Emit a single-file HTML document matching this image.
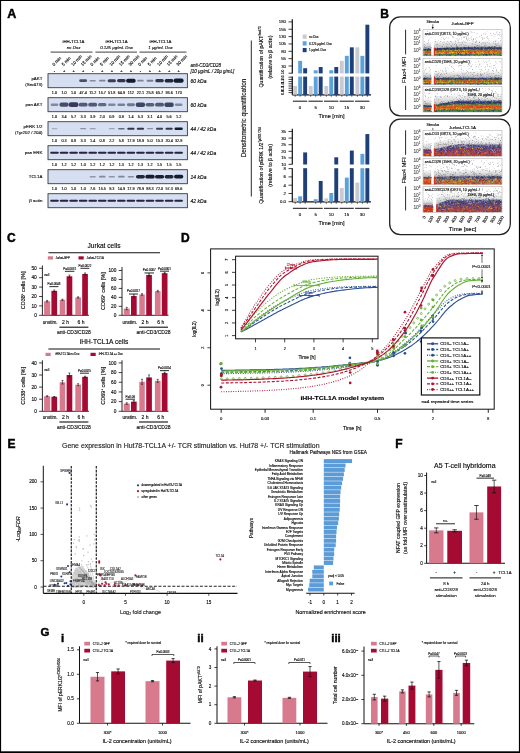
<!DOCTYPE html>
<html><head><meta charset="utf-8"><style>
html,body{margin:0;padding:0;background:#fff;}
body{width:520px;height:753px;overflow:hidden;}
svg{display:block;font-family:"Liberation Sans",sans-serif;will-change:transform;}
</style></head><body>
<svg width="520" height="753" viewBox="0 0 520 753">
<rect x="0" y="0" width="520" height="753" fill="#fff"/>
<filter id="bl" x="-20%" y="-50%" width="140%" height="200%"><feGaussianBlur stdDeviation="0.45"/></filter>
<text x="7.30" y="18.20" font-size="12.5" font-weight="bold" fill="#000" stroke="#000" stroke-width="0.45">A</text>
<text x="73.50" y="43.40" font-size="4.3" text-anchor="middle" stroke="#111" stroke-width="0.13">iHH-TCL1A</text>
<text x="73.50" y="49.20" font-size="4.3" text-anchor="middle" font-style="italic" stroke="#111" stroke-width="0.13">no Dox</text>
<line x1="50.60" y1="52.10" x2="92.50" y2="52.10" stroke="#666" stroke-width="1.2"/>
<text x="116.60" y="43.40" font-size="4.3" text-anchor="middle" stroke="#111" stroke-width="0.13">iHH-TCL1A</text>
<text x="116.60" y="49.20" font-size="4.3" text-anchor="middle" font-style="italic" stroke="#111" stroke-width="0.13">0.125 µg/mL Dox</text>
<line x1="95.40" y1="52.10" x2="136.90" y2="52.10" stroke="#666" stroke-width="1.2"/>
<text x="160.50" y="43.40" font-size="4.3" text-anchor="middle" stroke="#111" stroke-width="0.13">iHH-TCL1A</text>
<text x="160.50" y="49.20" font-size="4.3" text-anchor="middle" font-style="italic" stroke="#111" stroke-width="0.13">1 µg/mL Dox</text>
<line x1="139.50" y1="52.10" x2="186.50" y2="52.10" stroke="#666" stroke-width="1.2"/>
<text x="53.90" y="66.20" font-size="4.4" stroke="#111" stroke-width="0.13" transform="rotate(-45 53.9 66.2)">0 min</text>
<text x="54.50" y="72.00" font-size="4.0" text-anchor="middle" stroke="#111" stroke-width="0.13">-</text>
<text x="63.45" y="66.20" font-size="4.4" stroke="#111" stroke-width="0.13" transform="rotate(-45 63.449999999999996 66.2)">5 min</text>
<text x="64.05" y="72.00" font-size="4.0" text-anchor="middle" stroke="#111" stroke-width="0.13">+</text>
<text x="73.00" y="66.20" font-size="4.4" stroke="#111" stroke-width="0.13" transform="rotate(-45 73.0 66.2)">10 min</text>
<text x="73.60" y="72.00" font-size="4.0" text-anchor="middle" stroke="#111" stroke-width="0.13">+</text>
<text x="82.55" y="66.20" font-size="4.4" stroke="#111" stroke-width="0.13" transform="rotate(-45 82.55000000000001 66.2)">15 min</text>
<text x="83.15" y="72.00" font-size="4.0" text-anchor="middle" stroke="#111" stroke-width="0.13">+</text>
<text x="92.10" y="66.20" font-size="4.4" stroke="#111" stroke-width="0.13" transform="rotate(-45 92.10000000000001 66.2)">0 min</text>
<text x="92.70" y="72.00" font-size="4.0" text-anchor="middle" stroke="#111" stroke-width="0.13">-</text>
<text x="101.65" y="66.20" font-size="4.4" stroke="#111" stroke-width="0.13" transform="rotate(-45 101.65 66.2)">5 min</text>
<text x="102.25" y="72.00" font-size="4.0" text-anchor="middle" stroke="#111" stroke-width="0.13">+</text>
<text x="111.20" y="66.20" font-size="4.4" stroke="#111" stroke-width="0.13" transform="rotate(-45 111.20000000000002 66.2)">10 min</text>
<text x="111.80" y="72.00" font-size="4.0" text-anchor="middle" stroke="#111" stroke-width="0.13">+</text>
<text x="120.75" y="66.20" font-size="4.4" stroke="#111" stroke-width="0.13" transform="rotate(-45 120.75000000000001 66.2)">15 min</text>
<text x="121.35" y="72.00" font-size="4.0" text-anchor="middle" stroke="#111" stroke-width="0.13">+</text>
<text x="130.30" y="66.20" font-size="4.4" stroke="#111" stroke-width="0.13" transform="rotate(-45 130.3 66.2)">30 min</text>
<text x="130.90" y="72.00" font-size="4.0" text-anchor="middle" stroke="#111" stroke-width="0.13">+</text>
<text x="139.85" y="66.20" font-size="4.4" stroke="#111" stroke-width="0.13" transform="rotate(-45 139.85 66.2)">0 min</text>
<text x="140.45" y="72.00" font-size="4.0" text-anchor="middle" stroke="#111" stroke-width="0.13">-</text>
<text x="149.40" y="66.20" font-size="4.4" stroke="#111" stroke-width="0.13" transform="rotate(-45 149.4 66.2)">5 min</text>
<text x="150.00" y="72.00" font-size="4.0" text-anchor="middle" stroke="#111" stroke-width="0.13">+</text>
<text x="158.95" y="66.20" font-size="4.4" stroke="#111" stroke-width="0.13" transform="rotate(-45 158.95000000000002 66.2)">10 min</text>
<text x="159.55" y="72.00" font-size="4.0" text-anchor="middle" stroke="#111" stroke-width="0.13">+</text>
<text x="168.50" y="66.20" font-size="4.4" stroke="#111" stroke-width="0.13" transform="rotate(-45 168.50000000000003 66.2)">15 min</text>
<text x="169.10" y="72.00" font-size="4.0" text-anchor="middle" stroke="#111" stroke-width="0.13">+</text>
<text x="178.05" y="66.20" font-size="4.4" stroke="#111" stroke-width="0.13" transform="rotate(-45 178.05 66.2)">30 min</text>
<text x="178.65" y="72.00" font-size="4.0" text-anchor="middle" stroke="#111" stroke-width="0.13">+</text>
<text x="190.40" y="67.00" font-size="4.5" font-style="italic" stroke="#111" stroke-width="0.13">anti-CD3/CD28</text>
<text x="190.40" y="72.80" font-size="4.5" font-style="italic" stroke="#111" stroke-width="0.13">[10 µg/mL / 20µ g/mL]</text>
<rect x="48.00" y="73.70" width="139.40" height="14.00" fill="#d6def2" stroke="#3a3a3a" stroke-width="0.9"/>
<rect x="79.23" y="79.35" width="7.84" height="2.70" rx="1.35" fill="#161a2c" fill-opacity="0.72" filter="url(#bl)"/>
<rect x="89.55" y="79.88" width="6.30" height="1.65" rx="0.82" fill="#161a2c" fill-opacity="0.41" filter="url(#bl)"/>
<rect x="98.99" y="79.80" width="6.52" height="1.80" rx="0.90" fill="#161a2c" fill-opacity="0.45" filter="url(#bl)"/>
<rect x="107.66" y="79.20" width="8.28" height="3.00" rx="1.50" fill="#161a2c" fill-opacity="0.81" filter="url(#bl)"/>
<rect x="117.10" y="79.12" width="8.50" height="3.15" rx="1.57" fill="#161a2c" fill-opacity="0.85" filter="url(#bl)"/>
<rect x="126.10" y="78.75" width="9.60" height="3.90" rx="1.95" fill="#161a2c" fill-opacity="1.00" filter="url(#bl)"/>
<rect x="137.19" y="79.80" width="6.52" height="1.80" rx="0.90" fill="#161a2c" fill-opacity="0.45" filter="url(#bl)"/>
<rect x="146.63" y="79.73" width="6.74" height="1.95" rx="0.97" fill="#161a2c" fill-opacity="0.49" filter="url(#bl)"/>
<rect x="155.30" y="79.12" width="8.50" height="3.15" rx="1.57" fill="#161a2c" fill-opacity="0.85" filter="url(#bl)"/>
<rect x="164.63" y="78.98" width="8.94" height="3.45" rx="1.72" fill="#161a2c" fill-opacity="0.95" filter="url(#bl)"/>
<rect x="173.63" y="78.60" width="10.04" height="4.20" rx="2.10" fill="#161a2c" fill-opacity="1.00" filter="url(#bl)"/>
<text x="42.40" y="79.90" font-size="4.4" text-anchor="end" stroke="#111" stroke-width="0.13">pAKT</text>
<text x="42.40" y="85.60" font-size="4.4" text-anchor="end" stroke="#111" stroke-width="0.13">(Ser473)</text>
<text x="190.60" y="82.50" font-size="5.0" font-style="italic" stroke="#111" stroke-width="0.13">60 kDa</text>
<text x="54.50" y="93.90" font-size="3.8" text-anchor="middle" stroke="#111" stroke-width="0.13">1.0</text>
<text x="64.05" y="93.90" font-size="3.8" text-anchor="middle" stroke="#111" stroke-width="0.13">1.0</text>
<text x="73.60" y="93.90" font-size="3.8" text-anchor="middle" stroke="#111" stroke-width="0.13">1.0</text>
<text x="83.15" y="93.90" font-size="3.8" text-anchor="middle" stroke="#111" stroke-width="0.13">47.4</text>
<text x="92.70" y="93.90" font-size="3.8" text-anchor="middle" stroke="#111" stroke-width="0.13">11.2</text>
<text x="102.25" y="93.90" font-size="3.8" text-anchor="middle" stroke="#111" stroke-width="0.13">15.7</text>
<text x="111.80" y="93.90" font-size="3.8" text-anchor="middle" stroke="#111" stroke-width="0.13">51.8</text>
<text x="121.35" y="93.90" font-size="3.8" text-anchor="middle" stroke="#111" stroke-width="0.13">64.9</text>
<text x="130.90" y="93.90" font-size="3.8" text-anchor="middle" stroke="#111" stroke-width="0.13">112</text>
<text x="140.45" y="93.90" font-size="3.8" text-anchor="middle" stroke="#111" stroke-width="0.13">22.1</text>
<text x="150.00" y="93.90" font-size="3.8" text-anchor="middle" stroke="#111" stroke-width="0.13">25.8</text>
<text x="159.55" y="93.90" font-size="3.8" text-anchor="middle" stroke="#111" stroke-width="0.13">65.7</text>
<text x="169.10" y="93.90" font-size="3.8" text-anchor="middle" stroke="#111" stroke-width="0.13">93.6</text>
<text x="178.65" y="93.90" font-size="3.8" text-anchor="middle" stroke="#111" stroke-width="0.13">170</text>
<rect x="48.00" y="97.70" width="139.40" height="14.00" fill="#d6def2" stroke="#3a3a3a" stroke-width="0.9"/>
<rect x="50.73" y="103.51" width="7.55" height="2.38" rx="1.19" fill="#262c48" fill-opacity="0.49" filter="url(#bl)"/>
<rect x="59.40" y="102.61" width="9.30" height="4.18" rx="2.09" fill="#262c48" fill-opacity="0.82" filter="url(#bl)"/>
<rect x="68.69" y="102.34" width="9.82" height="4.72" rx="2.36" fill="#262c48" fill-opacity="0.92" filter="url(#bl)"/>
<rect x="78.68" y="102.79" width="8.95" height="3.82" rx="1.91" fill="#262c48" fill-opacity="0.75" filter="url(#bl)"/>
<rect x="88.23" y="102.79" width="8.95" height="3.82" rx="1.91" fill="#262c48" fill-opacity="0.75" filter="url(#bl)"/>
<rect x="98.04" y="103.06" width="8.43" height="3.28" rx="1.64" fill="#262c48" fill-opacity="0.66" filter="url(#bl)"/>
<rect x="108.03" y="103.51" width="7.55" height="2.38" rx="1.19" fill="#262c48" fill-opacity="0.49" filter="url(#bl)"/>
<rect x="117.49" y="103.42" width="7.72" height="2.56" rx="1.28" fill="#262c48" fill-opacity="0.53" filter="url(#bl)"/>
<rect x="126.86" y="103.24" width="8.07" height="2.92" rx="1.46" fill="#262c48" fill-opacity="0.59" filter="url(#bl)"/>
<rect x="135.71" y="102.52" width="9.47" height="4.36" rx="2.18" fill="#262c48" fill-opacity="0.85" filter="url(#bl)"/>
<rect x="145.61" y="102.88" width="8.78" height="3.64" rx="1.82" fill="#262c48" fill-opacity="0.72" filter="url(#bl)"/>
<rect x="155.08" y="102.79" width="8.95" height="3.82" rx="1.91" fill="#262c48" fill-opacity="0.75" filter="url(#bl)"/>
<rect x="164.36" y="102.52" width="9.47" height="4.36" rx="2.18" fill="#262c48" fill-opacity="0.85" filter="url(#bl)"/>
<rect x="174.88" y="103.51" width="7.55" height="2.38" rx="1.19" fill="#262c48" fill-opacity="0.49" filter="url(#bl)"/>
<text x="42.40" y="106.30" font-size="4.4" text-anchor="end" stroke="#111" stroke-width="0.13">pan AKT</text>
<text x="190.60" y="106.50" font-size="5.0" font-style="italic" stroke="#111" stroke-width="0.13">60 kDa</text>
<text x="54.50" y="117.90" font-size="3.8" text-anchor="middle" stroke="#111" stroke-width="0.13">1.0</text>
<text x="64.05" y="117.90" font-size="3.8" text-anchor="middle" stroke="#111" stroke-width="0.13">3.4</text>
<text x="73.60" y="117.90" font-size="3.8" text-anchor="middle" stroke="#111" stroke-width="0.13">5.7</text>
<text x="83.15" y="117.90" font-size="3.8" text-anchor="middle" stroke="#111" stroke-width="0.13">3.3</text>
<text x="92.70" y="117.90" font-size="3.8" text-anchor="middle" stroke="#111" stroke-width="0.13">3.9</text>
<text x="102.25" y="117.90" font-size="3.8" text-anchor="middle" stroke="#111" stroke-width="0.13">2.0</text>
<text x="111.80" y="117.90" font-size="3.8" text-anchor="middle" stroke="#111" stroke-width="0.13">0.9</text>
<text x="121.35" y="117.90" font-size="3.8" text-anchor="middle" stroke="#111" stroke-width="0.13">0.9</text>
<text x="130.90" y="117.90" font-size="3.8" text-anchor="middle" stroke="#111" stroke-width="0.13">1.4</text>
<text x="140.45" y="117.90" font-size="3.8" text-anchor="middle" stroke="#111" stroke-width="0.13">5.3</text>
<text x="150.00" y="117.90" font-size="3.8" text-anchor="middle" stroke="#111" stroke-width="0.13">3.1</text>
<text x="159.55" y="117.90" font-size="3.8" text-anchor="middle" stroke="#111" stroke-width="0.13">4.0</text>
<text x="169.10" y="117.90" font-size="3.8" text-anchor="middle" stroke="#111" stroke-width="0.13">5.6</text>
<text x="178.65" y="117.90" font-size="3.8" text-anchor="middle" stroke="#111" stroke-width="0.13">1.2</text>
<rect x="48.00" y="121.70" width="139.40" height="14.00" fill="#d6def2" stroke="#3a3a3a" stroke-width="0.9"/>
<rect x="51.65" y="128.14" width="5.71" height="1.12" rx="0.56" fill="#161a2c" fill-opacity="0.28" filter="url(#bl)"/>
<rect x="80.16" y="128.06" width="5.99" height="1.28" rx="0.64" fill="#161a2c" fill-opacity="0.38" filter="url(#bl)"/>
<rect x="89.78" y="128.10" width="5.85" height="1.20" rx="0.60" fill="#161a2c" fill-opacity="0.33" filter="url(#bl)"/>
<rect x="108.91" y="128.12" width="5.78" height="1.16" rx="0.58" fill="#161a2c" fill-opacity="0.30" filter="url(#bl)"/>
<rect x="118.08" y="127.90" width="6.55" height="1.60" rx="0.80" fill="#161a2c" fill-opacity="0.59" filter="url(#bl)"/>
<rect x="127.28" y="127.70" width="7.25" height="2.00" rx="1.00" fill="#161a2c" fill-opacity="0.85" filter="url(#bl)"/>
<rect x="136.82" y="127.70" width="7.25" height="2.00" rx="1.00" fill="#161a2c" fill-opacity="0.85" filter="url(#bl)"/>
<rect x="146.99" y="128.05" width="6.03" height="1.30" rx="0.65" fill="#161a2c" fill-opacity="0.40" filter="url(#bl)"/>
<rect x="156.01" y="127.75" width="7.08" height="1.90" rx="0.95" fill="#161a2c" fill-opacity="0.79" filter="url(#bl)"/>
<rect x="165.48" y="127.70" width="7.25" height="2.00" rx="1.00" fill="#161a2c" fill-opacity="0.85" filter="url(#bl)"/>
<rect x="174.50" y="127.40" width="8.30" height="2.60" rx="1.30" fill="#161a2c" fill-opacity="1.00" filter="url(#bl)"/>
<text x="42.40" y="127.90" font-size="4.4" text-anchor="end" stroke="#111" stroke-width="0.13">pERK 1/2</text>
<text x="42.40" y="133.60" font-size="4.4" text-anchor="end" stroke="#111" stroke-width="0.13">(Tyr202 / 204)</text>
<text x="190.60" y="130.50" font-size="5.0" font-style="italic" stroke="#111" stroke-width="0.13">44 / 42 kDa</text>
<text x="54.50" y="141.90" font-size="3.8" text-anchor="middle" stroke="#111" stroke-width="0.13">1.0</text>
<text x="64.05" y="141.90" font-size="3.8" text-anchor="middle" stroke="#111" stroke-width="0.13">0.3</text>
<text x="73.60" y="141.90" font-size="3.8" text-anchor="middle" stroke="#111" stroke-width="0.13">0.8</text>
<text x="83.15" y="141.90" font-size="3.8" text-anchor="middle" stroke="#111" stroke-width="0.13">3.3</text>
<text x="92.70" y="141.90" font-size="3.8" text-anchor="middle" stroke="#111" stroke-width="0.13">1.4</text>
<text x="102.25" y="141.90" font-size="3.8" text-anchor="middle" stroke="#111" stroke-width="0.13">0.8</text>
<text x="111.80" y="141.90" font-size="3.8" text-anchor="middle" stroke="#111" stroke-width="0.13">2.2</text>
<text x="121.35" y="141.90" font-size="3.8" text-anchor="middle" stroke="#111" stroke-width="0.13">5.8</text>
<text x="130.90" y="141.90" font-size="3.8" text-anchor="middle" stroke="#111" stroke-width="0.13">17.9</text>
<text x="140.45" y="141.90" font-size="3.8" text-anchor="middle" stroke="#111" stroke-width="0.13">18.9</text>
<text x="150.00" y="141.90" font-size="3.8" text-anchor="middle" stroke="#111" stroke-width="0.13">5.0</text>
<text x="159.55" y="141.90" font-size="3.8" text-anchor="middle" stroke="#111" stroke-width="0.13">15.3</text>
<text x="169.10" y="141.90" font-size="3.8" text-anchor="middle" stroke="#111" stroke-width="0.13">20.4</text>
<text x="178.65" y="141.90" font-size="3.8" text-anchor="middle" stroke="#111" stroke-width="0.13">32.9</text>
<rect x="48.00" y="145.70" width="139.40" height="14.00" fill="#d6def2" stroke="#3a3a3a" stroke-width="0.9"/>
<rect x="50.20" y="151.65" width="8.60" height="2.10" rx="1.05" fill="#14172a" fill-opacity="0.92" filter="url(#bl)"/>
<rect x="59.75" y="151.65" width="8.60" height="2.10" rx="1.05" fill="#14172a" fill-opacity="0.92" filter="url(#bl)"/>
<rect x="69.30" y="151.65" width="8.60" height="2.10" rx="1.05" fill="#14172a" fill-opacity="0.92" filter="url(#bl)"/>
<rect x="78.85" y="151.65" width="8.60" height="2.10" rx="1.05" fill="#14172a" fill-opacity="0.92" filter="url(#bl)"/>
<rect x="88.40" y="151.65" width="8.60" height="2.10" rx="1.05" fill="#14172a" fill-opacity="0.92" filter="url(#bl)"/>
<rect x="97.95" y="151.65" width="8.60" height="2.10" rx="1.05" fill="#14172a" fill-opacity="0.92" filter="url(#bl)"/>
<rect x="107.50" y="151.65" width="8.60" height="2.10" rx="1.05" fill="#14172a" fill-opacity="0.92" filter="url(#bl)"/>
<rect x="117.05" y="151.65" width="8.60" height="2.10" rx="1.05" fill="#14172a" fill-opacity="0.92" filter="url(#bl)"/>
<rect x="126.60" y="151.65" width="8.60" height="2.10" rx="1.05" fill="#14172a" fill-opacity="0.92" filter="url(#bl)"/>
<rect x="136.15" y="151.65" width="8.60" height="2.10" rx="1.05" fill="#14172a" fill-opacity="0.92" filter="url(#bl)"/>
<rect x="145.70" y="151.65" width="8.60" height="2.10" rx="1.05" fill="#14172a" fill-opacity="0.92" filter="url(#bl)"/>
<rect x="155.25" y="151.65" width="8.60" height="2.10" rx="1.05" fill="#14172a" fill-opacity="0.92" filter="url(#bl)"/>
<rect x="164.80" y="151.65" width="8.60" height="2.10" rx="1.05" fill="#14172a" fill-opacity="0.92" filter="url(#bl)"/>
<rect x="174.35" y="151.65" width="8.60" height="2.10" rx="1.05" fill="#14172a" fill-opacity="0.92" filter="url(#bl)"/>
<text x="42.40" y="154.30" font-size="4.4" text-anchor="end" stroke="#111" stroke-width="0.13">pan ERK</text>
<text x="190.60" y="154.50" font-size="5.0" font-style="italic" stroke="#111" stroke-width="0.13">44 / 42 kDa</text>
<text x="54.50" y="165.90" font-size="3.8" text-anchor="middle" stroke="#111" stroke-width="0.13">1.0</text>
<text x="64.05" y="165.90" font-size="3.8" text-anchor="middle" stroke="#111" stroke-width="0.13">1.2</text>
<text x="73.60" y="165.90" font-size="3.8" text-anchor="middle" stroke="#111" stroke-width="0.13">1.2</text>
<text x="83.15" y="165.90" font-size="3.8" text-anchor="middle" stroke="#111" stroke-width="0.13">1.0</text>
<text x="92.70" y="165.90" font-size="3.8" text-anchor="middle" stroke="#111" stroke-width="0.13">1.2</text>
<text x="102.25" y="165.90" font-size="3.8" text-anchor="middle" stroke="#111" stroke-width="0.13">1.2</text>
<text x="111.80" y="165.90" font-size="3.8" text-anchor="middle" stroke="#111" stroke-width="0.13">1.2</text>
<text x="121.35" y="165.90" font-size="3.8" text-anchor="middle" stroke="#111" stroke-width="0.13">1.3</text>
<text x="130.90" y="165.90" font-size="3.8" text-anchor="middle" stroke="#111" stroke-width="0.13">1.2</text>
<text x="140.45" y="165.90" font-size="3.8" text-anchor="middle" stroke="#111" stroke-width="0.13">1.3</text>
<text x="150.00" y="165.90" font-size="3.8" text-anchor="middle" stroke="#111" stroke-width="0.13">1.2</text>
<text x="159.55" y="165.90" font-size="3.8" text-anchor="middle" stroke="#111" stroke-width="0.13">1.5</text>
<text x="169.10" y="165.90" font-size="3.8" text-anchor="middle" stroke="#111" stroke-width="0.13">1.5</text>
<text x="178.65" y="165.90" font-size="3.8" text-anchor="middle" stroke="#111" stroke-width="0.13">1.5</text>
<rect x="48.00" y="169.70" width="139.40" height="14.00" fill="#d6def2" stroke="#3a3a3a" stroke-width="0.9"/>
<rect x="89.66" y="175.95" width="6.08" height="1.50" rx="0.75" fill="#161a2c" fill-opacity="0.36" filter="url(#bl)"/>
<rect x="99.03" y="175.83" width="6.43" height="1.74" rx="0.87" fill="#161a2c" fill-opacity="0.43" filter="url(#bl)"/>
<rect x="108.72" y="175.92" width="6.17" height="1.56" rx="0.78" fill="#161a2c" fill-opacity="0.38" filter="url(#bl)"/>
<rect x="118.09" y="175.80" width="6.52" height="1.80" rx="0.90" fill="#161a2c" fill-opacity="0.45" filter="url(#bl)"/>
<rect x="127.75" y="175.88" width="6.30" height="1.65" rx="0.82" fill="#161a2c" fill-opacity="0.41" filter="url(#bl)"/>
<rect x="135.98" y="174.97" width="8.94" height="3.45" rx="1.72" fill="#161a2c" fill-opacity="0.95" filter="url(#bl)"/>
<rect x="145.31" y="174.82" width="9.38" height="3.75" rx="1.87" fill="#161a2c" fill-opacity="1.00" filter="url(#bl)"/>
<rect x="154.97" y="174.90" width="9.16" height="3.60" rx="1.80" fill="#161a2c" fill-opacity="0.99" filter="url(#bl)"/>
<rect x="164.63" y="174.97" width="8.94" height="3.45" rx="1.72" fill="#161a2c" fill-opacity="0.95" filter="url(#bl)"/>
<rect x="174.03" y="174.87" width="9.25" height="3.66" rx="1.83" fill="#161a2c" fill-opacity="1.00" filter="url(#bl)"/>
<text x="42.40" y="178.30" font-size="4.4" text-anchor="end" stroke="#111" stroke-width="0.13">TCL1A</text>
<text x="190.60" y="178.50" font-size="5.0" font-style="italic" stroke="#111" stroke-width="0.13">14 kDa</text>
<text x="54.50" y="189.90" font-size="3.8" text-anchor="middle" stroke="#111" stroke-width="0.13">1.0</text>
<text x="64.05" y="189.90" font-size="3.8" text-anchor="middle" stroke="#111" stroke-width="0.13">1.0</text>
<text x="73.60" y="189.90" font-size="3.8" text-anchor="middle" stroke="#111" stroke-width="0.13">1.0</text>
<text x="83.15" y="189.90" font-size="3.8" text-anchor="middle" stroke="#111" stroke-width="0.13">1.0</text>
<text x="92.70" y="189.90" font-size="3.8" text-anchor="middle" stroke="#111" stroke-width="0.13">7.6</text>
<text x="102.25" y="189.90" font-size="3.8" text-anchor="middle" stroke="#111" stroke-width="0.13">15.5</text>
<text x="111.80" y="189.90" font-size="3.8" text-anchor="middle" stroke="#111" stroke-width="0.13">9.3</text>
<text x="121.35" y="189.90" font-size="3.8" text-anchor="middle" stroke="#111" stroke-width="0.13">14.9</text>
<text x="130.90" y="189.90" font-size="3.8" text-anchor="middle" stroke="#111" stroke-width="0.13">17.9</text>
<text x="140.45" y="189.90" font-size="3.8" text-anchor="middle" stroke="#111" stroke-width="0.13">78.9</text>
<text x="150.00" y="189.90" font-size="3.8" text-anchor="middle" stroke="#111" stroke-width="0.13">88.3</text>
<text x="159.55" y="189.90" font-size="3.8" text-anchor="middle" stroke="#111" stroke-width="0.13">72.0</text>
<text x="169.10" y="189.90" font-size="3.8" text-anchor="middle" stroke="#111" stroke-width="0.13">57.3</text>
<text x="178.65" y="189.90" font-size="3.8" text-anchor="middle" stroke="#111" stroke-width="0.13">69.6</text>
<rect x="48.00" y="193.70" width="139.40" height="14.00" fill="#d6def2" stroke="#3a3a3a" stroke-width="0.9"/>
<rect x="50.20" y="199.65" width="8.60" height="2.10" rx="1.05" fill="#14172a" fill-opacity="0.92" filter="url(#bl)"/>
<rect x="59.75" y="199.65" width="8.60" height="2.10" rx="1.05" fill="#14172a" fill-opacity="0.92" filter="url(#bl)"/>
<rect x="69.30" y="199.65" width="8.60" height="2.10" rx="1.05" fill="#14172a" fill-opacity="0.92" filter="url(#bl)"/>
<rect x="78.85" y="199.65" width="8.60" height="2.10" rx="1.05" fill="#14172a" fill-opacity="0.92" filter="url(#bl)"/>
<rect x="88.40" y="199.65" width="8.60" height="2.10" rx="1.05" fill="#14172a" fill-opacity="0.92" filter="url(#bl)"/>
<rect x="97.95" y="199.65" width="8.60" height="2.10" rx="1.05" fill="#14172a" fill-opacity="0.92" filter="url(#bl)"/>
<rect x="107.50" y="199.65" width="8.60" height="2.10" rx="1.05" fill="#14172a" fill-opacity="0.92" filter="url(#bl)"/>
<rect x="117.05" y="199.65" width="8.60" height="2.10" rx="1.05" fill="#14172a" fill-opacity="0.92" filter="url(#bl)"/>
<rect x="126.60" y="199.65" width="8.60" height="2.10" rx="1.05" fill="#14172a" fill-opacity="0.92" filter="url(#bl)"/>
<rect x="136.15" y="199.65" width="8.60" height="2.10" rx="1.05" fill="#14172a" fill-opacity="0.92" filter="url(#bl)"/>
<rect x="145.70" y="199.65" width="8.60" height="2.10" rx="1.05" fill="#14172a" fill-opacity="0.92" filter="url(#bl)"/>
<rect x="155.25" y="199.65" width="8.60" height="2.10" rx="1.05" fill="#14172a" fill-opacity="0.92" filter="url(#bl)"/>
<rect x="164.80" y="199.65" width="8.60" height="2.10" rx="1.05" fill="#14172a" fill-opacity="0.92" filter="url(#bl)"/>
<rect x="174.35" y="199.65" width="8.60" height="2.10" rx="1.05" fill="#14172a" fill-opacity="0.92" filter="url(#bl)"/>
<text x="42.40" y="202.30" font-size="4.4" text-anchor="end" stroke="#111" stroke-width="0.13">β actin</text>
<text x="190.60" y="202.50" font-size="5.0" font-style="italic" stroke="#111" stroke-width="0.13">42 kDa</text>
<line x1="251.30" y1="40.50" x2="251.30" y2="196.50" stroke="#111" stroke-width="0.9"/>
<text x="246.00" y="118.00" font-size="6.4" text-anchor="middle" stroke="#111" stroke-width="0.13" transform="rotate(-90 246.0 118.0)">Densitometric quantification</text>
<text x="284.20" y="92.40" font-size="3.4" text-anchor="middle" stroke="#111" stroke-width="0.13" transform="rotate(-90 284.2 92.4)">0.0</text>
<text x="284.20" y="88.60" font-size="3.4" text-anchor="middle" stroke="#111" stroke-width="0.13" transform="rotate(-90 284.2 88.6)">0.5</text>
<text x="284.20" y="84.80" font-size="3.4" text-anchor="middle" stroke="#111" stroke-width="0.13" transform="rotate(-90 284.2 84.8)">1.0</text>
<text x="284.20" y="81.00" font-size="3.4" text-anchor="middle" stroke="#111" stroke-width="0.13" transform="rotate(-90 284.2 81.0)">1.5</text>
<text x="284.20" y="77.80" font-size="3.4" text-anchor="middle" stroke="#111" stroke-width="0.13" transform="rotate(-90 284.2 77.8)">2.0</text>
<text x="284.20" y="72.00" font-size="3.4" text-anchor="middle" stroke="#111" stroke-width="0.13" transform="rotate(-90 284.2 72.0)">5.0</text>
<line x1="292.30" y1="19.20" x2="292.30" y2="73.40" stroke="#111" stroke-width="1.2"/>
<line x1="292.30" y1="76.60" x2="292.30" y2="94.80" stroke="#111" stroke-width="1.2"/>
<line x1="292.30" y1="94.80" x2="371.00" y2="94.80" stroke="#111" stroke-width="1.2"/>
<line x1="288.50" y1="21.90" x2="292.30" y2="21.90" stroke="#111" stroke-width="0.8"/>
<text x="286.00" y="23.40" font-size="4.3" text-anchor="end" stroke="#111" stroke-width="0.13">180</text>
<line x1="288.50" y1="29.25" x2="292.30" y2="29.25" stroke="#111" stroke-width="0.8"/>
<text x="286.00" y="30.75" font-size="4.3" text-anchor="end" stroke="#111" stroke-width="0.13">155</text>
<line x1="288.50" y1="36.60" x2="292.30" y2="36.60" stroke="#111" stroke-width="0.8"/>
<text x="286.00" y="38.10" font-size="4.3" text-anchor="end" stroke="#111" stroke-width="0.13">130</text>
<line x1="288.50" y1="43.95" x2="292.30" y2="43.95" stroke="#111" stroke-width="0.8"/>
<text x="286.00" y="45.45" font-size="4.3" text-anchor="end" stroke="#111" stroke-width="0.13">105</text>
<line x1="288.50" y1="51.30" x2="292.30" y2="51.30" stroke="#111" stroke-width="0.8"/>
<text x="286.00" y="52.80" font-size="4.3" text-anchor="end" stroke="#111" stroke-width="0.13">80</text>
<line x1="288.50" y1="58.65" x2="292.30" y2="58.65" stroke="#111" stroke-width="0.8"/>
<text x="286.00" y="60.15" font-size="4.3" text-anchor="end" stroke="#111" stroke-width="0.13">55</text>
<line x1="288.50" y1="66.00" x2="292.30" y2="66.00" stroke="#111" stroke-width="0.8"/>
<text x="286.00" y="67.50" font-size="4.3" text-anchor="end" stroke="#111" stroke-width="0.13">30</text>
<line x1="288.50" y1="73.20" x2="292.30" y2="73.20" stroke="#111" stroke-width="0.8"/>
<text x="286.00" y="74.70" font-size="4.3" text-anchor="end" stroke="#111" stroke-width="0.13"></text>
<line x1="288.50" y1="77.20" x2="292.30" y2="77.20" stroke="#111" stroke-width="0.8"/>
<text x="286.00" y="78.70" font-size="4.3" text-anchor="end" stroke="#111" stroke-width="0.13"></text>
<line x1="288.50" y1="79.40" x2="292.30" y2="79.40" stroke="#111" stroke-width="0.8"/>
<text x="286.00" y="80.90" font-size="4.3" text-anchor="end" stroke="#111" stroke-width="0.13"></text>
<line x1="288.50" y1="81.60" x2="292.30" y2="81.60" stroke="#111" stroke-width="0.8"/>
<text x="286.00" y="83.10" font-size="4.3" text-anchor="end" stroke="#111" stroke-width="0.13"></text>
<line x1="288.50" y1="83.80" x2="292.30" y2="83.80" stroke="#111" stroke-width="0.8"/>
<text x="286.00" y="85.30" font-size="4.3" text-anchor="end" stroke="#111" stroke-width="0.13"></text>
<line x1="288.50" y1="86.00" x2="292.30" y2="86.00" stroke="#111" stroke-width="0.8"/>
<text x="286.00" y="87.50" font-size="4.3" text-anchor="end" stroke="#111" stroke-width="0.13"></text>
<line x1="288.50" y1="88.20" x2="292.30" y2="88.20" stroke="#111" stroke-width="0.8"/>
<text x="286.00" y="89.70" font-size="4.3" text-anchor="end" stroke="#111" stroke-width="0.13"></text>
<line x1="288.50" y1="90.40" x2="292.30" y2="90.40" stroke="#111" stroke-width="0.8"/>
<text x="286.00" y="91.90" font-size="4.3" text-anchor="end" stroke="#111" stroke-width="0.13"></text>
<line x1="288.50" y1="92.60" x2="292.30" y2="92.60" stroke="#111" stroke-width="0.8"/>
<text x="286.00" y="94.10" font-size="4.3" text-anchor="end" stroke="#111" stroke-width="0.13"></text>
<rect x="293.20" y="86.00" width="3.90" height="8.80" fill="#c9c9cf"/>
<line x1="295.15" y1="94.80" x2="295.15" y2="96.80" stroke="#111" stroke-width="0.6"/>
<rect x="298.20" y="76.60" width="3.90" height="18.20" fill="#5aa2dc"/>
<rect x="298.20" y="60.85" width="3.90" height="12.55" fill="#5aa2dc"/>
<line x1="300.15" y1="94.80" x2="300.15" y2="96.80" stroke="#111" stroke-width="0.6"/>
<rect x="303.20" y="76.60" width="3.90" height="18.20" fill="#1f3f78"/>
<rect x="303.20" y="68.20" width="3.90" height="5.20" fill="#1f3f78"/>
<line x1="305.15" y1="94.80" x2="305.15" y2="96.80" stroke="#111" stroke-width="0.6"/>
<rect x="308.75" y="86.00" width="3.90" height="8.80" fill="#c9c9cf"/>
<line x1="310.70" y1="94.80" x2="310.70" y2="96.80" stroke="#111" stroke-width="0.6"/>
<rect x="313.75" y="76.60" width="3.90" height="18.20" fill="#5aa2dc"/>
<rect x="313.75" y="70.26" width="3.90" height="3.14" fill="#5aa2dc"/>
<line x1="315.70" y1="94.80" x2="315.70" y2="96.80" stroke="#111" stroke-width="0.6"/>
<rect x="318.75" y="76.60" width="3.90" height="18.20" fill="#1f3f78"/>
<rect x="318.75" y="67.03" width="3.90" height="6.37" fill="#1f3f78"/>
<line x1="320.70" y1="94.80" x2="320.70" y2="96.80" stroke="#111" stroke-width="0.6"/>
<rect x="324.30" y="86.00" width="3.90" height="8.80" fill="#c9c9cf"/>
<line x1="326.25" y1="94.80" x2="326.25" y2="96.80" stroke="#111" stroke-width="0.6"/>
<rect x="329.30" y="76.60" width="3.90" height="18.20" fill="#5aa2dc"/>
<rect x="329.30" y="70.26" width="3.90" height="3.14" fill="#5aa2dc"/>
<line x1="331.25" y1="94.80" x2="331.25" y2="96.80" stroke="#111" stroke-width="0.6"/>
<rect x="334.30" y="76.60" width="3.90" height="18.20" fill="#1f3f78"/>
<rect x="334.30" y="67.03" width="3.90" height="6.37" fill="#1f3f78"/>
<line x1="336.25" y1="94.80" x2="336.25" y2="96.80" stroke="#111" stroke-width="0.6"/>
<rect x="339.85" y="76.60" width="3.90" height="18.20" fill="#c9c9cf"/>
<rect x="339.85" y="60.85" width="3.90" height="12.55" fill="#c9c9cf"/>
<line x1="341.80" y1="94.80" x2="341.80" y2="96.80" stroke="#111" stroke-width="0.6"/>
<rect x="344.85" y="76.60" width="3.90" height="18.20" fill="#5aa2dc"/>
<rect x="344.85" y="55.85" width="3.90" height="17.55" fill="#5aa2dc"/>
<line x1="346.80" y1="94.80" x2="346.80" y2="96.80" stroke="#111" stroke-width="0.6"/>
<rect x="349.85" y="76.60" width="3.90" height="18.20" fill="#1f3f78"/>
<rect x="349.85" y="47.33" width="3.90" height="26.07" fill="#1f3f78"/>
<line x1="351.80" y1="94.80" x2="351.80" y2="96.80" stroke="#111" stroke-width="0.6"/>
<rect x="355.40" y="76.60" width="3.90" height="18.20" fill="#c9c9cf"/>
<rect x="355.40" y="47.33" width="3.90" height="26.07" fill="#c9c9cf"/>
<line x1="357.35" y1="94.80" x2="357.35" y2="96.80" stroke="#111" stroke-width="0.6"/>
<rect x="360.40" y="76.60" width="3.90" height="18.20" fill="#5aa2dc"/>
<rect x="360.40" y="55.85" width="3.90" height="17.55" fill="#5aa2dc"/>
<line x1="362.35" y1="94.80" x2="362.35" y2="96.80" stroke="#111" stroke-width="0.6"/>
<rect x="365.40" y="76.60" width="3.90" height="18.20" fill="#1f3f78"/>
<rect x="365.40" y="24.69" width="3.90" height="48.71" fill="#1f3f78"/>
<line x1="367.35" y1="94.80" x2="367.35" y2="96.80" stroke="#111" stroke-width="0.6"/>
<line x1="292.90" y1="101.20" x2="307.20" y2="101.20" stroke="#111" stroke-width="1.0"/>
<text x="300.10" y="108.60" font-size="4.4" text-anchor="middle" stroke="#111" stroke-width="0.13">0</text>
<line x1="308.45" y1="101.20" x2="322.75" y2="101.20" stroke="#111" stroke-width="1.0"/>
<text x="315.65" y="108.60" font-size="4.4" text-anchor="middle" stroke="#111" stroke-width="0.13">5</text>
<line x1="324.00" y1="101.20" x2="338.30" y2="101.20" stroke="#111" stroke-width="1.0"/>
<text x="331.20" y="108.60" font-size="4.4" text-anchor="middle" stroke="#111" stroke-width="0.13">10</text>
<line x1="339.55" y1="101.20" x2="353.85" y2="101.20" stroke="#111" stroke-width="1.0"/>
<text x="346.75" y="108.60" font-size="4.4" text-anchor="middle" stroke="#111" stroke-width="0.13">15</text>
<line x1="355.10" y1="101.20" x2="369.40" y2="101.20" stroke="#111" stroke-width="1.0"/>
<text x="362.30" y="108.60" font-size="4.4" text-anchor="middle" stroke="#111" stroke-width="0.13">30</text>
<text x="331.50" y="117.60" font-size="5.6" text-anchor="middle" stroke="#111" stroke-width="0.13">Time [min]</text>
<text x="263.30" y="57.00" font-size="5.2" text-anchor="middle" stroke="#111" stroke-width="0.13" transform="rotate(-90 263.3 57.0)">Quantification of pAKT<tspan font-size="2.8" dy="-2.3">Ser473</tspan></text>
<text x="271.80" y="57.00" font-size="5.2" text-anchor="middle" stroke="#111" stroke-width="0.13" transform="rotate(-90 271.8 57.0)">(relative to β actin)</text>
<rect x="302.70" y="34.60" width="3.90" height="4.20" fill="#c9c9cf"/>
<text x="309.00" y="37.80" font-size="3.0" stroke="#111" stroke-width="0.13">no Dox</text>
<rect x="302.70" y="41.30" width="3.90" height="4.20" fill="#5aa2dc"/>
<text x="309.00" y="44.50" font-size="3.0" stroke="#111" stroke-width="0.13">0.125 µg/mL Dox</text>
<rect x="302.70" y="48.00" width="3.90" height="4.20" fill="#1f3f78"/>
<text x="309.00" y="51.20" font-size="3.0" stroke="#111" stroke-width="0.13">1 µg/mL Dox</text>
<line x1="292.30" y1="128.70" x2="292.30" y2="164.50" stroke="#111" stroke-width="1.2"/>
<line x1="292.30" y1="168.20" x2="292.30" y2="201.90" stroke="#111" stroke-width="1.2"/>
<line x1="292.30" y1="201.90" x2="371.00" y2="201.90" stroke="#111" stroke-width="1.2"/>
<line x1="288.50" y1="131.50" x2="292.30" y2="131.50" stroke="#111" stroke-width="0.8"/>
<text x="286.00" y="133.00" font-size="4.3" text-anchor="end" stroke="#111" stroke-width="0.13">35</text>
<line x1="288.50" y1="138.10" x2="292.30" y2="138.10" stroke="#111" stroke-width="0.8"/>
<text x="286.00" y="139.60" font-size="4.3" text-anchor="end" stroke="#111" stroke-width="0.13">30</text>
<line x1="288.50" y1="144.70" x2="292.30" y2="144.70" stroke="#111" stroke-width="0.8"/>
<text x="286.00" y="146.20" font-size="4.3" text-anchor="end" stroke="#111" stroke-width="0.13">25</text>
<line x1="288.50" y1="151.30" x2="292.30" y2="151.30" stroke="#111" stroke-width="0.8"/>
<text x="286.00" y="152.80" font-size="4.3" text-anchor="end" stroke="#111" stroke-width="0.13">20</text>
<line x1="288.50" y1="157.90" x2="292.30" y2="157.90" stroke="#111" stroke-width="0.8"/>
<text x="286.00" y="159.40" font-size="4.3" text-anchor="end" stroke="#111" stroke-width="0.13">15</text>
<line x1="288.50" y1="164.30" x2="292.30" y2="164.30" stroke="#111" stroke-width="0.8"/>
<text x="286.00" y="165.80" font-size="4.3" text-anchor="end" stroke="#111" stroke-width="0.13">10</text>
<line x1="288.50" y1="168.60" x2="292.30" y2="168.60" stroke="#111" stroke-width="0.8"/>
<text x="286.00" y="170.10" font-size="4.3" text-anchor="end" stroke="#111" stroke-width="0.13">8</text>
<line x1="288.50" y1="176.90" x2="292.30" y2="176.90" stroke="#111" stroke-width="0.8"/>
<text x="286.00" y="178.40" font-size="4.3" text-anchor="end" stroke="#111" stroke-width="0.13">6</text>
<line x1="288.50" y1="185.20" x2="292.30" y2="185.20" stroke="#111" stroke-width="0.8"/>
<text x="286.00" y="186.70" font-size="4.3" text-anchor="end" stroke="#111" stroke-width="0.13">4</text>
<line x1="288.50" y1="193.50" x2="292.30" y2="193.50" stroke="#111" stroke-width="0.8"/>
<text x="286.00" y="195.00" font-size="4.3" text-anchor="end" stroke="#111" stroke-width="0.13">2</text>
<line x1="288.50" y1="201.70" x2="292.30" y2="201.70" stroke="#111" stroke-width="0.8"/>
<text x="286.00" y="203.20" font-size="4.3" text-anchor="end" stroke="#111" stroke-width="0.13">0.0</text>
<rect x="293.20" y="197.96" width="3.90" height="3.94" fill="#c9c9cf"/>
<line x1="295.15" y1="201.90" x2="295.15" y2="203.90" stroke="#111" stroke-width="0.6"/>
<rect x="298.20" y="196.30" width="3.90" height="5.60" fill="#5aa2dc"/>
<line x1="300.15" y1="201.90" x2="300.15" y2="203.90" stroke="#111" stroke-width="0.6"/>
<rect x="303.20" y="168.20" width="3.90" height="33.70" fill="#1f3f78"/>
<rect x="303.20" y="152.42" width="3.90" height="12.08" fill="#1f3f78"/>
<line x1="305.15" y1="201.90" x2="305.15" y2="203.90" stroke="#111" stroke-width="0.6"/>
<rect x="313.75" y="199.21" width="3.90" height="2.69" fill="#5aa2dc"/>
<line x1="315.70" y1="201.90" x2="315.70" y2="203.90" stroke="#111" stroke-width="0.6"/>
<rect x="318.75" y="180.95" width="3.90" height="20.95" fill="#1f3f78"/>
<line x1="320.70" y1="201.90" x2="320.70" y2="203.90" stroke="#111" stroke-width="0.6"/>
<rect x="324.30" y="198.38" width="3.90" height="3.52" fill="#c9c9cf"/>
<line x1="326.25" y1="201.90" x2="326.25" y2="203.90" stroke="#111" stroke-width="0.6"/>
<rect x="329.30" y="192.98" width="3.90" height="8.92" fill="#5aa2dc"/>
<line x1="331.25" y1="201.90" x2="331.25" y2="203.90" stroke="#111" stroke-width="0.6"/>
<rect x="334.30" y="168.20" width="3.90" height="33.70" fill="#1f3f78"/>
<rect x="334.30" y="157.30" width="3.90" height="7.20" fill="#1f3f78"/>
<line x1="336.25" y1="201.90" x2="336.25" y2="203.90" stroke="#111" stroke-width="0.6"/>
<rect x="339.85" y="188.00" width="3.90" height="13.90" fill="#c9c9cf"/>
<line x1="341.80" y1="201.90" x2="341.80" y2="203.90" stroke="#111" stroke-width="0.6"/>
<rect x="344.85" y="177.63" width="3.90" height="24.27" fill="#5aa2dc"/>
<line x1="346.80" y1="201.90" x2="346.80" y2="203.90" stroke="#111" stroke-width="0.6"/>
<rect x="349.85" y="168.20" width="3.90" height="33.70" fill="#1f3f78"/>
<rect x="349.85" y="150.57" width="3.90" height="13.93" fill="#1f3f78"/>
<line x1="351.80" y1="201.90" x2="351.80" y2="203.90" stroke="#111" stroke-width="0.6"/>
<rect x="355.40" y="182.61" width="3.90" height="19.29" fill="#c9c9cf"/>
<line x1="357.35" y1="201.90" x2="357.35" y2="203.90" stroke="#111" stroke-width="0.6"/>
<rect x="360.40" y="168.20" width="3.90" height="33.70" fill="#5aa2dc"/>
<rect x="360.40" y="153.87" width="3.90" height="10.63" fill="#5aa2dc"/>
<line x1="362.35" y1="201.90" x2="362.35" y2="203.90" stroke="#111" stroke-width="0.6"/>
<rect x="365.40" y="168.20" width="3.90" height="33.70" fill="#1f3f78"/>
<rect x="365.40" y="134.07" width="3.90" height="30.43" fill="#1f3f78"/>
<line x1="367.35" y1="201.90" x2="367.35" y2="203.90" stroke="#111" stroke-width="0.6"/>
<line x1="292.90" y1="208.30" x2="307.20" y2="208.30" stroke="#111" stroke-width="1.0"/>
<text x="300.10" y="215.70" font-size="4.4" text-anchor="middle" stroke="#111" stroke-width="0.13">0</text>
<line x1="308.45" y1="208.30" x2="322.75" y2="208.30" stroke="#111" stroke-width="1.0"/>
<text x="315.65" y="215.70" font-size="4.4" text-anchor="middle" stroke="#111" stroke-width="0.13">5</text>
<line x1="324.00" y1="208.30" x2="338.30" y2="208.30" stroke="#111" stroke-width="1.0"/>
<text x="331.20" y="215.70" font-size="4.4" text-anchor="middle" stroke="#111" stroke-width="0.13">10</text>
<line x1="339.55" y1="208.30" x2="353.85" y2="208.30" stroke="#111" stroke-width="1.0"/>
<text x="346.75" y="215.70" font-size="4.4" text-anchor="middle" stroke="#111" stroke-width="0.13">15</text>
<line x1="355.10" y1="208.30" x2="369.40" y2="208.30" stroke="#111" stroke-width="1.0"/>
<text x="362.30" y="215.70" font-size="4.4" text-anchor="middle" stroke="#111" stroke-width="0.13">30</text>
<text x="331.50" y="224.70" font-size="5.6" text-anchor="middle" stroke="#111" stroke-width="0.13">Time [min]</text>
<text x="263.30" y="165.30" font-size="5.2" text-anchor="middle" stroke="#111" stroke-width="0.13" transform="rotate(-90 263.3 165.3)">Quantification of pERK 1/2<tspan font-size="2.8" dy="-2.3">Tyr202 / 204</tspan></text>
<text x="271.80" y="165.30" font-size="5.2" text-anchor="middle" stroke="#111" stroke-width="0.13" transform="rotate(-90 271.8 165.3)">(relative to β actin)</text>
<text x="380.30" y="17.80" font-size="12.0" font-weight="bold" fill="#000" stroke="#000" stroke-width="0.45">B</text>
<rect x="389.7" y="16.90" width="120.6" height="98.95" rx="10.5" ry="10.5" fill="#fff" stroke="#222" stroke-width="1.3"/>
<text x="432.80" y="22.80" font-size="3.3" text-anchor="middle" stroke="#111" stroke-width="0.13">Stimulus</text>
<text x="462.50" y="25.20" font-size="4.4" text-anchor="middle" stroke="#111" stroke-width="0.13">Jurkat-GFP</text>
<line x1="432.80" y1="24.30" x2="432.80" y2="27.80" stroke="#111" stroke-width="0.6"/>
<path d="M431.7 27.00 L432.8 29.20 L433.9 27.00Z" fill="#111"/>
<text x="406.40" y="69.85" font-size="5.8" text-anchor="middle" stroke="#111" stroke-width="0.13" transform="rotate(-90 406.4 69.85)">Fluo4 MFI</text>
<line x1="405.60" y1="29.70" x2="405.60" y2="54.35" stroke="#111" stroke-width="0.9"/>
<line x1="405.60" y1="85.85" x2="405.60" y2="110.00" stroke="#111" stroke-width="0.9"/>
<rect x="423.00" y="29.70" width="79.00" height="26.10" fill="#fff" stroke="#b0b0b0" stroke-width="0.6"/>
<linearGradient id="h101" x1="0" y1="0" x2="0" y2="1"><stop offset="0" stop-color="#888" stop-opacity="0"/><stop offset="1" stop-color="#666" stop-opacity="0.45"/></linearGradient>
<polygon points="433.9,41.2 435.6,41.2 437.3,41.1 439.0,41.0 440.7,41.0 442.4,40.9 444.1,40.8 445.8,40.8 447.5,40.7 449.2,40.6 450.8,40.6 452.5,40.5 454.2,40.4 455.9,40.4 457.6,40.3 459.3,40.2 461.0,40.2 462.7,40.1 464.4,40.0 466.1,40.0 467.8,39.9 469.5,39.8 471.2,39.8 472.9,39.8 474.6,39.8 476.3,39.8 478.0,39.8 479.7,39.8 481.4,39.8 483.1,39.8 484.8,39.8 486.4,39.8 488.1,39.8 489.8,39.8 491.5,39.8 493.2,39.8 494.9,39.8 496.6,39.8 498.3,39.8 500.0,39.8 501.7,39.8 501.7,46.8 500.0,46.8 498.3,46.8 496.6,46.8 494.9,46.8 493.2,46.8 491.5,46.8 489.8,46.8 488.1,46.8 486.4,46.8 484.8,46.8 483.1,46.8 481.4,46.8 479.7,46.8 478.0,46.8 476.3,46.8 474.6,46.8 472.9,46.8 471.2,46.8 469.5,46.8 467.8,46.9 466.1,47.0 464.4,47.0 462.7,47.1 461.0,47.2 459.3,47.2 457.6,47.3 455.9,47.4 454.2,47.4 452.5,47.5 450.8,47.6 449.2,47.6 447.5,47.7 445.8,47.8 444.1,47.8 442.4,47.9 440.7,48.0 439.0,48.0 437.3,48.1 435.6,48.2 433.9,48.2" fill="url(#h101)"/>
<rect x="423.3" y="41.3" width="7.9" height="7.0" fill="url(#h101)"/>
<path d="M476.7 46.8h0.5v0.5h-0.5zM497.1 34.8h0.5v0.5h-0.5zM499.4 32.2h0.5v0.5h-0.5zM477.1 44.9h0.5v0.5h-0.5zM428.7 47.9h0.5v0.5h-0.5zM434.8 48.0h0.5v0.5h-0.5zM439.3 32.1h0.5v0.5h-0.5zM481.1 43.8h0.5v0.5h-0.5zM444.4 39.4h0.5v0.5h-0.5zM497.8 43.1h0.5v0.5h-0.5zM485.6 45.0h0.5v0.5h-0.5zM494.1 46.6h0.5v0.5h-0.5zM482.2 39.2h0.5v0.5h-0.5zM445.9 43.1h0.5v0.5h-0.5zM471.5 31.8h0.5v0.5h-0.5zM474.9 44.6h0.5v0.5h-0.5zM461.5 44.7h0.5v0.5h-0.5zM427.1 43.5h0.5v0.5h-0.5zM482.9 33.8h0.5v0.5h-0.5zM452.7 36.1h0.5v0.5h-0.5zM466.5 38.5h0.5v0.5h-0.5zM479.0 46.8h0.5v0.5h-0.5zM484.4 46.3h0.5v0.5h-0.5zM447.6 44.5h0.5v0.5h-0.5zM456.2 44.3h0.5v0.5h-0.5zM477.6 44.9h0.5v0.5h-0.5zM449.0 47.6h0.5v0.5h-0.5zM482.7 37.3h0.5v0.5h-0.5zM499.3 34.8h0.5v0.5h-0.5zM424.9 47.5h0.5v0.5h-0.5zM454.5 44.0h0.5v0.5h-0.5zM466.1 37.6h0.5v0.5h-0.5zM481.3 35.4h0.5v0.5h-0.5zM450.7 41.5h0.5v0.5h-0.5zM475.0 38.7h0.5v0.5h-0.5zM471.2 36.7h0.5v0.5h-0.5zM449.5 43.8h0.5v0.5h-0.5zM462.0 42.2h0.5v0.5h-0.5zM429.3 48.3h0.5v0.5h-0.5zM472.9 40.7h0.5v0.5h-0.5zM457.5 46.1h0.5v0.5h-0.5zM456.6 38.5h0.5v0.5h-0.5zM443.1 38.1h0.5v0.5h-0.5zM495.5 44.0h0.5v0.5h-0.5zM479.2 41.7h0.5v0.5h-0.5zM455.4 43.5h0.5v0.5h-0.5zM463.1 36.7h0.5v0.5h-0.5zM495.0 41.3h0.5v0.5h-0.5zM479.2 42.4h0.5v0.5h-0.5zM495.6 46.6h0.5v0.5h-0.5zM448.8 47.0h0.5v0.5h-0.5zM434.9 41.3h0.5v0.5h-0.5zM456.1 46.5h0.5v0.5h-0.5zM472.5 43.7h0.5v0.5h-0.5zM451.0 45.4h0.5v0.5h-0.5zM457.1 39.7h0.5v0.5h-0.5zM494.8 34.0h0.5v0.5h-0.5zM480.5 46.8h0.5v0.5h-0.5zM487.3 37.8h0.5v0.5h-0.5zM441.2 32.0h0.5v0.5h-0.5zM437.5 47.1h0.5v0.5h-0.5zM484.9 42.8h0.5v0.5h-0.5zM445.9 45.7h0.5v0.5h-0.5z" fill="#222"/>
<path d="M499.1 46.7h0.5v0.5h-0.5zM437.6 48.0h0.5v0.5h-0.5zM493.2 41.7h0.5v0.5h-0.5zM486.5 37.0h0.5v0.5h-0.5zM476.9 33.5h0.5v0.5h-0.5zM442.5 46.6h0.5v0.5h-0.5zM442.1 46.7h0.5v0.5h-0.5zM463.4 40.8h0.5v0.5h-0.5zM431.0 47.4h0.5v0.5h-0.5zM484.4 38.3h0.5v0.5h-0.5zM458.4 47.3h0.5v0.5h-0.5zM493.4 43.4h0.5v0.5h-0.5zM482.5 37.9h0.5v0.5h-0.5zM458.8 45.8h0.5v0.5h-0.5zM427.9 48.3h0.5v0.5h-0.5zM444.5 32.2h0.5v0.5h-0.5zM472.2 40.7h0.5v0.5h-0.5zM451.9 43.8h0.5v0.5h-0.5zM486.9 36.0h0.5v0.5h-0.5zM482.8 42.0h0.5v0.5h-0.5zM424.5 47.2h0.5v0.5h-0.5zM464.7 41.7h0.5v0.5h-0.5zM438.5 48.0h0.5v0.5h-0.5zM487.8 46.6h0.5v0.5h-0.5zM461.0 32.1h0.5v0.5h-0.5zM426.4 47.1h0.5v0.5h-0.5zM499.4 46.4h0.5v0.5h-0.5zM464.6 36.3h0.5v0.5h-0.5zM491.7 46.8h0.5v0.5h-0.5zM471.3 39.4h0.5v0.5h-0.5zM436.9 44.0h0.5v0.5h-0.5zM440.9 37.3h0.5v0.5h-0.5zM489.1 46.2h0.5v0.5h-0.5zM475.8 42.6h0.5v0.5h-0.5zM452.4 36.4h0.5v0.5h-0.5zM456.1 47.0h0.5v0.5h-0.5zM449.6 31.8h0.5v0.5h-0.5zM488.4 38.7h0.5v0.5h-0.5zM492.2 46.1h0.5v0.5h-0.5zM461.1 38.7h0.5v0.5h-0.5zM435.1 41.0h0.5v0.5h-0.5zM466.3 39.0h0.5v0.5h-0.5zM458.6 33.0h0.5v0.5h-0.5zM479.1 46.5h0.5v0.5h-0.5zM427.2 47.5h0.5v0.5h-0.5zM484.0 45.1h0.5v0.5h-0.5zM466.1 36.5h0.5v0.5h-0.5zM451.1 46.5h0.5v0.5h-0.5zM495.9 32.8h0.5v0.5h-0.5zM443.0 33.6h0.5v0.5h-0.5zM459.4 38.7h0.5v0.5h-0.5zM437.6 43.9h0.5v0.5h-0.5zM495.9 44.2h0.5v0.5h-0.5zM472.8 39.4h0.5v0.5h-0.5zM467.6 39.6h0.5v0.5h-0.5zM494.4 46.0h0.5v0.5h-0.5zM481.3 46.0h0.5v0.5h-0.5zM429.2 46.1h0.5v0.5h-0.5zM488.7 43.2h0.5v0.5h-0.5zM472.0 46.8h0.5v0.5h-0.5zM500.9 46.3h0.5v0.5h-0.5zM469.8 38.3h0.5v0.5h-0.5zM462.5 43.5h0.5v0.5h-0.5zM474.7 46.4h0.5v0.5h-0.5zM451.6 42.0h0.5v0.5h-0.5zM473.9 32.0h0.5v0.5h-0.5z" fill="#555"/>
<path d="M440.2 47.2h0.5v0.5h-0.5zM461.3 37.4h0.5v0.5h-0.5zM452.0 43.9h0.5v0.5h-0.5zM439.7 44.9h0.5v0.5h-0.5zM476.4 39.9h0.5v0.5h-0.5zM430.9 37.5h0.5v0.5h-0.5zM455.0 31.5h0.5v0.5h-0.5zM462.3 34.9h0.5v0.5h-0.5zM498.0 34.6h0.5v0.5h-0.5zM438.5 40.3h0.5v0.5h-0.5zM430.6 33.3h0.5v0.5h-0.5zM499.8 34.1h0.5v0.5h-0.5zM459.2 42.0h0.5v0.5h-0.5zM466.5 42.4h0.5v0.5h-0.5zM424.9 48.0h0.5v0.5h-0.5zM458.3 40.2h0.5v0.5h-0.5zM466.0 45.4h0.5v0.5h-0.5zM442.6 42.3h0.5v0.5h-0.5zM474.5 44.6h0.5v0.5h-0.5zM457.7 33.5h0.5v0.5h-0.5zM449.1 47.6h0.5v0.5h-0.5zM489.8 44.5h0.5v0.5h-0.5zM428.3 40.5h0.5v0.5h-0.5zM464.7 42.0h0.5v0.5h-0.5zM460.9 47.1h0.5v0.5h-0.5zM486.2 46.7h0.5v0.5h-0.5zM437.4 48.1h0.5v0.5h-0.5zM442.6 35.5h0.5v0.5h-0.5zM434.9 33.6h0.5v0.5h-0.5zM448.3 42.3h0.5v0.5h-0.5zM428.2 39.7h0.5v0.5h-0.5zM484.9 42.0h0.5v0.5h-0.5zM461.2 46.8h0.5v0.5h-0.5zM485.1 43.4h0.5v0.5h-0.5zM475.6 41.3h0.5v0.5h-0.5zM457.3 47.3h0.5v0.5h-0.5zM447.4 46.5h0.5v0.5h-0.5zM428.9 48.1h0.5v0.5h-0.5zM429.4 47.9h0.5v0.5h-0.5zM496.9 31.3h0.5v0.5h-0.5zM483.2 45.9h0.5v0.5h-0.5zM484.8 33.9h0.5v0.5h-0.5zM470.6 32.8h0.5v0.5h-0.5zM446.0 36.9h0.5v0.5h-0.5zM455.7 46.7h0.5v0.5h-0.5zM461.9 31.2h0.5v0.5h-0.5zM425.0 36.3h0.5v0.5h-0.5zM428.7 48.1h0.5v0.5h-0.5zM501.2 44.8h0.5v0.5h-0.5zM425.5 45.1h0.5v0.5h-0.5zM468.6 38.8h0.5v0.5h-0.5zM443.3 35.7h0.5v0.5h-0.5zM463.4 44.6h0.5v0.5h-0.5zM472.6 32.2h0.5v0.5h-0.5zM500.4 35.9h0.5v0.5h-0.5zM472.6 43.2h0.5v0.5h-0.5zM488.7 40.3h0.5v0.5h-0.5zM449.6 32.5h0.5v0.5h-0.5zM463.6 37.0h0.5v0.5h-0.5zM496.7 32.4h0.5v0.5h-0.5zM430.9 47.8h0.5v0.5h-0.5zM495.3 46.3h0.5v0.5h-0.5z" fill="#888"/>
<path d="M442.1 37.5h0.5v0.5h-0.5zM454.2 45.1h0.5v0.5h-0.5zM429.5 38.8h0.5v0.5h-0.5zM487.2 31.6h0.5v0.5h-0.5zM480.9 34.4h0.5v0.5h-0.5zM476.3 34.3h0.5v0.5h-0.5zM480.7 45.9h0.5v0.5h-0.5zM495.2 46.7h0.5v0.5h-0.5zM434.9 39.5h0.5v0.5h-0.5zM493.8 41.6h0.5v0.5h-0.5zM470.4 31.4h0.5v0.5h-0.5zM446.6 46.8h0.5v0.5h-0.5zM477.7 45.9h0.5v0.5h-0.5zM455.2 41.6h0.5v0.5h-0.5zM464.4 47.0h0.5v0.5h-0.5zM452.2 37.3h0.5v0.5h-0.5zM494.8 46.3h0.5v0.5h-0.5zM476.7 45.5h0.5v0.5h-0.5zM434.2 47.8h0.5v0.5h-0.5zM482.0 43.1h0.5v0.5h-0.5zM483.4 38.2h0.5v0.5h-0.5zM463.2 32.5h0.5v0.5h-0.5zM434.4 47.8h0.5v0.5h-0.5zM500.9 35.2h0.5v0.5h-0.5zM450.8 34.7h0.5v0.5h-0.5zM498.0 42.6h0.5v0.5h-0.5zM439.8 47.8h0.5v0.5h-0.5zM493.6 36.7h0.5v0.5h-0.5zM471.6 42.9h0.5v0.5h-0.5zM425.7 47.7h0.5v0.5h-0.5zM467.8 38.1h0.5v0.5h-0.5zM454.7 34.4h0.5v0.5h-0.5zM479.2 45.0h0.5v0.5h-0.5zM445.4 38.5h0.5v0.5h-0.5zM455.0 40.1h0.5v0.5h-0.5zM483.0 42.7h0.5v0.5h-0.5zM437.4 41.9h0.5v0.5h-0.5zM467.7 46.4h0.5v0.5h-0.5zM485.9 46.8h0.5v0.5h-0.5zM484.7 32.0h0.5v0.5h-0.5zM428.8 44.2h0.5v0.5h-0.5zM442.5 31.7h0.5v0.5h-0.5zM466.0 38.2h0.5v0.5h-0.5zM489.2 42.2h0.5v0.5h-0.5zM480.5 46.0h0.5v0.5h-0.5zM458.7 39.2h0.5v0.5h-0.5zM491.8 45.8h0.5v0.5h-0.5zM468.0 37.4h0.5v0.5h-0.5zM461.1 44.4h0.5v0.5h-0.5zM494.7 36.3h0.5v0.5h-0.5zM500.2 46.2h0.5v0.5h-0.5zM440.6 39.2h0.5v0.5h-0.5zM464.8 42.0h0.5v0.5h-0.5zM458.6 36.1h0.5v0.5h-0.5zM481.3 37.5h0.5v0.5h-0.5zM479.0 45.0h0.5v0.5h-0.5zM463.4 46.5h0.5v0.5h-0.5z" fill="#aaa"/>
<path d="M468.7 46.3h0.5v0.5h-0.5zM495.4 43.4h0.5v0.5h-0.5zM436.0 44.8h0.5v0.5h-0.5zM440.0 40.9h0.5v0.5h-0.5zM424.0 44.6h0.5v0.5h-0.5zM478.3 46.8h0.5v0.5h-0.5zM491.0 46.3h0.5v0.5h-0.5zM428.6 42.6h0.5v0.5h-0.5zM476.1 41.0h0.5v0.5h-0.5zM452.7 47.4h0.5v0.5h-0.5zM459.8 44.3h0.5v0.5h-0.5zM424.4 41.4h0.5v0.5h-0.5zM473.2 38.1h0.5v0.5h-0.5zM483.7 43.4h0.5v0.5h-0.5zM495.7 39.9h0.5v0.5h-0.5zM426.3 35.4h0.5v0.5h-0.5zM473.2 39.3h0.5v0.5h-0.5zM424.0 46.1h0.5v0.5h-0.5zM474.2 46.3h0.5v0.5h-0.5zM493.2 33.0h0.5v0.5h-0.5zM492.0 46.6h0.5v0.5h-0.5zM496.2 45.1h0.5v0.5h-0.5zM458.4 42.0h0.5v0.5h-0.5zM469.6 40.0h0.5v0.5h-0.5zM446.6 46.9h0.5v0.5h-0.5zM482.7 46.7h0.5v0.5h-0.5zM490.9 35.5h0.5v0.5h-0.5zM443.0 44.6h0.5v0.5h-0.5zM453.5 31.2h0.5v0.5h-0.5zM439.1 35.3h0.5v0.5h-0.5zM485.8 44.7h0.5v0.5h-0.5zM463.7 45.8h0.5v0.5h-0.5zM478.8 44.8h0.5v0.5h-0.5zM464.6 45.7h0.5v0.5h-0.5zM461.5 47.0h0.5v0.5h-0.5zM485.1 33.8h0.5v0.5h-0.5zM430.2 47.6h0.5v0.5h-0.5zM456.4 45.0h0.5v0.5h-0.5zM476.1 45.8h0.5v0.5h-0.5zM427.8 33.9h0.5v0.5h-0.5zM490.4 33.1h0.5v0.5h-0.5zM428.8 35.2h0.5v0.5h-0.5zM493.1 46.5h0.5v0.5h-0.5zM479.4 36.5h0.5v0.5h-0.5zM460.8 42.2h0.5v0.5h-0.5zM448.3 47.5h0.5v0.5h-0.5zM464.4 37.4h0.5v0.5h-0.5zM475.2 42.3h0.5v0.5h-0.5zM476.7 37.3h0.5v0.5h-0.5zM497.9 45.6h0.5v0.5h-0.5zM500.1 40.4h0.5v0.5h-0.5zM496.9 44.7h0.5v0.5h-0.5zM447.4 41.5h0.5v0.5h-0.5zM467.0 40.2h0.5v0.5h-0.5zM499.6 45.3h0.5v0.5h-0.5zM428.3 45.9h0.5v0.5h-0.5zM487.5 42.6h0.5v0.5h-0.5zM456.4 45.2h0.5v0.5h-0.5zM461.2 31.3h0.5v0.5h-0.5zM465.5 45.5h0.5v0.5h-0.5zM455.4 41.3h0.5v0.5h-0.5zM448.3 37.7h0.5v0.5h-0.5zM450.4 41.1h0.5v0.5h-0.5zM443.8 41.8h0.5v0.5h-0.5zM425.6 47.4h0.5v0.5h-0.5zM427.2 31.3h0.5v0.5h-0.5zM498.3 38.0h0.5v0.5h-0.5zM453.6 36.9h0.5v0.5h-0.5zM450.7 46.6h0.5v0.5h-0.5zM482.1 46.6h0.5v0.5h-0.5z" fill="#2a3a8a"/>
<linearGradient id="fg101" x1="0" y1="0" x2="0" y2="1"><stop offset="0" stop-color="#7a8098"/><stop offset="0.18" stop-color="#2e3670"/><stop offset="0.34" stop-color="#3a7050"/><stop offset="0.48" stop-color="#d0702a"/><stop offset="0.62" stop-color="#d8401e"/><stop offset="0.76" stop-color="#d89028"/><stop offset="0.9" stop-color="#4a8040"/><stop offset="1" stop-color="#2c4a80"/></linearGradient>
<polygon points="433.9,48.2 435.6,48.2 437.3,48.1 439.0,48.0 440.7,48.0 442.4,47.9 444.1,47.8 445.8,47.8 447.5,47.7 449.2,47.6 450.8,47.6 452.5,47.5 454.2,47.4 455.9,47.4 457.6,47.3 459.3,47.2 461.0,47.2 462.7,47.1 464.4,47.0 466.1,47.0 467.8,46.9 469.5,46.8 471.2,46.8 472.9,46.8 474.6,46.8 476.3,46.8 478.0,46.8 479.7,46.8 481.4,46.8 483.1,46.8 484.8,46.8 486.4,46.8 488.1,46.8 489.8,46.8 491.5,46.8 493.2,46.8 494.9,46.8 496.6,46.8 498.3,46.8 500.0,46.8 501.7,46.8 501.7,55.5 433.9,55.5" fill="url(#fg101)"/>
<rect x="423.3" y="48.3" width="7.9" height="7.2" fill="url(#fg101)"/>
<path d="M483.9 53.1h0.85v0.85h-0.85zM442.6 53.6h0.85v0.85h-0.85zM475.8 53.1h0.85v0.85h-0.85zM450.6 53.0h0.85v0.85h-0.85zM446.4 50.4h0.85v0.85h-0.85zM491.2 48.0h0.85v0.85h-0.85zM442.8 53.7h0.85v0.85h-0.85zM497.2 53.6h0.85v0.85h-0.85zM481.6 53.7h0.85v0.85h-0.85zM461.9 48.4h0.85v0.85h-0.85zM461.7 49.7h0.85v0.85h-0.85zM466.5 55.0h0.85v0.85h-0.85zM455.7 54.9h0.85v0.85h-0.85zM454.4 50.4h0.85v0.85h-0.85zM449.2 49.1h0.85v0.85h-0.85zM485.3 54.8h0.85v0.85h-0.85zM460.0 53.1h0.85v0.85h-0.85zM449.2 53.0h0.85v0.85h-0.85zM436.9 54.9h0.85v0.85h-0.85zM486.8 54.2h0.85v0.85h-0.85zM494.4 48.7h0.85v0.85h-0.85zM455.2 53.4h0.85v0.85h-0.85zM447.7 53.9h0.85v0.85h-0.85zM497.5 54.1h0.85v0.85h-0.85zM477.2 50.2h0.85v0.85h-0.85zM466.4 53.0h0.85v0.85h-0.85zM500.9 54.8h0.85v0.85h-0.85zM443.0 49.0h0.85v0.85h-0.85zM458.2 53.3h0.85v0.85h-0.85zM471.9 49.1h0.85v0.85h-0.85zM480.5 54.1h0.85v0.85h-0.85zM474.6 48.9h0.85v0.85h-0.85zM442.1 54.9h0.85v0.85h-0.85zM427.6 49.5h0.85v0.85h-0.85zM472.1 50.1h0.85v0.85h-0.85zM485.4 53.4h0.85v0.85h-0.85zM457.6 53.4h0.85v0.85h-0.85zM500.6 52.8h0.85v0.85h-0.85zM454.4 53.0h0.85v0.85h-0.85zM442.4 53.9h0.85v0.85h-0.85zM498.2 52.6h0.85v0.85h-0.85zM465.9 48.6h0.85v0.85h-0.85zM499.2 53.5h0.85v0.85h-0.85zM425.8 50.8h0.85v0.85h-0.85zM448.9 54.1h0.85v0.85h-0.85zM428.8 50.9h0.85v0.85h-0.85zM443.5 50.6h0.85v0.85h-0.85zM442.4 54.5h0.85v0.85h-0.85zM488.1 52.9h0.85v0.85h-0.85zM473.8 54.1h0.85v0.85h-0.85zM448.2 54.6h0.85v0.85h-0.85zM452.6 50.4h0.85v0.85h-0.85zM461.3 49.6h0.85v0.85h-0.85zM425.0 50.4h0.85v0.85h-0.85zM425.1 53.2h0.85v0.85h-0.85zM453.5 49.8h0.85v0.85h-0.85zM437.1 54.3h0.85v0.85h-0.85zM425.9 50.4h0.85v0.85h-0.85zM481.1 52.6h0.85v0.85h-0.85zM487.6 49.3h0.85v0.85h-0.85zM454.6 49.5h0.85v0.85h-0.85zM456.9 50.0h0.85v0.85h-0.85zM478.1 54.7h0.85v0.85h-0.85zM478.7 53.7h0.85v0.85h-0.85zM471.1 52.6h0.85v0.85h-0.85zM438.5 54.7h0.85v0.85h-0.85zM489.0 52.7h0.85v0.85h-0.85zM448.6 48.6h0.85v0.85h-0.85zM442.7 53.1h0.85v0.85h-0.85zM429.0 50.6h0.85v0.85h-0.85zM459.1 49.5h0.85v0.85h-0.85zM466.8 48.1h0.85v0.85h-0.85zM468.7 53.2h0.85v0.85h-0.85zM469.0 53.1h0.85v0.85h-0.85zM486.0 54.1h0.85v0.85h-0.85zM426.9 50.0h0.85v0.85h-0.85zM455.2 54.6h0.85v0.85h-0.85zM437.4 49.7h0.85v0.85h-0.85zM495.7 53.3h0.85v0.85h-0.85zM473.4 49.7h0.85v0.85h-0.85zM426.1 49.8h0.85v0.85h-0.85zM445.4 52.9h0.85v0.85h-0.85zM457.4 53.0h0.85v0.85h-0.85zM486.0 53.0h0.85v0.85h-0.85zM493.1 49.9h0.85v0.85h-0.85zM471.5 49.9h0.85v0.85h-0.85zM477.0 54.2h0.85v0.85h-0.85zM450.0 48.9h0.85v0.85h-0.85zM468.7 53.5h0.85v0.85h-0.85zM437.9 49.6h0.85v0.85h-0.85zM495.2 50.1h0.85v0.85h-0.85zM446.3 54.6h0.85v0.85h-0.85zM424.1 54.4h0.85v0.85h-0.85zM480.1 53.1h0.85v0.85h-0.85zM483.3 54.5h0.85v0.85h-0.85zM483.0 48.3h0.85v0.85h-0.85zM445.7 53.2h0.85v0.85h-0.85zM455.8 49.7h0.85v0.85h-0.85zM451.2 53.6h0.85v0.85h-0.85zM470.9 53.8h0.85v0.85h-0.85zM488.7 47.9h0.85v0.85h-0.85zM476.8 48.9h0.85v0.85h-0.85zM427.4 50.5h0.85v0.85h-0.85zM457.0 54.0h0.85v0.85h-0.85zM470.7 54.0h0.85v0.85h-0.85zM478.2 54.3h0.85v0.85h-0.85zM483.5 48.0h0.85v0.85h-0.85zM474.9 48.0h0.85v0.85h-0.85zM442.9 50.0h0.85v0.85h-0.85zM447.6 54.2h0.85v0.85h-0.85zM459.7 49.9h0.85v0.85h-0.85zM467.8 49.6h0.85v0.85h-0.85zM453.4 54.5h0.85v0.85h-0.85zM473.2 48.1h0.85v0.85h-0.85zM458.8 48.6h0.85v0.85h-0.85zM425.8 50.0h0.85v0.85h-0.85zM465.4 53.2h0.85v0.85h-0.85zM439.6 54.9h0.85v0.85h-0.85zM496.7 49.3h0.85v0.85h-0.85zM442.7 53.6h0.85v0.85h-0.85zM459.1 54.2h0.85v0.85h-0.85zM447.6 50.2h0.85v0.85h-0.85zM439.7 50.5h0.85v0.85h-0.85zM448.5 53.6h0.85v0.85h-0.85zM452.8 53.2h0.85v0.85h-0.85zM456.8 53.5h0.85v0.85h-0.85zM496.0 49.4h0.85v0.85h-0.85zM494.3 49.4h0.85v0.85h-0.85zM492.5 52.9h0.85v0.85h-0.85zM455.9 54.7h0.85v0.85h-0.85zM469.1 53.0h0.85v0.85h-0.85zM440.4 54.6h0.85v0.85h-0.85zM458.3 49.6h0.85v0.85h-0.85zM490.1 48.7h0.85v0.85h-0.85zM424.7 54.3h0.85v0.85h-0.85zM500.3 48.7h0.85v0.85h-0.85zM494.8 48.3h0.85v0.85h-0.85zM461.0 54.0h0.85v0.85h-0.85zM484.9 49.3h0.85v0.85h-0.85zM475.3 54.5h0.85v0.85h-0.85zM479.0 53.3h0.85v0.85h-0.85zM460.3 53.8h0.85v0.85h-0.85zM495.7 47.9h0.85v0.85h-0.85zM476.7 54.8h0.85v0.85h-0.85zM480.5 52.8h0.85v0.85h-0.85zM481.6 53.4h0.85v0.85h-0.85zM491.0 47.9h0.85v0.85h-0.85zM454.5 53.8h0.85v0.85h-0.85zM439.2 53.7h0.85v0.85h-0.85zM498.4 49.3h0.85v0.85h-0.85zM499.6 53.5h0.85v0.85h-0.85zM460.2 53.1h0.85v0.85h-0.85zM429.9 54.8h0.85v0.85h-0.85zM490.5 48.9h0.85v0.85h-0.85zM426.8 53.5h0.85v0.85h-0.85zM430.1 49.9h0.85v0.85h-0.85zM449.6 50.4h0.85v0.85h-0.85z" fill="#3a8a48"/>
<path d="M454.8 54.9h0.85v0.85h-0.85zM498.8 54.3h0.85v0.85h-0.85zM500.2 55.0h0.85v0.85h-0.85zM465.3 53.2h0.85v0.85h-0.85zM448.8 48.5h0.85v0.85h-0.85zM456.4 48.6h0.85v0.85h-0.85zM497.0 54.4h0.85v0.85h-0.85zM435.5 49.9h0.85v0.85h-0.85zM439.2 54.3h0.85v0.85h-0.85zM449.3 54.1h0.85v0.85h-0.85zM499.0 48.2h0.85v0.85h-0.85zM440.4 49.1h0.85v0.85h-0.85zM457.3 54.4h0.85v0.85h-0.85zM499.3 48.9h0.85v0.85h-0.85zM482.9 54.2h0.85v0.85h-0.85zM452.2 47.6h0.85v0.85h-0.85zM491.0 54.0h0.85v0.85h-0.85zM494.5 46.6h0.85v0.85h-0.85zM453.6 48.2h0.85v0.85h-0.85zM426.1 53.9h0.85v0.85h-0.85zM466.9 47.1h0.85v0.85h-0.85zM460.3 49.2h0.85v0.85h-0.85zM445.7 49.0h0.85v0.85h-0.85zM446.4 54.8h0.85v0.85h-0.85zM464.0 54.3h0.85v0.85h-0.85zM460.3 54.1h0.85v0.85h-0.85zM471.5 48.1h0.85v0.85h-0.85zM465.7 47.3h0.85v0.85h-0.85zM438.8 48.7h0.85v0.85h-0.85zM468.0 54.2h0.85v0.85h-0.85zM478.6 48.2h0.85v0.85h-0.85zM441.7 49.2h0.85v0.85h-0.85zM460.3 48.4h0.85v0.85h-0.85zM437.5 49.0h0.85v0.85h-0.85zM493.0 53.3h0.85v0.85h-0.85zM453.5 47.4h0.85v0.85h-0.85zM483.0 54.6h0.85v0.85h-0.85zM461.8 54.5h0.85v0.85h-0.85zM426.7 48.7h0.85v0.85h-0.85zM476.4 48.9h0.85v0.85h-0.85zM445.0 49.2h0.85v0.85h-0.85zM456.7 48.7h0.85v0.85h-0.85zM499.5 52.8h0.85v0.85h-0.85zM453.8 52.9h0.85v0.85h-0.85zM489.2 46.8h0.85v0.85h-0.85zM490.7 47.6h0.85v0.85h-0.85zM437.1 49.4h0.85v0.85h-0.85zM437.0 49.7h0.85v0.85h-0.85zM441.6 48.5h0.85v0.85h-0.85zM439.9 47.9h0.85v0.85h-0.85zM465.6 47.7h0.85v0.85h-0.85zM479.0 54.6h0.85v0.85h-0.85zM450.4 54.6h0.85v0.85h-0.85zM477.6 49.0h0.85v0.85h-0.85zM425.4 53.9h0.85v0.85h-0.85zM450.2 48.8h0.85v0.85h-0.85zM444.3 48.8h0.85v0.85h-0.85zM500.4 47.2h0.85v0.85h-0.85zM485.8 54.6h0.85v0.85h-0.85zM453.3 49.4h0.85v0.85h-0.85zM442.2 54.4h0.85v0.85h-0.85zM500.4 48.5h0.85v0.85h-0.85zM489.6 54.3h0.85v0.85h-0.85zM488.9 54.4h0.85v0.85h-0.85zM463.6 47.5h0.85v0.85h-0.85zM460.2 47.5h0.85v0.85h-0.85zM446.1 47.7h0.85v0.85h-0.85zM476.5 48.6h0.85v0.85h-0.85zM460.2 54.7h0.85v0.85h-0.85zM462.1 54.7h0.85v0.85h-0.85zM468.7 47.3h0.85v0.85h-0.85zM486.4 54.8h0.85v0.85h-0.85zM469.0 55.0h0.85v0.85h-0.85zM471.3 47.1h0.85v0.85h-0.85zM491.1 53.8h0.85v0.85h-0.85zM435.9 48.8h0.85v0.85h-0.85zM465.1 54.3h0.85v0.85h-0.85zM489.5 53.6h0.85v0.85h-0.85zM480.3 47.5h0.85v0.85h-0.85zM457.9 53.7h0.85v0.85h-0.85zM466.3 53.8h0.85v0.85h-0.85zM441.8 49.4h0.85v0.85h-0.85zM463.6 54.9h0.85v0.85h-0.85zM458.0 54.2h0.85v0.85h-0.85zM465.5 54.7h0.85v0.85h-0.85zM473.2 54.3h0.85v0.85h-0.85zM474.9 48.3h0.85v0.85h-0.85zM470.0 53.5h0.85v0.85h-0.85zM428.7 50.1h0.85v0.85h-0.85zM498.8 47.1h0.85v0.85h-0.85zM439.5 54.2h0.85v0.85h-0.85zM496.7 47.6h0.85v0.85h-0.85zM441.3 53.6h0.85v0.85h-0.85zM445.1 48.9h0.85v0.85h-0.85zM437.8 49.3h0.85v0.85h-0.85zM475.4 52.7h0.85v0.85h-0.85zM485.3 53.9h0.85v0.85h-0.85zM476.7 47.9h0.85v0.85h-0.85zM446.5 49.1h0.85v0.85h-0.85zM472.5 48.1h0.85v0.85h-0.85zM449.7 54.8h0.85v0.85h-0.85zM441.7 48.7h0.85v0.85h-0.85zM458.2 52.9h0.85v0.85h-0.85zM439.3 48.7h0.85v0.85h-0.85zM446.1 53.4h0.85v0.85h-0.85zM461.4 48.4h0.85v0.85h-0.85zM496.1 47.9h0.85v0.85h-0.85zM453.9 48.5h0.85v0.85h-0.85zM460.9 54.7h0.85v0.85h-0.85zM454.9 53.5h0.85v0.85h-0.85zM480.8 48.8h0.85v0.85h-0.85zM440.7 49.8h0.85v0.85h-0.85zM477.8 47.2h0.85v0.85h-0.85zM448.8 54.5h0.85v0.85h-0.85zM480.4 47.8h0.85v0.85h-0.85zM466.3 48.4h0.85v0.85h-0.85zM494.0 54.1h0.85v0.85h-0.85zM476.7 54.0h0.85v0.85h-0.85zM468.3 54.3h0.85v0.85h-0.85zM447.6 48.9h0.85v0.85h-0.85zM481.1 48.1h0.85v0.85h-0.85zM499.0 54.3h0.85v0.85h-0.85zM484.4 53.8h0.85v0.85h-0.85zM466.9 47.6h0.85v0.85h-0.85zM445.0 49.6h0.85v0.85h-0.85zM479.6 54.5h0.85v0.85h-0.85zM486.8 54.6h0.85v0.85h-0.85zM481.2 48.6h0.85v0.85h-0.85zM473.0 54.2h0.85v0.85h-0.85zM497.3 53.1h0.85v0.85h-0.85z" fill="#2c3478"/>
<path d="M458.5 51.0h0.85v0.85h-0.85zM490.3 51.4h0.85v0.85h-0.85zM424.8 52.9h0.85v0.85h-0.85zM423.6 51.7h0.85v0.85h-0.85zM450.5 52.2h0.85v0.85h-0.85zM474.8 50.1h0.85v0.85h-0.85zM442.5 51.2h0.85v0.85h-0.85zM445.0 50.6h0.85v0.85h-0.85zM458.2 51.0h0.85v0.85h-0.85zM481.9 50.8h0.85v0.85h-0.85zM442.4 52.3h0.85v0.85h-0.85zM483.0 51.9h0.85v0.85h-0.85zM495.2 52.1h0.85v0.85h-0.85zM496.3 49.4h0.85v0.85h-0.85zM499.4 51.4h0.85v0.85h-0.85zM496.9 52.4h0.85v0.85h-0.85zM497.9 50.2h0.85v0.85h-0.85zM477.7 51.7h0.85v0.85h-0.85zM426.8 51.2h0.85v0.85h-0.85zM459.9 52.3h0.85v0.85h-0.85zM453.1 52.5h0.85v0.85h-0.85zM473.3 51.6h0.85v0.85h-0.85zM429.2 50.6h0.85v0.85h-0.85zM486.6 51.4h0.85v0.85h-0.85zM476.9 50.0h0.85v0.85h-0.85zM476.7 52.2h0.85v0.85h-0.85zM497.6 52.5h0.85v0.85h-0.85zM493.4 51.8h0.85v0.85h-0.85zM455.7 52.0h0.85v0.85h-0.85zM443.9 51.7h0.85v0.85h-0.85zM450.0 52.1h0.85v0.85h-0.85zM434.5 52.0h0.85v0.85h-0.85zM435.5 52.5h0.85v0.85h-0.85zM435.4 51.0h0.85v0.85h-0.85zM425.0 51.7h0.85v0.85h-0.85zM496.4 50.9h0.85v0.85h-0.85zM489.2 51.4h0.85v0.85h-0.85zM461.4 51.7h0.85v0.85h-0.85zM456.7 50.0h0.85v0.85h-0.85zM455.6 50.1h0.85v0.85h-0.85zM486.7 52.5h0.85v0.85h-0.85zM451.0 50.2h0.85v0.85h-0.85zM492.6 51.9h0.85v0.85h-0.85zM477.2 49.4h0.85v0.85h-0.85zM425.7 50.3h0.85v0.85h-0.85zM495.4 49.1h0.85v0.85h-0.85zM457.4 52.4h0.85v0.85h-0.85zM476.0 52.4h0.85v0.85h-0.85zM437.6 51.7h0.85v0.85h-0.85zM491.1 51.1h0.85v0.85h-0.85zM494.0 52.1h0.85v0.85h-0.85zM452.8 51.3h0.85v0.85h-0.85zM467.4 49.7h0.85v0.85h-0.85zM462.3 50.4h0.85v0.85h-0.85zM468.7 50.0h0.85v0.85h-0.85zM470.4 49.7h0.85v0.85h-0.85zM466.5 49.3h0.85v0.85h-0.85zM437.4 50.0h0.85v0.85h-0.85zM423.6 51.6h0.85v0.85h-0.85zM491.3 49.7h0.85v0.85h-0.85zM450.1 51.9h0.85v0.85h-0.85zM489.4 52.2h0.85v0.85h-0.85zM479.5 51.7h0.85v0.85h-0.85zM443.7 50.8h0.85v0.85h-0.85zM489.4 50.9h0.85v0.85h-0.85zM455.8 52.7h0.85v0.85h-0.85zM453.9 50.5h0.85v0.85h-0.85zM490.5 49.5h0.85v0.85h-0.85zM441.7 49.9h0.85v0.85h-0.85zM454.2 52.6h0.85v0.85h-0.85zM450.3 52.5h0.85v0.85h-0.85zM494.6 50.2h0.85v0.85h-0.85zM495.2 49.3h0.85v0.85h-0.85zM442.7 51.5h0.85v0.85h-0.85zM463.0 50.1h0.85v0.85h-0.85zM477.2 52.4h0.85v0.85h-0.85zM498.6 52.4h0.85v0.85h-0.85zM479.5 50.7h0.85v0.85h-0.85zM437.9 50.7h0.85v0.85h-0.85zM467.4 49.9h0.85v0.85h-0.85zM475.6 49.7h0.85v0.85h-0.85zM450.5 51.6h0.85v0.85h-0.85zM455.1 49.5h0.85v0.85h-0.85zM441.2 52.7h0.85v0.85h-0.85zM472.4 50.0h0.85v0.85h-0.85zM441.2 52.1h0.85v0.85h-0.85zM429.5 50.2h0.85v0.85h-0.85zM479.4 50.0h0.85v0.85h-0.85zM463.1 50.9h0.85v0.85h-0.85zM449.0 52.1h0.85v0.85h-0.85zM424.1 51.1h0.85v0.85h-0.85zM435.5 51.8h0.85v0.85h-0.85zM496.7 50.6h0.85v0.85h-0.85zM469.3 49.1h0.85v0.85h-0.85zM480.5 52.6h0.85v0.85h-0.85zM450.9 50.9h0.85v0.85h-0.85z" fill="#e07a22"/>
<path d="M477.1 50.7h0.85v0.85h-0.85zM463.0 51.1h0.85v0.85h-0.85zM438.3 51.1h0.85v0.85h-0.85zM493.8 50.3h0.85v0.85h-0.85zM456.9 52.3h0.85v0.85h-0.85zM483.9 51.0h0.85v0.85h-0.85zM427.3 51.9h0.85v0.85h-0.85zM496.3 50.8h0.85v0.85h-0.85zM496.3 51.1h0.85v0.85h-0.85zM477.5 50.8h0.85v0.85h-0.85zM492.1 50.5h0.85v0.85h-0.85zM470.4 52.3h0.85v0.85h-0.85zM426.2 51.6h0.85v0.85h-0.85zM488.1 52.1h0.85v0.85h-0.85zM455.7 51.4h0.85v0.85h-0.85zM450.6 52.0h0.85v0.85h-0.85zM476.3 50.3h0.85v0.85h-0.85zM468.8 50.7h0.85v0.85h-0.85zM480.5 50.5h0.85v0.85h-0.85zM454.0 52.3h0.85v0.85h-0.85zM457.9 51.1h0.85v0.85h-0.85zM457.5 51.7h0.85v0.85h-0.85zM497.5 52.2h0.85v0.85h-0.85zM474.9 50.9h0.85v0.85h-0.85zM458.6 52.3h0.85v0.85h-0.85zM493.8 50.3h0.85v0.85h-0.85zM443.6 51.0h0.85v0.85h-0.85zM488.9 50.8h0.85v0.85h-0.85zM424.2 51.6h0.85v0.85h-0.85zM425.7 52.8h0.85v0.85h-0.85zM464.8 52.2h0.85v0.85h-0.85zM480.3 50.7h0.85v0.85h-0.85zM474.2 51.8h0.85v0.85h-0.85zM430.1 52.7h0.85v0.85h-0.85zM426.6 51.1h0.85v0.85h-0.85zM443.0 50.8h0.85v0.85h-0.85zM438.7 52.5h0.85v0.85h-0.85zM461.7 51.3h0.85v0.85h-0.85zM474.6 50.6h0.85v0.85h-0.85zM485.9 50.6h0.85v0.85h-0.85zM460.7 51.1h0.85v0.85h-0.85zM461.7 50.8h0.85v0.85h-0.85zM447.6 51.4h0.85v0.85h-0.85zM486.3 50.9h0.85v0.85h-0.85zM425.0 51.6h0.85v0.85h-0.85zM458.0 50.7h0.85v0.85h-0.85zM437.2 51.8h0.85v0.85h-0.85zM483.1 51.9h0.85v0.85h-0.85zM484.8 50.3h0.85v0.85h-0.85zM496.1 51.1h0.85v0.85h-0.85zM469.8 51.2h0.85v0.85h-0.85zM459.2 52.0h0.85v0.85h-0.85zM494.2 50.8h0.85v0.85h-0.85zM448.2 51.4h0.85v0.85h-0.85zM488.8 51.0h0.85v0.85h-0.85zM454.6 51.2h0.85v0.85h-0.85zM426.7 51.5h0.85v0.85h-0.85zM480.1 51.3h0.85v0.85h-0.85zM477.3 52.6h0.85v0.85h-0.85zM501.1 50.4h0.85v0.85h-0.85zM441.5 51.5h0.85v0.85h-0.85z" fill="#d8301e"/>
<path d="M475.3 47.4h0.85v0.85h-0.85zM449.4 47.8h0.85v0.85h-0.85zM479.6 47.3h0.85v0.85h-0.85zM459.5 47.4h0.85v0.85h-0.85zM441.4 48.3h0.85v0.85h-0.85zM475.9 46.8h0.85v0.85h-0.85zM471.4 46.6h0.85v0.85h-0.85zM462.0 47.6h0.85v0.85h-0.85zM484.3 47.2h0.85v0.85h-0.85zM477.4 46.9h0.85v0.85h-0.85zM474.9 47.4h0.85v0.85h-0.85zM441.7 48.5h0.85v0.85h-0.85zM466.8 46.8h0.85v0.85h-0.85zM436.1 48.3h0.85v0.85h-0.85zM485.4 47.1h0.85v0.85h-0.85zM492.7 47.3h0.85v0.85h-0.85zM455.2 47.9h0.85v0.85h-0.85zM434.4 48.9h0.85v0.85h-0.85zM481.2 46.8h0.85v0.85h-0.85zM445.1 47.9h0.85v0.85h-0.85zM462.4 47.2h0.85v0.85h-0.85zM479.8 47.4h0.85v0.85h-0.85zM473.3 47.4h0.85v0.85h-0.85zM479.3 47.6h0.85v0.85h-0.85z" fill="#8a8a9a"/>
<path d="M476.2 49.7h0.85v0.85h-0.85zM434.1 52.8h0.85v0.85h-0.85zM442.9 52.0h0.85v0.85h-0.85zM449.7 50.1h0.85v0.85h-0.85zM441.7 53.6h0.85v0.85h-0.85zM449.4 52.3h0.85v0.85h-0.85zM458.8 49.8h0.85v0.85h-0.85zM438.8 52.0h0.85v0.85h-0.85zM442.5 52.5h0.85v0.85h-0.85zM467.7 53.4h0.85v0.85h-0.85zM462.1 52.3h0.85v0.85h-0.85zM499.4 49.5h0.85v0.85h-0.85zM463.9 50.0h0.85v0.85h-0.85zM488.2 49.0h0.85v0.85h-0.85zM479.7 51.5h0.85v0.85h-0.85zM449.4 53.4h0.85v0.85h-0.85zM477.7 49.2h0.85v0.85h-0.85zM477.4 51.5h0.85v0.85h-0.85zM496.8 51.5h0.85v0.85h-0.85zM485.8 51.4h0.85v0.85h-0.85zM491.7 51.4h0.85v0.85h-0.85zM498.5 53.7h0.85v0.85h-0.85zM472.8 52.2h0.85v0.85h-0.85zM434.6 53.0h0.85v0.85h-0.85zM454.5 52.4h0.85v0.85h-0.85zM490.9 52.5h0.85v0.85h-0.85zM453.5 51.9h0.85v0.85h-0.85zM480.3 52.7h0.85v0.85h-0.85zM452.0 52.3h0.85v0.85h-0.85zM444.1 50.6h0.85v0.85h-0.85zM457.1 49.9h0.85v0.85h-0.85zM495.9 52.2h0.85v0.85h-0.85zM442.4 50.3h0.85v0.85h-0.85zM463.7 53.6h0.85v0.85h-0.85zM435.0 50.3h0.85v0.85h-0.85zM481.7 52.5h0.85v0.85h-0.85zM464.4 52.3h0.85v0.85h-0.85zM441.1 53.0h0.85v0.85h-0.85zM454.4 53.9h0.85v0.85h-0.85zM448.8 52.5h0.85v0.85h-0.85zM442.2 53.0h0.85v0.85h-0.85zM439.7 52.2h0.85v0.85h-0.85zM426.0 52.7h0.85v0.85h-0.85zM462.6 52.3h0.85v0.85h-0.85zM473.3 53.6h0.85v0.85h-0.85zM447.2 49.8h0.85v0.85h-0.85zM477.2 51.6h0.85v0.85h-0.85zM491.9 53.8h0.85v0.85h-0.85zM446.4 49.8h0.85v0.85h-0.85zM464.3 50.1h0.85v0.85h-0.85zM435.6 52.1h0.85v0.85h-0.85zM496.8 53.7h0.85v0.85h-0.85zM476.4 52.1h0.85v0.85h-0.85zM466.1 50.2h0.85v0.85h-0.85zM483.0 49.0h0.85v0.85h-0.85zM466.4 52.1h0.85v0.85h-0.85zM479.5 53.6h0.85v0.85h-0.85zM449.1 52.2h0.85v0.85h-0.85zM483.1 52.9h0.85v0.85h-0.85zM480.8 52.2h0.85v0.85h-0.85zM482.0 51.9h0.85v0.85h-0.85zM463.3 49.5h0.85v0.85h-0.85zM455.3 50.1h0.85v0.85h-0.85zM458.3 52.2h0.85v0.85h-0.85zM424.4 50.8h0.85v0.85h-0.85zM427.9 53.7h0.85v0.85h-0.85zM483.3 51.6h0.85v0.85h-0.85zM443.1 52.5h0.85v0.85h-0.85zM483.8 52.5h0.85v0.85h-0.85zM492.0 49.3h0.85v0.85h-0.85zM478.2 53.8h0.85v0.85h-0.85zM478.2 52.5h0.85v0.85h-0.85zM452.2 52.1h0.85v0.85h-0.85zM490.3 51.7h0.85v0.85h-0.85zM498.3 53.1h0.85v0.85h-0.85zM450.5 51.7h0.85v0.85h-0.85zM461.5 52.8h0.85v0.85h-0.85zM451.2 51.8h0.85v0.85h-0.85zM455.9 52.3h0.85v0.85h-0.85zM423.6 52.1h0.85v0.85h-0.85z" fill="#e0c030"/>
<path d="M488.0 48.0h0.85v0.85h-0.85zM443.9 47.8h0.85v0.85h-0.85zM475.0 48.0h0.85v0.85h-0.85zM488.5 46.8h0.85v0.85h-0.85zM460.3 48.0h0.85v0.85h-0.85zM464.8 47.9h0.85v0.85h-0.85zM488.7 47.3h0.85v0.85h-0.85zM477.0 47.2h0.85v0.85h-0.85zM437.9 48.7h0.85v0.85h-0.85zM456.4 47.6h0.85v0.85h-0.85zM468.0 46.8h0.85v0.85h-0.85zM457.0 47.2h0.85v0.85h-0.85zM435.7 48.8h0.85v0.85h-0.85zM474.4 46.7h0.85v0.85h-0.85zM494.4 48.3h0.85v0.85h-0.85zM457.0 49.0h0.85v0.85h-0.85zM450.2 48.8h0.85v0.85h-0.85zM487.3 47.0h0.85v0.85h-0.85zM484.6 46.7h0.85v0.85h-0.85zM435.0 49.6h0.85v0.85h-0.85zM453.5 48.3h0.85v0.85h-0.85zM435.2 48.7h0.85v0.85h-0.85zM437.0 49.4h0.85v0.85h-0.85zM446.7 47.8h0.85v0.85h-0.85zM485.0 46.9h0.85v0.85h-0.85zM455.7 47.6h0.85v0.85h-0.85zM456.8 48.4h0.85v0.85h-0.85zM492.2 48.5h0.85v0.85h-0.85zM447.0 47.6h0.85v0.85h-0.85zM472.7 48.9h0.85v0.85h-0.85zM463.9 47.2h0.85v0.85h-0.85zM481.0 47.1h0.85v0.85h-0.85zM445.1 47.7h0.85v0.85h-0.85zM445.7 49.5h0.85v0.85h-0.85zM460.8 47.7h0.85v0.85h-0.85zM428.1 48.3h0.85v0.85h-0.85zM473.8 46.9h0.85v0.85h-0.85zM464.0 47.2h0.85v0.85h-0.85zM468.5 48.7h0.85v0.85h-0.85zM458.5 47.7h0.85v0.85h-0.85zM478.3 48.9h0.85v0.85h-0.85zM489.4 47.6h0.85v0.85h-0.85zM457.3 48.2h0.85v0.85h-0.85zM474.9 47.1h0.85v0.85h-0.85zM429.8 49.8h0.85v0.85h-0.85zM434.1 48.4h0.85v0.85h-0.85zM441.4 47.8h0.85v0.85h-0.85zM427.1 49.9h0.85v0.85h-0.85zM445.3 48.5h0.85v0.85h-0.85zM494.1 46.7h0.85v0.85h-0.85zM491.6 46.7h0.85v0.85h-0.85zM491.1 48.8h0.85v0.85h-0.85zM424.9 50.0h0.85v0.85h-0.85zM490.9 47.0h0.85v0.85h-0.85zM437.0 48.8h0.85v0.85h-0.85zM464.9 48.4h0.85v0.85h-0.85zM500.6 48.2h0.85v0.85h-0.85z" fill="#333"/>
<path d="M454.8 54.6h0.85v0.85h-0.85zM471.1 54.5h0.85v0.85h-0.85zM467.3 54.2h0.85v0.85h-0.85zM427.6 54.5h0.85v0.85h-0.85zM439.1 54.9h0.85v0.85h-0.85zM459.3 54.2h0.85v0.85h-0.85zM474.2 54.7h0.85v0.85h-0.85zM470.4 53.8h0.85v0.85h-0.85zM426.0 54.8h0.85v0.85h-0.85zM486.6 53.9h0.85v0.85h-0.85zM474.0 54.8h0.85v0.85h-0.85zM444.3 54.4h0.85v0.85h-0.85zM430.3 54.7h0.85v0.85h-0.85zM448.0 54.7h0.85v0.85h-0.85zM440.6 54.0h0.85v0.85h-0.85zM434.8 54.2h0.85v0.85h-0.85zM498.7 53.8h0.85v0.85h-0.85zM469.0 54.2h0.85v0.85h-0.85z" fill="#3a58a8"/>
<rect x="433.90" y="47.80" width="1.10" height="7.70" fill="#d8301c"/>
<text x="424.80" y="34.50" font-size="3.6" stroke="#111" stroke-width="0.13">anti-CD3 (OKT3, 10 µg/mL)</text>
<text x="413.40" y="33.50" font-size="4.8" fill="#555" stroke="#555" stroke-width="0.13">10<tspan font-size="3.0" dy="-2.1">4</tspan></text>
<text x="413.40" y="39.70" font-size="4.8" fill="#555" stroke="#555" stroke-width="0.13">10<tspan font-size="3.0" dy="-2.1">2</tspan></text>
<text x="413.40" y="45.40" font-size="4.8" fill="#555" stroke="#555" stroke-width="0.13">10<tspan font-size="3.0" dy="-2.1">1</tspan></text>
<text x="413.40" y="52.10" font-size="4.8" fill="#555" stroke="#555" stroke-width="0.13">10<tspan font-size="3.0" dy="-2.1">0</tspan></text>
<rect x="423.00" y="58.40" width="79.00" height="26.20" fill="#fff" stroke="#b0b0b0" stroke-width="0.6"/>
<linearGradient id="h102" x1="0" y1="0" x2="0" y2="1"><stop offset="0" stop-color="#888" stop-opacity="0"/><stop offset="1" stop-color="#666" stop-opacity="0.45"/></linearGradient>
<polygon points="433.9,70.6 435.6,70.6 437.3,70.6 439.0,70.6 440.7,70.6 442.4,70.6 444.1,70.6 445.8,70.6 447.5,70.6 449.2,70.6 450.8,70.6 452.5,70.6 454.2,70.6 455.9,70.6 457.6,70.6 459.3,70.6 461.0,70.6 462.7,70.6 464.4,70.6 466.1,70.6 467.8,70.6 469.5,70.6 471.2,70.6 472.9,70.6 474.6,70.6 476.3,70.6 478.0,70.6 479.7,70.6 481.4,70.6 483.1,70.6 484.8,70.6 486.4,70.6 488.1,70.6 489.8,70.6 491.5,70.6 493.2,70.6 494.9,70.6 496.6,70.6 498.3,70.6 500.0,70.6 501.7,70.6 501.7,77.6 500.0,77.6 498.3,77.6 496.6,77.6 494.9,77.6 493.2,77.6 491.5,77.6 489.8,77.6 488.1,77.6 486.4,77.6 484.8,77.6 483.1,77.6 481.4,77.6 479.7,77.6 478.0,77.6 476.3,77.6 474.6,77.6 472.9,77.6 471.2,77.6 469.5,77.6 467.8,77.6 466.1,77.6 464.4,77.6 462.7,77.6 461.0,77.6 459.3,77.6 457.6,77.6 455.9,77.6 454.2,77.6 452.5,77.6 450.8,77.6 449.2,77.6 447.5,77.6 445.8,77.6 444.1,77.6 442.4,77.6 440.7,77.6 439.0,77.6 437.3,77.6 435.6,77.6 433.9,77.6" fill="url(#h102)"/>
<rect x="423.3" y="70.6" width="7.9" height="7.0" fill="url(#h102)"/>
<path d="M463.2 77.5h0.5v0.5h-0.5zM496.9 77.1h0.5v0.5h-0.5zM470.2 72.6h0.5v0.5h-0.5zM488.3 69.4h0.5v0.5h-0.5zM478.4 61.3h0.5v0.5h-0.5zM476.5 66.5h0.5v0.5h-0.5zM498.1 72.2h0.5v0.5h-0.5zM485.0 69.0h0.5v0.5h-0.5zM461.1 76.9h0.5v0.5h-0.5zM461.4 69.1h0.5v0.5h-0.5zM464.7 60.9h0.5v0.5h-0.5zM487.4 65.7h0.5v0.5h-0.5zM441.7 61.4h0.5v0.5h-0.5zM445.5 71.3h0.5v0.5h-0.5zM494.0 65.0h0.5v0.5h-0.5zM452.5 77.6h0.5v0.5h-0.5zM486.1 62.5h0.5v0.5h-0.5zM429.3 67.7h0.5v0.5h-0.5zM439.6 76.1h0.5v0.5h-0.5zM477.6 74.9h0.5v0.5h-0.5zM461.5 65.3h0.5v0.5h-0.5zM485.4 66.8h0.5v0.5h-0.5zM489.8 76.3h0.5v0.5h-0.5zM446.6 73.3h0.5v0.5h-0.5zM479.8 76.2h0.5v0.5h-0.5zM442.9 77.0h0.5v0.5h-0.5zM468.5 72.7h0.5v0.5h-0.5zM486.9 64.6h0.5v0.5h-0.5zM477.9 66.8h0.5v0.5h-0.5zM489.7 76.9h0.5v0.5h-0.5zM500.7 76.2h0.5v0.5h-0.5zM426.5 77.6h0.5v0.5h-0.5zM494.5 76.0h0.5v0.5h-0.5zM495.4 75.0h0.5v0.5h-0.5zM424.4 70.8h0.5v0.5h-0.5zM451.4 66.0h0.5v0.5h-0.5zM430.6 74.9h0.5v0.5h-0.5zM467.3 71.6h0.5v0.5h-0.5zM458.1 76.2h0.5v0.5h-0.5zM468.7 64.7h0.5v0.5h-0.5zM435.9 73.9h0.5v0.5h-0.5zM500.4 70.3h0.5v0.5h-0.5zM482.7 74.3h0.5v0.5h-0.5zM470.9 66.5h0.5v0.5h-0.5zM474.0 71.9h0.5v0.5h-0.5zM480.7 74.1h0.5v0.5h-0.5zM465.4 77.5h0.5v0.5h-0.5zM498.5 75.1h0.5v0.5h-0.5zM425.0 75.9h0.5v0.5h-0.5zM498.0 77.6h0.5v0.5h-0.5zM498.2 77.5h0.5v0.5h-0.5zM486.9 77.1h0.5v0.5h-0.5zM454.2 63.6h0.5v0.5h-0.5zM492.6 70.3h0.5v0.5h-0.5zM479.7 63.8h0.5v0.5h-0.5zM479.3 64.7h0.5v0.5h-0.5zM488.9 60.4h0.5v0.5h-0.5zM444.8 77.6h0.5v0.5h-0.5zM436.6 76.3h0.5v0.5h-0.5zM458.1 65.7h0.5v0.5h-0.5zM470.8 66.2h0.5v0.5h-0.5zM468.5 64.2h0.5v0.5h-0.5z" fill="#222"/>
<path d="M435.0 70.9h0.5v0.5h-0.5zM466.6 69.9h0.5v0.5h-0.5zM471.7 72.8h0.5v0.5h-0.5zM480.7 75.1h0.5v0.5h-0.5zM472.5 69.6h0.5v0.5h-0.5zM457.0 74.8h0.5v0.5h-0.5zM451.8 77.5h0.5v0.5h-0.5zM476.7 74.9h0.5v0.5h-0.5zM480.0 74.5h0.5v0.5h-0.5zM440.1 74.1h0.5v0.5h-0.5zM440.7 74.6h0.5v0.5h-0.5zM429.8 74.9h0.5v0.5h-0.5zM468.0 76.8h0.5v0.5h-0.5zM440.5 70.1h0.5v0.5h-0.5zM477.2 77.1h0.5v0.5h-0.5zM490.9 77.5h0.5v0.5h-0.5zM475.6 62.6h0.5v0.5h-0.5zM435.2 59.9h0.5v0.5h-0.5zM428.7 67.4h0.5v0.5h-0.5zM460.9 71.7h0.5v0.5h-0.5zM460.2 76.3h0.5v0.5h-0.5zM481.9 70.2h0.5v0.5h-0.5zM495.0 66.9h0.5v0.5h-0.5zM443.8 74.1h0.5v0.5h-0.5zM499.9 61.6h0.5v0.5h-0.5zM481.4 65.9h0.5v0.5h-0.5zM446.0 72.9h0.5v0.5h-0.5zM439.6 77.6h0.5v0.5h-0.5zM442.6 71.5h0.5v0.5h-0.5zM463.2 70.5h0.5v0.5h-0.5zM449.3 64.9h0.5v0.5h-0.5zM446.1 70.1h0.5v0.5h-0.5zM473.7 75.5h0.5v0.5h-0.5zM456.3 75.3h0.5v0.5h-0.5zM490.8 66.7h0.5v0.5h-0.5zM456.0 60.4h0.5v0.5h-0.5zM482.1 76.8h0.5v0.5h-0.5zM487.2 74.5h0.5v0.5h-0.5zM479.7 69.0h0.5v0.5h-0.5zM487.8 70.9h0.5v0.5h-0.5zM441.6 73.3h0.5v0.5h-0.5zM484.5 61.9h0.5v0.5h-0.5zM469.5 64.9h0.5v0.5h-0.5zM461.0 67.8h0.5v0.5h-0.5zM489.3 73.5h0.5v0.5h-0.5zM437.6 61.9h0.5v0.5h-0.5zM429.7 69.9h0.5v0.5h-0.5zM496.5 70.0h0.5v0.5h-0.5zM430.2 69.6h0.5v0.5h-0.5zM453.2 67.9h0.5v0.5h-0.5zM448.0 77.2h0.5v0.5h-0.5zM454.5 69.6h0.5v0.5h-0.5zM443.6 77.3h0.5v0.5h-0.5zM451.8 67.0h0.5v0.5h-0.5zM480.3 71.2h0.5v0.5h-0.5zM424.8 75.1h0.5v0.5h-0.5zM438.5 73.3h0.5v0.5h-0.5zM489.1 65.9h0.5v0.5h-0.5zM440.8 74.9h0.5v0.5h-0.5zM437.1 61.0h0.5v0.5h-0.5zM463.8 66.1h0.5v0.5h-0.5zM491.6 73.1h0.5v0.5h-0.5zM426.6 73.5h0.5v0.5h-0.5zM477.1 74.9h0.5v0.5h-0.5zM481.2 69.6h0.5v0.5h-0.5zM495.3 77.5h0.5v0.5h-0.5zM449.9 76.3h0.5v0.5h-0.5zM496.5 77.5h0.5v0.5h-0.5zM466.9 77.6h0.5v0.5h-0.5zM466.3 72.0h0.5v0.5h-0.5zM463.0 76.3h0.5v0.5h-0.5zM481.4 77.6h0.5v0.5h-0.5zM469.6 77.6h0.5v0.5h-0.5zM469.1 77.1h0.5v0.5h-0.5zM483.0 60.8h0.5v0.5h-0.5zM486.6 72.6h0.5v0.5h-0.5z" fill="#555"/>
<path d="M471.3 61.1h0.5v0.5h-0.5zM436.1 65.2h0.5v0.5h-0.5zM483.9 77.6h0.5v0.5h-0.5zM481.3 74.3h0.5v0.5h-0.5zM460.4 65.2h0.5v0.5h-0.5zM481.1 77.5h0.5v0.5h-0.5zM449.8 73.7h0.5v0.5h-0.5zM426.6 69.8h0.5v0.5h-0.5zM425.5 77.4h0.5v0.5h-0.5zM443.3 77.0h0.5v0.5h-0.5zM489.2 70.5h0.5v0.5h-0.5zM490.3 63.5h0.5v0.5h-0.5zM493.0 68.0h0.5v0.5h-0.5zM500.1 62.4h0.5v0.5h-0.5zM444.5 77.0h0.5v0.5h-0.5zM453.9 77.4h0.5v0.5h-0.5zM483.4 75.7h0.5v0.5h-0.5zM425.6 69.5h0.5v0.5h-0.5zM458.5 75.0h0.5v0.5h-0.5zM438.3 71.6h0.5v0.5h-0.5zM472.4 64.4h0.5v0.5h-0.5zM477.9 74.0h0.5v0.5h-0.5zM440.1 74.1h0.5v0.5h-0.5zM464.3 76.5h0.5v0.5h-0.5zM499.3 75.8h0.5v0.5h-0.5zM453.0 63.6h0.5v0.5h-0.5zM451.8 65.7h0.5v0.5h-0.5zM489.7 66.6h0.5v0.5h-0.5zM450.3 77.6h0.5v0.5h-0.5zM467.4 66.5h0.5v0.5h-0.5zM487.8 61.5h0.5v0.5h-0.5zM435.7 76.9h0.5v0.5h-0.5zM467.5 74.9h0.5v0.5h-0.5zM426.5 73.7h0.5v0.5h-0.5zM496.2 71.0h0.5v0.5h-0.5zM425.6 77.5h0.5v0.5h-0.5zM472.5 74.5h0.5v0.5h-0.5zM487.7 73.4h0.5v0.5h-0.5zM443.9 72.9h0.5v0.5h-0.5zM437.9 73.4h0.5v0.5h-0.5zM469.8 60.0h0.5v0.5h-0.5zM425.1 69.5h0.5v0.5h-0.5zM453.8 76.5h0.5v0.5h-0.5zM475.7 64.2h0.5v0.5h-0.5zM495.9 70.0h0.5v0.5h-0.5zM475.9 77.4h0.5v0.5h-0.5zM463.4 77.5h0.5v0.5h-0.5zM444.8 70.1h0.5v0.5h-0.5z" fill="#888"/>
<path d="M477.2 71.0h0.5v0.5h-0.5zM464.4 73.3h0.5v0.5h-0.5zM471.1 65.5h0.5v0.5h-0.5zM487.7 70.4h0.5v0.5h-0.5zM464.6 74.8h0.5v0.5h-0.5zM484.1 72.8h0.5v0.5h-0.5zM448.2 68.2h0.5v0.5h-0.5zM459.7 66.1h0.5v0.5h-0.5zM443.7 61.9h0.5v0.5h-0.5zM475.6 67.3h0.5v0.5h-0.5zM434.3 76.5h0.5v0.5h-0.5zM458.6 71.2h0.5v0.5h-0.5zM465.8 73.7h0.5v0.5h-0.5zM491.0 74.8h0.5v0.5h-0.5zM469.9 67.1h0.5v0.5h-0.5zM500.8 77.6h0.5v0.5h-0.5zM495.4 61.1h0.5v0.5h-0.5zM428.2 76.9h0.5v0.5h-0.5zM499.6 60.9h0.5v0.5h-0.5zM424.3 72.5h0.5v0.5h-0.5zM442.0 74.5h0.5v0.5h-0.5zM495.2 61.3h0.5v0.5h-0.5zM484.6 77.5h0.5v0.5h-0.5zM424.4 64.6h0.5v0.5h-0.5zM438.4 75.0h0.5v0.5h-0.5zM495.9 75.0h0.5v0.5h-0.5zM434.5 62.0h0.5v0.5h-0.5zM445.9 72.5h0.5v0.5h-0.5zM466.0 77.2h0.5v0.5h-0.5zM445.3 68.3h0.5v0.5h-0.5zM495.6 62.6h0.5v0.5h-0.5zM496.8 71.8h0.5v0.5h-0.5zM452.7 77.3h0.5v0.5h-0.5zM496.5 63.1h0.5v0.5h-0.5zM439.8 74.0h0.5v0.5h-0.5zM438.3 73.5h0.5v0.5h-0.5zM478.3 73.1h0.5v0.5h-0.5zM445.0 67.4h0.5v0.5h-0.5zM472.4 76.3h0.5v0.5h-0.5zM464.1 74.0h0.5v0.5h-0.5zM442.4 74.8h0.5v0.5h-0.5zM439.2 71.9h0.5v0.5h-0.5zM457.8 74.6h0.5v0.5h-0.5zM451.3 72.0h0.5v0.5h-0.5zM468.0 60.0h0.5v0.5h-0.5zM467.9 64.0h0.5v0.5h-0.5zM463.1 73.2h0.5v0.5h-0.5zM480.6 77.4h0.5v0.5h-0.5zM495.3 64.4h0.5v0.5h-0.5zM491.3 77.2h0.5v0.5h-0.5zM470.6 76.7h0.5v0.5h-0.5zM465.3 73.0h0.5v0.5h-0.5zM495.9 61.8h0.5v0.5h-0.5zM485.0 61.0h0.5v0.5h-0.5zM499.4 77.4h0.5v0.5h-0.5zM428.5 76.7h0.5v0.5h-0.5zM468.7 72.2h0.5v0.5h-0.5zM500.2 74.1h0.5v0.5h-0.5zM484.3 77.4h0.5v0.5h-0.5zM488.0 75.8h0.5v0.5h-0.5zM450.0 76.2h0.5v0.5h-0.5zM446.9 67.2h0.5v0.5h-0.5zM465.8 74.8h0.5v0.5h-0.5zM464.7 73.5h0.5v0.5h-0.5zM497.0 66.9h0.5v0.5h-0.5zM484.4 67.4h0.5v0.5h-0.5zM473.3 77.4h0.5v0.5h-0.5zM447.4 77.6h0.5v0.5h-0.5zM426.5 67.8h0.5v0.5h-0.5zM486.5 74.3h0.5v0.5h-0.5zM488.7 73.2h0.5v0.5h-0.5zM425.3 67.7h0.5v0.5h-0.5zM429.0 71.1h0.5v0.5h-0.5zM465.3 77.0h0.5v0.5h-0.5z" fill="#aaa"/>
<path d="M453.4 70.9h0.5v0.5h-0.5zM468.7 68.3h0.5v0.5h-0.5zM493.4 65.2h0.5v0.5h-0.5zM477.0 73.0h0.5v0.5h-0.5zM472.6 74.3h0.5v0.5h-0.5zM473.2 72.5h0.5v0.5h-0.5zM470.2 62.8h0.5v0.5h-0.5zM443.8 60.6h0.5v0.5h-0.5zM498.1 77.6h0.5v0.5h-0.5zM473.7 77.4h0.5v0.5h-0.5zM465.8 76.6h0.5v0.5h-0.5zM469.9 74.7h0.5v0.5h-0.5zM480.1 73.3h0.5v0.5h-0.5zM493.3 73.1h0.5v0.5h-0.5zM462.6 77.5h0.5v0.5h-0.5zM481.2 75.5h0.5v0.5h-0.5zM459.5 65.0h0.5v0.5h-0.5zM488.0 75.7h0.5v0.5h-0.5zM493.6 67.7h0.5v0.5h-0.5zM464.1 77.1h0.5v0.5h-0.5zM484.1 73.6h0.5v0.5h-0.5zM459.0 75.1h0.5v0.5h-0.5zM449.6 77.3h0.5v0.5h-0.5zM427.8 61.5h0.5v0.5h-0.5zM454.2 75.4h0.5v0.5h-0.5zM473.5 76.1h0.5v0.5h-0.5zM494.6 77.4h0.5v0.5h-0.5zM486.1 76.6h0.5v0.5h-0.5zM437.2 74.4h0.5v0.5h-0.5zM462.7 74.8h0.5v0.5h-0.5zM442.5 70.5h0.5v0.5h-0.5zM448.4 76.9h0.5v0.5h-0.5zM480.7 74.8h0.5v0.5h-0.5zM487.4 77.5h0.5v0.5h-0.5zM445.9 76.7h0.5v0.5h-0.5zM440.9 63.6h0.5v0.5h-0.5zM453.8 75.6h0.5v0.5h-0.5zM496.3 75.5h0.5v0.5h-0.5zM451.1 77.3h0.5v0.5h-0.5zM497.5 77.3h0.5v0.5h-0.5zM458.1 77.6h0.5v0.5h-0.5zM470.5 77.2h0.5v0.5h-0.5zM460.3 76.8h0.5v0.5h-0.5zM447.1 77.0h0.5v0.5h-0.5zM434.1 76.4h0.5v0.5h-0.5zM430.9 61.4h0.5v0.5h-0.5zM457.4 75.6h0.5v0.5h-0.5zM492.0 70.0h0.5v0.5h-0.5zM493.5 71.5h0.5v0.5h-0.5zM462.6 73.6h0.5v0.5h-0.5zM449.8 63.8h0.5v0.5h-0.5zM435.5 71.0h0.5v0.5h-0.5zM496.0 69.0h0.5v0.5h-0.5zM436.4 71.6h0.5v0.5h-0.5zM444.9 68.8h0.5v0.5h-0.5zM489.9 76.3h0.5v0.5h-0.5zM430.4 76.0h0.5v0.5h-0.5zM479.7 77.6h0.5v0.5h-0.5zM437.5 75.6h0.5v0.5h-0.5zM427.4 77.1h0.5v0.5h-0.5zM439.0 76.6h0.5v0.5h-0.5zM472.4 69.1h0.5v0.5h-0.5zM468.9 60.4h0.5v0.5h-0.5zM475.2 75.5h0.5v0.5h-0.5z" fill="#2a3a8a"/>
<linearGradient id="fg102" x1="0" y1="0" x2="0" y2="1"><stop offset="0" stop-color="#7a8098"/><stop offset="0.18" stop-color="#2e3670"/><stop offset="0.34" stop-color="#3a7050"/><stop offset="0.48" stop-color="#d0702a"/><stop offset="0.62" stop-color="#d8401e"/><stop offset="0.76" stop-color="#d89028"/><stop offset="0.9" stop-color="#4a8040"/><stop offset="1" stop-color="#2c4a80"/></linearGradient>
<polygon points="433.9,77.6 435.6,77.6 437.3,77.6 439.0,77.6 440.7,77.6 442.4,77.6 444.1,77.6 445.8,77.6 447.5,77.6 449.2,77.6 450.8,77.6 452.5,77.6 454.2,77.6 455.9,77.6 457.6,77.6 459.3,77.6 461.0,77.6 462.7,77.6 464.4,77.6 466.1,77.6 467.8,77.6 469.5,77.6 471.2,77.6 472.9,77.6 474.6,77.6 476.3,77.6 478.0,77.6 479.7,77.6 481.4,77.6 483.1,77.6 484.8,77.6 486.4,77.6 488.1,77.6 489.8,77.6 491.5,77.6 493.2,77.6 494.9,77.6 496.6,77.6 498.3,77.6 500.0,77.6 501.7,77.6 501.7,84.3 433.9,84.3" fill="url(#fg102)"/>
<rect x="423.3" y="77.6" width="7.9" height="6.7" fill="url(#fg102)"/>
<path d="M453.3 79.9h0.85v0.85h-0.85zM454.9 81.4h0.85v0.85h-0.85zM487.3 79.5h0.85v0.85h-0.85zM449.4 81.2h0.85v0.85h-0.85zM435.6 79.6h0.85v0.85h-0.85zM450.7 81.3h0.85v0.85h-0.85zM491.0 79.5h0.85v0.85h-0.85zM482.6 79.4h0.85v0.85h-0.85zM498.5 80.8h0.85v0.85h-0.85zM456.0 81.6h0.85v0.85h-0.85zM479.7 80.5h0.85v0.85h-0.85zM451.6 79.5h0.85v0.85h-0.85zM480.6 80.8h0.85v0.85h-0.85zM493.3 81.7h0.85v0.85h-0.85zM440.2 80.7h0.85v0.85h-0.85zM472.8 81.2h0.85v0.85h-0.85zM498.7 80.0h0.85v0.85h-0.85zM426.3 79.8h0.85v0.85h-0.85zM474.3 79.6h0.85v0.85h-0.85zM446.9 82.0h0.85v0.85h-0.85zM467.7 79.5h0.85v0.85h-0.85zM449.7 79.9h0.85v0.85h-0.85zM447.2 81.6h0.85v0.85h-0.85zM486.9 80.5h0.85v0.85h-0.85zM481.2 81.2h0.85v0.85h-0.85zM443.6 80.6h0.85v0.85h-0.85zM447.4 81.5h0.85v0.85h-0.85zM429.6 81.7h0.85v0.85h-0.85zM494.1 79.7h0.85v0.85h-0.85zM494.9 81.5h0.85v0.85h-0.85zM477.7 80.2h0.85v0.85h-0.85zM461.4 82.0h0.85v0.85h-0.85zM480.2 80.1h0.85v0.85h-0.85zM451.2 81.5h0.85v0.85h-0.85zM470.1 80.7h0.85v0.85h-0.85zM499.9 80.7h0.85v0.85h-0.85zM452.5 80.1h0.85v0.85h-0.85zM446.0 80.9h0.85v0.85h-0.85zM427.8 80.2h0.85v0.85h-0.85zM465.9 80.5h0.85v0.85h-0.85zM490.6 79.6h0.85v0.85h-0.85zM479.6 80.8h0.85v0.85h-0.85zM464.7 80.2h0.85v0.85h-0.85zM472.2 80.5h0.85v0.85h-0.85zM481.6 81.9h0.85v0.85h-0.85zM428.0 81.7h0.85v0.85h-0.85zM427.7 79.3h0.85v0.85h-0.85zM495.1 81.0h0.85v0.85h-0.85zM464.2 80.5h0.85v0.85h-0.85zM450.3 81.3h0.85v0.85h-0.85zM464.1 79.4h0.85v0.85h-0.85zM460.2 81.8h0.85v0.85h-0.85zM436.5 79.5h0.85v0.85h-0.85zM452.9 81.7h0.85v0.85h-0.85zM486.1 81.0h0.85v0.85h-0.85zM450.0 81.7h0.85v0.85h-0.85zM452.7 80.9h0.85v0.85h-0.85zM458.6 79.6h0.85v0.85h-0.85zM429.9 79.7h0.85v0.85h-0.85zM425.0 81.9h0.85v0.85h-0.85zM440.6 81.9h0.85v0.85h-0.85zM468.5 80.1h0.85v0.85h-0.85zM491.3 81.6h0.85v0.85h-0.85zM499.1 79.5h0.85v0.85h-0.85zM441.8 81.4h0.85v0.85h-0.85zM429.2 81.5h0.85v0.85h-0.85zM427.7 80.6h0.85v0.85h-0.85zM500.5 81.7h0.85v0.85h-0.85zM454.3 81.7h0.85v0.85h-0.85zM457.1 79.8h0.85v0.85h-0.85zM428.2 79.8h0.85v0.85h-0.85zM484.2 80.1h0.85v0.85h-0.85zM463.3 80.3h0.85v0.85h-0.85zM491.7 81.1h0.85v0.85h-0.85zM494.7 80.1h0.85v0.85h-0.85zM481.4 81.3h0.85v0.85h-0.85zM454.9 80.8h0.85v0.85h-0.85zM478.2 81.8h0.85v0.85h-0.85zM489.1 79.5h0.85v0.85h-0.85zM496.1 81.6h0.85v0.85h-0.85zM455.0 80.5h0.85v0.85h-0.85zM424.3 80.2h0.85v0.85h-0.85zM491.1 81.6h0.85v0.85h-0.85zM481.7 79.4h0.85v0.85h-0.85zM473.9 80.3h0.85v0.85h-0.85zM499.6 79.4h0.85v0.85h-0.85zM460.1 80.7h0.85v0.85h-0.85zM451.7 81.8h0.85v0.85h-0.85zM435.8 79.8h0.85v0.85h-0.85zM457.2 81.6h0.85v0.85h-0.85zM458.4 81.3h0.85v0.85h-0.85zM462.5 79.9h0.85v0.85h-0.85zM467.1 80.9h0.85v0.85h-0.85zM472.5 79.8h0.85v0.85h-0.85zM499.8 81.4h0.85v0.85h-0.85zM449.0 80.5h0.85v0.85h-0.85zM449.2 81.6h0.85v0.85h-0.85zM435.3 81.4h0.85v0.85h-0.85zM487.3 80.9h0.85v0.85h-0.85zM464.0 81.5h0.85v0.85h-0.85zM430.8 81.8h0.85v0.85h-0.85zM499.2 80.5h0.85v0.85h-0.85zM481.7 80.5h0.85v0.85h-0.85zM470.0 81.0h0.85v0.85h-0.85z" fill="#e07a22"/>
<path d="M426.8 83.1h0.85v0.85h-0.85zM498.8 78.1h0.85v0.85h-0.85zM451.8 83.0h0.85v0.85h-0.85zM500.9 83.2h0.85v0.85h-0.85zM430.6 77.6h0.85v0.85h-0.85zM482.2 77.6h0.85v0.85h-0.85zM475.2 78.2h0.85v0.85h-0.85zM457.4 83.0h0.85v0.85h-0.85zM449.9 79.2h0.85v0.85h-0.85zM500.3 79.1h0.85v0.85h-0.85zM467.1 78.5h0.85v0.85h-0.85zM499.1 78.5h0.85v0.85h-0.85zM434.2 77.9h0.85v0.85h-0.85zM480.7 79.1h0.85v0.85h-0.85zM467.8 78.8h0.85v0.85h-0.85zM462.3 78.3h0.85v0.85h-0.85zM471.6 83.7h0.85v0.85h-0.85zM462.7 83.3h0.85v0.85h-0.85zM477.1 83.6h0.85v0.85h-0.85zM480.9 78.6h0.85v0.85h-0.85zM466.4 78.9h0.85v0.85h-0.85zM454.6 77.9h0.85v0.85h-0.85zM450.6 78.1h0.85v0.85h-0.85zM498.6 78.4h0.85v0.85h-0.85zM443.2 83.5h0.85v0.85h-0.85zM464.2 82.5h0.85v0.85h-0.85zM473.6 83.2h0.85v0.85h-0.85zM430.3 78.9h0.85v0.85h-0.85zM475.9 78.2h0.85v0.85h-0.85zM494.1 77.9h0.85v0.85h-0.85zM493.3 78.0h0.85v0.85h-0.85zM458.6 77.6h0.85v0.85h-0.85zM426.8 78.6h0.85v0.85h-0.85zM491.5 77.7h0.85v0.85h-0.85zM470.3 83.0h0.85v0.85h-0.85zM495.3 77.5h0.85v0.85h-0.85zM451.0 78.9h0.85v0.85h-0.85zM469.6 77.9h0.85v0.85h-0.85zM449.0 82.8h0.85v0.85h-0.85zM498.6 82.3h0.85v0.85h-0.85zM495.0 77.5h0.85v0.85h-0.85zM458.7 77.8h0.85v0.85h-0.85zM435.3 83.7h0.85v0.85h-0.85zM445.8 78.3h0.85v0.85h-0.85zM482.9 78.1h0.85v0.85h-0.85zM482.0 82.5h0.85v0.85h-0.85zM465.5 78.7h0.85v0.85h-0.85zM455.3 82.1h0.85v0.85h-0.85zM498.4 77.7h0.85v0.85h-0.85zM495.0 83.1h0.85v0.85h-0.85zM438.4 79.0h0.85v0.85h-0.85zM448.6 78.2h0.85v0.85h-0.85zM467.3 79.2h0.85v0.85h-0.85zM479.6 79.2h0.85v0.85h-0.85zM477.9 83.7h0.85v0.85h-0.85zM481.5 83.0h0.85v0.85h-0.85zM466.2 79.0h0.85v0.85h-0.85zM486.3 83.8h0.85v0.85h-0.85zM470.0 78.2h0.85v0.85h-0.85zM491.8 78.7h0.85v0.85h-0.85zM440.1 78.0h0.85v0.85h-0.85zM426.5 82.9h0.85v0.85h-0.85zM468.3 77.5h0.85v0.85h-0.85zM423.9 77.5h0.85v0.85h-0.85zM438.8 83.4h0.85v0.85h-0.85zM479.2 82.7h0.85v0.85h-0.85zM495.4 79.0h0.85v0.85h-0.85zM489.7 78.6h0.85v0.85h-0.85zM499.7 79.1h0.85v0.85h-0.85zM424.4 83.3h0.85v0.85h-0.85zM461.2 78.5h0.85v0.85h-0.85zM496.6 79.1h0.85v0.85h-0.85zM480.6 83.3h0.85v0.85h-0.85zM490.4 78.1h0.85v0.85h-0.85zM483.5 83.6h0.85v0.85h-0.85zM476.7 78.4h0.85v0.85h-0.85zM469.2 82.3h0.85v0.85h-0.85zM448.6 79.2h0.85v0.85h-0.85zM445.1 77.6h0.85v0.85h-0.85zM429.0 83.5h0.85v0.85h-0.85zM498.0 77.5h0.85v0.85h-0.85zM499.6 78.0h0.85v0.85h-0.85zM427.7 78.5h0.85v0.85h-0.85zM462.6 78.6h0.85v0.85h-0.85zM451.1 78.8h0.85v0.85h-0.85zM451.2 78.4h0.85v0.85h-0.85zM423.4 78.8h0.85v0.85h-0.85zM449.9 83.0h0.85v0.85h-0.85zM480.3 79.0h0.85v0.85h-0.85zM437.5 77.4h0.85v0.85h-0.85zM434.2 78.7h0.85v0.85h-0.85zM490.6 83.3h0.85v0.85h-0.85zM477.3 83.8h0.85v0.85h-0.85zM453.3 78.2h0.85v0.85h-0.85zM458.2 83.0h0.85v0.85h-0.85zM446.5 78.6h0.85v0.85h-0.85zM478.7 82.8h0.85v0.85h-0.85zM497.5 82.9h0.85v0.85h-0.85zM475.1 79.1h0.85v0.85h-0.85zM451.8 82.3h0.85v0.85h-0.85zM494.4 82.6h0.85v0.85h-0.85zM475.1 83.4h0.85v0.85h-0.85zM474.6 82.2h0.85v0.85h-0.85zM485.3 83.1h0.85v0.85h-0.85zM494.5 77.6h0.85v0.85h-0.85zM452.9 78.6h0.85v0.85h-0.85zM488.5 82.4h0.85v0.85h-0.85zM498.7 78.5h0.85v0.85h-0.85zM450.2 78.3h0.85v0.85h-0.85zM495.0 79.0h0.85v0.85h-0.85zM499.5 79.1h0.85v0.85h-0.85zM467.3 83.2h0.85v0.85h-0.85zM465.4 78.7h0.85v0.85h-0.85zM479.1 78.6h0.85v0.85h-0.85zM464.4 82.0h0.85v0.85h-0.85zM493.6 78.5h0.85v0.85h-0.85zM466.8 79.0h0.85v0.85h-0.85zM448.6 78.7h0.85v0.85h-0.85zM443.7 83.0h0.85v0.85h-0.85zM424.4 78.3h0.85v0.85h-0.85zM443.6 83.6h0.85v0.85h-0.85zM440.6 83.5h0.85v0.85h-0.85zM435.2 83.3h0.85v0.85h-0.85zM428.6 77.7h0.85v0.85h-0.85zM454.4 78.3h0.85v0.85h-0.85zM460.3 77.4h0.85v0.85h-0.85zM485.1 82.7h0.85v0.85h-0.85zM453.3 78.2h0.85v0.85h-0.85zM483.3 79.1h0.85v0.85h-0.85zM449.6 82.1h0.85v0.85h-0.85zM485.3 78.8h0.85v0.85h-0.85zM475.2 83.0h0.85v0.85h-0.85zM455.2 82.0h0.85v0.85h-0.85zM426.5 83.6h0.85v0.85h-0.85zM462.5 78.8h0.85v0.85h-0.85zM435.0 79.1h0.85v0.85h-0.85zM438.0 83.2h0.85v0.85h-0.85zM498.0 79.1h0.85v0.85h-0.85zM470.7 78.6h0.85v0.85h-0.85zM482.3 78.7h0.85v0.85h-0.85zM484.2 83.1h0.85v0.85h-0.85zM466.2 78.6h0.85v0.85h-0.85zM472.9 79.0h0.85v0.85h-0.85zM466.0 78.8h0.85v0.85h-0.85zM461.1 79.1h0.85v0.85h-0.85z" fill="#2c3478"/>
<path d="M425.6 78.2h0.85v0.85h-0.85zM456.3 78.3h0.85v0.85h-0.85zM491.5 77.6h0.85v0.85h-0.85zM444.1 78.7h0.85v0.85h-0.85zM500.6 78.6h0.85v0.85h-0.85zM478.9 77.8h0.85v0.85h-0.85zM449.6 77.5h0.85v0.85h-0.85zM496.0 77.9h0.85v0.85h-0.85zM477.4 78.3h0.85v0.85h-0.85zM463.1 77.5h0.85v0.85h-0.85zM424.9 78.1h0.85v0.85h-0.85zM469.6 78.4h0.85v0.85h-0.85zM453.8 78.1h0.85v0.85h-0.85zM427.1 77.5h0.85v0.85h-0.85zM500.6 77.7h0.85v0.85h-0.85zM462.3 78.8h0.85v0.85h-0.85zM489.8 77.9h0.85v0.85h-0.85zM454.6 77.9h0.85v0.85h-0.85zM423.7 78.1h0.85v0.85h-0.85zM445.9 78.2h0.85v0.85h-0.85zM437.5 78.4h0.85v0.85h-0.85zM455.0 78.9h0.85v0.85h-0.85zM423.6 78.0h0.85v0.85h-0.85zM501.1 78.5h0.85v0.85h-0.85zM459.3 77.8h0.85v0.85h-0.85zM442.9 77.6h0.85v0.85h-0.85zM436.8 79.2h0.85v0.85h-0.85zM492.8 78.4h0.85v0.85h-0.85zM494.4 78.1h0.85v0.85h-0.85zM448.1 77.7h0.85v0.85h-0.85zM491.1 79.2h0.85v0.85h-0.85zM436.4 78.9h0.85v0.85h-0.85zM425.4 78.5h0.85v0.85h-0.85zM487.1 78.1h0.85v0.85h-0.85zM497.6 78.3h0.85v0.85h-0.85zM423.9 77.7h0.85v0.85h-0.85zM452.7 77.6h0.85v0.85h-0.85zM473.9 77.9h0.85v0.85h-0.85zM471.6 77.6h0.85v0.85h-0.85zM447.3 78.2h0.85v0.85h-0.85zM477.6 79.2h0.85v0.85h-0.85zM447.9 77.7h0.85v0.85h-0.85zM487.6 78.0h0.85v0.85h-0.85zM443.9 78.0h0.85v0.85h-0.85zM442.7 77.6h0.85v0.85h-0.85zM428.5 78.0h0.85v0.85h-0.85zM487.8 77.9h0.85v0.85h-0.85zM437.6 78.9h0.85v0.85h-0.85z" fill="#333"/>
<path d="M442.7 83.2h0.85v0.85h-0.85zM485.3 79.7h0.85v0.85h-0.85zM490.3 78.7h0.85v0.85h-0.85zM493.2 82.0h0.85v0.85h-0.85zM469.7 78.6h0.85v0.85h-0.85zM465.3 78.9h0.85v0.85h-0.85zM461.5 79.9h0.85v0.85h-0.85zM471.2 79.3h0.85v0.85h-0.85zM425.8 79.4h0.85v0.85h-0.85zM472.9 78.9h0.85v0.85h-0.85zM435.2 79.2h0.85v0.85h-0.85zM434.6 79.7h0.85v0.85h-0.85zM498.9 79.4h0.85v0.85h-0.85zM498.8 82.8h0.85v0.85h-0.85zM495.8 83.1h0.85v0.85h-0.85zM483.8 79.3h0.85v0.85h-0.85zM480.0 82.6h0.85v0.85h-0.85zM457.2 83.7h0.85v0.85h-0.85zM466.3 78.7h0.85v0.85h-0.85zM424.7 82.4h0.85v0.85h-0.85zM454.1 78.3h0.85v0.85h-0.85zM480.6 79.0h0.85v0.85h-0.85zM460.9 78.7h0.85v0.85h-0.85zM437.6 83.6h0.85v0.85h-0.85zM450.4 82.1h0.85v0.85h-0.85zM481.8 82.1h0.85v0.85h-0.85zM458.1 82.8h0.85v0.85h-0.85zM426.7 78.8h0.85v0.85h-0.85zM470.1 78.9h0.85v0.85h-0.85zM425.1 83.5h0.85v0.85h-0.85zM498.2 79.8h0.85v0.85h-0.85zM480.9 82.3h0.85v0.85h-0.85zM425.0 83.1h0.85v0.85h-0.85zM481.0 82.3h0.85v0.85h-0.85zM492.9 82.1h0.85v0.85h-0.85zM434.9 78.9h0.85v0.85h-0.85zM440.4 79.2h0.85v0.85h-0.85zM497.3 83.2h0.85v0.85h-0.85zM489.6 79.3h0.85v0.85h-0.85zM460.2 82.6h0.85v0.85h-0.85zM475.6 82.6h0.85v0.85h-0.85zM492.7 82.3h0.85v0.85h-0.85zM489.0 78.3h0.85v0.85h-0.85zM442.6 83.3h0.85v0.85h-0.85zM451.7 82.9h0.85v0.85h-0.85zM435.3 83.4h0.85v0.85h-0.85zM474.9 83.1h0.85v0.85h-0.85zM462.2 82.9h0.85v0.85h-0.85zM481.3 79.2h0.85v0.85h-0.85zM491.6 82.8h0.85v0.85h-0.85zM451.5 83.6h0.85v0.85h-0.85zM470.0 80.0h0.85v0.85h-0.85zM451.6 82.4h0.85v0.85h-0.85zM486.0 79.7h0.85v0.85h-0.85zM457.9 83.2h0.85v0.85h-0.85zM471.2 82.2h0.85v0.85h-0.85zM450.8 78.4h0.85v0.85h-0.85zM470.3 83.5h0.85v0.85h-0.85zM464.6 80.1h0.85v0.85h-0.85zM453.2 83.0h0.85v0.85h-0.85zM456.1 79.3h0.85v0.85h-0.85zM435.7 82.3h0.85v0.85h-0.85zM474.8 78.9h0.85v0.85h-0.85zM500.6 82.3h0.85v0.85h-0.85zM465.7 78.4h0.85v0.85h-0.85zM459.5 82.7h0.85v0.85h-0.85zM456.8 79.8h0.85v0.85h-0.85zM445.8 79.8h0.85v0.85h-0.85zM494.6 82.0h0.85v0.85h-0.85zM499.1 82.7h0.85v0.85h-0.85zM454.5 82.6h0.85v0.85h-0.85zM444.3 78.4h0.85v0.85h-0.85zM484.6 83.6h0.85v0.85h-0.85zM479.3 79.1h0.85v0.85h-0.85zM468.6 78.4h0.85v0.85h-0.85zM440.6 82.0h0.85v0.85h-0.85zM440.9 82.7h0.85v0.85h-0.85zM469.8 83.7h0.85v0.85h-0.85zM473.1 82.6h0.85v0.85h-0.85zM485.8 80.0h0.85v0.85h-0.85zM447.8 80.1h0.85v0.85h-0.85zM500.3 82.1h0.85v0.85h-0.85zM451.9 82.1h0.85v0.85h-0.85zM483.1 82.2h0.85v0.85h-0.85zM461.4 82.0h0.85v0.85h-0.85zM460.1 83.7h0.85v0.85h-0.85zM453.3 82.9h0.85v0.85h-0.85zM485.9 82.3h0.85v0.85h-0.85zM492.0 78.5h0.85v0.85h-0.85zM485.8 82.0h0.85v0.85h-0.85zM486.5 80.0h0.85v0.85h-0.85zM461.1 82.0h0.85v0.85h-0.85zM475.6 78.8h0.85v0.85h-0.85zM473.4 79.7h0.85v0.85h-0.85zM436.1 78.3h0.85v0.85h-0.85zM501.0 82.9h0.85v0.85h-0.85zM457.7 79.7h0.85v0.85h-0.85zM467.9 78.9h0.85v0.85h-0.85zM430.3 78.8h0.85v0.85h-0.85zM470.0 79.3h0.85v0.85h-0.85zM476.1 79.3h0.85v0.85h-0.85zM427.2 79.6h0.85v0.85h-0.85zM450.4 79.7h0.85v0.85h-0.85zM424.4 80.0h0.85v0.85h-0.85zM498.4 78.5h0.85v0.85h-0.85zM483.4 79.9h0.85v0.85h-0.85zM477.1 82.9h0.85v0.85h-0.85zM439.3 78.4h0.85v0.85h-0.85zM459.2 82.5h0.85v0.85h-0.85zM446.7 82.2h0.85v0.85h-0.85zM490.0 82.0h0.85v0.85h-0.85zM485.5 82.2h0.85v0.85h-0.85zM449.0 79.1h0.85v0.85h-0.85zM451.4 82.6h0.85v0.85h-0.85zM463.4 79.5h0.85v0.85h-0.85zM458.6 82.0h0.85v0.85h-0.85zM446.5 83.3h0.85v0.85h-0.85zM483.6 82.0h0.85v0.85h-0.85zM476.8 82.1h0.85v0.85h-0.85zM440.1 80.0h0.85v0.85h-0.85zM465.4 82.9h0.85v0.85h-0.85zM461.8 79.7h0.85v0.85h-0.85zM470.4 78.7h0.85v0.85h-0.85zM436.2 82.1h0.85v0.85h-0.85zM464.4 79.6h0.85v0.85h-0.85zM493.0 79.3h0.85v0.85h-0.85zM445.7 80.1h0.85v0.85h-0.85zM493.6 78.3h0.85v0.85h-0.85zM470.3 83.8h0.85v0.85h-0.85zM451.6 78.4h0.85v0.85h-0.85zM455.4 79.7h0.85v0.85h-0.85zM486.7 83.6h0.85v0.85h-0.85zM489.3 82.4h0.85v0.85h-0.85zM484.4 82.0h0.85v0.85h-0.85zM493.7 83.3h0.85v0.85h-0.85zM492.8 79.4h0.85v0.85h-0.85zM459.3 83.7h0.85v0.85h-0.85zM456.2 78.9h0.85v0.85h-0.85zM469.3 78.5h0.85v0.85h-0.85zM445.7 79.8h0.85v0.85h-0.85zM469.2 82.8h0.85v0.85h-0.85zM488.6 83.7h0.85v0.85h-0.85zM441.5 82.2h0.85v0.85h-0.85zM456.3 82.1h0.85v0.85h-0.85zM480.2 79.5h0.85v0.85h-0.85zM444.3 82.7h0.85v0.85h-0.85zM476.0 80.0h0.85v0.85h-0.85zM490.2 82.9h0.85v0.85h-0.85zM449.9 82.3h0.85v0.85h-0.85zM484.0 82.0h0.85v0.85h-0.85zM496.7 80.0h0.85v0.85h-0.85z" fill="#3a8a48"/>
<path d="M441.9 81.8h0.85v0.85h-0.85zM490.9 80.0h0.85v0.85h-0.85zM500.7 79.3h0.85v0.85h-0.85zM486.0 82.7h0.85v0.85h-0.85zM469.1 82.9h0.85v0.85h-0.85zM453.4 81.9h0.85v0.85h-0.85zM441.6 82.1h0.85v0.85h-0.85zM449.6 80.0h0.85v0.85h-0.85zM490.3 82.5h0.85v0.85h-0.85zM425.6 79.6h0.85v0.85h-0.85zM429.7 79.6h0.85v0.85h-0.85zM449.8 81.6h0.85v0.85h-0.85zM483.9 82.4h0.85v0.85h-0.85zM495.9 81.7h0.85v0.85h-0.85zM492.3 82.0h0.85v0.85h-0.85zM439.4 81.5h0.85v0.85h-0.85zM443.7 81.9h0.85v0.85h-0.85zM468.9 79.9h0.85v0.85h-0.85zM470.7 81.8h0.85v0.85h-0.85zM459.2 81.8h0.85v0.85h-0.85zM466.8 81.4h0.85v0.85h-0.85zM496.9 81.8h0.85v0.85h-0.85zM443.1 79.9h0.85v0.85h-0.85zM454.4 81.9h0.85v0.85h-0.85zM447.6 81.4h0.85v0.85h-0.85zM423.5 82.6h0.85v0.85h-0.85zM437.2 81.3h0.85v0.85h-0.85zM464.5 82.7h0.85v0.85h-0.85zM447.8 82.1h0.85v0.85h-0.85zM439.9 79.3h0.85v0.85h-0.85zM466.9 82.1h0.85v0.85h-0.85zM488.1 81.9h0.85v0.85h-0.85zM435.9 80.0h0.85v0.85h-0.85zM452.5 79.6h0.85v0.85h-0.85zM455.9 81.7h0.85v0.85h-0.85zM448.6 81.4h0.85v0.85h-0.85zM424.2 81.8h0.85v0.85h-0.85zM457.2 81.7h0.85v0.85h-0.85zM485.4 81.9h0.85v0.85h-0.85zM427.2 81.8h0.85v0.85h-0.85zM461.6 81.7h0.85v0.85h-0.85zM479.1 82.7h0.85v0.85h-0.85zM465.3 81.8h0.85v0.85h-0.85zM474.4 81.7h0.85v0.85h-0.85zM477.2 79.8h0.85v0.85h-0.85zM496.9 82.7h0.85v0.85h-0.85zM488.0 79.8h0.85v0.85h-0.85zM462.1 81.5h0.85v0.85h-0.85zM441.2 82.1h0.85v0.85h-0.85zM442.2 81.7h0.85v0.85h-0.85zM429.2 81.2h0.85v0.85h-0.85zM439.6 81.2h0.85v0.85h-0.85zM469.0 81.5h0.85v0.85h-0.85zM441.6 81.3h0.85v0.85h-0.85zM436.8 81.9h0.85v0.85h-0.85zM448.9 81.3h0.85v0.85h-0.85zM480.8 81.9h0.85v0.85h-0.85zM440.3 80.0h0.85v0.85h-0.85zM479.4 81.1h0.85v0.85h-0.85zM487.9 82.8h0.85v0.85h-0.85zM493.9 81.2h0.85v0.85h-0.85zM465.4 82.2h0.85v0.85h-0.85zM429.6 80.0h0.85v0.85h-0.85zM499.3 81.5h0.85v0.85h-0.85zM468.9 79.3h0.85v0.85h-0.85zM481.7 79.3h0.85v0.85h-0.85zM462.2 82.6h0.85v0.85h-0.85zM435.6 81.3h0.85v0.85h-0.85zM426.4 82.1h0.85v0.85h-0.85zM484.2 81.6h0.85v0.85h-0.85zM476.1 81.3h0.85v0.85h-0.85zM492.5 82.6h0.85v0.85h-0.85z" fill="#e0c030"/>
<path d="M462.6 80.2h0.85v0.85h-0.85zM473.6 80.5h0.85v0.85h-0.85zM494.5 80.6h0.85v0.85h-0.85zM477.4 80.6h0.85v0.85h-0.85zM424.1 80.8h0.85v0.85h-0.85zM464.6 81.6h0.85v0.85h-0.85zM489.0 80.2h0.85v0.85h-0.85zM478.9 81.2h0.85v0.85h-0.85zM434.9 80.5h0.85v0.85h-0.85zM474.5 80.9h0.85v0.85h-0.85zM489.7 81.2h0.85v0.85h-0.85zM478.4 80.2h0.85v0.85h-0.85zM462.6 81.0h0.85v0.85h-0.85zM499.6 81.0h0.85v0.85h-0.85zM457.6 81.3h0.85v0.85h-0.85zM451.6 80.7h0.85v0.85h-0.85zM468.5 81.7h0.85v0.85h-0.85zM444.8 80.9h0.85v0.85h-0.85zM426.9 81.9h0.85v0.85h-0.85zM425.1 81.8h0.85v0.85h-0.85zM445.1 80.5h0.85v0.85h-0.85zM443.0 81.0h0.85v0.85h-0.85zM461.0 81.0h0.85v0.85h-0.85zM469.2 80.8h0.85v0.85h-0.85zM447.5 81.6h0.85v0.85h-0.85zM428.8 81.0h0.85v0.85h-0.85zM436.2 80.6h0.85v0.85h-0.85zM491.7 80.8h0.85v0.85h-0.85zM474.2 80.2h0.85v0.85h-0.85zM455.0 81.9h0.85v0.85h-0.85zM477.1 80.4h0.85v0.85h-0.85zM436.6 81.0h0.85v0.85h-0.85zM470.8 80.7h0.85v0.85h-0.85zM470.3 81.0h0.85v0.85h-0.85zM495.1 80.4h0.85v0.85h-0.85zM438.5 81.0h0.85v0.85h-0.85zM456.7 81.0h0.85v0.85h-0.85zM443.1 81.4h0.85v0.85h-0.85zM450.6 81.5h0.85v0.85h-0.85zM472.8 80.4h0.85v0.85h-0.85zM485.8 80.4h0.85v0.85h-0.85zM428.9 81.8h0.85v0.85h-0.85zM477.0 80.8h0.85v0.85h-0.85zM494.1 80.7h0.85v0.85h-0.85zM485.4 81.2h0.85v0.85h-0.85zM451.0 80.7h0.85v0.85h-0.85zM466.6 80.6h0.85v0.85h-0.85zM467.6 80.4h0.85v0.85h-0.85zM443.4 80.2h0.85v0.85h-0.85zM465.3 80.3h0.85v0.85h-0.85zM469.4 80.8h0.85v0.85h-0.85zM455.0 80.3h0.85v0.85h-0.85zM427.8 80.6h0.85v0.85h-0.85zM466.1 81.8h0.85v0.85h-0.85zM501.1 80.2h0.85v0.85h-0.85zM441.6 80.3h0.85v0.85h-0.85zM465.4 81.9h0.85v0.85h-0.85zM482.6 81.0h0.85v0.85h-0.85zM427.3 80.5h0.85v0.85h-0.85zM457.3 80.8h0.85v0.85h-0.85zM489.2 80.3h0.85v0.85h-0.85zM446.1 80.6h0.85v0.85h-0.85zM454.6 81.6h0.85v0.85h-0.85zM479.6 81.4h0.85v0.85h-0.85zM480.5 80.6h0.85v0.85h-0.85zM478.5 80.9h0.85v0.85h-0.85zM459.9 80.5h0.85v0.85h-0.85zM487.8 80.7h0.85v0.85h-0.85zM463.9 80.7h0.85v0.85h-0.85zM438.3 80.8h0.85v0.85h-0.85zM479.6 80.9h0.85v0.85h-0.85zM469.2 81.0h0.85v0.85h-0.85zM430.5 80.4h0.85v0.85h-0.85zM464.3 80.8h0.85v0.85h-0.85zM494.7 80.6h0.85v0.85h-0.85z" fill="#d8301e"/>
<path d="M437.4 83.7h0.85v0.85h-0.85zM478.8 83.7h0.85v0.85h-0.85zM444.9 83.6h0.85v0.85h-0.85zM499.6 83.7h0.85v0.85h-0.85zM467.9 83.2h0.85v0.85h-0.85zM443.2 83.7h0.85v0.85h-0.85zM465.7 83.0h0.85v0.85h-0.85zM425.7 83.1h0.85v0.85h-0.85zM490.8 83.4h0.85v0.85h-0.85zM469.4 83.2h0.85v0.85h-0.85zM450.4 83.3h0.85v0.85h-0.85zM466.6 83.2h0.85v0.85h-0.85zM440.7 83.7h0.85v0.85h-0.85zM469.2 83.4h0.85v0.85h-0.85zM500.5 83.6h0.85v0.85h-0.85zM490.9 83.2h0.85v0.85h-0.85zM450.6 83.6h0.85v0.85h-0.85z" fill="#3a58a8"/>
<path d="M487.5 78.0h0.85v0.85h-0.85zM479.1 77.6h0.85v0.85h-0.85zM478.8 77.7h0.85v0.85h-0.85zM462.1 78.1h0.85v0.85h-0.85zM493.4 78.1h0.85v0.85h-0.85zM428.2 78.2h0.85v0.85h-0.85zM427.2 77.8h0.85v0.85h-0.85zM487.0 78.2h0.85v0.85h-0.85zM491.7 78.3h0.85v0.85h-0.85zM446.5 77.5h0.85v0.85h-0.85zM449.6 78.0h0.85v0.85h-0.85zM476.5 78.3h0.85v0.85h-0.85zM453.3 78.0h0.85v0.85h-0.85zM429.4 78.0h0.85v0.85h-0.85zM463.6 77.5h0.85v0.85h-0.85zM499.5 77.8h0.85v0.85h-0.85z" fill="#8a8a9a"/>
<rect x="433.90" y="76.60" width="1.10" height="7.70" fill="#d8301c"/>
<text x="424.80" y="63.20" font-size="3.6" stroke="#111" stroke-width="0.13">anti-CD28 (15E8, 20 µg/mL)</text>
<text x="413.40" y="62.20" font-size="4.8" fill="#555" stroke="#555" stroke-width="0.13">10<tspan font-size="3.0" dy="-2.1">4</tspan></text>
<text x="413.40" y="68.40" font-size="4.8" fill="#555" stroke="#555" stroke-width="0.13">10<tspan font-size="3.0" dy="-2.1">2</tspan></text>
<text x="413.40" y="74.10" font-size="4.8" fill="#555" stroke="#555" stroke-width="0.13">10<tspan font-size="3.0" dy="-2.1">1</tspan></text>
<text x="413.40" y="80.80" font-size="4.8" fill="#555" stroke="#555" stroke-width="0.13">10<tspan font-size="3.0" dy="-2.1">0</tspan></text>
<rect x="423.00" y="86.30" width="79.00" height="25.70" fill="#fff" stroke="#b0b0b0" stroke-width="0.6"/>
<linearGradient id="h103" x1="0" y1="0" x2="0" y2="1"><stop offset="0" stop-color="#888" stop-opacity="0"/><stop offset="1" stop-color="#666" stop-opacity="0.45"/></linearGradient>
<polygon points="433.9,97.8 435.6,97.5 437.3,97.2 439.0,96.9 440.7,96.6 442.4,96.3 444.1,96.0 445.8,95.7 447.5,95.4 449.2,95.1 450.8,94.8 452.5,94.5 454.2,94.2 455.9,94.0 457.6,93.7 459.3,93.5 461.0,93.5 462.7,93.5 464.4,93.5 466.1,93.5 467.8,93.5 469.5,93.5 471.2,93.5 472.9,93.5 474.6,93.5 476.3,93.5 478.0,93.5 479.7,93.5 481.4,93.5 483.1,93.5 484.8,93.5 486.4,93.5 488.1,93.5 489.8,93.5 491.5,93.5 493.2,93.5 494.9,93.5 496.6,93.5 498.3,93.5 500.0,93.5 501.7,93.5 501.7,100.5 500.0,100.5 498.3,100.5 496.6,100.5 494.9,100.5 493.2,100.5 491.5,100.5 489.8,100.5 488.1,100.5 486.4,100.5 484.8,100.5 483.1,100.5 481.4,100.5 479.7,100.5 478.0,100.5 476.3,100.5 474.6,100.5 472.9,100.5 471.2,100.5 469.5,100.5 467.8,100.5 466.1,100.5 464.4,100.5 462.7,100.5 461.0,100.5 459.3,100.5 457.6,100.7 455.9,101.0 454.2,101.2 452.5,101.5 450.8,101.8 449.2,102.1 447.5,102.4 445.8,102.7 444.1,103.0 442.4,103.3 440.7,103.6 439.0,103.9 437.3,104.2 435.6,104.5 433.9,104.8" fill="url(#h103)"/>
<rect x="423.3" y="98.0" width="7.9" height="7.0" fill="url(#h103)"/>
<path d="M477.1 89.9h0.5v0.5h-0.5zM491.4 100.3h0.5v0.5h-0.5zM468.9 88.5h0.5v0.5h-0.5zM438.5 99.5h0.5v0.5h-0.5zM495.0 100.4h0.5v0.5h-0.5zM447.3 95.9h0.5v0.5h-0.5zM500.3 96.5h0.5v0.5h-0.5zM487.2 98.0h0.5v0.5h-0.5zM430.1 97.3h0.5v0.5h-0.5zM450.4 100.4h0.5v0.5h-0.5zM424.2 100.9h0.5v0.5h-0.5zM459.4 94.7h0.5v0.5h-0.5zM484.3 96.7h0.5v0.5h-0.5zM464.7 91.1h0.5v0.5h-0.5zM477.4 99.7h0.5v0.5h-0.5zM449.1 101.9h0.5v0.5h-0.5zM478.0 95.3h0.5v0.5h-0.5zM474.7 100.5h0.5v0.5h-0.5zM478.8 99.8h0.5v0.5h-0.5zM439.0 102.9h0.5v0.5h-0.5zM460.1 100.3h0.5v0.5h-0.5zM474.3 96.4h0.5v0.5h-0.5zM444.9 94.9h0.5v0.5h-0.5zM446.9 95.5h0.5v0.5h-0.5zM498.5 94.4h0.5v0.5h-0.5zM441.7 91.0h0.5v0.5h-0.5zM491.9 91.7h0.5v0.5h-0.5zM463.1 92.9h0.5v0.5h-0.5zM456.4 100.7h0.5v0.5h-0.5zM448.1 100.9h0.5v0.5h-0.5zM464.0 96.7h0.5v0.5h-0.5zM447.0 89.3h0.5v0.5h-0.5zM435.8 96.2h0.5v0.5h-0.5zM434.8 91.6h0.5v0.5h-0.5zM484.5 100.1h0.5v0.5h-0.5zM484.1 94.3h0.5v0.5h-0.5zM430.7 103.7h0.5v0.5h-0.5zM485.3 94.5h0.5v0.5h-0.5zM487.1 94.7h0.5v0.5h-0.5zM478.7 90.7h0.5v0.5h-0.5zM425.6 96.7h0.5v0.5h-0.5zM485.0 97.6h0.5v0.5h-0.5zM429.9 105.0h0.5v0.5h-0.5zM500.0 100.4h0.5v0.5h-0.5zM429.7 90.7h0.5v0.5h-0.5zM499.9 100.1h0.5v0.5h-0.5zM456.4 97.6h0.5v0.5h-0.5zM495.0 91.4h0.5v0.5h-0.5zM494.6 97.4h0.5v0.5h-0.5zM424.8 95.3h0.5v0.5h-0.5zM485.2 100.2h0.5v0.5h-0.5zM451.6 91.8h0.5v0.5h-0.5zM478.9 100.5h0.5v0.5h-0.5zM425.5 101.5h0.5v0.5h-0.5zM497.5 95.7h0.5v0.5h-0.5zM475.6 100.4h0.5v0.5h-0.5zM467.8 94.2h0.5v0.5h-0.5zM469.2 96.7h0.5v0.5h-0.5zM448.3 101.9h0.5v0.5h-0.5zM471.0 90.8h0.5v0.5h-0.5zM474.3 98.7h0.5v0.5h-0.5zM468.8 100.2h0.5v0.5h-0.5zM491.6 92.1h0.5v0.5h-0.5zM468.9 97.1h0.5v0.5h-0.5zM434.7 104.5h0.5v0.5h-0.5zM473.2 97.1h0.5v0.5h-0.5z" fill="#222"/>
<path d="M499.7 97.9h0.5v0.5h-0.5zM441.0 103.3h0.5v0.5h-0.5zM442.1 102.5h0.5v0.5h-0.5zM471.3 100.3h0.5v0.5h-0.5zM459.9 96.1h0.5v0.5h-0.5zM461.3 100.3h0.5v0.5h-0.5zM487.8 89.6h0.5v0.5h-0.5zM478.1 97.4h0.5v0.5h-0.5zM488.7 87.9h0.5v0.5h-0.5zM444.5 96.2h0.5v0.5h-0.5zM459.0 98.4h0.5v0.5h-0.5zM440.1 102.3h0.5v0.5h-0.5zM457.4 99.2h0.5v0.5h-0.5zM470.4 99.6h0.5v0.5h-0.5zM468.0 99.2h0.5v0.5h-0.5zM458.7 95.1h0.5v0.5h-0.5zM489.9 99.3h0.5v0.5h-0.5zM462.6 100.1h0.5v0.5h-0.5zM481.8 98.4h0.5v0.5h-0.5zM491.1 90.0h0.5v0.5h-0.5zM478.0 98.5h0.5v0.5h-0.5zM489.5 89.3h0.5v0.5h-0.5zM498.4 96.0h0.5v0.5h-0.5zM428.9 92.9h0.5v0.5h-0.5zM497.2 93.9h0.5v0.5h-0.5zM451.6 101.6h0.5v0.5h-0.5zM462.1 95.4h0.5v0.5h-0.5zM426.0 88.3h0.5v0.5h-0.5zM436.9 93.6h0.5v0.5h-0.5zM440.5 96.9h0.5v0.5h-0.5zM426.9 104.7h0.5v0.5h-0.5zM467.6 97.9h0.5v0.5h-0.5zM458.3 100.5h0.5v0.5h-0.5zM460.3 99.4h0.5v0.5h-0.5zM426.8 103.2h0.5v0.5h-0.5zM425.2 96.3h0.5v0.5h-0.5zM471.6 94.8h0.5v0.5h-0.5zM428.0 105.0h0.5v0.5h-0.5zM444.8 90.4h0.5v0.5h-0.5zM435.1 96.5h0.5v0.5h-0.5zM435.5 96.5h0.5v0.5h-0.5zM445.3 102.7h0.5v0.5h-0.5zM467.7 96.4h0.5v0.5h-0.5zM483.2 94.8h0.5v0.5h-0.5zM485.5 99.3h0.5v0.5h-0.5zM428.2 97.4h0.5v0.5h-0.5zM453.4 99.5h0.5v0.5h-0.5zM482.2 99.9h0.5v0.5h-0.5z" fill="#555"/>
<path d="M474.4 97.8h0.5v0.5h-0.5zM460.4 99.7h0.5v0.5h-0.5zM437.2 94.2h0.5v0.5h-0.5zM434.8 104.6h0.5v0.5h-0.5zM495.0 100.1h0.5v0.5h-0.5zM487.7 92.9h0.5v0.5h-0.5zM481.9 92.3h0.5v0.5h-0.5zM496.9 100.4h0.5v0.5h-0.5zM454.6 94.4h0.5v0.5h-0.5zM457.7 99.3h0.5v0.5h-0.5zM454.6 101.0h0.5v0.5h-0.5zM435.7 95.5h0.5v0.5h-0.5zM455.6 88.4h0.5v0.5h-0.5zM496.5 98.2h0.5v0.5h-0.5zM451.6 101.7h0.5v0.5h-0.5zM486.6 92.3h0.5v0.5h-0.5zM494.8 92.8h0.5v0.5h-0.5zM458.2 92.6h0.5v0.5h-0.5zM427.2 104.7h0.5v0.5h-0.5zM465.2 98.5h0.5v0.5h-0.5zM469.6 92.7h0.5v0.5h-0.5zM459.1 100.5h0.5v0.5h-0.5zM477.3 90.0h0.5v0.5h-0.5zM428.6 98.8h0.5v0.5h-0.5zM436.0 97.7h0.5v0.5h-0.5zM486.9 95.5h0.5v0.5h-0.5zM472.9 100.2h0.5v0.5h-0.5zM439.8 88.9h0.5v0.5h-0.5zM465.8 92.0h0.5v0.5h-0.5zM498.4 99.3h0.5v0.5h-0.5zM485.9 98.4h0.5v0.5h-0.5zM427.6 98.5h0.5v0.5h-0.5zM498.8 100.3h0.5v0.5h-0.5zM447.3 96.1h0.5v0.5h-0.5zM471.7 99.9h0.5v0.5h-0.5zM487.8 99.7h0.5v0.5h-0.5zM447.4 96.4h0.5v0.5h-0.5zM470.7 92.5h0.5v0.5h-0.5zM443.8 103.0h0.5v0.5h-0.5zM445.6 102.5h0.5v0.5h-0.5zM478.2 91.0h0.5v0.5h-0.5zM454.0 100.8h0.5v0.5h-0.5zM474.9 95.8h0.5v0.5h-0.5zM451.3 100.5h0.5v0.5h-0.5zM494.6 99.9h0.5v0.5h-0.5zM474.9 93.1h0.5v0.5h-0.5zM479.4 99.7h0.5v0.5h-0.5zM457.6 93.9h0.5v0.5h-0.5zM434.3 99.1h0.5v0.5h-0.5zM496.6 97.8h0.5v0.5h-0.5zM476.4 100.5h0.5v0.5h-0.5zM481.2 99.3h0.5v0.5h-0.5zM434.8 103.8h0.5v0.5h-0.5zM436.6 103.8h0.5v0.5h-0.5zM437.2 96.7h0.5v0.5h-0.5zM454.5 93.3h0.5v0.5h-0.5zM484.7 99.6h0.5v0.5h-0.5zM467.4 99.6h0.5v0.5h-0.5zM469.7 95.1h0.5v0.5h-0.5zM428.1 103.3h0.5v0.5h-0.5zM495.6 92.9h0.5v0.5h-0.5zM479.5 98.9h0.5v0.5h-0.5zM469.1 94.3h0.5v0.5h-0.5z" fill="#888"/>
<path d="M470.7 99.4h0.5v0.5h-0.5zM490.5 96.2h0.5v0.5h-0.5zM461.0 100.2h0.5v0.5h-0.5zM463.4 89.8h0.5v0.5h-0.5zM460.6 95.6h0.5v0.5h-0.5zM430.9 101.4h0.5v0.5h-0.5zM473.2 94.9h0.5v0.5h-0.5zM489.2 95.6h0.5v0.5h-0.5zM472.3 100.2h0.5v0.5h-0.5zM426.1 93.8h0.5v0.5h-0.5zM449.0 93.1h0.5v0.5h-0.5zM434.5 101.1h0.5v0.5h-0.5zM484.0 99.4h0.5v0.5h-0.5zM445.6 89.8h0.5v0.5h-0.5zM442.2 102.0h0.5v0.5h-0.5zM474.0 99.2h0.5v0.5h-0.5zM475.0 97.0h0.5v0.5h-0.5zM472.2 95.7h0.5v0.5h-0.5zM437.4 88.2h0.5v0.5h-0.5zM424.4 104.0h0.5v0.5h-0.5zM490.1 100.5h0.5v0.5h-0.5zM472.6 98.4h0.5v0.5h-0.5zM452.2 97.0h0.5v0.5h-0.5zM496.9 100.2h0.5v0.5h-0.5zM459.6 89.4h0.5v0.5h-0.5zM491.2 92.9h0.5v0.5h-0.5zM476.5 88.9h0.5v0.5h-0.5zM435.9 98.7h0.5v0.5h-0.5zM487.4 95.6h0.5v0.5h-0.5zM463.3 99.7h0.5v0.5h-0.5zM490.0 98.9h0.5v0.5h-0.5zM459.6 99.7h0.5v0.5h-0.5zM480.9 98.3h0.5v0.5h-0.5zM489.4 95.3h0.5v0.5h-0.5zM492.7 91.1h0.5v0.5h-0.5zM485.6 90.4h0.5v0.5h-0.5zM451.7 96.2h0.5v0.5h-0.5zM468.8 96.9h0.5v0.5h-0.5zM463.6 90.4h0.5v0.5h-0.5zM475.3 95.3h0.5v0.5h-0.5zM476.9 97.1h0.5v0.5h-0.5zM463.8 99.5h0.5v0.5h-0.5zM485.1 88.3h0.5v0.5h-0.5zM447.4 100.0h0.5v0.5h-0.5zM452.7 100.5h0.5v0.5h-0.5zM463.6 99.1h0.5v0.5h-0.5zM465.6 96.6h0.5v0.5h-0.5zM445.2 97.5h0.5v0.5h-0.5zM451.6 101.6h0.5v0.5h-0.5zM450.0 88.5h0.5v0.5h-0.5zM466.9 96.4h0.5v0.5h-0.5zM489.2 100.5h0.5v0.5h-0.5zM473.9 100.0h0.5v0.5h-0.5zM486.6 93.0h0.5v0.5h-0.5zM492.4 96.8h0.5v0.5h-0.5zM459.0 100.4h0.5v0.5h-0.5zM454.3 97.9h0.5v0.5h-0.5zM452.8 90.0h0.5v0.5h-0.5zM496.5 88.8h0.5v0.5h-0.5zM472.9 98.5h0.5v0.5h-0.5zM495.8 100.5h0.5v0.5h-0.5zM465.6 97.3h0.5v0.5h-0.5zM429.8 93.2h0.5v0.5h-0.5zM473.0 100.2h0.5v0.5h-0.5zM482.2 96.2h0.5v0.5h-0.5zM434.8 91.5h0.5v0.5h-0.5zM497.0 97.9h0.5v0.5h-0.5zM461.5 99.2h0.5v0.5h-0.5zM474.3 97.3h0.5v0.5h-0.5zM480.4 95.4h0.5v0.5h-0.5zM486.0 96.0h0.5v0.5h-0.5zM493.3 88.1h0.5v0.5h-0.5zM452.1 99.9h0.5v0.5h-0.5zM474.8 90.0h0.5v0.5h-0.5z" fill="#aaa"/>
<path d="M441.1 96.7h0.5v0.5h-0.5zM442.9 101.1h0.5v0.5h-0.5zM440.5 96.0h0.5v0.5h-0.5zM494.0 93.2h0.5v0.5h-0.5zM492.5 90.3h0.5v0.5h-0.5zM478.6 99.4h0.5v0.5h-0.5zM473.8 90.8h0.5v0.5h-0.5zM441.3 101.1h0.5v0.5h-0.5zM460.6 99.1h0.5v0.5h-0.5zM476.8 91.3h0.5v0.5h-0.5zM464.7 96.0h0.5v0.5h-0.5zM470.0 89.8h0.5v0.5h-0.5zM448.3 101.3h0.5v0.5h-0.5zM493.1 94.6h0.5v0.5h-0.5zM474.9 93.2h0.5v0.5h-0.5zM488.1 100.2h0.5v0.5h-0.5zM443.8 103.0h0.5v0.5h-0.5zM485.3 93.2h0.5v0.5h-0.5zM475.4 95.1h0.5v0.5h-0.5zM475.8 87.9h0.5v0.5h-0.5zM464.1 89.0h0.5v0.5h-0.5zM479.2 99.5h0.5v0.5h-0.5zM451.0 94.5h0.5v0.5h-0.5zM452.2 101.6h0.5v0.5h-0.5zM482.5 87.9h0.5v0.5h-0.5zM478.5 98.2h0.5v0.5h-0.5zM430.5 88.2h0.5v0.5h-0.5zM462.3 100.5h0.5v0.5h-0.5zM425.1 103.1h0.5v0.5h-0.5zM479.0 100.1h0.5v0.5h-0.5zM475.6 99.2h0.5v0.5h-0.5zM449.4 96.8h0.5v0.5h-0.5zM473.2 92.8h0.5v0.5h-0.5zM428.4 105.0h0.5v0.5h-0.5zM496.3 92.8h0.5v0.5h-0.5zM458.5 100.2h0.5v0.5h-0.5zM482.9 99.8h0.5v0.5h-0.5zM466.2 100.2h0.5v0.5h-0.5zM498.5 100.4h0.5v0.5h-0.5zM489.7 95.1h0.5v0.5h-0.5zM436.0 104.4h0.5v0.5h-0.5zM490.6 95.5h0.5v0.5h-0.5zM467.8 93.8h0.5v0.5h-0.5zM428.2 105.0h0.5v0.5h-0.5zM426.3 103.9h0.5v0.5h-0.5zM438.7 95.9h0.5v0.5h-0.5zM424.4 92.8h0.5v0.5h-0.5zM475.0 94.4h0.5v0.5h-0.5zM434.8 102.4h0.5v0.5h-0.5zM472.8 100.3h0.5v0.5h-0.5zM428.7 93.8h0.5v0.5h-0.5zM466.7 92.6h0.5v0.5h-0.5zM442.3 102.8h0.5v0.5h-0.5zM500.8 100.3h0.5v0.5h-0.5zM500.8 94.2h0.5v0.5h-0.5zM483.6 91.7h0.5v0.5h-0.5zM461.1 91.5h0.5v0.5h-0.5zM474.2 94.9h0.5v0.5h-0.5zM463.3 98.9h0.5v0.5h-0.5zM445.3 90.0h0.5v0.5h-0.5zM476.6 99.1h0.5v0.5h-0.5zM491.0 95.3h0.5v0.5h-0.5zM473.4 96.7h0.5v0.5h-0.5zM467.5 99.4h0.5v0.5h-0.5zM465.7 100.0h0.5v0.5h-0.5zM425.8 103.5h0.5v0.5h-0.5zM461.8 97.0h0.5v0.5h-0.5z" fill="#2a3a8a"/>
<linearGradient id="fg103" x1="0" y1="0" x2="0" y2="1"><stop offset="0" stop-color="#7a8098"/><stop offset="0.18" stop-color="#2e3670"/><stop offset="0.34" stop-color="#3a7050"/><stop offset="0.48" stop-color="#d0702a"/><stop offset="0.62" stop-color="#d8401e"/><stop offset="0.76" stop-color="#d89028"/><stop offset="0.9" stop-color="#4a8040"/><stop offset="1" stop-color="#2c4a80"/></linearGradient>
<polygon points="433.9,104.8 435.6,104.5 437.3,104.2 439.0,103.9 440.7,103.6 442.4,103.3 444.1,103.0 445.8,102.7 447.5,102.4 449.2,102.1 450.8,101.8 452.5,101.5 454.2,101.2 455.9,101.0 457.6,100.7 459.3,100.5 461.0,100.5 462.7,100.5 464.4,100.5 466.1,100.5 467.8,100.5 469.5,100.5 471.2,100.5 472.9,100.5 474.6,100.5 476.3,100.5 478.0,100.5 479.7,100.5 481.4,100.5 483.1,100.5 484.8,100.5 486.4,100.5 488.1,100.5 489.8,100.5 491.5,100.5 493.2,100.5 494.9,100.5 496.6,100.5 498.3,100.5 500.0,100.5 501.7,100.5 501.7,111.7 433.9,111.7" fill="url(#fg103)"/>
<rect x="423.3" y="105.0" width="7.9" height="6.7" fill="url(#fg103)"/>
<path d="M450.4 108.9h0.85v0.85h-0.85zM459.6 104.2h0.85v0.85h-0.85zM444.6 109.9h0.85v0.85h-0.85zM446.1 109.4h0.85v0.85h-0.85zM445.0 103.9h0.85v0.85h-0.85zM472.8 108.2h0.85v0.85h-0.85zM468.9 102.7h0.85v0.85h-0.85zM474.4 102.6h0.85v0.85h-0.85zM488.7 110.9h0.85v0.85h-0.85zM428.0 105.9h0.85v0.85h-0.85zM485.4 108.8h0.85v0.85h-0.85zM462.9 102.2h0.85v0.85h-0.85zM450.4 108.7h0.85v0.85h-0.85zM452.2 103.8h0.85v0.85h-0.85zM453.9 105.4h0.85v0.85h-0.85zM476.8 103.1h0.85v0.85h-0.85zM498.9 108.2h0.85v0.85h-0.85zM460.3 109.0h0.85v0.85h-0.85zM488.4 103.1h0.85v0.85h-0.85zM465.4 111.1h0.85v0.85h-0.85zM424.9 109.8h0.85v0.85h-0.85zM474.3 108.6h0.85v0.85h-0.85zM491.2 102.2h0.85v0.85h-0.85zM486.3 102.7h0.85v0.85h-0.85zM495.0 110.1h0.85v0.85h-0.85zM456.4 109.0h0.85v0.85h-0.85zM438.5 109.9h0.85v0.85h-0.85zM451.5 109.8h0.85v0.85h-0.85zM468.4 108.6h0.85v0.85h-0.85zM486.3 109.5h0.85v0.85h-0.85zM486.5 110.0h0.85v0.85h-0.85zM485.3 109.0h0.85v0.85h-0.85zM500.0 104.7h0.85v0.85h-0.85zM497.8 108.5h0.85v0.85h-0.85zM445.4 104.8h0.85v0.85h-0.85zM497.1 108.5h0.85v0.85h-0.85zM500.5 110.6h0.85v0.85h-0.85zM424.1 110.1h0.85v0.85h-0.85zM489.6 110.8h0.85v0.85h-0.85zM425.9 110.2h0.85v0.85h-0.85zM487.7 109.8h0.85v0.85h-0.85zM467.4 109.5h0.85v0.85h-0.85zM457.6 108.4h0.85v0.85h-0.85zM456.0 110.3h0.85v0.85h-0.85zM490.3 109.6h0.85v0.85h-0.85zM465.8 108.9h0.85v0.85h-0.85zM491.7 108.8h0.85v0.85h-0.85zM434.4 109.8h0.85v0.85h-0.85zM479.0 104.2h0.85v0.85h-0.85zM464.2 110.3h0.85v0.85h-0.85zM487.3 110.2h0.85v0.85h-0.85zM454.8 108.6h0.85v0.85h-0.85zM479.1 109.6h0.85v0.85h-0.85zM482.2 109.7h0.85v0.85h-0.85zM498.2 108.7h0.85v0.85h-0.85zM469.4 110.2h0.85v0.85h-0.85zM479.5 108.1h0.85v0.85h-0.85zM443.9 105.9h0.85v0.85h-0.85zM426.8 107.0h0.85v0.85h-0.85zM447.6 105.6h0.85v0.85h-0.85zM452.0 105.1h0.85v0.85h-0.85zM481.0 109.5h0.85v0.85h-0.85zM439.2 105.6h0.85v0.85h-0.85zM465.0 109.6h0.85v0.85h-0.85zM498.0 110.1h0.85v0.85h-0.85zM423.6 109.8h0.85v0.85h-0.85zM450.0 109.2h0.85v0.85h-0.85zM446.9 104.7h0.85v0.85h-0.85zM429.4 109.9h0.85v0.85h-0.85zM444.8 108.8h0.85v0.85h-0.85zM427.9 110.1h0.85v0.85h-0.85zM478.3 110.6h0.85v0.85h-0.85zM449.7 105.0h0.85v0.85h-0.85zM461.8 110.3h0.85v0.85h-0.85zM474.4 102.8h0.85v0.85h-0.85zM462.0 104.5h0.85v0.85h-0.85zM469.1 109.0h0.85v0.85h-0.85zM494.1 109.6h0.85v0.85h-0.85zM488.1 109.6h0.85v0.85h-0.85zM423.5 109.8h0.85v0.85h-0.85zM428.2 110.0h0.85v0.85h-0.85zM434.2 105.5h0.85v0.85h-0.85zM440.3 110.1h0.85v0.85h-0.85zM466.1 108.1h0.85v0.85h-0.85zM467.2 102.0h0.85v0.85h-0.85zM500.2 104.2h0.85v0.85h-0.85zM445.7 110.6h0.85v0.85h-0.85zM475.5 104.9h0.85v0.85h-0.85zM475.6 109.8h0.85v0.85h-0.85zM500.1 104.8h0.85v0.85h-0.85zM455.9 109.1h0.85v0.85h-0.85zM436.4 107.2h0.85v0.85h-0.85zM493.1 109.4h0.85v0.85h-0.85zM458.2 108.5h0.85v0.85h-0.85zM473.5 102.4h0.85v0.85h-0.85zM454.6 109.1h0.85v0.85h-0.85zM425.2 106.2h0.85v0.85h-0.85zM462.6 111.1h0.85v0.85h-0.85zM427.0 106.8h0.85v0.85h-0.85zM461.5 104.8h0.85v0.85h-0.85zM476.0 110.1h0.85v0.85h-0.85zM449.1 104.8h0.85v0.85h-0.85zM487.0 111.2h0.85v0.85h-0.85zM492.6 102.3h0.85v0.85h-0.85zM450.1 104.4h0.85v0.85h-0.85zM494.9 102.9h0.85v0.85h-0.85zM440.3 109.2h0.85v0.85h-0.85zM430.1 107.4h0.85v0.85h-0.85zM444.2 104.0h0.85v0.85h-0.85zM480.5 104.5h0.85v0.85h-0.85zM449.9 110.2h0.85v0.85h-0.85zM475.6 102.4h0.85v0.85h-0.85zM493.7 109.1h0.85v0.85h-0.85zM446.6 109.9h0.85v0.85h-0.85zM498.0 109.4h0.85v0.85h-0.85zM492.4 109.9h0.85v0.85h-0.85zM446.2 108.7h0.85v0.85h-0.85zM494.3 108.6h0.85v0.85h-0.85zM486.4 109.0h0.85v0.85h-0.85zM487.0 108.3h0.85v0.85h-0.85zM466.4 104.9h0.85v0.85h-0.85zM492.2 102.1h0.85v0.85h-0.85zM441.1 109.2h0.85v0.85h-0.85zM448.3 108.9h0.85v0.85h-0.85zM483.5 102.1h0.85v0.85h-0.85zM495.6 103.9h0.85v0.85h-0.85zM477.5 103.6h0.85v0.85h-0.85zM500.4 104.6h0.85v0.85h-0.85zM447.0 109.1h0.85v0.85h-0.85zM474.8 109.6h0.85v0.85h-0.85zM485.2 110.3h0.85v0.85h-0.85zM450.3 110.2h0.85v0.85h-0.85zM438.3 106.2h0.85v0.85h-0.85zM466.0 111.1h0.85v0.85h-0.85zM472.8 109.4h0.85v0.85h-0.85zM498.4 111.1h0.85v0.85h-0.85zM446.7 110.1h0.85v0.85h-0.85zM472.8 108.4h0.85v0.85h-0.85zM485.9 110.9h0.85v0.85h-0.85zM496.7 103.1h0.85v0.85h-0.85zM448.3 109.2h0.85v0.85h-0.85zM437.0 110.6h0.85v0.85h-0.85zM449.0 109.6h0.85v0.85h-0.85zM500.1 110.6h0.85v0.85h-0.85zM469.0 104.9h0.85v0.85h-0.85zM468.0 109.9h0.85v0.85h-0.85zM456.0 108.9h0.85v0.85h-0.85zM442.3 109.1h0.85v0.85h-0.85zM492.9 102.0h0.85v0.85h-0.85zM444.5 108.8h0.85v0.85h-0.85zM472.9 103.6h0.85v0.85h-0.85zM446.7 109.2h0.85v0.85h-0.85zM498.1 103.1h0.85v0.85h-0.85zM450.3 105.4h0.85v0.85h-0.85zM435.4 107.2h0.85v0.85h-0.85zM453.1 103.8h0.85v0.85h-0.85zM471.3 109.7h0.85v0.85h-0.85zM477.8 103.5h0.85v0.85h-0.85z" fill="#3a8a48"/>
<path d="M461.6 108.2h0.85v0.85h-0.85zM435.0 109.6h0.85v0.85h-0.85zM446.4 108.5h0.85v0.85h-0.85zM494.9 107.9h0.85v0.85h-0.85zM456.3 108.1h0.85v0.85h-0.85zM471.5 108.4h0.85v0.85h-0.85zM426.8 109.2h0.85v0.85h-0.85zM430.2 109.4h0.85v0.85h-0.85zM499.0 104.5h0.85v0.85h-0.85zM436.0 106.8h0.85v0.85h-0.85zM442.0 109.8h0.85v0.85h-0.85zM487.8 107.1h0.85v0.85h-0.85zM484.0 104.7h0.85v0.85h-0.85zM423.7 106.7h0.85v0.85h-0.85zM428.4 109.6h0.85v0.85h-0.85zM441.9 108.3h0.85v0.85h-0.85zM453.0 105.4h0.85v0.85h-0.85zM439.1 109.0h0.85v0.85h-0.85zM459.8 107.5h0.85v0.85h-0.85zM487.0 108.1h0.85v0.85h-0.85zM486.3 108.3h0.85v0.85h-0.85zM479.7 108.1h0.85v0.85h-0.85zM484.6 107.6h0.85v0.85h-0.85zM429.9 107.1h0.85v0.85h-0.85zM491.5 107.6h0.85v0.85h-0.85zM425.7 109.0h0.85v0.85h-0.85zM474.5 106.7h0.85v0.85h-0.85zM430.4 109.9h0.85v0.85h-0.85zM447.5 106.0h0.85v0.85h-0.85zM460.6 106.7h0.85v0.85h-0.85zM496.8 103.7h0.85v0.85h-0.85zM436.0 106.6h0.85v0.85h-0.85zM499.4 107.4h0.85v0.85h-0.85zM456.0 108.2h0.85v0.85h-0.85zM440.1 108.8h0.85v0.85h-0.85zM456.9 107.6h0.85v0.85h-0.85zM449.9 104.8h0.85v0.85h-0.85zM442.0 106.4h0.85v0.85h-0.85zM447.7 105.4h0.85v0.85h-0.85zM473.0 106.7h0.85v0.85h-0.85zM480.9 104.4h0.85v0.85h-0.85zM428.5 109.0h0.85v0.85h-0.85zM490.5 108.5h0.85v0.85h-0.85zM446.1 109.3h0.85v0.85h-0.85zM456.6 106.7h0.85v0.85h-0.85zM446.0 108.1h0.85v0.85h-0.85zM486.0 106.7h0.85v0.85h-0.85zM453.1 104.5h0.85v0.85h-0.85zM475.5 107.2h0.85v0.85h-0.85zM456.9 109.0h0.85v0.85h-0.85zM429.8 108.8h0.85v0.85h-0.85zM481.5 108.9h0.85v0.85h-0.85zM443.9 108.1h0.85v0.85h-0.85zM458.3 107.8h0.85v0.85h-0.85zM460.3 103.5h0.85v0.85h-0.85zM444.5 106.2h0.85v0.85h-0.85zM461.2 109.0h0.85v0.85h-0.85zM456.2 107.5h0.85v0.85h-0.85zM496.3 107.2h0.85v0.85h-0.85zM466.5 103.9h0.85v0.85h-0.85zM456.2 107.3h0.85v0.85h-0.85zM463.0 109.1h0.85v0.85h-0.85zM483.3 107.4h0.85v0.85h-0.85zM489.3 104.0h0.85v0.85h-0.85zM426.0 109.4h0.85v0.85h-0.85zM479.3 104.2h0.85v0.85h-0.85zM470.9 108.1h0.85v0.85h-0.85zM493.4 103.7h0.85v0.85h-0.85zM465.1 103.4h0.85v0.85h-0.85zM423.5 109.6h0.85v0.85h-0.85zM439.3 108.7h0.85v0.85h-0.85z" fill="#e0c030"/>
<path d="M467.3 105.6h0.85v0.85h-0.85zM465.4 105.7h0.85v0.85h-0.85zM466.3 105.2h0.85v0.85h-0.85zM429.3 109.4h0.85v0.85h-0.85zM465.7 104.0h0.85v0.85h-0.85zM456.4 107.7h0.85v0.85h-0.85zM469.1 105.8h0.85v0.85h-0.85zM466.3 104.4h0.85v0.85h-0.85zM452.5 106.7h0.85v0.85h-0.85zM485.5 103.4h0.85v0.85h-0.85zM440.7 105.6h0.85v0.85h-0.85zM479.1 105.6h0.85v0.85h-0.85zM429.5 107.0h0.85v0.85h-0.85zM478.0 104.6h0.85v0.85h-0.85zM466.4 107.8h0.85v0.85h-0.85zM476.4 107.5h0.85v0.85h-0.85zM440.1 108.2h0.85v0.85h-0.85zM437.6 106.1h0.85v0.85h-0.85zM437.6 106.9h0.85v0.85h-0.85zM468.9 104.0h0.85v0.85h-0.85zM459.2 107.0h0.85v0.85h-0.85zM498.6 107.4h0.85v0.85h-0.85zM462.9 105.6h0.85v0.85h-0.85zM495.2 107.8h0.85v0.85h-0.85zM491.5 103.5h0.85v0.85h-0.85zM461.2 105.0h0.85v0.85h-0.85zM451.5 106.8h0.85v0.85h-0.85zM439.3 106.9h0.85v0.85h-0.85zM499.6 105.3h0.85v0.85h-0.85zM480.2 105.6h0.85v0.85h-0.85zM465.4 106.8h0.85v0.85h-0.85zM475.4 107.6h0.85v0.85h-0.85zM487.2 105.5h0.85v0.85h-0.85zM498.1 107.7h0.85v0.85h-0.85zM492.2 105.6h0.85v0.85h-0.85zM429.6 107.6h0.85v0.85h-0.85zM440.9 106.9h0.85v0.85h-0.85zM425.6 108.8h0.85v0.85h-0.85zM426.6 106.9h0.85v0.85h-0.85zM450.9 108.1h0.85v0.85h-0.85zM465.0 107.4h0.85v0.85h-0.85zM430.8 107.0h0.85v0.85h-0.85zM449.9 105.9h0.85v0.85h-0.85zM434.2 107.8h0.85v0.85h-0.85zM441.9 107.2h0.85v0.85h-0.85zM485.2 105.0h0.85v0.85h-0.85zM493.2 106.3h0.85v0.85h-0.85zM437.0 107.5h0.85v0.85h-0.85zM488.2 106.2h0.85v0.85h-0.85zM462.9 105.7h0.85v0.85h-0.85zM469.9 104.2h0.85v0.85h-0.85zM496.6 104.2h0.85v0.85h-0.85zM457.7 105.2h0.85v0.85h-0.85zM449.8 106.4h0.85v0.85h-0.85zM456.3 104.1h0.85v0.85h-0.85zM457.0 104.6h0.85v0.85h-0.85zM453.5 106.9h0.85v0.85h-0.85zM490.8 105.7h0.85v0.85h-0.85zM494.8 104.6h0.85v0.85h-0.85zM429.4 109.3h0.85v0.85h-0.85zM448.7 106.7h0.85v0.85h-0.85zM474.4 106.4h0.85v0.85h-0.85zM454.0 104.7h0.85v0.85h-0.85zM439.1 106.8h0.85v0.85h-0.85zM449.5 105.4h0.85v0.85h-0.85zM453.8 104.3h0.85v0.85h-0.85zM448.2 105.1h0.85v0.85h-0.85zM462.7 104.7h0.85v0.85h-0.85zM452.5 104.2h0.85v0.85h-0.85zM424.0 108.6h0.85v0.85h-0.85zM458.5 105.7h0.85v0.85h-0.85zM469.8 107.2h0.85v0.85h-0.85zM455.4 106.5h0.85v0.85h-0.85zM489.4 104.7h0.85v0.85h-0.85zM463.5 104.8h0.85v0.85h-0.85zM464.3 106.3h0.85v0.85h-0.85zM443.2 107.3h0.85v0.85h-0.85zM464.9 103.4h0.85v0.85h-0.85zM489.8 104.7h0.85v0.85h-0.85zM472.8 107.8h0.85v0.85h-0.85zM441.1 108.4h0.85v0.85h-0.85zM439.7 106.6h0.85v0.85h-0.85zM436.7 108.9h0.85v0.85h-0.85zM463.0 105.9h0.85v0.85h-0.85zM445.7 107.3h0.85v0.85h-0.85zM492.8 103.9h0.85v0.85h-0.85zM440.0 106.1h0.85v0.85h-0.85zM449.2 108.3h0.85v0.85h-0.85zM441.2 108.2h0.85v0.85h-0.85zM460.0 107.6h0.85v0.85h-0.85zM426.8 107.1h0.85v0.85h-0.85zM462.1 107.2h0.85v0.85h-0.85zM459.1 108.0h0.85v0.85h-0.85zM442.2 108.0h0.85v0.85h-0.85zM458.6 106.9h0.85v0.85h-0.85zM462.7 104.4h0.85v0.85h-0.85zM476.3 103.5h0.85v0.85h-0.85zM451.9 105.0h0.85v0.85h-0.85zM446.5 108.3h0.85v0.85h-0.85z" fill="#e07a22"/>
<path d="M472.9 101.6h0.85v0.85h-0.85zM442.1 103.9h0.85v0.85h-0.85zM463.0 102.2h0.85v0.85h-0.85zM480.9 101.8h0.85v0.85h-0.85zM476.3 100.9h0.85v0.85h-0.85zM423.8 105.3h0.85v0.85h-0.85zM474.0 102.7h0.85v0.85h-0.85zM495.3 103.0h0.85v0.85h-0.85zM444.5 103.8h0.85v0.85h-0.85zM424.1 105.1h0.85v0.85h-0.85zM437.0 105.6h0.85v0.85h-0.85zM494.2 102.5h0.85v0.85h-0.85zM499.7 103.4h0.85v0.85h-0.85zM473.1 100.9h0.85v0.85h-0.85zM499.6 100.6h0.85v0.85h-0.85zM441.2 104.1h0.85v0.85h-0.85zM449.0 102.5h0.85v0.85h-0.85zM471.6 101.7h0.85v0.85h-0.85zM495.3 102.2h0.85v0.85h-0.85zM456.1 101.3h0.85v0.85h-0.85zM463.1 100.7h0.85v0.85h-0.85zM455.2 101.2h0.85v0.85h-0.85zM469.5 102.3h0.85v0.85h-0.85zM497.9 101.7h0.85v0.85h-0.85zM428.4 106.0h0.85v0.85h-0.85zM468.5 103.0h0.85v0.85h-0.85zM438.2 104.8h0.85v0.85h-0.85zM469.9 100.7h0.85v0.85h-0.85zM493.0 101.7h0.85v0.85h-0.85zM470.6 100.4h0.85v0.85h-0.85zM473.5 100.8h0.85v0.85h-0.85zM481.2 100.9h0.85v0.85h-0.85zM458.9 101.2h0.85v0.85h-0.85zM445.8 104.2h0.85v0.85h-0.85zM442.9 103.1h0.85v0.85h-0.85zM446.3 103.0h0.85v0.85h-0.85zM482.5 101.2h0.85v0.85h-0.85zM473.3 102.8h0.85v0.85h-0.85zM489.8 101.7h0.85v0.85h-0.85zM441.7 103.7h0.85v0.85h-0.85zM430.8 106.1h0.85v0.85h-0.85zM448.1 102.4h0.85v0.85h-0.85zM498.6 101.5h0.85v0.85h-0.85zM485.9 102.0h0.85v0.85h-0.85zM447.1 103.5h0.85v0.85h-0.85zM450.0 103.9h0.85v0.85h-0.85zM440.8 105.1h0.85v0.85h-0.85zM442.8 104.5h0.85v0.85h-0.85zM462.8 100.7h0.85v0.85h-0.85zM487.5 101.1h0.85v0.85h-0.85z" fill="#333"/>
<path d="M449.0 111.0h0.85v0.85h-0.85zM478.0 100.4h0.85v0.85h-0.85zM474.2 101.0h0.85v0.85h-0.85zM428.8 106.1h0.85v0.85h-0.85zM462.1 109.6h0.85v0.85h-0.85zM470.2 101.8h0.85v0.85h-0.85zM438.8 109.6h0.85v0.85h-0.85zM483.8 102.1h0.85v0.85h-0.85zM474.2 101.7h0.85v0.85h-0.85zM452.1 109.8h0.85v0.85h-0.85zM443.5 110.7h0.85v0.85h-0.85zM463.4 110.9h0.85v0.85h-0.85zM467.3 102.1h0.85v0.85h-0.85zM487.9 101.9h0.85v0.85h-0.85zM478.3 110.0h0.85v0.85h-0.85zM444.6 104.9h0.85v0.85h-0.85zM488.3 101.4h0.85v0.85h-0.85zM459.2 109.9h0.85v0.85h-0.85zM492.6 111.1h0.85v0.85h-0.85zM451.7 103.4h0.85v0.85h-0.85zM467.1 102.6h0.85v0.85h-0.85zM479.9 111.1h0.85v0.85h-0.85zM428.5 110.4h0.85v0.85h-0.85zM456.7 101.4h0.85v0.85h-0.85zM449.9 109.4h0.85v0.85h-0.85zM452.2 109.6h0.85v0.85h-0.85zM498.7 110.3h0.85v0.85h-0.85zM473.1 100.5h0.85v0.85h-0.85zM487.9 101.4h0.85v0.85h-0.85zM457.2 108.6h0.85v0.85h-0.85zM483.0 101.4h0.85v0.85h-0.85zM440.0 103.5h0.85v0.85h-0.85zM460.2 102.0h0.85v0.85h-0.85zM435.9 105.1h0.85v0.85h-0.85zM498.7 110.3h0.85v0.85h-0.85zM492.3 109.9h0.85v0.85h-0.85zM442.2 103.9h0.85v0.85h-0.85zM493.4 100.3h0.85v0.85h-0.85zM484.7 101.6h0.85v0.85h-0.85zM425.4 110.2h0.85v0.85h-0.85zM472.1 102.7h0.85v0.85h-0.85zM426.6 106.1h0.85v0.85h-0.85zM473.5 103.2h0.85v0.85h-0.85zM450.4 103.0h0.85v0.85h-0.85zM477.7 110.9h0.85v0.85h-0.85zM468.1 102.2h0.85v0.85h-0.85zM461.2 102.2h0.85v0.85h-0.85zM465.3 102.7h0.85v0.85h-0.85zM449.2 103.7h0.85v0.85h-0.85zM493.4 110.2h0.85v0.85h-0.85zM486.6 102.4h0.85v0.85h-0.85zM439.6 105.5h0.85v0.85h-0.85zM435.5 110.4h0.85v0.85h-0.85zM429.3 109.7h0.85v0.85h-0.85zM460.8 101.9h0.85v0.85h-0.85zM489.4 109.2h0.85v0.85h-0.85zM441.3 110.6h0.85v0.85h-0.85zM467.7 100.8h0.85v0.85h-0.85zM435.6 109.7h0.85v0.85h-0.85zM480.3 102.3h0.85v0.85h-0.85zM424.1 105.1h0.85v0.85h-0.85zM461.8 101.4h0.85v0.85h-0.85zM428.8 109.8h0.85v0.85h-0.85zM435.3 111.2h0.85v0.85h-0.85zM446.2 103.8h0.85v0.85h-0.85zM476.0 102.1h0.85v0.85h-0.85zM485.6 102.2h0.85v0.85h-0.85zM438.6 105.8h0.85v0.85h-0.85zM498.2 100.7h0.85v0.85h-0.85zM489.7 103.2h0.85v0.85h-0.85zM495.4 100.8h0.85v0.85h-0.85zM473.3 111.1h0.85v0.85h-0.85zM500.6 108.9h0.85v0.85h-0.85zM461.4 102.4h0.85v0.85h-0.85zM490.8 101.4h0.85v0.85h-0.85zM430.8 105.8h0.85v0.85h-0.85zM498.9 100.4h0.85v0.85h-0.85zM495.4 103.4h0.85v0.85h-0.85zM461.2 103.4h0.85v0.85h-0.85zM471.4 102.8h0.85v0.85h-0.85zM492.8 110.1h0.85v0.85h-0.85zM465.7 101.4h0.85v0.85h-0.85zM472.9 101.8h0.85v0.85h-0.85zM440.6 104.2h0.85v0.85h-0.85zM430.3 109.6h0.85v0.85h-0.85zM447.2 103.0h0.85v0.85h-0.85zM487.5 101.7h0.85v0.85h-0.85zM486.7 111.2h0.85v0.85h-0.85zM470.2 101.7h0.85v0.85h-0.85zM427.0 106.0h0.85v0.85h-0.85zM462.0 110.0h0.85v0.85h-0.85zM495.4 108.8h0.85v0.85h-0.85zM443.2 108.9h0.85v0.85h-0.85zM485.5 109.1h0.85v0.85h-0.85zM438.3 105.1h0.85v0.85h-0.85zM500.5 109.1h0.85v0.85h-0.85zM458.3 100.6h0.85v0.85h-0.85zM435.9 111.2h0.85v0.85h-0.85zM493.8 100.3h0.85v0.85h-0.85zM458.6 111.2h0.85v0.85h-0.85zM424.9 105.5h0.85v0.85h-0.85zM489.2 102.8h0.85v0.85h-0.85zM479.1 102.3h0.85v0.85h-0.85zM481.0 109.2h0.85v0.85h-0.85zM453.4 102.4h0.85v0.85h-0.85zM483.3 101.9h0.85v0.85h-0.85zM480.9 103.2h0.85v0.85h-0.85zM441.0 103.8h0.85v0.85h-0.85zM428.9 110.4h0.85v0.85h-0.85zM480.2 100.8h0.85v0.85h-0.85zM458.5 111.1h0.85v0.85h-0.85zM465.5 102.0h0.85v0.85h-0.85zM448.9 103.7h0.85v0.85h-0.85zM427.4 110.1h0.85v0.85h-0.85zM452.9 109.0h0.85v0.85h-0.85zM452.2 101.7h0.85v0.85h-0.85zM488.6 103.3h0.85v0.85h-0.85zM446.5 110.5h0.85v0.85h-0.85zM444.5 105.0h0.85v0.85h-0.85zM494.2 108.4h0.85v0.85h-0.85zM478.8 102.1h0.85v0.85h-0.85zM500.8 101.8h0.85v0.85h-0.85zM493.5 103.3h0.85v0.85h-0.85zM458.0 101.2h0.85v0.85h-0.85zM477.0 102.3h0.85v0.85h-0.85zM496.3 100.9h0.85v0.85h-0.85zM427.9 105.2h0.85v0.85h-0.85zM455.5 110.0h0.85v0.85h-0.85zM491.2 100.4h0.85v0.85h-0.85zM443.9 109.2h0.85v0.85h-0.85zM457.0 109.9h0.85v0.85h-0.85zM477.5 110.4h0.85v0.85h-0.85zM468.9 103.2h0.85v0.85h-0.85zM500.5 110.9h0.85v0.85h-0.85zM489.1 111.1h0.85v0.85h-0.85zM443.9 104.4h0.85v0.85h-0.85z" fill="#2c3478"/>
<path d="M437.5 107.5h0.85v0.85h-0.85zM487.7 105.9h0.85v0.85h-0.85zM492.2 106.0h0.85v0.85h-0.85zM424.5 108.2h0.85v0.85h-0.85zM434.4 107.7h0.85v0.85h-0.85zM444.1 106.9h0.85v0.85h-0.85zM438.3 108.8h0.85v0.85h-0.85zM476.4 106.8h0.85v0.85h-0.85zM462.1 107.4h0.85v0.85h-0.85zM442.6 106.9h0.85v0.85h-0.85zM480.7 106.5h0.85v0.85h-0.85zM487.3 107.2h0.85v0.85h-0.85zM457.2 106.2h0.85v0.85h-0.85zM451.2 106.6h0.85v0.85h-0.85zM489.1 106.0h0.85v0.85h-0.85zM472.0 105.5h0.85v0.85h-0.85zM465.4 105.8h0.85v0.85h-0.85zM496.3 105.8h0.85v0.85h-0.85zM486.1 105.3h0.85v0.85h-0.85zM445.6 107.2h0.85v0.85h-0.85zM462.0 105.5h0.85v0.85h-0.85zM463.7 105.4h0.85v0.85h-0.85zM467.1 105.0h0.85v0.85h-0.85zM442.9 106.6h0.85v0.85h-0.85zM469.0 106.5h0.85v0.85h-0.85zM428.6 107.9h0.85v0.85h-0.85zM491.5 105.4h0.85v0.85h-0.85zM469.3 106.1h0.85v0.85h-0.85zM425.6 108.6h0.85v0.85h-0.85zM483.7 106.5h0.85v0.85h-0.85zM424.5 109.0h0.85v0.85h-0.85zM450.1 106.0h0.85v0.85h-0.85zM464.6 106.4h0.85v0.85h-0.85zM480.4 105.8h0.85v0.85h-0.85zM424.5 108.4h0.85v0.85h-0.85zM450.4 108.2h0.85v0.85h-0.85zM444.3 108.2h0.85v0.85h-0.85zM439.0 107.7h0.85v0.85h-0.85zM423.6 107.7h0.85v0.85h-0.85zM478.9 106.7h0.85v0.85h-0.85zM485.6 105.7h0.85v0.85h-0.85zM442.8 108.9h0.85v0.85h-0.85zM499.1 106.4h0.85v0.85h-0.85zM423.5 107.9h0.85v0.85h-0.85zM481.6 106.2h0.85v0.85h-0.85zM435.4 107.9h0.85v0.85h-0.85zM470.9 105.3h0.85v0.85h-0.85zM435.1 107.5h0.85v0.85h-0.85zM460.3 107.0h0.85v0.85h-0.85zM444.7 106.5h0.85v0.85h-0.85zM474.8 105.7h0.85v0.85h-0.85zM442.1 106.7h0.85v0.85h-0.85zM484.5 107.5h0.85v0.85h-0.85zM430.7 107.6h0.85v0.85h-0.85zM463.5 108.0h0.85v0.85h-0.85zM491.7 105.2h0.85v0.85h-0.85zM480.1 106.1h0.85v0.85h-0.85zM480.6 107.4h0.85v0.85h-0.85zM426.6 107.6h0.85v0.85h-0.85zM500.6 106.3h0.85v0.85h-0.85zM486.3 106.3h0.85v0.85h-0.85zM470.5 106.3h0.85v0.85h-0.85zM476.5 108.0h0.85v0.85h-0.85zM489.9 106.8h0.85v0.85h-0.85zM477.6 106.1h0.85v0.85h-0.85zM472.2 106.3h0.85v0.85h-0.85zM480.2 105.9h0.85v0.85h-0.85zM453.9 108.3h0.85v0.85h-0.85zM430.5 107.8h0.85v0.85h-0.85zM456.5 105.6h0.85v0.85h-0.85zM455.1 106.2h0.85v0.85h-0.85zM491.6 108.0h0.85v0.85h-0.85zM466.7 107.7h0.85v0.85h-0.85zM426.8 108.8h0.85v0.85h-0.85zM442.8 107.5h0.85v0.85h-0.85zM475.7 105.5h0.85v0.85h-0.85z" fill="#d8301e"/>
<path d="M449.3 110.2h0.85v0.85h-0.85zM461.0 110.9h0.85v0.85h-0.85zM484.8 110.6h0.85v0.85h-0.85zM442.0 110.1h0.85v0.85h-0.85zM480.4 110.8h0.85v0.85h-0.85zM463.0 110.1h0.85v0.85h-0.85zM430.8 111.1h0.85v0.85h-0.85zM461.7 111.0h0.85v0.85h-0.85zM493.4 109.7h0.85v0.85h-0.85zM498.5 110.6h0.85v0.85h-0.85zM490.9 110.0h0.85v0.85h-0.85zM492.9 111.1h0.85v0.85h-0.85zM486.0 110.0h0.85v0.85h-0.85zM464.7 110.4h0.85v0.85h-0.85z" fill="#3a58a8"/>
<path d="M492.5 100.8h0.85v0.85h-0.85zM470.7 101.9h0.85v0.85h-0.85zM453.2 102.2h0.85v0.85h-0.85zM482.4 101.0h0.85v0.85h-0.85zM462.3 100.5h0.85v0.85h-0.85zM455.6 101.8h0.85v0.85h-0.85zM451.6 102.8h0.85v0.85h-0.85zM436.7 104.3h0.85v0.85h-0.85zM426.8 105.0h0.85v0.85h-0.85zM428.7 104.8h0.85v0.85h-0.85zM479.1 101.8h0.85v0.85h-0.85zM475.9 100.5h0.85v0.85h-0.85zM442.2 103.7h0.85v0.85h-0.85zM478.6 100.6h0.85v0.85h-0.85zM495.4 100.8h0.85v0.85h-0.85zM471.0 101.3h0.85v0.85h-0.85zM450.4 103.1h0.85v0.85h-0.85zM473.7 101.2h0.85v0.85h-0.85zM449.0 102.4h0.85v0.85h-0.85zM491.9 100.9h0.85v0.85h-0.85zM473.8 100.5h0.85v0.85h-0.85zM481.5 101.3h0.85v0.85h-0.85zM434.3 104.9h0.85v0.85h-0.85zM472.0 101.2h0.85v0.85h-0.85zM499.9 100.9h0.85v0.85h-0.85zM484.8 101.7h0.85v0.85h-0.85zM449.8 101.9h0.85v0.85h-0.85zM486.3 101.4h0.85v0.85h-0.85zM495.6 101.3h0.85v0.85h-0.85z" fill="#8a8a9a"/>
<rect x="433.90" y="104.00" width="1.10" height="7.70" fill="#d8301c"/>
<text x="424.80" y="91.10" font-size="3.6" stroke="#111" stroke-width="0.13">anti-CD3/CD28 (OKT3, 10 µg/mL /</text>
<text x="467.50" y="95.50" font-size="3.6" stroke="#111" stroke-width="0.13">15E8, 20 µg/mL)</text>
<text x="413.40" y="90.10" font-size="4.8" fill="#555" stroke="#555" stroke-width="0.13">10<tspan font-size="3.0" dy="-2.1">4</tspan></text>
<text x="413.40" y="96.30" font-size="4.8" fill="#555" stroke="#555" stroke-width="0.13">10<tspan font-size="3.0" dy="-2.1">2</tspan></text>
<text x="413.40" y="102.00" font-size="4.8" fill="#555" stroke="#555" stroke-width="0.13">10<tspan font-size="3.0" dy="-2.1">1</tspan></text>
<text x="413.40" y="108.70" font-size="4.8" fill="#555" stroke="#555" stroke-width="0.13">10<tspan font-size="3.0" dy="-2.1">0</tspan></text>
<rect x="389.7" y="119.10" width="120.6" height="115.50" rx="10.5" ry="10.5" fill="#fff" stroke="#222" stroke-width="1.3"/>
<text x="432.80" y="126.40" font-size="3.3" text-anchor="middle" stroke="#111" stroke-width="0.13">Stimulus</text>
<text x="462.50" y="128.80" font-size="4.4" text-anchor="middle" stroke="#111" stroke-width="0.13">Jurkat-TCL1A</text>
<line x1="432.80" y1="127.90" x2="432.80" y2="131.40" stroke="#111" stroke-width="0.6"/>
<path d="M431.7 130.60 L432.8 132.80 L433.9 130.60Z" fill="#111"/>
<text x="406.40" y="170.35" font-size="5.8" text-anchor="middle" stroke="#111" stroke-width="0.13" transform="rotate(-90 406.4 170.35000000000002)">Fluo4 MFI</text>
<line x1="405.60" y1="130.30" x2="405.60" y2="154.85" stroke="#111" stroke-width="0.9"/>
<line x1="405.60" y1="186.35" x2="405.60" y2="210.40" stroke="#111" stroke-width="0.9"/>
<rect x="423.00" y="130.30" width="79.00" height="26.00" fill="#fff" stroke="#b0b0b0" stroke-width="0.6"/>
<linearGradient id="h104" x1="0" y1="0" x2="0" y2="1"><stop offset="0" stop-color="#888" stop-opacity="0"/><stop offset="1" stop-color="#666" stop-opacity="0.45"/></linearGradient>
<polygon points="433.9,142.5 435.6,142.1 437.3,141.7 439.0,141.3 440.7,140.9 442.4,140.5 444.1,140.1 445.8,139.7 447.5,139.3 449.2,139.0 450.8,138.6 452.5,138.2 454.2,137.8 455.9,137.4 457.6,137.3 459.3,137.3 461.0,137.3 462.7,137.3 464.4,137.3 466.1,137.3 467.8,137.3 469.5,137.3 471.2,137.3 472.9,137.3 474.6,137.3 476.3,137.3 478.0,137.3 479.7,137.3 481.4,137.3 483.1,137.3 484.8,137.3 486.4,137.3 488.1,137.3 489.8,137.3 491.5,137.3 493.2,137.3 494.9,137.3 496.6,137.3 498.3,137.3 500.0,137.3 501.7,137.3 501.7,144.3 500.0,144.3 498.3,144.3 496.6,144.3 494.9,144.3 493.2,144.3 491.5,144.3 489.8,144.3 488.1,144.3 486.4,144.3 484.8,144.3 483.1,144.3 481.4,144.3 479.7,144.3 478.0,144.3 476.3,144.3 474.6,144.3 472.9,144.3 471.2,144.3 469.5,144.3 467.8,144.3 466.1,144.3 464.4,144.3 462.7,144.3 461.0,144.3 459.3,144.3 457.6,144.3 455.9,144.4 454.2,144.8 452.5,145.2 450.8,145.6 449.2,146.0 447.5,146.3 445.8,146.7 444.1,147.1 442.4,147.5 440.7,147.9 439.0,148.3 437.3,148.7 435.6,149.1 433.9,149.5" fill="url(#h104)"/>
<rect x="423.3" y="142.5" width="7.9" height="7.0" fill="url(#h104)"/>
<path d="M426.5 149.5h0.5v0.5h-0.5zM500.6 143.8h0.5v0.5h-0.5zM437.7 143.8h0.5v0.5h-0.5zM457.9 144.3h0.5v0.5h-0.5zM438.1 145.4h0.5v0.5h-0.5zM463.9 140.9h0.5v0.5h-0.5zM468.6 144.3h0.5v0.5h-0.5zM438.5 147.5h0.5v0.5h-0.5zM485.7 143.9h0.5v0.5h-0.5zM438.8 144.4h0.5v0.5h-0.5zM491.0 143.2h0.5v0.5h-0.5zM454.3 140.8h0.5v0.5h-0.5zM450.6 134.9h0.5v0.5h-0.5zM485.6 143.1h0.5v0.5h-0.5zM461.6 142.6h0.5v0.5h-0.5zM497.7 134.8h0.5v0.5h-0.5zM487.5 144.0h0.5v0.5h-0.5zM500.5 140.6h0.5v0.5h-0.5zM463.9 132.3h0.5v0.5h-0.5zM476.8 143.0h0.5v0.5h-0.5zM474.5 136.0h0.5v0.5h-0.5zM426.3 149.5h0.5v0.5h-0.5zM468.3 136.5h0.5v0.5h-0.5zM445.0 143.2h0.5v0.5h-0.5zM451.1 144.7h0.5v0.5h-0.5zM489.5 142.6h0.5v0.5h-0.5zM485.4 138.4h0.5v0.5h-0.5zM461.9 141.2h0.5v0.5h-0.5zM481.4 135.8h0.5v0.5h-0.5zM450.4 145.4h0.5v0.5h-0.5zM478.5 142.4h0.5v0.5h-0.5zM498.1 138.1h0.5v0.5h-0.5zM445.5 146.5h0.5v0.5h-0.5zM450.3 145.3h0.5v0.5h-0.5zM489.2 133.9h0.5v0.5h-0.5zM499.9 135.3h0.5v0.5h-0.5zM428.1 143.8h0.5v0.5h-0.5zM476.4 139.3h0.5v0.5h-0.5zM471.5 143.4h0.5v0.5h-0.5zM500.0 140.4h0.5v0.5h-0.5zM492.2 139.2h0.5v0.5h-0.5zM472.0 140.4h0.5v0.5h-0.5zM444.1 144.0h0.5v0.5h-0.5zM443.3 146.6h0.5v0.5h-0.5zM441.5 137.3h0.5v0.5h-0.5zM461.0 144.3h0.5v0.5h-0.5zM494.7 136.9h0.5v0.5h-0.5zM440.0 144.0h0.5v0.5h-0.5zM438.6 143.7h0.5v0.5h-0.5zM445.1 144.3h0.5v0.5h-0.5zM482.2 137.9h0.5v0.5h-0.5zM439.7 137.2h0.5v0.5h-0.5zM478.2 137.4h0.5v0.5h-0.5zM461.2 142.7h0.5v0.5h-0.5zM462.0 143.8h0.5v0.5h-0.5zM467.3 144.3h0.5v0.5h-0.5zM440.3 140.1h0.5v0.5h-0.5zM495.4 139.4h0.5v0.5h-0.5zM490.6 139.0h0.5v0.5h-0.5zM463.6 142.9h0.5v0.5h-0.5zM469.4 142.7h0.5v0.5h-0.5zM445.9 145.8h0.5v0.5h-0.5zM499.7 142.9h0.5v0.5h-0.5zM498.8 142.1h0.5v0.5h-0.5zM469.2 137.2h0.5v0.5h-0.5z" fill="#222"/>
<path d="M498.2 134.8h0.5v0.5h-0.5zM453.9 144.8h0.5v0.5h-0.5zM486.3 144.3h0.5v0.5h-0.5zM452.2 145.2h0.5v0.5h-0.5zM460.6 144.1h0.5v0.5h-0.5zM424.3 137.8h0.5v0.5h-0.5zM489.1 144.3h0.5v0.5h-0.5zM437.3 148.6h0.5v0.5h-0.5zM485.7 144.2h0.5v0.5h-0.5zM472.2 142.4h0.5v0.5h-0.5zM462.0 142.4h0.5v0.5h-0.5zM451.2 137.2h0.5v0.5h-0.5zM435.9 143.2h0.5v0.5h-0.5zM493.1 143.7h0.5v0.5h-0.5zM486.2 142.9h0.5v0.5h-0.5zM476.2 141.6h0.5v0.5h-0.5zM442.5 144.8h0.5v0.5h-0.5zM474.7 135.7h0.5v0.5h-0.5zM430.0 149.2h0.5v0.5h-0.5zM426.6 148.1h0.5v0.5h-0.5zM440.5 142.0h0.5v0.5h-0.5zM474.2 143.1h0.5v0.5h-0.5zM448.5 145.3h0.5v0.5h-0.5zM498.6 140.0h0.5v0.5h-0.5zM437.7 144.9h0.5v0.5h-0.5zM468.4 135.3h0.5v0.5h-0.5zM474.4 140.9h0.5v0.5h-0.5zM480.0 143.1h0.5v0.5h-0.5zM496.3 137.0h0.5v0.5h-0.5zM495.3 144.3h0.5v0.5h-0.5zM466.3 142.7h0.5v0.5h-0.5zM429.3 143.9h0.5v0.5h-0.5zM450.1 142.7h0.5v0.5h-0.5zM460.5 144.2h0.5v0.5h-0.5zM444.1 132.4h0.5v0.5h-0.5zM451.2 145.4h0.5v0.5h-0.5zM423.6 149.3h0.5v0.5h-0.5zM463.1 140.9h0.5v0.5h-0.5zM469.7 140.6h0.5v0.5h-0.5zM491.9 136.5h0.5v0.5h-0.5zM460.9 140.9h0.5v0.5h-0.5zM466.9 144.3h0.5v0.5h-0.5zM448.4 144.2h0.5v0.5h-0.5zM448.4 141.5h0.5v0.5h-0.5zM458.1 142.6h0.5v0.5h-0.5zM473.9 137.5h0.5v0.5h-0.5zM428.6 134.4h0.5v0.5h-0.5zM469.6 143.3h0.5v0.5h-0.5zM455.5 137.5h0.5v0.5h-0.5zM456.1 136.0h0.5v0.5h-0.5zM447.8 141.0h0.5v0.5h-0.5zM448.3 139.0h0.5v0.5h-0.5zM448.4 142.1h0.5v0.5h-0.5zM481.4 142.8h0.5v0.5h-0.5zM424.9 147.2h0.5v0.5h-0.5zM460.9 144.1h0.5v0.5h-0.5zM455.6 136.5h0.5v0.5h-0.5zM451.3 145.4h0.5v0.5h-0.5zM440.9 147.9h0.5v0.5h-0.5zM457.7 142.3h0.5v0.5h-0.5zM430.8 143.0h0.5v0.5h-0.5z" fill="#555"/>
<path d="M434.9 149.2h0.5v0.5h-0.5zM468.7 142.4h0.5v0.5h-0.5zM497.2 143.9h0.5v0.5h-0.5zM486.8 139.6h0.5v0.5h-0.5zM444.5 135.1h0.5v0.5h-0.5zM444.8 138.3h0.5v0.5h-0.5zM480.6 144.0h0.5v0.5h-0.5zM479.2 144.3h0.5v0.5h-0.5zM428.9 135.3h0.5v0.5h-0.5zM436.9 134.1h0.5v0.5h-0.5zM499.0 134.0h0.5v0.5h-0.5zM466.6 143.8h0.5v0.5h-0.5zM469.1 136.9h0.5v0.5h-0.5zM451.5 145.4h0.5v0.5h-0.5zM435.3 149.2h0.5v0.5h-0.5zM462.2 138.0h0.5v0.5h-0.5zM449.6 143.2h0.5v0.5h-0.5zM426.6 149.4h0.5v0.5h-0.5zM434.2 138.8h0.5v0.5h-0.5zM483.6 136.8h0.5v0.5h-0.5zM489.3 144.3h0.5v0.5h-0.5zM481.2 142.5h0.5v0.5h-0.5zM467.5 142.8h0.5v0.5h-0.5zM491.4 139.1h0.5v0.5h-0.5zM468.9 133.8h0.5v0.5h-0.5zM468.0 138.3h0.5v0.5h-0.5zM460.8 135.5h0.5v0.5h-0.5zM466.0 138.9h0.5v0.5h-0.5zM446.3 143.9h0.5v0.5h-0.5zM494.6 142.9h0.5v0.5h-0.5zM453.1 139.3h0.5v0.5h-0.5zM460.7 140.7h0.5v0.5h-0.5zM434.3 149.3h0.5v0.5h-0.5zM489.0 144.2h0.5v0.5h-0.5zM489.4 140.5h0.5v0.5h-0.5zM428.6 149.5h0.5v0.5h-0.5zM468.5 141.0h0.5v0.5h-0.5zM438.6 136.4h0.5v0.5h-0.5zM430.8 145.1h0.5v0.5h-0.5zM467.8 140.4h0.5v0.5h-0.5zM468.6 136.6h0.5v0.5h-0.5zM447.1 143.5h0.5v0.5h-0.5zM495.7 141.7h0.5v0.5h-0.5zM447.7 144.5h0.5v0.5h-0.5zM428.3 146.4h0.5v0.5h-0.5zM492.9 139.9h0.5v0.5h-0.5zM497.6 142.5h0.5v0.5h-0.5zM426.4 144.0h0.5v0.5h-0.5zM490.9 143.7h0.5v0.5h-0.5zM459.5 144.3h0.5v0.5h-0.5zM488.2 142.8h0.5v0.5h-0.5zM471.5 135.0h0.5v0.5h-0.5zM445.9 137.2h0.5v0.5h-0.5zM488.2 139.8h0.5v0.5h-0.5zM427.2 148.5h0.5v0.5h-0.5zM435.4 148.2h0.5v0.5h-0.5zM446.0 137.2h0.5v0.5h-0.5zM442.5 133.0h0.5v0.5h-0.5zM428.4 139.5h0.5v0.5h-0.5zM441.7 147.2h0.5v0.5h-0.5zM481.7 143.9h0.5v0.5h-0.5zM476.1 141.0h0.5v0.5h-0.5zM451.4 140.2h0.5v0.5h-0.5zM441.4 134.5h0.5v0.5h-0.5zM478.5 139.9h0.5v0.5h-0.5z" fill="#888"/>
<path d="M487.9 143.5h0.5v0.5h-0.5zM460.2 140.4h0.5v0.5h-0.5zM489.1 138.3h0.5v0.5h-0.5zM439.0 144.5h0.5v0.5h-0.5zM463.1 133.9h0.5v0.5h-0.5zM477.6 144.0h0.5v0.5h-0.5zM476.0 144.3h0.5v0.5h-0.5zM495.7 141.5h0.5v0.5h-0.5zM486.5 136.6h0.5v0.5h-0.5zM449.2 139.1h0.5v0.5h-0.5zM480.2 142.1h0.5v0.5h-0.5zM476.3 144.2h0.5v0.5h-0.5zM466.5 132.5h0.5v0.5h-0.5zM430.1 146.4h0.5v0.5h-0.5zM467.6 143.3h0.5v0.5h-0.5zM470.7 142.4h0.5v0.5h-0.5zM461.3 133.3h0.5v0.5h-0.5zM497.8 132.7h0.5v0.5h-0.5zM487.1 137.4h0.5v0.5h-0.5zM486.1 143.9h0.5v0.5h-0.5zM451.3 143.8h0.5v0.5h-0.5zM439.3 140.7h0.5v0.5h-0.5zM455.1 140.7h0.5v0.5h-0.5zM471.3 139.7h0.5v0.5h-0.5zM486.9 136.9h0.5v0.5h-0.5zM477.9 137.6h0.5v0.5h-0.5zM461.5 140.8h0.5v0.5h-0.5zM484.9 142.0h0.5v0.5h-0.5zM437.8 148.6h0.5v0.5h-0.5zM489.2 141.1h0.5v0.5h-0.5zM443.2 132.7h0.5v0.5h-0.5zM483.0 144.3h0.5v0.5h-0.5zM434.5 132.9h0.5v0.5h-0.5zM482.9 142.2h0.5v0.5h-0.5zM460.0 137.5h0.5v0.5h-0.5zM446.6 134.5h0.5v0.5h-0.5zM471.2 143.5h0.5v0.5h-0.5zM471.8 136.8h0.5v0.5h-0.5zM498.5 137.0h0.5v0.5h-0.5zM437.0 139.9h0.5v0.5h-0.5zM436.7 148.8h0.5v0.5h-0.5zM439.0 140.7h0.5v0.5h-0.5zM469.1 143.7h0.5v0.5h-0.5zM454.2 132.1h0.5v0.5h-0.5zM496.4 133.1h0.5v0.5h-0.5zM477.8 141.8h0.5v0.5h-0.5zM426.4 141.8h0.5v0.5h-0.5zM426.1 145.0h0.5v0.5h-0.5zM466.3 141.7h0.5v0.5h-0.5zM448.7 143.0h0.5v0.5h-0.5zM466.2 139.9h0.5v0.5h-0.5zM483.5 140.0h0.5v0.5h-0.5zM457.5 138.7h0.5v0.5h-0.5z" fill="#aaa"/>
<path d="M455.4 141.7h0.5v0.5h-0.5zM442.5 133.0h0.5v0.5h-0.5zM450.1 145.7h0.5v0.5h-0.5zM426.7 141.6h0.5v0.5h-0.5zM501.0 143.9h0.5v0.5h-0.5zM434.8 148.9h0.5v0.5h-0.5zM472.6 140.6h0.5v0.5h-0.5zM501.3 142.4h0.5v0.5h-0.5zM490.0 135.1h0.5v0.5h-0.5zM495.6 139.6h0.5v0.5h-0.5zM457.9 144.2h0.5v0.5h-0.5zM459.2 144.3h0.5v0.5h-0.5zM449.5 145.0h0.5v0.5h-0.5zM460.2 134.6h0.5v0.5h-0.5zM475.7 132.7h0.5v0.5h-0.5zM474.9 142.1h0.5v0.5h-0.5zM487.9 137.4h0.5v0.5h-0.5zM434.9 149.0h0.5v0.5h-0.5zM473.2 136.9h0.5v0.5h-0.5zM454.5 138.9h0.5v0.5h-0.5zM449.2 145.0h0.5v0.5h-0.5zM500.9 137.9h0.5v0.5h-0.5zM430.5 146.7h0.5v0.5h-0.5zM472.0 144.2h0.5v0.5h-0.5zM427.0 148.9h0.5v0.5h-0.5zM426.7 134.9h0.5v0.5h-0.5zM443.1 143.3h0.5v0.5h-0.5zM468.4 143.7h0.5v0.5h-0.5zM475.3 135.9h0.5v0.5h-0.5zM451.5 140.9h0.5v0.5h-0.5zM464.9 132.3h0.5v0.5h-0.5zM443.5 144.1h0.5v0.5h-0.5zM469.4 141.3h0.5v0.5h-0.5zM454.5 144.4h0.5v0.5h-0.5zM435.0 137.8h0.5v0.5h-0.5zM500.5 134.1h0.5v0.5h-0.5zM473.2 136.3h0.5v0.5h-0.5zM475.1 138.3h0.5v0.5h-0.5zM439.4 138.2h0.5v0.5h-0.5zM485.9 144.2h0.5v0.5h-0.5zM469.4 143.4h0.5v0.5h-0.5zM449.6 133.6h0.5v0.5h-0.5zM494.3 136.9h0.5v0.5h-0.5zM493.6 144.0h0.5v0.5h-0.5zM423.5 146.1h0.5v0.5h-0.5zM458.2 141.3h0.5v0.5h-0.5zM464.5 142.6h0.5v0.5h-0.5zM482.4 143.6h0.5v0.5h-0.5zM486.0 139.1h0.5v0.5h-0.5zM446.0 144.1h0.5v0.5h-0.5zM478.6 143.4h0.5v0.5h-0.5zM474.0 144.2h0.5v0.5h-0.5zM489.0 142.9h0.5v0.5h-0.5zM482.4 138.9h0.5v0.5h-0.5zM465.5 138.5h0.5v0.5h-0.5zM466.8 144.3h0.5v0.5h-0.5zM486.0 144.3h0.5v0.5h-0.5zM501.2 137.0h0.5v0.5h-0.5zM480.9 141.5h0.5v0.5h-0.5zM446.2 134.9h0.5v0.5h-0.5zM440.8 144.6h0.5v0.5h-0.5zM452.5 143.3h0.5v0.5h-0.5zM446.0 132.2h0.5v0.5h-0.5zM430.9 145.2h0.5v0.5h-0.5zM466.7 144.1h0.5v0.5h-0.5zM499.8 142.4h0.5v0.5h-0.5zM499.2 143.5h0.5v0.5h-0.5zM445.5 132.2h0.5v0.5h-0.5zM487.8 136.2h0.5v0.5h-0.5zM497.2 135.8h0.5v0.5h-0.5zM452.0 143.0h0.5v0.5h-0.5z" fill="#2a3a8a"/>
<linearGradient id="fg104" x1="0" y1="0" x2="0" y2="1"><stop offset="0" stop-color="#8a88a0"/><stop offset="0.2" stop-color="#5e4a80"/><stop offset="0.5" stop-color="#7a4a70"/><stop offset="0.8" stop-color="#a04858"/><stop offset="1" stop-color="#b04038"/></linearGradient>
<polygon points="433.9,149.5 435.6,149.1 437.3,148.7 439.0,148.3 440.7,147.9 442.4,147.5 444.1,147.1 445.8,146.7 447.5,146.3 449.2,146.0 450.8,145.6 452.5,145.2 454.2,144.8 455.9,144.4 457.6,144.3 459.3,144.3 461.0,144.3 462.7,144.3 464.4,144.3 466.1,144.3 467.8,144.3 469.5,144.3 471.2,144.3 472.9,144.3 474.6,144.3 476.3,144.3 478.0,144.3 479.7,144.3 481.4,144.3 483.1,144.3 484.8,144.3 486.4,144.3 488.1,144.3 489.8,144.3 491.5,144.3 493.2,144.3 494.9,144.3 496.6,144.3 498.3,144.3 500.0,144.3 501.7,144.3 501.7,156.0 433.9,156.0" fill="url(#fg104)"/>
<linearGradient id="fp104" x1="0" y1="0" x2="0" y2="1"><stop offset="0" stop-color="#6a5078"/><stop offset="0.3" stop-color="#b8402e"/><stop offset="0.7" stop-color="#d0341e"/><stop offset="1" stop-color="#c8301e"/></linearGradient>
<rect x="423.3" y="149.5" width="7.9" height="6.5" fill="url(#fp104)"/>
<path d="M441.4 151.1h0.85v0.85h-0.85zM444.2 149.2h0.85v0.85h-0.85zM481.3 152.4h0.85v0.85h-0.85zM467.6 150.4h0.85v0.85h-0.85zM435.0 152.6h0.85v0.85h-0.85zM427.4 154.5h0.85v0.85h-0.85zM460.3 148.1h0.85v0.85h-0.85zM472.1 148.1h0.85v0.85h-0.85zM456.1 151.3h0.85v0.85h-0.85zM501.0 148.6h0.85v0.85h-0.85zM445.5 151.5h0.85v0.85h-0.85zM479.9 148.2h0.85v0.85h-0.85zM434.8 151.3h0.85v0.85h-0.85zM464.6 151.4h0.85v0.85h-0.85zM426.2 154.4h0.85v0.85h-0.85zM467.7 152.6h0.85v0.85h-0.85zM426.5 154.6h0.85v0.85h-0.85zM463.4 149.8h0.85v0.85h-0.85zM434.6 152.5h0.85v0.85h-0.85zM437.3 153.4h0.85v0.85h-0.85zM425.9 154.0h0.85v0.85h-0.85zM448.8 150.4h0.85v0.85h-0.85zM428.1 154.0h0.85v0.85h-0.85zM493.4 151.6h0.85v0.85h-0.85zM462.5 152.4h0.85v0.85h-0.85zM499.6 149.5h0.85v0.85h-0.85zM501.0 148.9h0.85v0.85h-0.85zM479.9 149.1h0.85v0.85h-0.85zM480.3 150.6h0.85v0.85h-0.85zM484.8 152.4h0.85v0.85h-0.85zM470.2 149.6h0.85v0.85h-0.85zM459.4 147.5h0.85v0.85h-0.85zM457.4 151.1h0.85v0.85h-0.85zM496.6 148.6h0.85v0.85h-0.85zM424.6 155.2h0.85v0.85h-0.85zM430.6 154.7h0.85v0.85h-0.85zM468.6 150.9h0.85v0.85h-0.85zM473.3 149.3h0.85v0.85h-0.85zM427.5 154.0h0.85v0.85h-0.85zM463.8 150.5h0.85v0.85h-0.85zM475.2 147.0h0.85v0.85h-0.85zM491.3 149.0h0.85v0.85h-0.85z" fill="#e0c030"/>
<path d="M469.9 152.7h0.85v0.85h-0.85zM471.3 154.3h0.85v0.85h-0.85zM443.6 154.7h0.85v0.85h-0.85zM429.2 154.3h0.85v0.85h-0.85zM452.2 153.3h0.85v0.85h-0.85zM434.4 154.9h0.85v0.85h-0.85zM428.3 152.0h0.85v0.85h-0.85zM473.6 154.1h0.85v0.85h-0.85zM472.6 148.9h0.85v0.85h-0.85zM459.1 154.5h0.85v0.85h-0.85zM424.6 151.0h0.85v0.85h-0.85zM497.4 152.2h0.85v0.85h-0.85zM423.6 151.5h0.85v0.85h-0.85zM471.5 155.0h0.85v0.85h-0.85zM430.3 152.5h0.85v0.85h-0.85zM448.1 150.3h0.85v0.85h-0.85zM454.6 150.0h0.85v0.85h-0.85zM424.5 154.4h0.85v0.85h-0.85zM477.5 154.4h0.85v0.85h-0.85zM447.8 150.4h0.85v0.85h-0.85zM424.1 151.1h0.85v0.85h-0.85zM459.7 155.5h0.85v0.85h-0.85zM498.4 147.4h0.85v0.85h-0.85zM473.8 153.8h0.85v0.85h-0.85zM463.1 150.1h0.85v0.85h-0.85zM452.0 153.8h0.85v0.85h-0.85zM441.5 151.8h0.85v0.85h-0.85zM461.7 154.6h0.85v0.85h-0.85zM492.9 148.0h0.85v0.85h-0.85zM430.2 154.4h0.85v0.85h-0.85zM440.7 150.7h0.85v0.85h-0.85zM488.4 153.0h0.85v0.85h-0.85zM460.3 149.8h0.85v0.85h-0.85zM481.5 152.1h0.85v0.85h-0.85zM485.4 147.7h0.85v0.85h-0.85zM482.4 152.1h0.85v0.85h-0.85zM448.1 153.8h0.85v0.85h-0.85zM487.3 155.5h0.85v0.85h-0.85zM498.4 154.7h0.85v0.85h-0.85zM453.0 152.0h0.85v0.85h-0.85zM457.4 153.2h0.85v0.85h-0.85zM474.8 154.0h0.85v0.85h-0.85zM469.1 153.7h0.85v0.85h-0.85zM488.0 151.1h0.85v0.85h-0.85zM483.7 152.4h0.85v0.85h-0.85zM475.7 151.7h0.85v0.85h-0.85zM499.8 153.7h0.85v0.85h-0.85zM498.4 149.6h0.85v0.85h-0.85zM489.6 152.7h0.85v0.85h-0.85zM487.5 153.2h0.85v0.85h-0.85zM487.8 155.4h0.85v0.85h-0.85zM492.2 155.0h0.85v0.85h-0.85zM444.1 155.2h0.85v0.85h-0.85zM486.5 152.5h0.85v0.85h-0.85zM476.9 153.6h0.85v0.85h-0.85zM425.8 151.1h0.85v0.85h-0.85zM442.0 153.7h0.85v0.85h-0.85zM430.0 154.6h0.85v0.85h-0.85zM424.0 151.5h0.85v0.85h-0.85zM460.7 155.1h0.85v0.85h-0.85zM440.6 153.2h0.85v0.85h-0.85zM424.7 150.8h0.85v0.85h-0.85zM424.1 155.2h0.85v0.85h-0.85zM444.9 154.8h0.85v0.85h-0.85zM460.0 155.3h0.85v0.85h-0.85zM459.2 154.6h0.85v0.85h-0.85zM483.9 154.4h0.85v0.85h-0.85zM447.1 152.8h0.85v0.85h-0.85zM486.1 151.5h0.85v0.85h-0.85zM429.2 152.5h0.85v0.85h-0.85zM440.5 152.5h0.85v0.85h-0.85zM469.6 148.2h0.85v0.85h-0.85zM424.8 154.5h0.85v0.85h-0.85zM481.4 147.5h0.85v0.85h-0.85zM430.4 154.9h0.85v0.85h-0.85zM465.1 154.2h0.85v0.85h-0.85zM435.2 154.5h0.85v0.85h-0.85zM500.3 153.9h0.85v0.85h-0.85zM480.2 154.5h0.85v0.85h-0.85zM483.3 150.9h0.85v0.85h-0.85zM457.1 153.1h0.85v0.85h-0.85zM457.8 154.1h0.85v0.85h-0.85zM423.9 155.1h0.85v0.85h-0.85zM455.1 151.1h0.85v0.85h-0.85zM469.9 153.2h0.85v0.85h-0.85zM488.5 155.0h0.85v0.85h-0.85zM446.6 155.0h0.85v0.85h-0.85zM459.1 153.5h0.85v0.85h-0.85zM424.4 151.8h0.85v0.85h-0.85zM447.1 152.9h0.85v0.85h-0.85zM462.2 147.8h0.85v0.85h-0.85zM472.1 150.1h0.85v0.85h-0.85zM430.2 151.0h0.85v0.85h-0.85zM463.8 154.5h0.85v0.85h-0.85zM448.4 149.1h0.85v0.85h-0.85zM479.0 153.3h0.85v0.85h-0.85zM454.9 150.9h0.85v0.85h-0.85zM440.8 152.6h0.85v0.85h-0.85zM437.6 152.4h0.85v0.85h-0.85zM478.0 151.6h0.85v0.85h-0.85zM499.5 151.4h0.85v0.85h-0.85zM425.2 153.4h0.85v0.85h-0.85zM474.6 154.5h0.85v0.85h-0.85zM458.4 153.1h0.85v0.85h-0.85zM427.6 152.9h0.85v0.85h-0.85zM492.7 153.8h0.85v0.85h-0.85zM426.1 154.5h0.85v0.85h-0.85zM430.1 153.6h0.85v0.85h-0.85zM475.1 148.2h0.85v0.85h-0.85zM428.1 153.3h0.85v0.85h-0.85zM430.1 151.1h0.85v0.85h-0.85zM456.0 154.5h0.85v0.85h-0.85zM493.6 148.5h0.85v0.85h-0.85zM444.2 154.6h0.85v0.85h-0.85zM485.7 154.7h0.85v0.85h-0.85zM465.0 153.1h0.85v0.85h-0.85zM496.5 151.8h0.85v0.85h-0.85zM430.4 155.4h0.85v0.85h-0.85zM479.5 152.2h0.85v0.85h-0.85zM444.1 154.1h0.85v0.85h-0.85zM480.8 154.3h0.85v0.85h-0.85zM448.0 155.3h0.85v0.85h-0.85zM469.5 148.8h0.85v0.85h-0.85zM473.8 151.7h0.85v0.85h-0.85zM495.2 153.0h0.85v0.85h-0.85zM462.6 149.6h0.85v0.85h-0.85zM427.2 155.1h0.85v0.85h-0.85zM452.6 151.1h0.85v0.85h-0.85zM479.8 148.8h0.85v0.85h-0.85zM479.6 154.2h0.85v0.85h-0.85zM426.4 151.3h0.85v0.85h-0.85zM485.7 153.7h0.85v0.85h-0.85zM441.9 149.8h0.85v0.85h-0.85zM424.7 151.0h0.85v0.85h-0.85zM426.2 153.1h0.85v0.85h-0.85zM434.4 153.3h0.85v0.85h-0.85zM423.8 154.2h0.85v0.85h-0.85zM424.9 155.4h0.85v0.85h-0.85zM437.3 154.1h0.85v0.85h-0.85zM494.2 155.4h0.85v0.85h-0.85zM491.1 151.6h0.85v0.85h-0.85zM454.4 155.4h0.85v0.85h-0.85zM453.3 148.4h0.85v0.85h-0.85zM473.8 155.3h0.85v0.85h-0.85zM496.3 149.1h0.85v0.85h-0.85zM490.1 150.8h0.85v0.85h-0.85zM428.9 155.0h0.85v0.85h-0.85zM490.0 151.3h0.85v0.85h-0.85zM454.9 154.3h0.85v0.85h-0.85zM425.2 151.6h0.85v0.85h-0.85zM460.3 147.2h0.85v0.85h-0.85zM451.4 150.6h0.85v0.85h-0.85zM430.4 155.0h0.85v0.85h-0.85zM494.7 149.1h0.85v0.85h-0.85zM491.9 154.7h0.85v0.85h-0.85zM430.8 151.3h0.85v0.85h-0.85zM428.3 153.1h0.85v0.85h-0.85zM440.4 154.2h0.85v0.85h-0.85zM501.0 148.0h0.85v0.85h-0.85zM487.3 149.7h0.85v0.85h-0.85zM477.4 153.3h0.85v0.85h-0.85zM448.5 151.9h0.85v0.85h-0.85zM478.6 150.1h0.85v0.85h-0.85z" fill="#d8301e"/>
<path d="M483.3 144.5h0.85v0.85h-0.85zM453.8 144.8h0.85v0.85h-0.85zM486.7 145.4h0.85v0.85h-0.85zM472.2 145.3h0.85v0.85h-0.85zM474.0 146.6h0.85v0.85h-0.85zM452.0 145.9h0.85v0.85h-0.85zM444.4 147.7h0.85v0.85h-0.85zM443.1 147.9h0.85v0.85h-0.85zM487.2 151.2h0.85v0.85h-0.85zM442.0 149.6h0.85v0.85h-0.85zM499.5 149.6h0.85v0.85h-0.85zM488.8 145.2h0.85v0.85h-0.85zM438.7 149.2h0.85v0.85h-0.85zM494.2 149.5h0.85v0.85h-0.85zM491.1 144.4h0.85v0.85h-0.85zM464.9 146.5h0.85v0.85h-0.85zM462.9 144.8h0.85v0.85h-0.85zM465.3 144.4h0.85v0.85h-0.85zM500.4 145.7h0.85v0.85h-0.85zM451.9 146.2h0.85v0.85h-0.85zM444.9 146.8h0.85v0.85h-0.85zM478.2 152.1h0.85v0.85h-0.85zM464.3 147.8h0.85v0.85h-0.85zM455.2 146.8h0.85v0.85h-0.85zM494.8 151.6h0.85v0.85h-0.85zM459.3 145.8h0.85v0.85h-0.85zM478.4 147.1h0.85v0.85h-0.85zM463.9 145.0h0.85v0.85h-0.85zM497.5 150.0h0.85v0.85h-0.85zM436.7 149.8h0.85v0.85h-0.85zM493.4 144.2h0.85v0.85h-0.85zM449.9 147.4h0.85v0.85h-0.85zM466.3 146.6h0.85v0.85h-0.85zM496.1 145.9h0.85v0.85h-0.85zM443.9 152.6h0.85v0.85h-0.85zM464.3 144.8h0.85v0.85h-0.85zM492.1 150.1h0.85v0.85h-0.85zM466.8 146.9h0.85v0.85h-0.85zM482.3 148.0h0.85v0.85h-0.85zM480.9 147.3h0.85v0.85h-0.85zM465.9 146.9h0.85v0.85h-0.85zM470.3 145.6h0.85v0.85h-0.85zM458.6 149.1h0.85v0.85h-0.85zM475.7 146.6h0.85v0.85h-0.85zM486.4 152.5h0.85v0.85h-0.85zM454.6 144.6h0.85v0.85h-0.85zM451.1 147.6h0.85v0.85h-0.85zM493.6 150.8h0.85v0.85h-0.85zM483.9 146.8h0.85v0.85h-0.85zM461.5 145.5h0.85v0.85h-0.85zM451.5 146.0h0.85v0.85h-0.85zM460.3 146.5h0.85v0.85h-0.85zM478.2 152.1h0.85v0.85h-0.85zM487.5 144.3h0.85v0.85h-0.85zM469.9 149.0h0.85v0.85h-0.85zM444.6 149.8h0.85v0.85h-0.85zM463.7 144.9h0.85v0.85h-0.85zM480.2 146.1h0.85v0.85h-0.85zM435.6 151.6h0.85v0.85h-0.85zM475.6 148.7h0.85v0.85h-0.85zM461.4 146.2h0.85v0.85h-0.85zM494.9 146.1h0.85v0.85h-0.85zM452.2 151.3h0.85v0.85h-0.85zM474.7 148.6h0.85v0.85h-0.85zM488.3 145.8h0.85v0.85h-0.85zM466.5 146.0h0.85v0.85h-0.85zM445.4 151.3h0.85v0.85h-0.85z" fill="#b8b8c8"/>
<path d="M457.2 154.1h0.85v0.85h-0.85zM436.5 154.6h0.85v0.85h-0.85zM442.4 151.3h0.85v0.85h-0.85zM452.2 151.5h0.85v0.85h-0.85zM466.1 151.8h0.85v0.85h-0.85zM445.4 151.9h0.85v0.85h-0.85zM462.8 151.6h0.85v0.85h-0.85zM468.9 153.6h0.85v0.85h-0.85zM443.0 154.5h0.85v0.85h-0.85zM486.4 148.7h0.85v0.85h-0.85zM449.0 148.6h0.85v0.85h-0.85zM481.3 154.0h0.85v0.85h-0.85zM479.0 155.0h0.85v0.85h-0.85zM464.5 154.1h0.85v0.85h-0.85zM428.7 151.2h0.85v0.85h-0.85zM445.4 155.2h0.85v0.85h-0.85zM491.2 152.1h0.85v0.85h-0.85zM445.2 151.2h0.85v0.85h-0.85zM468.2 154.7h0.85v0.85h-0.85zM470.8 154.9h0.85v0.85h-0.85zM466.0 149.8h0.85v0.85h-0.85zM499.3 150.6h0.85v0.85h-0.85zM448.4 154.6h0.85v0.85h-0.85zM500.8 147.4h0.85v0.85h-0.85zM475.0 154.8h0.85v0.85h-0.85zM436.5 152.6h0.85v0.85h-0.85zM442.3 154.2h0.85v0.85h-0.85zM490.3 149.2h0.85v0.85h-0.85zM479.4 155.2h0.85v0.85h-0.85zM427.6 151.5h0.85v0.85h-0.85zM426.0 150.9h0.85v0.85h-0.85zM496.7 154.2h0.85v0.85h-0.85zM456.6 150.5h0.85v0.85h-0.85zM451.4 155.4h0.85v0.85h-0.85zM478.3 147.7h0.85v0.85h-0.85zM498.6 153.0h0.85v0.85h-0.85zM450.7 152.9h0.85v0.85h-0.85zM469.1 153.7h0.85v0.85h-0.85zM469.0 147.3h0.85v0.85h-0.85zM443.5 149.4h0.85v0.85h-0.85zM463.4 153.7h0.85v0.85h-0.85zM456.9 152.3h0.85v0.85h-0.85zM481.1 152.5h0.85v0.85h-0.85zM483.8 153.1h0.85v0.85h-0.85zM455.1 152.0h0.85v0.85h-0.85zM490.7 151.8h0.85v0.85h-0.85zM465.4 153.6h0.85v0.85h-0.85zM464.1 154.7h0.85v0.85h-0.85zM475.6 147.4h0.85v0.85h-0.85zM438.4 154.0h0.85v0.85h-0.85zM438.1 154.2h0.85v0.85h-0.85zM454.7 153.1h0.85v0.85h-0.85zM458.1 153.8h0.85v0.85h-0.85zM452.4 152.4h0.85v0.85h-0.85zM434.7 154.6h0.85v0.85h-0.85zM445.6 151.4h0.85v0.85h-0.85zM478.1 148.7h0.85v0.85h-0.85zM493.1 151.9h0.85v0.85h-0.85zM476.9 153.5h0.85v0.85h-0.85zM490.3 152.4h0.85v0.85h-0.85zM441.9 153.9h0.85v0.85h-0.85zM434.9 153.8h0.85v0.85h-0.85zM498.1 154.9h0.85v0.85h-0.85zM430.7 152.3h0.85v0.85h-0.85zM476.7 154.7h0.85v0.85h-0.85zM474.4 151.0h0.85v0.85h-0.85zM455.9 150.4h0.85v0.85h-0.85zM495.2 153.9h0.85v0.85h-0.85zM423.6 152.8h0.85v0.85h-0.85zM468.3 148.2h0.85v0.85h-0.85zM464.6 150.3h0.85v0.85h-0.85zM479.0 150.1h0.85v0.85h-0.85z" fill="#e07a22"/>
<path d="M471.1 149.2h0.85v0.85h-0.85zM485.6 147.9h0.85v0.85h-0.85zM460.3 152.9h0.85v0.85h-0.85zM467.8 148.5h0.85v0.85h-0.85zM478.1 145.5h0.85v0.85h-0.85zM474.8 145.1h0.85v0.85h-0.85zM475.3 151.2h0.85v0.85h-0.85zM441.5 154.9h0.85v0.85h-0.85zM428.6 150.2h0.85v0.85h-0.85zM474.8 153.8h0.85v0.85h-0.85zM460.8 144.2h0.85v0.85h-0.85zM474.1 146.6h0.85v0.85h-0.85zM449.4 145.9h0.85v0.85h-0.85zM440.9 153.1h0.85v0.85h-0.85zM437.4 151.3h0.85v0.85h-0.85zM461.1 152.0h0.85v0.85h-0.85zM470.8 144.8h0.85v0.85h-0.85zM478.7 152.6h0.85v0.85h-0.85zM480.6 146.4h0.85v0.85h-0.85zM425.5 150.3h0.85v0.85h-0.85zM428.5 149.9h0.85v0.85h-0.85zM492.2 148.1h0.85v0.85h-0.85zM487.2 145.9h0.85v0.85h-0.85zM466.0 151.7h0.85v0.85h-0.85zM473.3 149.5h0.85v0.85h-0.85zM435.1 152.6h0.85v0.85h-0.85zM476.1 152.0h0.85v0.85h-0.85zM500.7 148.9h0.85v0.85h-0.85zM437.9 155.1h0.85v0.85h-0.85zM492.9 148.1h0.85v0.85h-0.85zM492.8 147.9h0.85v0.85h-0.85zM443.9 148.4h0.85v0.85h-0.85zM499.0 152.5h0.85v0.85h-0.85zM443.6 148.4h0.85v0.85h-0.85zM483.0 148.9h0.85v0.85h-0.85zM426.1 150.7h0.85v0.85h-0.85zM475.8 145.9h0.85v0.85h-0.85zM426.5 150.5h0.85v0.85h-0.85zM478.5 146.2h0.85v0.85h-0.85zM485.1 146.8h0.85v0.85h-0.85zM483.7 148.0h0.85v0.85h-0.85zM472.7 144.6h0.85v0.85h-0.85zM461.5 152.9h0.85v0.85h-0.85zM494.1 151.0h0.85v0.85h-0.85zM443.4 150.7h0.85v0.85h-0.85zM443.5 150.1h0.85v0.85h-0.85zM426.2 150.4h0.85v0.85h-0.85zM445.5 152.4h0.85v0.85h-0.85zM478.3 149.3h0.85v0.85h-0.85zM450.8 148.6h0.85v0.85h-0.85zM442.0 149.5h0.85v0.85h-0.85zM441.8 150.9h0.85v0.85h-0.85zM477.1 148.1h0.85v0.85h-0.85zM475.2 147.6h0.85v0.85h-0.85zM425.9 150.3h0.85v0.85h-0.85zM439.4 155.4h0.85v0.85h-0.85zM491.7 155.0h0.85v0.85h-0.85zM452.1 147.8h0.85v0.85h-0.85zM469.4 148.8h0.85v0.85h-0.85zM479.9 146.2h0.85v0.85h-0.85zM483.1 146.8h0.85v0.85h-0.85zM499.2 144.2h0.85v0.85h-0.85zM446.8 150.3h0.85v0.85h-0.85zM448.3 149.3h0.85v0.85h-0.85zM496.3 148.8h0.85v0.85h-0.85zM484.3 146.6h0.85v0.85h-0.85zM479.3 148.7h0.85v0.85h-0.85zM441.5 149.5h0.85v0.85h-0.85zM449.7 148.1h0.85v0.85h-0.85zM445.3 154.6h0.85v0.85h-0.85zM474.3 148.5h0.85v0.85h-0.85zM465.3 150.2h0.85v0.85h-0.85zM474.8 149.9h0.85v0.85h-0.85zM458.1 149.7h0.85v0.85h-0.85zM486.4 154.0h0.85v0.85h-0.85zM480.0 150.2h0.85v0.85h-0.85zM466.0 145.1h0.85v0.85h-0.85zM453.0 152.3h0.85v0.85h-0.85zM470.6 149.1h0.85v0.85h-0.85zM467.9 145.1h0.85v0.85h-0.85zM435.6 153.8h0.85v0.85h-0.85zM435.2 155.1h0.85v0.85h-0.85zM483.3 148.8h0.85v0.85h-0.85zM487.5 151.0h0.85v0.85h-0.85zM497.9 145.9h0.85v0.85h-0.85zM439.9 150.1h0.85v0.85h-0.85zM489.9 150.2h0.85v0.85h-0.85zM434.0 150.0h0.85v0.85h-0.85zM489.0 151.8h0.85v0.85h-0.85zM435.4 150.8h0.85v0.85h-0.85zM492.2 144.6h0.85v0.85h-0.85zM428.3 149.3h0.85v0.85h-0.85zM489.3 145.8h0.85v0.85h-0.85zM443.3 152.9h0.85v0.85h-0.85zM480.2 146.4h0.85v0.85h-0.85zM480.8 152.0h0.85v0.85h-0.85zM478.7 148.8h0.85v0.85h-0.85zM490.1 144.8h0.85v0.85h-0.85zM457.8 152.6h0.85v0.85h-0.85zM490.7 153.8h0.85v0.85h-0.85zM469.5 150.4h0.85v0.85h-0.85zM481.3 149.8h0.85v0.85h-0.85zM449.2 150.0h0.85v0.85h-0.85zM459.0 149.6h0.85v0.85h-0.85zM468.4 151.0h0.85v0.85h-0.85zM435.3 149.0h0.85v0.85h-0.85zM450.0 150.5h0.85v0.85h-0.85zM451.4 147.4h0.85v0.85h-0.85zM447.3 151.5h0.85v0.85h-0.85zM449.6 150.2h0.85v0.85h-0.85zM435.3 153.0h0.85v0.85h-0.85zM443.8 152.2h0.85v0.85h-0.85zM479.7 152.3h0.85v0.85h-0.85zM444.5 154.7h0.85v0.85h-0.85zM463.4 153.4h0.85v0.85h-0.85zM426.2 150.7h0.85v0.85h-0.85zM479.7 153.2h0.85v0.85h-0.85zM429.5 149.9h0.85v0.85h-0.85zM452.9 147.8h0.85v0.85h-0.85zM425.9 150.4h0.85v0.85h-0.85zM489.3 151.8h0.85v0.85h-0.85zM484.4 150.8h0.85v0.85h-0.85zM440.9 152.0h0.85v0.85h-0.85zM470.0 150.7h0.85v0.85h-0.85zM471.4 153.1h0.85v0.85h-0.85zM462.9 144.1h0.85v0.85h-0.85zM499.8 147.5h0.85v0.85h-0.85z" fill="#2c3478"/>
<path d="M426.5 150.8h0.85v0.85h-0.85zM455.8 147.2h0.85v0.85h-0.85zM485.0 148.4h0.85v0.85h-0.85zM441.6 154.1h0.85v0.85h-0.85zM424.3 151.2h0.85v0.85h-0.85zM430.3 149.9h0.85v0.85h-0.85zM484.1 149.2h0.85v0.85h-0.85zM468.7 147.9h0.85v0.85h-0.85zM427.3 151.5h0.85v0.85h-0.85zM430.0 150.5h0.85v0.85h-0.85zM452.0 151.9h0.85v0.85h-0.85zM437.3 153.7h0.85v0.85h-0.85zM458.5 148.6h0.85v0.85h-0.85zM427.9 149.5h0.85v0.85h-0.85zM423.9 149.3h0.85v0.85h-0.85zM451.0 148.6h0.85v0.85h-0.85zM475.8 149.7h0.85v0.85h-0.85zM430.7 152.3h0.85v0.85h-0.85zM428.2 152.3h0.85v0.85h-0.85zM465.1 147.6h0.85v0.85h-0.85zM446.0 153.7h0.85v0.85h-0.85zM437.5 152.8h0.85v0.85h-0.85zM426.7 152.3h0.85v0.85h-0.85zM426.1 152.1h0.85v0.85h-0.85zM474.9 148.9h0.85v0.85h-0.85zM491.6 152.7h0.85v0.85h-0.85zM461.1 154.2h0.85v0.85h-0.85zM427.5 150.3h0.85v0.85h-0.85zM491.3 150.8h0.85v0.85h-0.85zM425.1 150.2h0.85v0.85h-0.85zM491.6 152.1h0.85v0.85h-0.85zM493.0 149.1h0.85v0.85h-0.85zM425.9 150.4h0.85v0.85h-0.85zM438.9 150.2h0.85v0.85h-0.85zM455.9 147.3h0.85v0.85h-0.85zM428.1 150.1h0.85v0.85h-0.85zM468.6 149.5h0.85v0.85h-0.85zM463.0 149.9h0.85v0.85h-0.85zM423.7 149.4h0.85v0.85h-0.85zM452.5 151.0h0.85v0.85h-0.85zM437.4 150.6h0.85v0.85h-0.85zM492.5 147.2h0.85v0.85h-0.85zM427.4 152.2h0.85v0.85h-0.85zM434.6 155.4h0.85v0.85h-0.85zM498.5 151.3h0.85v0.85h-0.85zM444.0 150.2h0.85v0.85h-0.85zM449.7 151.1h0.85v0.85h-0.85zM447.5 150.3h0.85v0.85h-0.85zM499.2 149.6h0.85v0.85h-0.85zM464.8 152.5h0.85v0.85h-0.85zM475.9 152.8h0.85v0.85h-0.85zM496.3 152.6h0.85v0.85h-0.85zM489.3 153.1h0.85v0.85h-0.85zM424.2 152.1h0.85v0.85h-0.85zM438.9 150.8h0.85v0.85h-0.85zM453.5 148.7h0.85v0.85h-0.85zM441.5 153.6h0.85v0.85h-0.85zM484.8 148.5h0.85v0.85h-0.85zM458.8 150.9h0.85v0.85h-0.85zM457.6 148.8h0.85v0.85h-0.85zM498.0 150.6h0.85v0.85h-0.85zM439.8 151.9h0.85v0.85h-0.85zM447.8 154.6h0.85v0.85h-0.85zM480.2 149.5h0.85v0.85h-0.85zM461.4 151.6h0.85v0.85h-0.85zM451.9 154.9h0.85v0.85h-0.85zM435.3 151.0h0.85v0.85h-0.85zM464.1 151.5h0.85v0.85h-0.85zM466.5 147.8h0.85v0.85h-0.85zM424.9 149.6h0.85v0.85h-0.85zM453.2 149.8h0.85v0.85h-0.85zM465.8 153.8h0.85v0.85h-0.85zM489.2 148.4h0.85v0.85h-0.85zM461.4 152.5h0.85v0.85h-0.85zM495.9 151.1h0.85v0.85h-0.85zM452.8 151.0h0.85v0.85h-0.85zM429.8 150.5h0.85v0.85h-0.85zM457.3 151.4h0.85v0.85h-0.85zM500.1 151.2h0.85v0.85h-0.85zM486.3 149.2h0.85v0.85h-0.85zM425.3 150.8h0.85v0.85h-0.85zM470.7 150.1h0.85v0.85h-0.85z" fill="#6a3478"/>
<path d="M461.2 145.0h0.85v0.85h-0.85zM472.5 146.9h0.85v0.85h-0.85zM480.0 145.6h0.85v0.85h-0.85zM456.9 146.5h0.85v0.85h-0.85zM446.2 148.7h0.85v0.85h-0.85zM496.2 145.0h0.85v0.85h-0.85zM453.9 146.4h0.85v0.85h-0.85zM471.8 146.3h0.85v0.85h-0.85zM497.3 145.4h0.85v0.85h-0.85zM491.7 146.3h0.85v0.85h-0.85zM466.3 145.3h0.85v0.85h-0.85zM451.3 146.6h0.85v0.85h-0.85zM438.3 148.3h0.85v0.85h-0.85zM479.2 144.3h0.85v0.85h-0.85zM463.7 145.4h0.85v0.85h-0.85zM454.9 145.5h0.85v0.85h-0.85zM495.6 146.1h0.85v0.85h-0.85zM442.4 147.3h0.85v0.85h-0.85zM479.3 144.4h0.85v0.85h-0.85zM436.8 150.4h0.85v0.85h-0.85zM491.1 146.4h0.85v0.85h-0.85zM462.1 144.9h0.85v0.85h-0.85zM458.3 146.5h0.85v0.85h-0.85zM446.1 146.9h0.85v0.85h-0.85zM444.9 147.0h0.85v0.85h-0.85zM445.6 148.0h0.85v0.85h-0.85zM483.9 146.9h0.85v0.85h-0.85zM500.5 144.7h0.85v0.85h-0.85zM461.0 145.0h0.85v0.85h-0.85zM481.8 145.4h0.85v0.85h-0.85zM495.7 146.8h0.85v0.85h-0.85zM454.5 145.9h0.85v0.85h-0.85z" fill="#8a8a9a"/>
<path d="M493.0 146.8h0.85v0.85h-0.85zM494.6 146.6h0.85v0.85h-0.85zM498.7 146.5h0.85v0.85h-0.85zM436.3 148.8h0.85v0.85h-0.85zM470.5 145.4h0.85v0.85h-0.85zM447.1 148.3h0.85v0.85h-0.85zM461.3 146.7h0.85v0.85h-0.85zM440.9 147.7h0.85v0.85h-0.85zM441.0 149.6h0.85v0.85h-0.85zM481.4 145.3h0.85v0.85h-0.85zM455.3 145.3h0.85v0.85h-0.85zM496.7 146.7h0.85v0.85h-0.85zM494.3 145.3h0.85v0.85h-0.85zM463.5 146.9h0.85v0.85h-0.85zM499.0 146.2h0.85v0.85h-0.85zM462.8 146.9h0.85v0.85h-0.85zM458.4 144.2h0.85v0.85h-0.85zM498.4 145.0h0.85v0.85h-0.85zM440.7 148.5h0.85v0.85h-0.85zM446.9 147.8h0.85v0.85h-0.85zM472.9 145.8h0.85v0.85h-0.85zM442.0 149.3h0.85v0.85h-0.85zM437.5 148.7h0.85v0.85h-0.85zM470.1 145.2h0.85v0.85h-0.85zM450.4 146.2h0.85v0.85h-0.85zM461.0 146.8h0.85v0.85h-0.85zM467.8 144.4h0.85v0.85h-0.85zM473.5 145.4h0.85v0.85h-0.85z" fill="#333"/>
<rect x="433.90" y="148.30" width="1.10" height="7.70" fill="#d8301c"/>
<text x="424.80" y="135.10" font-size="3.6" stroke="#111" stroke-width="0.13">anti-CD3 (OKT3, 10 µg/mL)</text>
<text x="413.40" y="134.10" font-size="4.8" fill="#555" stroke="#555" stroke-width="0.13">10<tspan font-size="3.0" dy="-2.1">4</tspan></text>
<text x="413.40" y="140.30" font-size="4.8" fill="#555" stroke="#555" stroke-width="0.13">10<tspan font-size="3.0" dy="-2.1">2</tspan></text>
<text x="413.40" y="146.00" font-size="4.8" fill="#555" stroke="#555" stroke-width="0.13">10<tspan font-size="3.0" dy="-2.1">1</tspan></text>
<text x="413.40" y="152.70" font-size="4.8" fill="#555" stroke="#555" stroke-width="0.13">10<tspan font-size="3.0" dy="-2.1">0</tspan></text>
<rect x="423.00" y="158.60" width="79.00" height="26.00" fill="#fff" stroke="#b0b0b0" stroke-width="0.6"/>
<linearGradient id="h105" x1="0" y1="0" x2="0" y2="1"><stop offset="0" stop-color="#888" stop-opacity="0"/><stop offset="1" stop-color="#666" stop-opacity="0.45"/></linearGradient>
<polygon points="433.9,169.8 435.6,169.7 437.3,169.7 439.0,169.6 440.7,169.6 442.4,169.5 444.1,169.4 445.8,169.4 447.5,169.3 449.2,169.3 450.8,169.2 452.5,169.2 454.2,169.1 455.9,169.0 457.6,169.0 459.3,168.9 461.0,168.9 462.7,168.8 464.4,168.8 466.1,168.8 467.8,168.8 469.5,168.8 471.2,168.8 472.9,168.8 474.6,168.8 476.3,168.8 478.0,168.8 479.7,168.8 481.4,168.8 483.1,168.8 484.8,168.8 486.4,168.8 488.1,168.8 489.8,168.8 491.5,168.8 493.2,168.8 494.9,168.8 496.6,168.8 498.3,168.8 500.0,168.8 501.7,168.8 501.7,175.8 500.0,175.8 498.3,175.8 496.6,175.8 494.9,175.8 493.2,175.8 491.5,175.8 489.8,175.8 488.1,175.8 486.4,175.8 484.8,175.8 483.1,175.8 481.4,175.8 479.7,175.8 478.0,175.8 476.3,175.8 474.6,175.8 472.9,175.8 471.2,175.8 469.5,175.8 467.8,175.8 466.1,175.8 464.4,175.8 462.7,175.8 461.0,175.9 459.3,175.9 457.6,176.0 455.9,176.0 454.2,176.1 452.5,176.2 450.8,176.2 449.2,176.3 447.5,176.3 445.8,176.4 444.1,176.4 442.4,176.5 440.7,176.6 439.0,176.6 437.3,176.7 435.6,176.7 433.9,176.8" fill="url(#h105)"/>
<rect x="423.3" y="169.8" width="7.9" height="7.0" fill="url(#h105)"/>
<path d="M491.8 173.9h0.5v0.5h-0.5zM436.4 163.6h0.5v0.5h-0.5zM501.2 169.7h0.5v0.5h-0.5zM498.8 170.5h0.5v0.5h-0.5zM474.6 175.7h0.5v0.5h-0.5zM455.7 175.9h0.5v0.5h-0.5zM457.5 169.8h0.5v0.5h-0.5zM465.1 172.3h0.5v0.5h-0.5zM482.7 170.6h0.5v0.5h-0.5zM473.6 174.0h0.5v0.5h-0.5zM441.6 175.4h0.5v0.5h-0.5zM494.8 175.8h0.5v0.5h-0.5zM467.3 173.9h0.5v0.5h-0.5zM438.0 175.6h0.5v0.5h-0.5zM476.6 167.6h0.5v0.5h-0.5zM463.1 166.1h0.5v0.5h-0.5zM465.7 170.7h0.5v0.5h-0.5zM464.3 163.9h0.5v0.5h-0.5zM488.6 175.8h0.5v0.5h-0.5zM482.9 163.8h0.5v0.5h-0.5zM464.0 173.3h0.5v0.5h-0.5zM494.1 175.8h0.5v0.5h-0.5zM487.8 173.8h0.5v0.5h-0.5zM450.2 173.7h0.5v0.5h-0.5zM486.7 168.1h0.5v0.5h-0.5zM452.4 163.8h0.5v0.5h-0.5zM429.8 170.5h0.5v0.5h-0.5zM472.4 163.0h0.5v0.5h-0.5zM483.9 162.4h0.5v0.5h-0.5zM489.4 171.4h0.5v0.5h-0.5zM481.4 160.8h0.5v0.5h-0.5zM442.0 171.2h0.5v0.5h-0.5zM484.3 175.6h0.5v0.5h-0.5zM479.3 173.4h0.5v0.5h-0.5zM438.5 176.6h0.5v0.5h-0.5zM466.0 165.8h0.5v0.5h-0.5zM438.2 172.4h0.5v0.5h-0.5zM452.5 175.5h0.5v0.5h-0.5zM496.3 175.5h0.5v0.5h-0.5zM446.1 166.7h0.5v0.5h-0.5zM428.0 176.1h0.5v0.5h-0.5zM449.6 167.8h0.5v0.5h-0.5zM483.5 175.3h0.5v0.5h-0.5zM465.8 172.0h0.5v0.5h-0.5zM463.1 173.3h0.5v0.5h-0.5zM444.2 170.6h0.5v0.5h-0.5zM490.8 172.8h0.5v0.5h-0.5zM439.3 161.5h0.5v0.5h-0.5zM480.4 167.6h0.5v0.5h-0.5zM472.9 173.4h0.5v0.5h-0.5zM442.1 169.9h0.5v0.5h-0.5zM481.2 174.6h0.5v0.5h-0.5zM496.1 170.7h0.5v0.5h-0.5zM447.1 170.9h0.5v0.5h-0.5zM472.9 170.7h0.5v0.5h-0.5zM490.0 163.8h0.5v0.5h-0.5zM471.9 164.2h0.5v0.5h-0.5zM479.9 175.5h0.5v0.5h-0.5zM439.0 175.4h0.5v0.5h-0.5zM455.1 173.6h0.5v0.5h-0.5zM440.8 168.6h0.5v0.5h-0.5zM489.0 164.3h0.5v0.5h-0.5zM444.0 173.9h0.5v0.5h-0.5zM479.6 167.2h0.5v0.5h-0.5zM485.0 166.2h0.5v0.5h-0.5zM464.7 165.1h0.5v0.5h-0.5zM472.2 171.5h0.5v0.5h-0.5z" fill="#222"/>
<path d="M474.8 173.9h0.5v0.5h-0.5zM462.1 163.9h0.5v0.5h-0.5zM451.4 167.7h0.5v0.5h-0.5zM458.6 170.5h0.5v0.5h-0.5zM495.0 172.0h0.5v0.5h-0.5zM442.6 176.5h0.5v0.5h-0.5zM470.2 161.2h0.5v0.5h-0.5zM486.4 175.7h0.5v0.5h-0.5zM458.1 169.2h0.5v0.5h-0.5zM460.5 175.9h0.5v0.5h-0.5zM447.0 173.1h0.5v0.5h-0.5zM467.3 175.7h0.5v0.5h-0.5zM438.2 171.7h0.5v0.5h-0.5zM467.3 166.6h0.5v0.5h-0.5zM437.1 161.6h0.5v0.5h-0.5zM458.9 172.8h0.5v0.5h-0.5zM489.0 170.1h0.5v0.5h-0.5zM469.5 175.3h0.5v0.5h-0.5zM453.7 174.8h0.5v0.5h-0.5zM453.6 161.5h0.5v0.5h-0.5zM476.0 174.0h0.5v0.5h-0.5zM461.9 166.5h0.5v0.5h-0.5zM447.3 167.5h0.5v0.5h-0.5zM474.6 171.8h0.5v0.5h-0.5zM452.0 168.3h0.5v0.5h-0.5zM452.2 176.2h0.5v0.5h-0.5zM440.8 176.5h0.5v0.5h-0.5zM486.3 174.1h0.5v0.5h-0.5zM445.4 171.4h0.5v0.5h-0.5zM430.5 175.6h0.5v0.5h-0.5zM445.3 174.0h0.5v0.5h-0.5zM446.5 176.3h0.5v0.5h-0.5zM499.5 172.5h0.5v0.5h-0.5zM492.4 161.7h0.5v0.5h-0.5zM449.4 164.3h0.5v0.5h-0.5zM498.3 166.2h0.5v0.5h-0.5zM443.5 164.3h0.5v0.5h-0.5zM500.6 171.6h0.5v0.5h-0.5zM438.2 175.1h0.5v0.5h-0.5zM448.1 169.5h0.5v0.5h-0.5zM445.1 175.6h0.5v0.5h-0.5zM471.0 160.1h0.5v0.5h-0.5zM451.5 175.9h0.5v0.5h-0.5zM461.8 161.8h0.5v0.5h-0.5zM428.4 176.0h0.5v0.5h-0.5zM460.1 175.1h0.5v0.5h-0.5zM423.7 164.5h0.5v0.5h-0.5zM490.5 162.4h0.5v0.5h-0.5zM500.1 165.0h0.5v0.5h-0.5zM423.6 170.6h0.5v0.5h-0.5zM486.6 170.1h0.5v0.5h-0.5zM497.1 174.5h0.5v0.5h-0.5zM479.9 170.7h0.5v0.5h-0.5zM436.3 173.9h0.5v0.5h-0.5zM473.3 172.5h0.5v0.5h-0.5zM442.3 175.1h0.5v0.5h-0.5zM424.2 172.9h0.5v0.5h-0.5zM468.1 175.7h0.5v0.5h-0.5zM445.7 171.7h0.5v0.5h-0.5zM480.0 167.5h0.5v0.5h-0.5zM458.3 162.1h0.5v0.5h-0.5zM436.6 176.4h0.5v0.5h-0.5zM448.3 171.3h0.5v0.5h-0.5zM428.0 176.7h0.5v0.5h-0.5zM474.3 175.1h0.5v0.5h-0.5zM461.0 175.3h0.5v0.5h-0.5zM440.4 174.6h0.5v0.5h-0.5zM496.2 174.4h0.5v0.5h-0.5zM425.0 163.8h0.5v0.5h-0.5z" fill="#555"/>
<path d="M449.5 175.8h0.5v0.5h-0.5zM478.5 175.3h0.5v0.5h-0.5zM494.9 175.7h0.5v0.5h-0.5zM460.9 166.2h0.5v0.5h-0.5zM451.2 160.8h0.5v0.5h-0.5zM474.6 169.1h0.5v0.5h-0.5zM441.8 176.3h0.5v0.5h-0.5zM439.9 170.3h0.5v0.5h-0.5zM473.9 172.7h0.5v0.5h-0.5zM481.9 168.9h0.5v0.5h-0.5zM450.6 176.2h0.5v0.5h-0.5zM443.9 175.7h0.5v0.5h-0.5zM446.4 176.4h0.5v0.5h-0.5zM453.1 163.9h0.5v0.5h-0.5zM448.0 172.7h0.5v0.5h-0.5zM436.5 173.6h0.5v0.5h-0.5zM494.2 168.4h0.5v0.5h-0.5zM478.6 165.7h0.5v0.5h-0.5zM436.4 171.9h0.5v0.5h-0.5zM440.7 176.3h0.5v0.5h-0.5zM488.7 174.9h0.5v0.5h-0.5zM489.4 173.1h0.5v0.5h-0.5zM488.1 175.6h0.5v0.5h-0.5zM436.1 161.5h0.5v0.5h-0.5zM489.5 167.7h0.5v0.5h-0.5zM478.4 170.7h0.5v0.5h-0.5zM453.9 175.5h0.5v0.5h-0.5zM487.1 170.1h0.5v0.5h-0.5zM495.3 171.2h0.5v0.5h-0.5zM501.3 164.2h0.5v0.5h-0.5zM426.3 166.9h0.5v0.5h-0.5zM446.5 170.9h0.5v0.5h-0.5zM437.3 165.9h0.5v0.5h-0.5zM499.8 172.4h0.5v0.5h-0.5zM500.1 175.8h0.5v0.5h-0.5zM493.6 170.4h0.5v0.5h-0.5zM461.7 175.6h0.5v0.5h-0.5zM477.4 170.2h0.5v0.5h-0.5zM460.5 172.1h0.5v0.5h-0.5zM429.0 176.4h0.5v0.5h-0.5zM472.4 169.5h0.5v0.5h-0.5zM453.6 174.7h0.5v0.5h-0.5zM434.6 170.9h0.5v0.5h-0.5zM474.5 174.5h0.5v0.5h-0.5zM434.4 172.1h0.5v0.5h-0.5zM459.4 171.7h0.5v0.5h-0.5zM425.6 162.0h0.5v0.5h-0.5zM494.8 175.4h0.5v0.5h-0.5zM486.8 174.5h0.5v0.5h-0.5zM435.3 171.5h0.5v0.5h-0.5zM441.4 175.5h0.5v0.5h-0.5zM500.6 175.5h0.5v0.5h-0.5zM492.7 172.5h0.5v0.5h-0.5zM492.7 162.1h0.5v0.5h-0.5zM491.2 175.6h0.5v0.5h-0.5zM434.9 175.5h0.5v0.5h-0.5zM473.9 168.3h0.5v0.5h-0.5z" fill="#888"/>
<path d="M489.4 169.9h0.5v0.5h-0.5zM499.5 160.9h0.5v0.5h-0.5zM477.9 175.6h0.5v0.5h-0.5zM491.0 174.2h0.5v0.5h-0.5zM476.6 174.3h0.5v0.5h-0.5zM466.0 161.0h0.5v0.5h-0.5zM475.9 172.2h0.5v0.5h-0.5zM455.3 172.7h0.5v0.5h-0.5zM447.0 166.5h0.5v0.5h-0.5zM429.4 173.0h0.5v0.5h-0.5zM495.9 172.2h0.5v0.5h-0.5zM495.6 174.6h0.5v0.5h-0.5zM489.5 174.8h0.5v0.5h-0.5zM501.2 174.0h0.5v0.5h-0.5zM469.2 160.2h0.5v0.5h-0.5zM488.9 161.7h0.5v0.5h-0.5zM498.0 162.4h0.5v0.5h-0.5zM492.7 166.5h0.5v0.5h-0.5zM471.5 175.0h0.5v0.5h-0.5zM440.1 166.5h0.5v0.5h-0.5zM486.1 160.3h0.5v0.5h-0.5zM445.8 172.1h0.5v0.5h-0.5zM474.9 165.2h0.5v0.5h-0.5zM439.2 165.6h0.5v0.5h-0.5zM436.1 172.4h0.5v0.5h-0.5zM435.0 168.7h0.5v0.5h-0.5zM451.5 175.9h0.5v0.5h-0.5zM455.4 168.3h0.5v0.5h-0.5zM496.9 160.3h0.5v0.5h-0.5zM446.0 166.4h0.5v0.5h-0.5zM425.4 176.7h0.5v0.5h-0.5zM448.2 171.5h0.5v0.5h-0.5zM473.2 174.1h0.5v0.5h-0.5zM426.1 171.5h0.5v0.5h-0.5zM425.1 166.9h0.5v0.5h-0.5zM466.9 175.8h0.5v0.5h-0.5zM443.1 162.2h0.5v0.5h-0.5zM484.1 169.4h0.5v0.5h-0.5zM488.6 172.1h0.5v0.5h-0.5zM452.0 176.1h0.5v0.5h-0.5zM472.3 174.2h0.5v0.5h-0.5zM443.3 173.9h0.5v0.5h-0.5zM459.6 172.6h0.5v0.5h-0.5zM455.5 175.3h0.5v0.5h-0.5zM452.9 175.9h0.5v0.5h-0.5zM430.0 172.8h0.5v0.5h-0.5zM424.4 167.4h0.5v0.5h-0.5zM451.3 171.6h0.5v0.5h-0.5zM467.0 174.4h0.5v0.5h-0.5zM462.9 175.7h0.5v0.5h-0.5zM464.4 174.2h0.5v0.5h-0.5zM450.3 176.2h0.5v0.5h-0.5zM444.7 164.2h0.5v0.5h-0.5zM444.6 170.3h0.5v0.5h-0.5zM443.8 161.8h0.5v0.5h-0.5zM475.9 166.1h0.5v0.5h-0.5zM467.2 170.5h0.5v0.5h-0.5z" fill="#aaa"/>
<path d="M497.5 174.3h0.5v0.5h-0.5zM498.2 165.3h0.5v0.5h-0.5zM497.9 163.7h0.5v0.5h-0.5zM482.7 169.6h0.5v0.5h-0.5zM463.6 170.3h0.5v0.5h-0.5zM451.3 168.2h0.5v0.5h-0.5zM466.1 175.1h0.5v0.5h-0.5zM438.0 160.3h0.5v0.5h-0.5zM445.1 176.2h0.5v0.5h-0.5zM451.7 173.9h0.5v0.5h-0.5zM497.3 163.4h0.5v0.5h-0.5zM485.5 169.9h0.5v0.5h-0.5zM476.2 166.3h0.5v0.5h-0.5zM477.8 175.6h0.5v0.5h-0.5zM463.0 174.8h0.5v0.5h-0.5zM459.6 175.8h0.5v0.5h-0.5zM437.2 169.4h0.5v0.5h-0.5zM439.7 172.9h0.5v0.5h-0.5zM477.8 167.2h0.5v0.5h-0.5zM498.5 175.0h0.5v0.5h-0.5zM479.5 175.8h0.5v0.5h-0.5zM473.7 160.6h0.5v0.5h-0.5zM479.3 173.5h0.5v0.5h-0.5zM463.6 175.1h0.5v0.5h-0.5zM438.4 170.1h0.5v0.5h-0.5zM458.9 163.8h0.5v0.5h-0.5zM499.8 175.7h0.5v0.5h-0.5zM501.3 170.7h0.5v0.5h-0.5zM465.6 169.6h0.5v0.5h-0.5zM462.0 175.8h0.5v0.5h-0.5zM495.2 171.7h0.5v0.5h-0.5zM457.8 169.0h0.5v0.5h-0.5zM465.4 175.2h0.5v0.5h-0.5zM437.1 175.9h0.5v0.5h-0.5zM443.9 161.1h0.5v0.5h-0.5zM455.3 172.0h0.5v0.5h-0.5zM493.4 164.2h0.5v0.5h-0.5zM471.0 172.6h0.5v0.5h-0.5zM438.6 173.7h0.5v0.5h-0.5zM465.9 172.4h0.5v0.5h-0.5zM470.3 171.4h0.5v0.5h-0.5zM445.9 176.4h0.5v0.5h-0.5zM426.4 164.8h0.5v0.5h-0.5zM488.2 162.9h0.5v0.5h-0.5zM443.2 167.4h0.5v0.5h-0.5zM452.2 174.4h0.5v0.5h-0.5zM453.5 172.6h0.5v0.5h-0.5zM461.7 173.5h0.5v0.5h-0.5zM454.2 165.5h0.5v0.5h-0.5zM429.6 165.2h0.5v0.5h-0.5zM500.1 175.6h0.5v0.5h-0.5zM453.3 174.1h0.5v0.5h-0.5zM456.7 160.7h0.5v0.5h-0.5zM450.0 174.7h0.5v0.5h-0.5zM479.9 166.6h0.5v0.5h-0.5zM464.3 163.9h0.5v0.5h-0.5zM456.5 165.5h0.5v0.5h-0.5zM441.2 170.0h0.5v0.5h-0.5zM447.3 168.8h0.5v0.5h-0.5zM500.7 170.9h0.5v0.5h-0.5zM497.1 166.3h0.5v0.5h-0.5zM475.7 173.4h0.5v0.5h-0.5zM473.9 173.4h0.5v0.5h-0.5zM443.1 174.3h0.5v0.5h-0.5zM430.8 166.4h0.5v0.5h-0.5zM467.7 174.5h0.5v0.5h-0.5zM454.0 164.1h0.5v0.5h-0.5zM477.2 168.1h0.5v0.5h-0.5zM480.0 173.6h0.5v0.5h-0.5zM495.3 170.5h0.5v0.5h-0.5z" fill="#2a3a8a"/>
<linearGradient id="fg105" x1="0" y1="0" x2="0" y2="1"><stop offset="0" stop-color="#8a88a0"/><stop offset="0.2" stop-color="#4e5078"/><stop offset="0.5" stop-color="#8a7a58"/><stop offset="0.8" stop-color="#b07040"/><stop offset="1" stop-color="#b84a30"/></linearGradient>
<polygon points="433.9,176.8 435.6,176.7 437.3,176.7 439.0,176.6 440.7,176.6 442.4,176.5 444.1,176.4 445.8,176.4 447.5,176.3 449.2,176.3 450.8,176.2 452.5,176.2 454.2,176.1 455.9,176.0 457.6,176.0 459.3,175.9 461.0,175.9 462.7,175.8 464.4,175.8 466.1,175.8 467.8,175.8 469.5,175.8 471.2,175.8 472.9,175.8 474.6,175.8 476.3,175.8 478.0,175.8 479.7,175.8 481.4,175.8 483.1,175.8 484.8,175.8 486.4,175.8 488.1,175.8 489.8,175.8 491.5,175.8 493.2,175.8 494.9,175.8 496.6,175.8 498.3,175.8 500.0,175.8 501.7,175.8 501.7,184.3 433.9,184.3" fill="url(#fg105)"/>
<linearGradient id="fp105" x1="0" y1="0" x2="0" y2="1"><stop offset="0" stop-color="#6a5a78"/><stop offset="0.3" stop-color="#c05a2a"/><stop offset="0.7" stop-color="#d8501e"/><stop offset="1" stop-color="#c83a1e"/></linearGradient>
<rect x="423.3" y="176.8" width="7.9" height="7.5" fill="url(#fp105)"/>
<path d="M458.6 183.4h0.85v0.85h-0.85zM495.7 177.9h0.85v0.85h-0.85zM470.8 180.0h0.85v0.85h-0.85zM438.3 181.2h0.85v0.85h-0.85zM438.6 182.3h0.85v0.85h-0.85zM460.3 181.9h0.85v0.85h-0.85zM438.6 182.5h0.85v0.85h-0.85zM485.0 180.4h0.85v0.85h-0.85zM450.9 179.2h0.85v0.85h-0.85zM449.7 180.5h0.85v0.85h-0.85zM495.4 179.1h0.85v0.85h-0.85zM495.0 180.5h0.85v0.85h-0.85zM481.6 182.3h0.85v0.85h-0.85zM448.6 182.5h0.85v0.85h-0.85zM430.7 179.0h0.85v0.85h-0.85zM443.5 181.0h0.85v0.85h-0.85zM482.2 180.9h0.85v0.85h-0.85zM458.5 180.5h0.85v0.85h-0.85zM491.8 181.8h0.85v0.85h-0.85zM466.9 178.3h0.85v0.85h-0.85zM477.4 180.5h0.85v0.85h-0.85zM474.3 180.1h0.85v0.85h-0.85zM460.2 182.6h0.85v0.85h-0.85zM470.1 178.1h0.85v0.85h-0.85zM465.9 178.1h0.85v0.85h-0.85zM492.8 182.7h0.85v0.85h-0.85zM460.3 180.9h0.85v0.85h-0.85zM492.1 178.9h0.85v0.85h-0.85zM484.8 183.6h0.85v0.85h-0.85zM487.2 183.5h0.85v0.85h-0.85zM469.1 180.4h0.85v0.85h-0.85zM466.4 181.0h0.85v0.85h-0.85zM461.8 182.4h0.85v0.85h-0.85zM471.5 180.1h0.85v0.85h-0.85zM444.6 179.3h0.85v0.85h-0.85zM478.0 180.6h0.85v0.85h-0.85zM437.7 182.5h0.85v0.85h-0.85zM479.8 181.9h0.85v0.85h-0.85zM460.4 180.5h0.85v0.85h-0.85zM467.9 178.7h0.85v0.85h-0.85zM468.8 177.8h0.85v0.85h-0.85zM442.1 181.0h0.85v0.85h-0.85zM459.6 183.7h0.85v0.85h-0.85zM430.7 179.3h0.85v0.85h-0.85zM459.9 179.7h0.85v0.85h-0.85zM489.1 181.6h0.85v0.85h-0.85zM438.3 181.4h0.85v0.85h-0.85zM441.1 181.4h0.85v0.85h-0.85zM476.8 181.4h0.85v0.85h-0.85zM480.4 182.1h0.85v0.85h-0.85zM424.5 180.2h0.85v0.85h-0.85zM436.0 180.8h0.85v0.85h-0.85zM483.8 181.7h0.85v0.85h-0.85zM444.8 179.9h0.85v0.85h-0.85zM458.5 180.3h0.85v0.85h-0.85zM488.7 180.8h0.85v0.85h-0.85zM436.7 178.5h0.85v0.85h-0.85zM469.0 180.8h0.85v0.85h-0.85zM477.7 182.4h0.85v0.85h-0.85zM439.7 182.0h0.85v0.85h-0.85zM464.9 180.3h0.85v0.85h-0.85zM462.5 182.0h0.85v0.85h-0.85zM492.9 178.7h0.85v0.85h-0.85zM428.7 180.1h0.85v0.85h-0.85zM471.5 178.8h0.85v0.85h-0.85zM482.3 181.6h0.85v0.85h-0.85zM466.9 183.6h0.85v0.85h-0.85zM454.4 182.3h0.85v0.85h-0.85zM455.2 181.7h0.85v0.85h-0.85zM482.2 178.9h0.85v0.85h-0.85zM446.7 180.8h0.85v0.85h-0.85zM428.9 178.7h0.85v0.85h-0.85zM475.5 180.4h0.85v0.85h-0.85zM430.1 178.4h0.85v0.85h-0.85zM489.5 183.4h0.85v0.85h-0.85zM456.5 178.8h0.85v0.85h-0.85zM448.0 179.7h0.85v0.85h-0.85zM439.6 182.2h0.85v0.85h-0.85zM480.7 182.0h0.85v0.85h-0.85zM454.5 179.6h0.85v0.85h-0.85zM486.9 178.0h0.85v0.85h-0.85zM493.2 180.6h0.85v0.85h-0.85zM487.9 180.4h0.85v0.85h-0.85zM458.7 178.2h0.85v0.85h-0.85zM492.5 181.8h0.85v0.85h-0.85zM444.4 182.9h0.85v0.85h-0.85zM475.5 180.2h0.85v0.85h-0.85zM481.4 182.8h0.85v0.85h-0.85zM482.9 181.8h0.85v0.85h-0.85zM488.6 183.0h0.85v0.85h-0.85zM478.0 180.9h0.85v0.85h-0.85zM484.8 183.6h0.85v0.85h-0.85zM443.3 180.3h0.85v0.85h-0.85zM460.3 182.4h0.85v0.85h-0.85zM436.9 179.4h0.85v0.85h-0.85zM494.8 178.4h0.85v0.85h-0.85zM428.9 181.1h0.85v0.85h-0.85zM437.3 179.4h0.85v0.85h-0.85zM434.2 179.7h0.85v0.85h-0.85zM476.9 181.4h0.85v0.85h-0.85zM478.0 179.1h0.85v0.85h-0.85zM500.6 180.7h0.85v0.85h-0.85zM464.4 181.1h0.85v0.85h-0.85zM469.5 182.8h0.85v0.85h-0.85zM443.1 183.1h0.85v0.85h-0.85zM480.4 182.8h0.85v0.85h-0.85zM439.1 178.6h0.85v0.85h-0.85zM499.7 183.6h0.85v0.85h-0.85zM475.9 181.0h0.85v0.85h-0.85zM482.7 181.8h0.85v0.85h-0.85zM434.9 179.4h0.85v0.85h-0.85zM439.5 182.0h0.85v0.85h-0.85zM442.7 183.1h0.85v0.85h-0.85zM460.0 180.8h0.85v0.85h-0.85zM453.3 181.2h0.85v0.85h-0.85zM490.1 181.6h0.85v0.85h-0.85zM446.4 181.0h0.85v0.85h-0.85zM437.6 182.8h0.85v0.85h-0.85zM455.9 181.3h0.85v0.85h-0.85zM453.1 182.3h0.85v0.85h-0.85zM449.8 181.6h0.85v0.85h-0.85z" fill="#e0c030"/>
<path d="M443.3 178.4h0.85v0.85h-0.85zM428.5 177.1h0.85v0.85h-0.85zM429.5 178.1h0.85v0.85h-0.85zM472.3 178.3h0.85v0.85h-0.85zM497.5 178.4h0.85v0.85h-0.85zM492.0 179.2h0.85v0.85h-0.85zM429.5 177.4h0.85v0.85h-0.85zM485.0 177.8h0.85v0.85h-0.85zM475.5 178.2h0.85v0.85h-0.85zM435.1 179.5h0.85v0.85h-0.85zM466.5 178.0h0.85v0.85h-0.85zM474.5 178.5h0.85v0.85h-0.85zM489.1 177.9h0.85v0.85h-0.85zM470.3 179.1h0.85v0.85h-0.85zM424.7 177.0h0.85v0.85h-0.85zM447.2 178.7h0.85v0.85h-0.85zM427.0 178.1h0.85v0.85h-0.85zM429.2 176.8h0.85v0.85h-0.85zM487.7 179.5h0.85v0.85h-0.85zM477.4 179.6h0.85v0.85h-0.85z" fill="#6a3478"/>
<path d="M439.1 179.7h0.85v0.85h-0.85zM501.1 179.1h0.85v0.85h-0.85zM470.7 177.1h0.85v0.85h-0.85zM436.2 176.6h0.85v0.85h-0.85zM490.4 175.7h0.85v0.85h-0.85zM474.7 175.6h0.85v0.85h-0.85zM495.7 176.2h0.85v0.85h-0.85zM470.7 178.2h0.85v0.85h-0.85zM447.2 177.6h0.85v0.85h-0.85zM445.6 177.2h0.85v0.85h-0.85zM492.9 178.9h0.85v0.85h-0.85zM434.0 177.1h0.85v0.85h-0.85zM463.8 177.6h0.85v0.85h-0.85zM470.4 176.4h0.85v0.85h-0.85zM476.0 176.4h0.85v0.85h-0.85zM461.8 179.7h0.85v0.85h-0.85zM462.1 178.3h0.85v0.85h-0.85zM470.6 176.7h0.85v0.85h-0.85zM455.6 176.4h0.85v0.85h-0.85zM469.1 176.6h0.85v0.85h-0.85zM478.5 176.8h0.85v0.85h-0.85zM463.4 177.6h0.85v0.85h-0.85zM473.3 178.6h0.85v0.85h-0.85zM474.4 176.7h0.85v0.85h-0.85zM474.7 178.3h0.85v0.85h-0.85zM441.8 179.9h0.85v0.85h-0.85zM439.8 177.7h0.85v0.85h-0.85zM485.1 176.0h0.85v0.85h-0.85zM442.8 178.0h0.85v0.85h-0.85zM493.5 179.3h0.85v0.85h-0.85zM499.0 178.8h0.85v0.85h-0.85zM458.9 176.7h0.85v0.85h-0.85zM470.4 177.6h0.85v0.85h-0.85zM434.4 179.1h0.85v0.85h-0.85zM484.9 178.9h0.85v0.85h-0.85zM435.5 179.1h0.85v0.85h-0.85zM442.8 177.0h0.85v0.85h-0.85zM454.7 176.1h0.85v0.85h-0.85zM488.3 178.6h0.85v0.85h-0.85zM497.6 176.8h0.85v0.85h-0.85zM495.6 175.9h0.85v0.85h-0.85zM476.4 179.5h0.85v0.85h-0.85zM448.8 177.8h0.85v0.85h-0.85zM473.2 175.9h0.85v0.85h-0.85zM452.2 176.7h0.85v0.85h-0.85zM486.1 176.7h0.85v0.85h-0.85zM484.6 177.4h0.85v0.85h-0.85zM443.6 179.7h0.85v0.85h-0.85zM482.7 176.4h0.85v0.85h-0.85z" fill="#b8b8c8"/>
<path d="M437.0 182.5h0.85v0.85h-0.85zM425.4 179.3h0.85v0.85h-0.85zM427.5 183.2h0.85v0.85h-0.85zM474.1 178.0h0.85v0.85h-0.85zM497.7 177.9h0.85v0.85h-0.85zM498.2 178.9h0.85v0.85h-0.85zM425.3 181.7h0.85v0.85h-0.85zM452.4 180.8h0.85v0.85h-0.85zM429.5 183.4h0.85v0.85h-0.85zM500.6 180.4h0.85v0.85h-0.85zM442.1 181.2h0.85v0.85h-0.85zM485.6 183.5h0.85v0.85h-0.85zM440.1 180.4h0.85v0.85h-0.85zM469.9 182.7h0.85v0.85h-0.85zM447.4 180.2h0.85v0.85h-0.85zM488.8 178.1h0.85v0.85h-0.85zM429.7 179.5h0.85v0.85h-0.85zM483.2 183.6h0.85v0.85h-0.85zM427.1 178.5h0.85v0.85h-0.85zM426.8 177.4h0.85v0.85h-0.85zM487.9 183.2h0.85v0.85h-0.85zM455.9 182.3h0.85v0.85h-0.85zM427.0 180.3h0.85v0.85h-0.85zM461.0 178.0h0.85v0.85h-0.85zM438.4 183.2h0.85v0.85h-0.85zM479.4 180.2h0.85v0.85h-0.85zM434.4 181.7h0.85v0.85h-0.85zM489.7 183.5h0.85v0.85h-0.85zM425.2 181.1h0.85v0.85h-0.85zM460.7 182.0h0.85v0.85h-0.85zM462.7 181.0h0.85v0.85h-0.85zM489.2 182.9h0.85v0.85h-0.85zM447.2 182.8h0.85v0.85h-0.85zM474.1 183.4h0.85v0.85h-0.85zM454.8 183.3h0.85v0.85h-0.85zM446.2 183.1h0.85v0.85h-0.85zM488.7 181.7h0.85v0.85h-0.85zM465.3 182.0h0.85v0.85h-0.85zM485.9 183.7h0.85v0.85h-0.85zM450.8 180.1h0.85v0.85h-0.85zM429.1 180.1h0.85v0.85h-0.85zM463.9 179.6h0.85v0.85h-0.85zM456.1 182.3h0.85v0.85h-0.85zM470.9 180.2h0.85v0.85h-0.85zM485.6 178.4h0.85v0.85h-0.85zM452.4 182.6h0.85v0.85h-0.85zM474.2 180.2h0.85v0.85h-0.85zM484.7 178.3h0.85v0.85h-0.85zM426.5 176.9h0.85v0.85h-0.85zM425.8 179.3h0.85v0.85h-0.85zM489.5 179.6h0.85v0.85h-0.85zM473.1 180.7h0.85v0.85h-0.85zM466.4 182.7h0.85v0.85h-0.85zM426.7 183.5h0.85v0.85h-0.85zM425.4 181.3h0.85v0.85h-0.85zM445.9 181.0h0.85v0.85h-0.85zM470.2 180.8h0.85v0.85h-0.85zM483.3 179.5h0.85v0.85h-0.85zM499.0 182.8h0.85v0.85h-0.85zM425.6 179.8h0.85v0.85h-0.85zM452.5 180.7h0.85v0.85h-0.85zM493.0 179.3h0.85v0.85h-0.85zM446.0 181.0h0.85v0.85h-0.85zM476.7 181.6h0.85v0.85h-0.85zM427.5 179.0h0.85v0.85h-0.85zM427.6 182.5h0.85v0.85h-0.85zM497.5 180.7h0.85v0.85h-0.85zM451.1 180.6h0.85v0.85h-0.85zM476.9 181.0h0.85v0.85h-0.85zM429.2 181.0h0.85v0.85h-0.85zM426.0 178.7h0.85v0.85h-0.85zM457.5 178.7h0.85v0.85h-0.85zM454.0 179.1h0.85v0.85h-0.85zM497.5 182.5h0.85v0.85h-0.85zM442.7 182.9h0.85v0.85h-0.85zM459.6 183.2h0.85v0.85h-0.85zM452.8 178.0h0.85v0.85h-0.85zM437.5 179.3h0.85v0.85h-0.85zM498.8 182.1h0.85v0.85h-0.85zM429.0 181.9h0.85v0.85h-0.85zM488.5 183.1h0.85v0.85h-0.85zM428.8 177.4h0.85v0.85h-0.85zM473.4 180.6h0.85v0.85h-0.85zM474.7 183.6h0.85v0.85h-0.85zM477.0 181.9h0.85v0.85h-0.85zM440.0 178.4h0.85v0.85h-0.85zM423.7 181.4h0.85v0.85h-0.85zM485.0 181.6h0.85v0.85h-0.85zM487.3 181.9h0.85v0.85h-0.85zM449.1 180.4h0.85v0.85h-0.85zM493.5 183.1h0.85v0.85h-0.85zM497.3 180.6h0.85v0.85h-0.85zM496.2 178.3h0.85v0.85h-0.85zM467.6 179.1h0.85v0.85h-0.85zM476.1 182.8h0.85v0.85h-0.85zM499.3 183.2h0.85v0.85h-0.85zM465.0 182.9h0.85v0.85h-0.85zM439.9 180.5h0.85v0.85h-0.85zM428.5 181.9h0.85v0.85h-0.85zM494.2 180.8h0.85v0.85h-0.85zM465.8 181.2h0.85v0.85h-0.85zM445.3 179.4h0.85v0.85h-0.85zM497.4 180.0h0.85v0.85h-0.85zM489.5 178.7h0.85v0.85h-0.85zM446.4 181.5h0.85v0.85h-0.85zM428.3 182.6h0.85v0.85h-0.85zM483.4 178.2h0.85v0.85h-0.85zM438.8 180.9h0.85v0.85h-0.85zM489.9 181.2h0.85v0.85h-0.85zM434.9 179.4h0.85v0.85h-0.85zM498.7 180.4h0.85v0.85h-0.85zM462.1 183.5h0.85v0.85h-0.85zM496.4 179.4h0.85v0.85h-0.85zM475.2 180.4h0.85v0.85h-0.85zM429.5 178.5h0.85v0.85h-0.85zM473.9 179.7h0.85v0.85h-0.85zM430.6 176.9h0.85v0.85h-0.85zM436.5 179.4h0.85v0.85h-0.85zM444.0 182.5h0.85v0.85h-0.85zM458.8 179.7h0.85v0.85h-0.85zM470.6 180.2h0.85v0.85h-0.85zM489.1 178.9h0.85v0.85h-0.85zM443.6 182.5h0.85v0.85h-0.85zM430.9 177.7h0.85v0.85h-0.85zM459.2 180.7h0.85v0.85h-0.85zM447.7 181.4h0.85v0.85h-0.85zM460.4 183.5h0.85v0.85h-0.85zM449.3 179.4h0.85v0.85h-0.85zM439.2 178.7h0.85v0.85h-0.85zM455.9 183.4h0.85v0.85h-0.85zM478.5 179.5h0.85v0.85h-0.85zM438.1 183.4h0.85v0.85h-0.85zM477.9 181.1h0.85v0.85h-0.85zM482.4 182.3h0.85v0.85h-0.85zM430.2 179.1h0.85v0.85h-0.85zM493.7 179.6h0.85v0.85h-0.85zM459.2 179.0h0.85v0.85h-0.85z" fill="#e07a22"/>
<path d="M481.1 176.7h0.85v0.85h-0.85zM440.6 181.8h0.85v0.85h-0.85zM473.7 183.1h0.85v0.85h-0.85zM477.7 177.4h0.85v0.85h-0.85zM442.9 177.8h0.85v0.85h-0.85zM442.0 178.3h0.85v0.85h-0.85zM440.6 181.6h0.85v0.85h-0.85zM466.2 180.9h0.85v0.85h-0.85zM438.0 182.3h0.85v0.85h-0.85zM472.5 178.4h0.85v0.85h-0.85zM475.8 176.9h0.85v0.85h-0.85zM480.4 182.3h0.85v0.85h-0.85zM481.5 176.5h0.85v0.85h-0.85zM464.8 180.0h0.85v0.85h-0.85zM493.3 177.7h0.85v0.85h-0.85zM452.9 177.4h0.85v0.85h-0.85zM471.0 176.3h0.85v0.85h-0.85zM489.9 177.8h0.85v0.85h-0.85zM490.9 176.0h0.85v0.85h-0.85zM498.5 177.2h0.85v0.85h-0.85zM482.5 180.4h0.85v0.85h-0.85zM468.2 176.6h0.85v0.85h-0.85zM450.1 176.6h0.85v0.85h-0.85zM427.5 178.0h0.85v0.85h-0.85zM480.8 177.0h0.85v0.85h-0.85zM479.4 179.7h0.85v0.85h-0.85zM454.4 176.3h0.85v0.85h-0.85zM425.9 177.9h0.85v0.85h-0.85zM454.3 179.6h0.85v0.85h-0.85zM461.6 179.6h0.85v0.85h-0.85zM454.4 179.1h0.85v0.85h-0.85zM455.4 176.5h0.85v0.85h-0.85zM436.6 177.7h0.85v0.85h-0.85zM478.1 176.4h0.85v0.85h-0.85zM463.6 178.0h0.85v0.85h-0.85zM491.9 177.4h0.85v0.85h-0.85zM439.6 181.4h0.85v0.85h-0.85zM479.8 179.0h0.85v0.85h-0.85zM493.3 176.5h0.85v0.85h-0.85zM461.6 177.4h0.85v0.85h-0.85zM464.8 181.3h0.85v0.85h-0.85zM493.8 176.6h0.85v0.85h-0.85zM473.1 178.7h0.85v0.85h-0.85zM472.8 181.9h0.85v0.85h-0.85zM468.2 180.0h0.85v0.85h-0.85zM453.3 179.0h0.85v0.85h-0.85zM485.6 180.1h0.85v0.85h-0.85zM480.2 180.0h0.85v0.85h-0.85zM490.8 176.5h0.85v0.85h-0.85zM435.5 183.1h0.85v0.85h-0.85zM457.2 179.8h0.85v0.85h-0.85zM483.3 180.2h0.85v0.85h-0.85zM482.6 183.5h0.85v0.85h-0.85zM476.8 177.5h0.85v0.85h-0.85zM459.8 177.1h0.85v0.85h-0.85zM448.5 181.1h0.85v0.85h-0.85zM449.8 179.4h0.85v0.85h-0.85zM485.3 177.3h0.85v0.85h-0.85zM448.7 179.3h0.85v0.85h-0.85zM497.6 178.3h0.85v0.85h-0.85zM496.9 177.3h0.85v0.85h-0.85zM498.4 180.3h0.85v0.85h-0.85zM447.1 182.0h0.85v0.85h-0.85zM484.1 179.0h0.85v0.85h-0.85zM453.3 183.3h0.85v0.85h-0.85zM435.9 179.7h0.85v0.85h-0.85zM495.1 181.5h0.85v0.85h-0.85zM484.0 176.9h0.85v0.85h-0.85zM453.3 179.3h0.85v0.85h-0.85zM464.0 178.1h0.85v0.85h-0.85zM481.7 179.4h0.85v0.85h-0.85zM484.2 181.7h0.85v0.85h-0.85zM492.5 178.7h0.85v0.85h-0.85zM488.6 175.6h0.85v0.85h-0.85zM474.0 176.2h0.85v0.85h-0.85zM434.8 178.4h0.85v0.85h-0.85zM457.0 178.7h0.85v0.85h-0.85zM439.2 179.6h0.85v0.85h-0.85zM489.9 181.6h0.85v0.85h-0.85zM481.8 180.9h0.85v0.85h-0.85zM434.2 181.1h0.85v0.85h-0.85zM455.9 180.5h0.85v0.85h-0.85zM481.8 176.7h0.85v0.85h-0.85zM465.4 183.3h0.85v0.85h-0.85zM476.4 181.4h0.85v0.85h-0.85zM436.6 180.9h0.85v0.85h-0.85zM430.6 176.9h0.85v0.85h-0.85zM492.1 180.0h0.85v0.85h-0.85zM481.2 177.2h0.85v0.85h-0.85zM484.6 181.8h0.85v0.85h-0.85zM435.9 183.0h0.85v0.85h-0.85zM482.3 182.5h0.85v0.85h-0.85zM474.9 180.3h0.85v0.85h-0.85zM490.4 176.9h0.85v0.85h-0.85zM427.1 178.1h0.85v0.85h-0.85zM489.1 179.0h0.85v0.85h-0.85zM495.7 176.3h0.85v0.85h-0.85zM478.1 181.7h0.85v0.85h-0.85zM463.2 176.9h0.85v0.85h-0.85zM498.9 180.8h0.85v0.85h-0.85zM463.8 181.3h0.85v0.85h-0.85zM488.3 178.7h0.85v0.85h-0.85zM472.2 178.4h0.85v0.85h-0.85zM439.4 177.7h0.85v0.85h-0.85zM459.7 177.2h0.85v0.85h-0.85zM454.5 177.3h0.85v0.85h-0.85zM483.7 178.8h0.85v0.85h-0.85zM499.2 179.5h0.85v0.85h-0.85zM466.2 180.4h0.85v0.85h-0.85zM423.9 177.1h0.85v0.85h-0.85zM445.9 180.9h0.85v0.85h-0.85zM456.3 178.2h0.85v0.85h-0.85zM469.1 181.7h0.85v0.85h-0.85zM474.0 182.7h0.85v0.85h-0.85zM438.7 182.9h0.85v0.85h-0.85zM469.3 176.6h0.85v0.85h-0.85zM425.7 177.2h0.85v0.85h-0.85zM485.0 180.3h0.85v0.85h-0.85zM437.7 181.7h0.85v0.85h-0.85zM426.7 178.2h0.85v0.85h-0.85zM469.0 176.1h0.85v0.85h-0.85zM476.1 175.8h0.85v0.85h-0.85zM476.3 180.5h0.85v0.85h-0.85zM483.5 176.5h0.85v0.85h-0.85zM489.7 177.7h0.85v0.85h-0.85zM472.6 176.5h0.85v0.85h-0.85zM492.9 175.9h0.85v0.85h-0.85zM487.5 177.3h0.85v0.85h-0.85zM437.6 177.5h0.85v0.85h-0.85zM497.6 179.2h0.85v0.85h-0.85zM479.2 180.6h0.85v0.85h-0.85zM438.9 178.8h0.85v0.85h-0.85zM440.7 180.0h0.85v0.85h-0.85zM488.8 176.4h0.85v0.85h-0.85zM460.7 181.4h0.85v0.85h-0.85zM494.6 175.7h0.85v0.85h-0.85zM500.0 178.0h0.85v0.85h-0.85zM466.5 182.9h0.85v0.85h-0.85zM473.9 179.4h0.85v0.85h-0.85zM476.4 181.7h0.85v0.85h-0.85zM444.0 178.9h0.85v0.85h-0.85z" fill="#2c3478"/>
<path d="M455.8 181.2h0.85v0.85h-0.85zM448.6 180.1h0.85v0.85h-0.85zM427.9 183.3h0.85v0.85h-0.85zM496.7 182.9h0.85v0.85h-0.85zM425.7 182.4h0.85v0.85h-0.85zM467.2 180.1h0.85v0.85h-0.85zM472.5 182.4h0.85v0.85h-0.85zM425.9 178.5h0.85v0.85h-0.85zM425.1 182.1h0.85v0.85h-0.85zM427.0 182.3h0.85v0.85h-0.85zM476.3 183.3h0.85v0.85h-0.85zM443.3 181.6h0.85v0.85h-0.85zM478.5 183.1h0.85v0.85h-0.85zM443.6 182.0h0.85v0.85h-0.85zM471.9 183.3h0.85v0.85h-0.85zM428.4 182.2h0.85v0.85h-0.85zM464.4 181.2h0.85v0.85h-0.85zM436.6 183.2h0.85v0.85h-0.85zM461.0 182.5h0.85v0.85h-0.85zM426.8 182.2h0.85v0.85h-0.85zM500.6 182.5h0.85v0.85h-0.85zM472.7 182.7h0.85v0.85h-0.85zM496.0 181.8h0.85v0.85h-0.85zM462.2 183.1h0.85v0.85h-0.85zM463.8 182.5h0.85v0.85h-0.85zM446.3 181.3h0.85v0.85h-0.85zM444.4 183.0h0.85v0.85h-0.85zM429.9 181.1h0.85v0.85h-0.85zM461.6 180.8h0.85v0.85h-0.85zM437.5 180.4h0.85v0.85h-0.85zM457.1 182.2h0.85v0.85h-0.85zM428.7 180.3h0.85v0.85h-0.85zM429.0 183.2h0.85v0.85h-0.85zM426.1 182.0h0.85v0.85h-0.85zM428.3 183.1h0.85v0.85h-0.85zM465.7 182.4h0.85v0.85h-0.85zM426.2 181.3h0.85v0.85h-0.85zM494.9 180.7h0.85v0.85h-0.85zM479.3 181.1h0.85v0.85h-0.85zM440.2 181.5h0.85v0.85h-0.85zM494.5 183.2h0.85v0.85h-0.85zM461.4 183.8h0.85v0.85h-0.85zM492.5 183.0h0.85v0.85h-0.85zM429.2 182.9h0.85v0.85h-0.85zM424.2 181.0h0.85v0.85h-0.85zM500.3 183.4h0.85v0.85h-0.85zM475.2 182.5h0.85v0.85h-0.85zM423.6 181.0h0.85v0.85h-0.85zM448.4 182.9h0.85v0.85h-0.85zM471.1 181.0h0.85v0.85h-0.85zM477.3 182.4h0.85v0.85h-0.85zM469.3 181.4h0.85v0.85h-0.85zM497.1 181.8h0.85v0.85h-0.85zM444.6 180.1h0.85v0.85h-0.85zM439.7 182.3h0.85v0.85h-0.85zM479.7 179.9h0.85v0.85h-0.85zM449.7 181.3h0.85v0.85h-0.85zM426.9 179.6h0.85v0.85h-0.85zM457.2 183.4h0.85v0.85h-0.85zM493.2 181.8h0.85v0.85h-0.85zM487.5 180.3h0.85v0.85h-0.85zM468.3 183.7h0.85v0.85h-0.85zM478.7 182.4h0.85v0.85h-0.85zM482.2 182.1h0.85v0.85h-0.85zM500.3 182.0h0.85v0.85h-0.85zM459.3 183.7h0.85v0.85h-0.85zM480.1 180.5h0.85v0.85h-0.85zM430.1 180.6h0.85v0.85h-0.85zM478.7 181.2h0.85v0.85h-0.85zM495.6 181.7h0.85v0.85h-0.85zM451.9 181.3h0.85v0.85h-0.85zM435.0 183.5h0.85v0.85h-0.85zM498.8 181.4h0.85v0.85h-0.85zM443.8 183.4h0.85v0.85h-0.85zM495.7 181.8h0.85v0.85h-0.85zM427.5 183.2h0.85v0.85h-0.85zM483.6 181.9h0.85v0.85h-0.85zM470.4 181.7h0.85v0.85h-0.85zM430.4 183.0h0.85v0.85h-0.85zM482.0 179.8h0.85v0.85h-0.85zM425.7 181.4h0.85v0.85h-0.85zM470.2 180.6h0.85v0.85h-0.85zM498.1 180.4h0.85v0.85h-0.85zM457.4 183.6h0.85v0.85h-0.85zM460.3 182.6h0.85v0.85h-0.85zM500.2 183.6h0.85v0.85h-0.85zM462.4 181.0h0.85v0.85h-0.85zM468.1 181.7h0.85v0.85h-0.85zM487.7 183.4h0.85v0.85h-0.85zM464.2 179.8h0.85v0.85h-0.85zM461.1 181.3h0.85v0.85h-0.85zM464.9 182.0h0.85v0.85h-0.85zM491.2 180.0h0.85v0.85h-0.85z" fill="#d8301e"/>
<path d="M477.8 175.8h0.85v0.85h-0.85zM482.6 176.9h0.85v0.85h-0.85zM442.2 176.7h0.85v0.85h-0.85zM476.4 176.6h0.85v0.85h-0.85zM454.1 176.8h0.85v0.85h-0.85zM484.4 175.9h0.85v0.85h-0.85zM477.1 177.5h0.85v0.85h-0.85zM437.0 177.7h0.85v0.85h-0.85zM489.3 177.0h0.85v0.85h-0.85zM497.0 176.5h0.85v0.85h-0.85zM498.8 177.6h0.85v0.85h-0.85zM444.4 176.7h0.85v0.85h-0.85zM497.3 176.3h0.85v0.85h-0.85zM498.8 177.4h0.85v0.85h-0.85zM479.1 176.2h0.85v0.85h-0.85zM492.4 175.9h0.85v0.85h-0.85zM487.7 176.8h0.85v0.85h-0.85zM452.2 176.8h0.85v0.85h-0.85zM451.0 176.3h0.85v0.85h-0.85zM482.0 177.4h0.85v0.85h-0.85zM482.6 176.2h0.85v0.85h-0.85zM465.0 175.9h0.85v0.85h-0.85zM449.8 176.3h0.85v0.85h-0.85zM500.8 177.0h0.85v0.85h-0.85zM482.2 177.1h0.85v0.85h-0.85zM456.5 176.9h0.85v0.85h-0.85zM452.6 177.2h0.85v0.85h-0.85zM439.4 176.5h0.85v0.85h-0.85zM489.8 177.6h0.85v0.85h-0.85zM439.8 177.8h0.85v0.85h-0.85zM491.5 175.7h0.85v0.85h-0.85zM498.6 176.5h0.85v0.85h-0.85zM449.7 177.9h0.85v0.85h-0.85z" fill="#333"/>
<path d="M463.5 176.4h0.85v0.85h-0.85zM461.6 177.3h0.85v0.85h-0.85zM483.1 176.0h0.85v0.85h-0.85zM495.4 176.2h0.85v0.85h-0.85zM488.4 176.5h0.85v0.85h-0.85zM451.1 177.2h0.85v0.85h-0.85zM473.4 177.0h0.85v0.85h-0.85zM484.3 176.8h0.85v0.85h-0.85zM459.8 177.4h0.85v0.85h-0.85zM447.2 177.6h0.85v0.85h-0.85zM479.4 176.1h0.85v0.85h-0.85zM464.4 176.3h0.85v0.85h-0.85zM455.7 177.3h0.85v0.85h-0.85zM444.0 176.3h0.85v0.85h-0.85zM491.1 175.6h0.85v0.85h-0.85zM465.5 177.1h0.85v0.85h-0.85zM435.3 176.7h0.85v0.85h-0.85zM465.3 177.5h0.85v0.85h-0.85zM470.9 175.8h0.85v0.85h-0.85zM436.4 178.0h0.85v0.85h-0.85zM476.8 176.0h0.85v0.85h-0.85zM470.9 176.5h0.85v0.85h-0.85zM486.6 177.3h0.85v0.85h-0.85zM448.0 177.0h0.85v0.85h-0.85zM455.2 176.3h0.85v0.85h-0.85z" fill="#8a8a9a"/>
<rect x="433.90" y="176.60" width="1.10" height="7.70" fill="#d8301c"/>
<text x="424.80" y="163.40" font-size="3.6" stroke="#111" stroke-width="0.13">anti-CD28 (15E8, 20 µg/mL)</text>
<text x="413.40" y="162.40" font-size="4.8" fill="#555" stroke="#555" stroke-width="0.13">10<tspan font-size="3.0" dy="-2.1">4</tspan></text>
<text x="413.40" y="168.60" font-size="4.8" fill="#555" stroke="#555" stroke-width="0.13">10<tspan font-size="3.0" dy="-2.1">2</tspan></text>
<text x="413.40" y="174.30" font-size="4.8" fill="#555" stroke="#555" stroke-width="0.13">10<tspan font-size="3.0" dy="-2.1">1</tspan></text>
<text x="413.40" y="181.00" font-size="4.8" fill="#555" stroke="#555" stroke-width="0.13">10<tspan font-size="3.0" dy="-2.1">0</tspan></text>
<rect x="423.00" y="186.60" width="79.00" height="25.80" fill="#fff" stroke="#b0b0b0" stroke-width="0.6"/>
<linearGradient id="h106" x1="0" y1="0" x2="0" y2="1"><stop offset="0" stop-color="#888" stop-opacity="0"/><stop offset="1" stop-color="#666" stop-opacity="0.45"/></linearGradient>
<polygon points="436.3,197.6 437.9,196.9 439.6,196.3 441.2,195.6 442.8,194.9 444.5,194.3 446.1,193.6 447.7,192.9 449.4,192.4 451.0,192.4 452.6,192.4 454.3,192.4 455.9,192.4 457.6,192.4 459.2,192.4 460.8,192.4 462.5,192.4 464.1,192.4 465.7,192.4 467.4,192.4 469.0,192.4 470.6,192.4 472.3,192.4 473.9,192.4 475.5,192.4 477.2,192.4 478.8,192.4 480.4,192.4 482.1,192.4 483.7,192.4 485.4,192.4 487.0,192.4 488.6,192.4 490.3,192.4 491.9,192.4 493.5,192.4 495.2,192.4 496.8,192.4 498.4,192.4 500.1,192.4 501.7,192.4 501.7,199.4 500.1,199.4 498.4,199.4 496.8,199.4 495.2,199.4 493.5,199.4 491.9,199.4 490.3,199.4 488.6,199.4 487.0,199.4 485.4,199.4 483.7,199.4 482.1,199.4 480.4,199.4 478.8,199.4 477.2,199.4 475.5,199.4 473.9,199.4 472.3,199.4 470.6,199.4 469.0,199.4 467.4,199.4 465.7,199.4 464.1,199.4 462.5,199.4 460.8,199.4 459.2,199.4 457.6,199.4 455.9,199.4 454.3,199.4 452.6,199.4 451.0,199.4 449.4,199.4 447.7,199.9 446.1,200.6 444.5,201.3 442.8,201.9 441.2,202.6 439.6,203.3 437.9,203.9 436.3,204.6" fill="url(#h106)"/>
<rect x="423.3" y="198.2" width="9.7" height="7.0" fill="url(#h106)"/>
<path d="M478.8 190.2h0.5v0.5h-0.5zM427.9 194.1h0.5v0.5h-0.5zM444.9 198.0h0.5v0.5h-0.5zM480.2 196.0h0.5v0.5h-0.5zM440.0 202.8h0.5v0.5h-0.5zM475.8 190.3h0.5v0.5h-0.5zM500.8 191.9h0.5v0.5h-0.5zM456.9 196.1h0.5v0.5h-0.5zM465.2 192.8h0.5v0.5h-0.5zM452.5 196.3h0.5v0.5h-0.5zM451.3 190.3h0.5v0.5h-0.5zM492.7 198.2h0.5v0.5h-0.5zM470.1 196.9h0.5v0.5h-0.5zM471.4 192.6h0.5v0.5h-0.5zM494.1 199.4h0.5v0.5h-0.5zM496.5 190.1h0.5v0.5h-0.5zM465.2 191.4h0.5v0.5h-0.5zM461.7 191.8h0.5v0.5h-0.5zM496.9 191.0h0.5v0.5h-0.5zM464.6 198.7h0.5v0.5h-0.5zM474.8 191.1h0.5v0.5h-0.5zM486.3 198.3h0.5v0.5h-0.5zM471.7 199.4h0.5v0.5h-0.5zM488.3 198.2h0.5v0.5h-0.5zM468.4 191.4h0.5v0.5h-0.5zM438.2 203.8h0.5v0.5h-0.5zM487.0 194.1h0.5v0.5h-0.5zM461.4 194.5h0.5v0.5h-0.5zM429.7 195.5h0.5v0.5h-0.5zM441.4 202.5h0.5v0.5h-0.5zM469.6 193.6h0.5v0.5h-0.5zM479.1 197.3h0.5v0.5h-0.5zM429.7 205.2h0.5v0.5h-0.5zM428.3 197.3h0.5v0.5h-0.5zM454.3 195.8h0.5v0.5h-0.5zM432.2 197.2h0.5v0.5h-0.5zM494.5 196.8h0.5v0.5h-0.5zM461.6 198.0h0.5v0.5h-0.5zM446.3 200.3h0.5v0.5h-0.5zM461.3 191.4h0.5v0.5h-0.5zM492.2 199.3h0.5v0.5h-0.5zM453.3 198.8h0.5v0.5h-0.5zM470.3 198.4h0.5v0.5h-0.5zM476.4 195.1h0.5v0.5h-0.5zM479.5 199.3h0.5v0.5h-0.5zM482.4 189.8h0.5v0.5h-0.5zM488.8 199.4h0.5v0.5h-0.5zM462.2 198.4h0.5v0.5h-0.5zM484.8 199.1h0.5v0.5h-0.5zM470.3 194.5h0.5v0.5h-0.5zM427.0 198.8h0.5v0.5h-0.5zM427.7 203.4h0.5v0.5h-0.5zM489.9 191.2h0.5v0.5h-0.5zM487.6 191.5h0.5v0.5h-0.5zM425.0 204.6h0.5v0.5h-0.5zM455.8 191.8h0.5v0.5h-0.5zM444.1 190.2h0.5v0.5h-0.5zM442.7 192.6h0.5v0.5h-0.5zM458.0 196.5h0.5v0.5h-0.5zM480.0 196.9h0.5v0.5h-0.5zM437.7 188.3h0.5v0.5h-0.5zM499.2 191.2h0.5v0.5h-0.5zM472.2 197.5h0.5v0.5h-0.5zM500.3 199.3h0.5v0.5h-0.5z" fill="#222"/>
<path d="M478.9 194.6h0.5v0.5h-0.5zM445.9 199.3h0.5v0.5h-0.5zM443.1 199.1h0.5v0.5h-0.5zM467.5 195.9h0.5v0.5h-0.5zM491.3 194.5h0.5v0.5h-0.5zM494.3 196.5h0.5v0.5h-0.5zM482.9 194.4h0.5v0.5h-0.5zM426.6 204.8h0.5v0.5h-0.5zM458.0 199.0h0.5v0.5h-0.5zM430.4 203.0h0.5v0.5h-0.5zM486.6 190.3h0.5v0.5h-0.5zM468.9 195.0h0.5v0.5h-0.5zM475.6 199.1h0.5v0.5h-0.5zM492.6 193.3h0.5v0.5h-0.5zM458.4 192.1h0.5v0.5h-0.5zM498.0 193.6h0.5v0.5h-0.5zM426.2 189.8h0.5v0.5h-0.5zM442.4 190.2h0.5v0.5h-0.5zM463.1 198.0h0.5v0.5h-0.5zM479.3 195.2h0.5v0.5h-0.5zM446.5 199.6h0.5v0.5h-0.5zM485.8 198.6h0.5v0.5h-0.5zM439.3 203.3h0.5v0.5h-0.5zM456.0 196.4h0.5v0.5h-0.5zM453.9 193.5h0.5v0.5h-0.5zM443.8 195.9h0.5v0.5h-0.5zM464.4 198.2h0.5v0.5h-0.5zM439.0 198.4h0.5v0.5h-0.5zM466.0 199.4h0.5v0.5h-0.5zM440.9 194.5h0.5v0.5h-0.5zM489.0 198.9h0.5v0.5h-0.5zM488.6 199.2h0.5v0.5h-0.5zM487.0 198.6h0.5v0.5h-0.5zM493.3 195.6h0.5v0.5h-0.5zM457.9 194.3h0.5v0.5h-0.5zM438.6 201.8h0.5v0.5h-0.5zM469.7 188.4h0.5v0.5h-0.5zM494.1 190.0h0.5v0.5h-0.5zM437.8 194.9h0.5v0.5h-0.5zM451.4 192.6h0.5v0.5h-0.5zM449.5 197.2h0.5v0.5h-0.5zM475.7 196.8h0.5v0.5h-0.5zM456.3 199.3h0.5v0.5h-0.5zM458.8 199.4h0.5v0.5h-0.5zM447.0 194.0h0.5v0.5h-0.5zM431.6 202.8h0.5v0.5h-0.5zM432.2 190.3h0.5v0.5h-0.5zM496.8 189.9h0.5v0.5h-0.5zM441.3 194.2h0.5v0.5h-0.5zM451.6 199.2h0.5v0.5h-0.5zM489.7 196.8h0.5v0.5h-0.5zM456.7 189.2h0.5v0.5h-0.5zM432.1 204.6h0.5v0.5h-0.5zM464.2 193.7h0.5v0.5h-0.5zM498.6 199.2h0.5v0.5h-0.5zM450.2 192.3h0.5v0.5h-0.5zM485.5 198.0h0.5v0.5h-0.5zM499.8 192.5h0.5v0.5h-0.5zM498.1 199.0h0.5v0.5h-0.5zM476.2 193.8h0.5v0.5h-0.5zM479.2 193.5h0.5v0.5h-0.5zM458.5 192.2h0.5v0.5h-0.5zM429.5 202.9h0.5v0.5h-0.5zM497.9 188.5h0.5v0.5h-0.5zM458.6 189.1h0.5v0.5h-0.5z" fill="#555"/>
<path d="M438.1 189.0h0.5v0.5h-0.5zM457.5 193.2h0.5v0.5h-0.5zM477.2 193.1h0.5v0.5h-0.5zM430.1 205.1h0.5v0.5h-0.5zM431.3 204.6h0.5v0.5h-0.5zM439.4 202.4h0.5v0.5h-0.5zM488.0 189.1h0.5v0.5h-0.5zM432.4 204.3h0.5v0.5h-0.5zM428.8 196.0h0.5v0.5h-0.5zM447.0 191.7h0.5v0.5h-0.5zM500.3 196.7h0.5v0.5h-0.5zM475.5 199.4h0.5v0.5h-0.5zM449.6 190.7h0.5v0.5h-0.5zM499.3 199.4h0.5v0.5h-0.5zM443.4 195.3h0.5v0.5h-0.5zM425.2 198.1h0.5v0.5h-0.5zM426.2 205.0h0.5v0.5h-0.5zM486.3 191.0h0.5v0.5h-0.5zM463.3 195.0h0.5v0.5h-0.5zM477.0 199.0h0.5v0.5h-0.5zM449.1 194.6h0.5v0.5h-0.5zM454.9 199.1h0.5v0.5h-0.5zM428.4 201.9h0.5v0.5h-0.5zM426.2 189.9h0.5v0.5h-0.5zM473.7 191.8h0.5v0.5h-0.5zM494.1 197.2h0.5v0.5h-0.5zM442.2 191.0h0.5v0.5h-0.5zM428.5 194.6h0.5v0.5h-0.5zM432.0 205.2h0.5v0.5h-0.5zM442.8 201.5h0.5v0.5h-0.5zM447.2 198.5h0.5v0.5h-0.5zM429.5 203.9h0.5v0.5h-0.5zM455.9 197.7h0.5v0.5h-0.5zM462.8 199.3h0.5v0.5h-0.5zM492.1 198.9h0.5v0.5h-0.5zM496.0 198.2h0.5v0.5h-0.5zM426.3 192.3h0.5v0.5h-0.5zM456.6 195.5h0.5v0.5h-0.5zM471.5 198.9h0.5v0.5h-0.5zM494.9 195.3h0.5v0.5h-0.5zM491.6 192.7h0.5v0.5h-0.5zM458.8 195.0h0.5v0.5h-0.5zM429.8 204.8h0.5v0.5h-0.5zM494.8 191.5h0.5v0.5h-0.5zM463.7 199.0h0.5v0.5h-0.5zM491.8 199.1h0.5v0.5h-0.5zM498.4 196.3h0.5v0.5h-0.5zM465.4 196.6h0.5v0.5h-0.5zM482.4 195.2h0.5v0.5h-0.5zM472.7 198.9h0.5v0.5h-0.5zM446.8 197.1h0.5v0.5h-0.5zM454.4 189.2h0.5v0.5h-0.5zM457.4 189.8h0.5v0.5h-0.5zM459.0 189.8h0.5v0.5h-0.5zM448.0 199.5h0.5v0.5h-0.5zM436.7 189.8h0.5v0.5h-0.5zM464.5 197.8h0.5v0.5h-0.5zM491.2 199.4h0.5v0.5h-0.5zM498.5 192.8h0.5v0.5h-0.5zM453.8 198.7h0.5v0.5h-0.5zM453.2 196.4h0.5v0.5h-0.5zM481.7 199.4h0.5v0.5h-0.5zM447.3 195.3h0.5v0.5h-0.5zM465.3 189.9h0.5v0.5h-0.5zM448.9 199.3h0.5v0.5h-0.5zM495.8 190.1h0.5v0.5h-0.5zM477.7 198.7h0.5v0.5h-0.5zM476.8 192.4h0.5v0.5h-0.5zM444.6 193.5h0.5v0.5h-0.5zM448.9 195.0h0.5v0.5h-0.5zM479.9 197.1h0.5v0.5h-0.5zM459.5 198.2h0.5v0.5h-0.5zM430.8 190.8h0.5v0.5h-0.5z" fill="#888"/>
<path d="M466.7 196.3h0.5v0.5h-0.5zM466.3 197.1h0.5v0.5h-0.5zM452.1 193.0h0.5v0.5h-0.5zM440.3 192.7h0.5v0.5h-0.5zM450.4 188.9h0.5v0.5h-0.5zM492.9 196.8h0.5v0.5h-0.5zM430.1 198.4h0.5v0.5h-0.5zM427.7 203.9h0.5v0.5h-0.5zM499.1 199.3h0.5v0.5h-0.5zM444.3 197.6h0.5v0.5h-0.5zM437.4 193.5h0.5v0.5h-0.5zM425.3 205.2h0.5v0.5h-0.5zM470.9 198.2h0.5v0.5h-0.5zM476.8 196.7h0.5v0.5h-0.5zM437.3 200.1h0.5v0.5h-0.5zM499.7 196.7h0.5v0.5h-0.5zM428.5 195.7h0.5v0.5h-0.5zM488.2 197.0h0.5v0.5h-0.5zM444.9 199.7h0.5v0.5h-0.5zM478.8 192.0h0.5v0.5h-0.5zM489.5 197.2h0.5v0.5h-0.5zM494.8 199.3h0.5v0.5h-0.5zM481.7 196.4h0.5v0.5h-0.5zM486.0 197.4h0.5v0.5h-0.5zM460.0 192.0h0.5v0.5h-0.5zM485.2 198.5h0.5v0.5h-0.5zM439.5 200.7h0.5v0.5h-0.5zM442.8 193.9h0.5v0.5h-0.5zM459.0 195.3h0.5v0.5h-0.5zM474.8 194.7h0.5v0.5h-0.5zM495.0 197.1h0.5v0.5h-0.5zM445.3 192.7h0.5v0.5h-0.5zM479.0 189.8h0.5v0.5h-0.5zM472.9 194.2h0.5v0.5h-0.5zM471.8 191.6h0.5v0.5h-0.5zM463.6 196.2h0.5v0.5h-0.5zM448.7 198.6h0.5v0.5h-0.5zM465.4 199.1h0.5v0.5h-0.5zM467.5 197.7h0.5v0.5h-0.5zM467.6 198.9h0.5v0.5h-0.5zM447.0 194.5h0.5v0.5h-0.5zM465.1 199.1h0.5v0.5h-0.5zM424.4 188.6h0.5v0.5h-0.5zM471.2 199.0h0.5v0.5h-0.5zM472.7 194.5h0.5v0.5h-0.5zM475.0 197.3h0.5v0.5h-0.5zM424.6 204.0h0.5v0.5h-0.5zM491.7 196.1h0.5v0.5h-0.5zM429.1 200.1h0.5v0.5h-0.5zM491.3 198.0h0.5v0.5h-0.5z" fill="#aaa"/>
<path d="M457.9 195.9h0.5v0.5h-0.5zM448.1 189.4h0.5v0.5h-0.5zM440.1 200.4h0.5v0.5h-0.5zM426.2 203.1h0.5v0.5h-0.5zM428.6 205.0h0.5v0.5h-0.5zM478.9 196.8h0.5v0.5h-0.5zM423.9 204.8h0.5v0.5h-0.5zM432.7 193.8h0.5v0.5h-0.5zM441.9 194.1h0.5v0.5h-0.5zM449.7 188.8h0.5v0.5h-0.5zM458.5 199.4h0.5v0.5h-0.5zM478.6 195.5h0.5v0.5h-0.5zM484.3 192.1h0.5v0.5h-0.5zM444.8 199.0h0.5v0.5h-0.5zM469.0 195.1h0.5v0.5h-0.5zM451.4 191.8h0.5v0.5h-0.5zM496.4 195.9h0.5v0.5h-0.5zM451.0 197.7h0.5v0.5h-0.5zM488.2 194.2h0.5v0.5h-0.5zM478.0 194.5h0.5v0.5h-0.5zM431.5 198.9h0.5v0.5h-0.5zM497.5 193.4h0.5v0.5h-0.5zM474.5 188.6h0.5v0.5h-0.5zM469.5 190.2h0.5v0.5h-0.5zM482.3 188.2h0.5v0.5h-0.5zM495.1 188.1h0.5v0.5h-0.5zM468.0 195.8h0.5v0.5h-0.5zM438.8 193.9h0.5v0.5h-0.5zM498.7 191.9h0.5v0.5h-0.5zM442.5 190.1h0.5v0.5h-0.5zM478.7 197.2h0.5v0.5h-0.5zM486.5 198.9h0.5v0.5h-0.5zM428.9 190.5h0.5v0.5h-0.5zM457.7 196.7h0.5v0.5h-0.5zM493.0 191.1h0.5v0.5h-0.5zM431.3 195.7h0.5v0.5h-0.5zM474.0 194.9h0.5v0.5h-0.5zM494.7 193.7h0.5v0.5h-0.5zM471.2 199.4h0.5v0.5h-0.5zM437.3 204.0h0.5v0.5h-0.5zM467.8 195.5h0.5v0.5h-0.5zM484.9 194.4h0.5v0.5h-0.5zM488.5 197.9h0.5v0.5h-0.5zM482.5 189.7h0.5v0.5h-0.5zM449.4 198.8h0.5v0.5h-0.5zM454.4 199.4h0.5v0.5h-0.5zM462.3 192.9h0.5v0.5h-0.5zM445.7 197.4h0.5v0.5h-0.5zM474.3 198.5h0.5v0.5h-0.5zM423.9 203.2h0.5v0.5h-0.5zM423.6 188.8h0.5v0.5h-0.5zM493.2 198.0h0.5v0.5h-0.5zM495.7 199.2h0.5v0.5h-0.5z" fill="#2a3a8a"/>
<linearGradient id="fg106" x1="0" y1="0" x2="0" y2="1"><stop offset="0" stop-color="#8a88a0"/><stop offset="0.2" stop-color="#4e4a80"/><stop offset="0.5" stop-color="#6a4e78"/><stop offset="0.8" stop-color="#985060"/><stop offset="1" stop-color="#b04038"/></linearGradient>
<polygon points="436.3,204.6 437.9,203.9 439.6,203.3 441.2,202.6 442.8,201.9 444.5,201.3 446.1,200.6 447.7,199.9 449.4,199.4 451.0,199.4 452.6,199.4 454.3,199.4 455.9,199.4 457.6,199.4 459.2,199.4 460.8,199.4 462.5,199.4 464.1,199.4 465.7,199.4 467.4,199.4 469.0,199.4 470.6,199.4 472.3,199.4 473.9,199.4 475.5,199.4 477.2,199.4 478.8,199.4 480.4,199.4 482.1,199.4 483.7,199.4 485.4,199.4 487.0,199.4 488.6,199.4 490.3,199.4 491.9,199.4 493.5,199.4 495.2,199.4 496.8,199.4 498.4,199.4 500.1,199.4 501.7,199.4 501.7,212.1 436.3,212.1" fill="url(#fg106)"/>
<linearGradient id="fp106" x1="0" y1="0" x2="0" y2="1"><stop offset="0" stop-color="#6a5078"/><stop offset="0.3" stop-color="#b8402e"/><stop offset="0.7" stop-color="#d0341e"/><stop offset="1" stop-color="#c8301e"/></linearGradient>
<rect x="423.3" y="205.2" width="9.7" height="6.9" fill="url(#fp106)"/>
<path d="M429.1 208.4h0.85v0.85h-0.85zM488.3 208.6h0.85v0.85h-0.85zM458.2 208.0h0.85v0.85h-0.85zM423.7 210.2h0.85v0.85h-0.85zM493.9 206.4h0.85v0.85h-0.85zM468.4 206.7h0.85v0.85h-0.85zM423.5 209.8h0.85v0.85h-0.85zM443.8 206.2h0.85v0.85h-0.85zM424.3 211.3h0.85v0.85h-0.85zM481.2 210.6h0.85v0.85h-0.85zM466.4 204.4h0.85v0.85h-0.85zM484.3 209.0h0.85v0.85h-0.85zM452.4 211.0h0.85v0.85h-0.85zM444.3 209.7h0.85v0.85h-0.85zM485.3 208.8h0.85v0.85h-0.85zM424.0 206.7h0.85v0.85h-0.85zM429.7 208.0h0.85v0.85h-0.85zM428.3 211.5h0.85v0.85h-0.85zM450.1 210.3h0.85v0.85h-0.85zM457.8 202.5h0.85v0.85h-0.85zM490.3 203.9h0.85v0.85h-0.85zM492.6 210.6h0.85v0.85h-0.85zM438.1 208.1h0.85v0.85h-0.85zM491.9 208.6h0.85v0.85h-0.85zM443.8 209.2h0.85v0.85h-0.85zM432.6 209.0h0.85v0.85h-0.85zM450.0 209.8h0.85v0.85h-0.85zM463.4 208.5h0.85v0.85h-0.85zM492.5 211.6h0.85v0.85h-0.85zM473.2 211.2h0.85v0.85h-0.85zM479.6 209.1h0.85v0.85h-0.85zM432.6 208.7h0.85v0.85h-0.85zM456.4 206.7h0.85v0.85h-0.85zM438.6 207.8h0.85v0.85h-0.85zM430.6 206.6h0.85v0.85h-0.85zM476.3 204.3h0.85v0.85h-0.85zM459.9 206.6h0.85v0.85h-0.85zM478.7 206.3h0.85v0.85h-0.85zM449.1 209.5h0.85v0.85h-0.85zM460.6 203.0h0.85v0.85h-0.85zM494.7 208.6h0.85v0.85h-0.85zM428.9 208.8h0.85v0.85h-0.85zM431.3 207.4h0.85v0.85h-0.85zM442.7 209.3h0.85v0.85h-0.85zM431.3 207.2h0.85v0.85h-0.85zM481.2 202.5h0.85v0.85h-0.85zM478.1 208.8h0.85v0.85h-0.85zM455.7 208.3h0.85v0.85h-0.85zM470.1 210.2h0.85v0.85h-0.85zM486.7 211.3h0.85v0.85h-0.85zM469.1 203.1h0.85v0.85h-0.85zM481.0 206.2h0.85v0.85h-0.85zM489.3 207.5h0.85v0.85h-0.85zM468.1 208.0h0.85v0.85h-0.85zM430.3 205.8h0.85v0.85h-0.85zM482.1 207.3h0.85v0.85h-0.85zM441.8 210.9h0.85v0.85h-0.85zM481.5 208.9h0.85v0.85h-0.85zM475.2 209.9h0.85v0.85h-0.85zM439.5 210.7h0.85v0.85h-0.85zM459.1 204.3h0.85v0.85h-0.85zM492.7 208.4h0.85v0.85h-0.85zM480.7 209.6h0.85v0.85h-0.85zM482.0 206.7h0.85v0.85h-0.85zM473.1 211.4h0.85v0.85h-0.85zM427.2 207.1h0.85v0.85h-0.85zM483.2 211.2h0.85v0.85h-0.85zM460.4 207.1h0.85v0.85h-0.85zM462.9 211.4h0.85v0.85h-0.85zM458.4 208.6h0.85v0.85h-0.85zM430.9 208.6h0.85v0.85h-0.85zM457.0 210.2h0.85v0.85h-0.85zM472.2 209.3h0.85v0.85h-0.85zM444.5 204.5h0.85v0.85h-0.85zM432.1 210.5h0.85v0.85h-0.85zM465.1 210.8h0.85v0.85h-0.85zM499.6 207.8h0.85v0.85h-0.85zM473.0 207.1h0.85v0.85h-0.85zM431.8 208.3h0.85v0.85h-0.85zM466.7 209.3h0.85v0.85h-0.85zM482.4 208.4h0.85v0.85h-0.85zM427.5 211.0h0.85v0.85h-0.85zM437.1 210.0h0.85v0.85h-0.85zM446.8 208.8h0.85v0.85h-0.85zM491.6 211.3h0.85v0.85h-0.85zM464.7 203.4h0.85v0.85h-0.85zM466.0 210.5h0.85v0.85h-0.85zM491.9 208.2h0.85v0.85h-0.85zM471.0 210.3h0.85v0.85h-0.85zM425.0 209.3h0.85v0.85h-0.85zM438.0 208.5h0.85v0.85h-0.85zM429.3 209.0h0.85v0.85h-0.85zM474.1 208.9h0.85v0.85h-0.85zM476.5 210.3h0.85v0.85h-0.85zM488.3 209.0h0.85v0.85h-0.85zM432.4 207.3h0.85v0.85h-0.85zM426.6 206.9h0.85v0.85h-0.85zM454.9 211.1h0.85v0.85h-0.85zM429.2 211.2h0.85v0.85h-0.85zM472.3 206.4h0.85v0.85h-0.85zM482.7 205.5h0.85v0.85h-0.85zM483.4 210.0h0.85v0.85h-0.85zM440.8 206.5h0.85v0.85h-0.85zM467.9 208.9h0.85v0.85h-0.85zM473.0 205.9h0.85v0.85h-0.85zM441.9 211.6h0.85v0.85h-0.85zM457.1 211.2h0.85v0.85h-0.85zM426.5 210.8h0.85v0.85h-0.85zM429.5 210.1h0.85v0.85h-0.85zM456.0 202.7h0.85v0.85h-0.85zM467.3 208.5h0.85v0.85h-0.85zM482.1 206.6h0.85v0.85h-0.85zM456.2 210.9h0.85v0.85h-0.85zM459.7 204.1h0.85v0.85h-0.85zM496.6 202.9h0.85v0.85h-0.85zM432.6 207.0h0.85v0.85h-0.85zM444.8 209.2h0.85v0.85h-0.85zM461.6 209.9h0.85v0.85h-0.85zM495.3 203.8h0.85v0.85h-0.85zM485.3 202.5h0.85v0.85h-0.85zM460.3 209.4h0.85v0.85h-0.85zM484.9 207.8h0.85v0.85h-0.85zM466.1 209.0h0.85v0.85h-0.85zM449.8 210.3h0.85v0.85h-0.85zM465.0 207.9h0.85v0.85h-0.85zM430.5 208.5h0.85v0.85h-0.85zM491.7 205.2h0.85v0.85h-0.85zM436.7 209.9h0.85v0.85h-0.85zM454.0 208.5h0.85v0.85h-0.85zM478.6 210.0h0.85v0.85h-0.85zM482.6 209.2h0.85v0.85h-0.85zM481.2 203.8h0.85v0.85h-0.85zM496.6 204.7h0.85v0.85h-0.85zM430.3 207.3h0.85v0.85h-0.85zM470.2 207.9h0.85v0.85h-0.85zM482.4 205.7h0.85v0.85h-0.85zM429.7 210.2h0.85v0.85h-0.85zM496.8 211.5h0.85v0.85h-0.85zM487.2 206.7h0.85v0.85h-0.85zM485.5 209.7h0.85v0.85h-0.85zM498.7 211.1h0.85v0.85h-0.85zM456.9 210.7h0.85v0.85h-0.85zM431.3 209.0h0.85v0.85h-0.85zM491.6 205.1h0.85v0.85h-0.85zM496.4 207.3h0.85v0.85h-0.85zM464.0 210.7h0.85v0.85h-0.85zM479.6 210.4h0.85v0.85h-0.85zM500.5 202.7h0.85v0.85h-0.85zM430.3 207.0h0.85v0.85h-0.85zM455.2 210.4h0.85v0.85h-0.85zM424.5 210.1h0.85v0.85h-0.85zM461.8 205.0h0.85v0.85h-0.85zM432.3 207.3h0.85v0.85h-0.85zM441.7 204.9h0.85v0.85h-0.85zM449.0 210.7h0.85v0.85h-0.85zM496.1 205.7h0.85v0.85h-0.85zM432.2 210.4h0.85v0.85h-0.85zM493.4 205.7h0.85v0.85h-0.85zM496.7 209.4h0.85v0.85h-0.85zM449.5 209.1h0.85v0.85h-0.85zM475.1 203.1h0.85v0.85h-0.85zM452.0 203.6h0.85v0.85h-0.85zM492.3 211.2h0.85v0.85h-0.85zM443.2 207.7h0.85v0.85h-0.85zM486.9 202.6h0.85v0.85h-0.85zM464.4 210.0h0.85v0.85h-0.85zM426.8 209.7h0.85v0.85h-0.85zM499.2 206.2h0.85v0.85h-0.85zM489.4 210.6h0.85v0.85h-0.85zM428.8 210.6h0.85v0.85h-0.85zM469.4 209.1h0.85v0.85h-0.85zM428.9 210.8h0.85v0.85h-0.85zM437.3 210.5h0.85v0.85h-0.85zM493.5 205.8h0.85v0.85h-0.85zM427.9 207.8h0.85v0.85h-0.85zM453.3 203.9h0.85v0.85h-0.85zM452.4 207.0h0.85v0.85h-0.85zM454.9 203.3h0.85v0.85h-0.85z" fill="#d8301e"/>
<path d="M480.4 200.3h0.85v0.85h-0.85zM496.0 201.0h0.85v0.85h-0.85zM424.8 206.1h0.85v0.85h-0.85zM492.1 204.7h0.85v0.85h-0.85zM500.3 204.3h0.85v0.85h-0.85zM467.7 206.4h0.85v0.85h-0.85zM443.9 202.2h0.85v0.85h-0.85zM445.8 206.2h0.85v0.85h-0.85zM493.8 206.0h0.85v0.85h-0.85zM442.6 208.1h0.85v0.85h-0.85zM460.9 201.8h0.85v0.85h-0.85zM442.7 206.3h0.85v0.85h-0.85zM447.7 202.7h0.85v0.85h-0.85zM454.9 207.7h0.85v0.85h-0.85zM443.8 203.6h0.85v0.85h-0.85zM479.1 206.0h0.85v0.85h-0.85zM469.2 203.5h0.85v0.85h-0.85zM443.2 210.0h0.85v0.85h-0.85zM497.9 207.7h0.85v0.85h-0.85zM440.0 208.7h0.85v0.85h-0.85zM455.7 202.8h0.85v0.85h-0.85zM493.1 199.7h0.85v0.85h-0.85zM440.3 203.8h0.85v0.85h-0.85zM446.0 204.2h0.85v0.85h-0.85zM476.5 207.2h0.85v0.85h-0.85zM495.0 210.8h0.85v0.85h-0.85zM476.0 203.2h0.85v0.85h-0.85zM487.8 202.5h0.85v0.85h-0.85zM497.0 208.2h0.85v0.85h-0.85zM467.5 205.8h0.85v0.85h-0.85zM466.2 206.0h0.85v0.85h-0.85zM469.1 199.7h0.85v0.85h-0.85zM457.9 201.7h0.85v0.85h-0.85zM478.4 209.4h0.85v0.85h-0.85zM446.3 208.6h0.85v0.85h-0.85zM494.1 208.4h0.85v0.85h-0.85zM452.8 205.1h0.85v0.85h-0.85zM457.4 200.6h0.85v0.85h-0.85zM463.2 200.9h0.85v0.85h-0.85zM493.8 210.6h0.85v0.85h-0.85zM458.8 200.9h0.85v0.85h-0.85zM500.2 203.9h0.85v0.85h-0.85zM491.4 199.7h0.85v0.85h-0.85zM438.2 206.1h0.85v0.85h-0.85zM440.6 210.2h0.85v0.85h-0.85zM447.4 202.3h0.85v0.85h-0.85zM479.2 200.2h0.85v0.85h-0.85zM487.3 203.4h0.85v0.85h-0.85zM437.1 209.5h0.85v0.85h-0.85zM460.1 204.1h0.85v0.85h-0.85zM426.0 205.3h0.85v0.85h-0.85zM488.9 199.4h0.85v0.85h-0.85zM481.6 204.4h0.85v0.85h-0.85zM439.9 203.5h0.85v0.85h-0.85zM477.7 208.1h0.85v0.85h-0.85zM441.4 205.9h0.85v0.85h-0.85zM482.8 205.8h0.85v0.85h-0.85zM497.6 201.3h0.85v0.85h-0.85zM439.4 204.6h0.85v0.85h-0.85zM492.5 206.8h0.85v0.85h-0.85zM486.0 210.6h0.85v0.85h-0.85zM485.1 199.7h0.85v0.85h-0.85zM462.1 202.9h0.85v0.85h-0.85zM497.8 200.3h0.85v0.85h-0.85zM482.1 208.0h0.85v0.85h-0.85zM465.2 209.9h0.85v0.85h-0.85zM441.2 203.7h0.85v0.85h-0.85zM460.3 199.5h0.85v0.85h-0.85zM451.4 200.0h0.85v0.85h-0.85zM481.9 199.8h0.85v0.85h-0.85zM493.1 208.1h0.85v0.85h-0.85zM498.6 203.1h0.85v0.85h-0.85zM482.7 203.1h0.85v0.85h-0.85zM497.0 210.8h0.85v0.85h-0.85zM451.7 203.3h0.85v0.85h-0.85zM481.1 199.9h0.85v0.85h-0.85zM456.3 200.5h0.85v0.85h-0.85zM437.1 209.3h0.85v0.85h-0.85zM501.1 208.4h0.85v0.85h-0.85zM455.9 204.9h0.85v0.85h-0.85zM472.5 201.1h0.85v0.85h-0.85zM492.8 206.0h0.85v0.85h-0.85zM444.0 201.8h0.85v0.85h-0.85zM470.5 208.3h0.85v0.85h-0.85zM450.4 199.8h0.85v0.85h-0.85zM491.4 204.3h0.85v0.85h-0.85zM424.8 205.2h0.85v0.85h-0.85zM453.9 203.6h0.85v0.85h-0.85zM481.1 202.7h0.85v0.85h-0.85zM427.7 205.9h0.85v0.85h-0.85zM452.7 201.0h0.85v0.85h-0.85zM496.7 208.9h0.85v0.85h-0.85zM452.5 199.4h0.85v0.85h-0.85zM446.2 209.4h0.85v0.85h-0.85zM446.3 209.6h0.85v0.85h-0.85zM474.3 204.7h0.85v0.85h-0.85zM449.3 204.3h0.85v0.85h-0.85zM465.7 202.9h0.85v0.85h-0.85zM480.3 200.0h0.85v0.85h-0.85zM475.9 201.1h0.85v0.85h-0.85zM469.7 211.3h0.85v0.85h-0.85zM466.8 210.4h0.85v0.85h-0.85zM448.1 210.9h0.85v0.85h-0.85zM491.5 204.0h0.85v0.85h-0.85zM476.5 201.5h0.85v0.85h-0.85zM473.9 208.2h0.85v0.85h-0.85zM470.6 205.5h0.85v0.85h-0.85zM486.7 210.8h0.85v0.85h-0.85zM468.5 205.2h0.85v0.85h-0.85zM467.6 208.9h0.85v0.85h-0.85zM482.3 202.4h0.85v0.85h-0.85zM425.4 205.7h0.85v0.85h-0.85zM453.7 203.9h0.85v0.85h-0.85zM483.9 202.7h0.85v0.85h-0.85zM484.5 201.6h0.85v0.85h-0.85zM492.3 209.6h0.85v0.85h-0.85zM496.9 203.9h0.85v0.85h-0.85zM439.1 207.1h0.85v0.85h-0.85zM499.0 200.2h0.85v0.85h-0.85zM497.6 203.6h0.85v0.85h-0.85zM488.0 208.0h0.85v0.85h-0.85zM476.4 208.4h0.85v0.85h-0.85zM438.6 208.1h0.85v0.85h-0.85zM483.0 205.2h0.85v0.85h-0.85zM448.3 203.9h0.85v0.85h-0.85zM485.8 210.7h0.85v0.85h-0.85zM497.4 208.4h0.85v0.85h-0.85zM455.6 211.2h0.85v0.85h-0.85zM473.4 205.4h0.85v0.85h-0.85zM456.9 200.8h0.85v0.85h-0.85zM500.1 207.2h0.85v0.85h-0.85zM499.0 209.6h0.85v0.85h-0.85zM485.3 201.8h0.85v0.85h-0.85zM448.1 201.1h0.85v0.85h-0.85zM488.4 205.8h0.85v0.85h-0.85zM453.2 203.6h0.85v0.85h-0.85zM488.0 202.1h0.85v0.85h-0.85zM449.3 204.3h0.85v0.85h-0.85zM458.2 201.4h0.85v0.85h-0.85zM443.9 208.0h0.85v0.85h-0.85zM463.0 203.3h0.85v0.85h-0.85zM428.2 205.1h0.85v0.85h-0.85zM483.9 206.2h0.85v0.85h-0.85zM477.4 208.6h0.85v0.85h-0.85zM482.7 206.3h0.85v0.85h-0.85zM449.5 207.2h0.85v0.85h-0.85zM477.7 207.4h0.85v0.85h-0.85zM442.0 209.7h0.85v0.85h-0.85zM482.6 202.4h0.85v0.85h-0.85zM465.0 203.5h0.85v0.85h-0.85zM459.5 206.4h0.85v0.85h-0.85zM500.8 201.4h0.85v0.85h-0.85zM489.5 203.2h0.85v0.85h-0.85zM446.9 200.4h0.85v0.85h-0.85zM441.6 207.4h0.85v0.85h-0.85zM490.3 201.4h0.85v0.85h-0.85zM453.1 207.7h0.85v0.85h-0.85zM498.1 206.5h0.85v0.85h-0.85zM461.5 207.2h0.85v0.85h-0.85z" fill="#2c3478"/>
<path d="M499.9 209.8h0.85v0.85h-0.85zM451.9 203.5h0.85v0.85h-0.85zM459.8 205.5h0.85v0.85h-0.85zM490.1 203.2h0.85v0.85h-0.85zM467.3 207.4h0.85v0.85h-0.85zM500.2 203.6h0.85v0.85h-0.85zM478.8 210.4h0.85v0.85h-0.85zM456.3 211.5h0.85v0.85h-0.85zM477.1 207.3h0.85v0.85h-0.85zM460.5 208.8h0.85v0.85h-0.85zM492.0 209.0h0.85v0.85h-0.85zM463.0 210.8h0.85v0.85h-0.85zM445.8 206.8h0.85v0.85h-0.85zM477.6 211.4h0.85v0.85h-0.85zM456.0 207.9h0.85v0.85h-0.85zM500.0 202.8h0.85v0.85h-0.85zM483.1 210.6h0.85v0.85h-0.85zM485.6 207.5h0.85v0.85h-0.85zM469.1 210.2h0.85v0.85h-0.85zM446.3 206.6h0.85v0.85h-0.85zM476.7 208.5h0.85v0.85h-0.85zM438.6 208.3h0.85v0.85h-0.85zM425.8 206.1h0.85v0.85h-0.85zM446.8 208.7h0.85v0.85h-0.85zM443.1 204.3h0.85v0.85h-0.85zM486.2 207.1h0.85v0.85h-0.85zM442.6 206.3h0.85v0.85h-0.85zM491.3 202.9h0.85v0.85h-0.85zM500.7 207.8h0.85v0.85h-0.85zM424.9 208.2h0.85v0.85h-0.85zM480.8 205.8h0.85v0.85h-0.85zM483.6 211.4h0.85v0.85h-0.85zM442.9 204.9h0.85v0.85h-0.85zM481.9 204.6h0.85v0.85h-0.85zM459.8 208.7h0.85v0.85h-0.85zM430.9 205.4h0.85v0.85h-0.85zM453.3 209.3h0.85v0.85h-0.85zM487.2 207.7h0.85v0.85h-0.85zM495.5 207.8h0.85v0.85h-0.85zM454.8 202.3h0.85v0.85h-0.85zM495.5 207.9h0.85v0.85h-0.85zM468.7 209.4h0.85v0.85h-0.85zM450.6 210.8h0.85v0.85h-0.85zM497.8 208.7h0.85v0.85h-0.85zM439.3 208.0h0.85v0.85h-0.85zM464.1 206.8h0.85v0.85h-0.85zM472.1 204.3h0.85v0.85h-0.85zM476.7 203.5h0.85v0.85h-0.85zM479.5 204.8h0.85v0.85h-0.85zM432.4 206.1h0.85v0.85h-0.85zM477.3 203.8h0.85v0.85h-0.85zM464.3 209.6h0.85v0.85h-0.85zM449.2 207.4h0.85v0.85h-0.85zM490.3 209.0h0.85v0.85h-0.85zM497.2 206.3h0.85v0.85h-0.85zM486.3 208.5h0.85v0.85h-0.85zM429.7 205.9h0.85v0.85h-0.85zM475.0 205.6h0.85v0.85h-0.85zM465.8 210.2h0.85v0.85h-0.85zM488.6 211.4h0.85v0.85h-0.85zM469.9 206.2h0.85v0.85h-0.85zM458.0 204.0h0.85v0.85h-0.85zM447.0 203.1h0.85v0.85h-0.85zM431.7 207.7h0.85v0.85h-0.85zM460.2 206.7h0.85v0.85h-0.85zM455.6 206.4h0.85v0.85h-0.85zM485.8 205.3h0.85v0.85h-0.85zM441.8 210.7h0.85v0.85h-0.85zM455.2 210.5h0.85v0.85h-0.85zM474.6 211.2h0.85v0.85h-0.85zM491.3 210.7h0.85v0.85h-0.85zM427.1 206.5h0.85v0.85h-0.85zM444.8 206.7h0.85v0.85h-0.85zM471.7 211.3h0.85v0.85h-0.85zM496.3 204.8h0.85v0.85h-0.85zM484.2 209.7h0.85v0.85h-0.85zM469.6 211.6h0.85v0.85h-0.85zM444.1 211.4h0.85v0.85h-0.85zM425.4 207.0h0.85v0.85h-0.85zM491.3 209.6h0.85v0.85h-0.85zM424.1 205.7h0.85v0.85h-0.85zM461.1 207.2h0.85v0.85h-0.85zM425.2 206.6h0.85v0.85h-0.85z" fill="#6a3478"/>
<path d="M488.4 207.8h0.85v0.85h-0.85zM477.9 206.2h0.85v0.85h-0.85zM466.6 207.4h0.85v0.85h-0.85zM463.7 208.4h0.85v0.85h-0.85zM487.7 207.7h0.85v0.85h-0.85zM489.6 206.2h0.85v0.85h-0.85zM439.8 206.1h0.85v0.85h-0.85zM443.3 209.0h0.85v0.85h-0.85zM493.9 203.0h0.85v0.85h-0.85zM494.1 202.6h0.85v0.85h-0.85zM455.4 203.3h0.85v0.85h-0.85zM451.3 208.0h0.85v0.85h-0.85zM491.4 208.0h0.85v0.85h-0.85zM471.0 202.6h0.85v0.85h-0.85zM498.3 207.7h0.85v0.85h-0.85zM491.2 207.7h0.85v0.85h-0.85zM469.8 203.6h0.85v0.85h-0.85zM458.6 202.4h0.85v0.85h-0.85zM447.4 203.6h0.85v0.85h-0.85zM428.4 210.1h0.85v0.85h-0.85zM427.2 211.5h0.85v0.85h-0.85zM490.3 208.5h0.85v0.85h-0.85zM448.5 208.1h0.85v0.85h-0.85zM495.9 202.8h0.85v0.85h-0.85zM490.8 207.9h0.85v0.85h-0.85zM485.7 206.4h0.85v0.85h-0.85zM463.3 206.5h0.85v0.85h-0.85zM468.1 202.9h0.85v0.85h-0.85zM443.8 206.0h0.85v0.85h-0.85zM489.0 206.9h0.85v0.85h-0.85zM442.3 208.9h0.85v0.85h-0.85zM495.6 206.8h0.85v0.85h-0.85z" fill="#e0c030"/>
<path d="M495.7 208.3h0.85v0.85h-0.85zM431.8 207.9h0.85v0.85h-0.85zM424.6 209.4h0.85v0.85h-0.85zM469.7 210.1h0.85v0.85h-0.85zM452.4 208.5h0.85v0.85h-0.85zM432.5 209.2h0.85v0.85h-0.85zM471.9 204.6h0.85v0.85h-0.85zM476.9 210.9h0.85v0.85h-0.85zM486.1 209.1h0.85v0.85h-0.85zM462.0 210.3h0.85v0.85h-0.85zM481.5 205.6h0.85v0.85h-0.85zM457.1 202.5h0.85v0.85h-0.85zM470.0 207.4h0.85v0.85h-0.85zM424.1 209.1h0.85v0.85h-0.85zM488.1 208.0h0.85v0.85h-0.85zM450.5 211.1h0.85v0.85h-0.85zM431.8 209.9h0.85v0.85h-0.85zM484.9 211.1h0.85v0.85h-0.85zM445.1 209.5h0.85v0.85h-0.85zM470.2 211.1h0.85v0.85h-0.85zM437.0 207.3h0.85v0.85h-0.85zM451.4 206.6h0.85v0.85h-0.85zM425.9 207.2h0.85v0.85h-0.85zM466.4 206.1h0.85v0.85h-0.85zM446.7 207.7h0.85v0.85h-0.85zM457.6 209.9h0.85v0.85h-0.85zM467.0 206.1h0.85v0.85h-0.85zM472.5 209.8h0.85v0.85h-0.85zM481.9 211.5h0.85v0.85h-0.85zM449.5 208.7h0.85v0.85h-0.85zM467.4 209.2h0.85v0.85h-0.85zM484.2 209.6h0.85v0.85h-0.85zM439.7 209.8h0.85v0.85h-0.85zM478.4 206.3h0.85v0.85h-0.85zM444.3 210.8h0.85v0.85h-0.85zM493.8 204.3h0.85v0.85h-0.85zM446.3 205.4h0.85v0.85h-0.85zM441.1 206.7h0.85v0.85h-0.85zM499.7 205.3h0.85v0.85h-0.85zM493.5 202.3h0.85v0.85h-0.85zM447.8 208.9h0.85v0.85h-0.85zM443.9 209.5h0.85v0.85h-0.85zM442.7 211.3h0.85v0.85h-0.85zM478.3 210.7h0.85v0.85h-0.85zM461.8 211.4h0.85v0.85h-0.85zM487.3 209.9h0.85v0.85h-0.85zM474.7 204.6h0.85v0.85h-0.85zM500.5 204.6h0.85v0.85h-0.85zM445.0 204.4h0.85v0.85h-0.85zM423.6 208.4h0.85v0.85h-0.85zM458.2 206.1h0.85v0.85h-0.85zM468.6 209.7h0.85v0.85h-0.85zM452.9 208.7h0.85v0.85h-0.85zM481.6 208.0h0.85v0.85h-0.85zM449.9 211.4h0.85v0.85h-0.85zM480.0 210.9h0.85v0.85h-0.85zM477.6 208.5h0.85v0.85h-0.85zM453.0 203.0h0.85v0.85h-0.85zM462.3 208.7h0.85v0.85h-0.85z" fill="#e07a22"/>
<path d="M465.7 201.8h0.85v0.85h-0.85zM487.3 201.7h0.85v0.85h-0.85zM450.2 201.1h0.85v0.85h-0.85zM451.2 200.0h0.85v0.85h-0.85zM444.7 202.2h0.85v0.85h-0.85zM437.7 205.7h0.85v0.85h-0.85zM492.5 199.3h0.85v0.85h-0.85zM459.9 199.5h0.85v0.85h-0.85zM441.6 204.0h0.85v0.85h-0.85zM482.6 201.6h0.85v0.85h-0.85zM469.0 199.6h0.85v0.85h-0.85zM453.7 199.4h0.85v0.85h-0.85zM479.9 202.0h0.85v0.85h-0.85zM456.5 201.3h0.85v0.85h-0.85zM475.2 199.8h0.85v0.85h-0.85zM458.5 200.0h0.85v0.85h-0.85zM437.2 204.9h0.85v0.85h-0.85zM483.1 199.4h0.85v0.85h-0.85zM493.9 201.7h0.85v0.85h-0.85zM473.4 199.9h0.85v0.85h-0.85zM473.7 201.6h0.85v0.85h-0.85zM448.4 200.3h0.85v0.85h-0.85zM439.5 204.9h0.85v0.85h-0.85zM460.6 199.3h0.85v0.85h-0.85zM441.2 204.0h0.85v0.85h-0.85zM488.0 201.6h0.85v0.85h-0.85zM448.4 200.4h0.85v0.85h-0.85zM495.0 201.3h0.85v0.85h-0.85zM459.8 201.9h0.85v0.85h-0.85zM438.4 204.6h0.85v0.85h-0.85zM485.8 201.0h0.85v0.85h-0.85zM491.1 200.9h0.85v0.85h-0.85z" fill="#8a8a9a"/>
<path d="M477.7 201.4h0.85v0.85h-0.85zM456.7 200.3h0.85v0.85h-0.85zM488.3 199.3h0.85v0.85h-0.85zM489.6 201.3h0.85v0.85h-0.85zM495.2 201.8h0.85v0.85h-0.85zM471.2 199.7h0.85v0.85h-0.85zM441.6 204.3h0.85v0.85h-0.85zM476.6 200.3h0.85v0.85h-0.85zM451.9 202.2h0.85v0.85h-0.85zM448.3 200.4h0.85v0.85h-0.85zM499.9 201.8h0.85v0.85h-0.85zM468.9 199.5h0.85v0.85h-0.85zM436.8 205.4h0.85v0.85h-0.85zM445.3 201.7h0.85v0.85h-0.85zM463.2 199.4h0.85v0.85h-0.85zM461.5 200.7h0.85v0.85h-0.85zM459.8 201.8h0.85v0.85h-0.85zM487.6 200.7h0.85v0.85h-0.85zM475.2 199.8h0.85v0.85h-0.85zM483.2 200.8h0.85v0.85h-0.85zM500.6 201.5h0.85v0.85h-0.85zM470.2 200.5h0.85v0.85h-0.85zM450.8 202.0h0.85v0.85h-0.85zM496.3 199.5h0.85v0.85h-0.85zM499.1 200.6h0.85v0.85h-0.85zM459.3 202.1h0.85v0.85h-0.85zM462.0 200.7h0.85v0.85h-0.85zM496.3 201.8h0.85v0.85h-0.85zM482.9 199.4h0.85v0.85h-0.85zM492.9 200.1h0.85v0.85h-0.85zM489.5 200.5h0.85v0.85h-0.85zM441.8 202.4h0.85v0.85h-0.85zM445.3 202.5h0.85v0.85h-0.85z" fill="#333"/>
<path d="M453.6 201.2h0.85v0.85h-0.85zM485.2 203.0h0.85v0.85h-0.85zM477.9 201.8h0.85v0.85h-0.85zM476.4 202.8h0.85v0.85h-0.85zM448.6 205.0h0.85v0.85h-0.85zM469.5 203.1h0.85v0.85h-0.85zM443.6 205.4h0.85v0.85h-0.85zM500.2 200.0h0.85v0.85h-0.85zM442.9 202.4h0.85v0.85h-0.85zM481.6 199.9h0.85v0.85h-0.85zM482.4 199.7h0.85v0.85h-0.85zM437.5 205.1h0.85v0.85h-0.85zM500.2 203.2h0.85v0.85h-0.85zM443.9 205.5h0.85v0.85h-0.85zM484.0 201.4h0.85v0.85h-0.85zM449.9 202.2h0.85v0.85h-0.85zM438.1 206.2h0.85v0.85h-0.85zM479.4 201.4h0.85v0.85h-0.85zM467.3 200.7h0.85v0.85h-0.85zM461.8 199.8h0.85v0.85h-0.85zM469.2 201.6h0.85v0.85h-0.85zM444.0 203.5h0.85v0.85h-0.85zM462.2 200.1h0.85v0.85h-0.85zM452.7 204.1h0.85v0.85h-0.85zM469.7 201.2h0.85v0.85h-0.85zM446.8 200.9h0.85v0.85h-0.85zM441.2 202.8h0.85v0.85h-0.85zM493.6 201.4h0.85v0.85h-0.85zM443.7 203.9h0.85v0.85h-0.85zM487.3 199.7h0.85v0.85h-0.85zM473.3 201.8h0.85v0.85h-0.85zM485.4 200.0h0.85v0.85h-0.85zM473.9 200.5h0.85v0.85h-0.85zM437.9 204.0h0.85v0.85h-0.85zM439.6 206.4h0.85v0.85h-0.85zM467.2 201.1h0.85v0.85h-0.85zM457.7 203.2h0.85v0.85h-0.85z" fill="#b8b8c8"/>
<rect x="436.30" y="204.40" width="1.10" height="7.70" fill="#d8301c"/>
<text x="424.80" y="191.40" font-size="3.6" stroke="#111" stroke-width="0.13">anti-CD3/CD28 (OKT3, 10 µg/mL /</text>
<text x="467.50" y="195.80" font-size="3.6" stroke="#111" stroke-width="0.13">15E8, 20 µg/mL)</text>
<text x="413.40" y="190.40" font-size="4.8" fill="#555" stroke="#555" stroke-width="0.13">10<tspan font-size="3.0" dy="-2.1">4</tspan></text>
<text x="413.40" y="196.60" font-size="4.8" fill="#555" stroke="#555" stroke-width="0.13">10<tspan font-size="3.0" dy="-2.1">2</tspan></text>
<text x="413.40" y="202.30" font-size="4.8" fill="#555" stroke="#555" stroke-width="0.13">10<tspan font-size="3.0" dy="-2.1">1</tspan></text>
<text x="413.40" y="209.00" font-size="4.8" fill="#555" stroke="#555" stroke-width="0.13">10<tspan font-size="3.0" dy="-2.1">0</tspan></text>
<text x="426.00" y="217.00" font-size="4.3" text-anchor="end" stroke="#111" stroke-width="0.13" transform="rotate(-60 426.0 217.0)">0</text>
<text x="433.80" y="217.00" font-size="4.3" text-anchor="end" stroke="#111" stroke-width="0.13" transform="rotate(-60 433.8 217.0)">100</text>
<text x="441.60" y="217.00" font-size="4.3" text-anchor="end" stroke="#111" stroke-width="0.13" transform="rotate(-60 441.6 217.0)">200</text>
<text x="449.40" y="217.00" font-size="4.3" text-anchor="end" stroke="#111" stroke-width="0.13" transform="rotate(-60 449.4 217.0)">300</text>
<text x="457.20" y="217.00" font-size="4.3" text-anchor="end" stroke="#111" stroke-width="0.13" transform="rotate(-60 457.2 217.0)">400</text>
<text x="465.00" y="217.00" font-size="4.3" text-anchor="end" stroke="#111" stroke-width="0.13" transform="rotate(-60 465.0 217.0)">500</text>
<text x="472.80" y="217.00" font-size="4.3" text-anchor="end" stroke="#111" stroke-width="0.13" transform="rotate(-60 472.8 217.0)">600</text>
<text x="480.60" y="217.00" font-size="4.3" text-anchor="end" stroke="#111" stroke-width="0.13" transform="rotate(-60 480.6 217.0)">700</text>
<text x="488.40" y="217.00" font-size="4.3" text-anchor="end" stroke="#111" stroke-width="0.13" transform="rotate(-60 488.4 217.0)">800</text>
<text x="496.20" y="217.00" font-size="4.3" text-anchor="end" stroke="#111" stroke-width="0.13" transform="rotate(-60 496.2 217.0)">900</text>
<text x="504.00" y="217.00" font-size="4.3" text-anchor="end" stroke="#111" stroke-width="0.13" transform="rotate(-60 504.0 217.0)">1000</text>
<text x="462.60" y="231.40" font-size="6.0" text-anchor="middle" stroke="#111" stroke-width="0.13">Time [sec]</text>
<text x="7.00" y="242.30" font-size="12.0" font-weight="bold" fill="#000" stroke="#000" stroke-width="0.45">C</text>
<text x="104.00" y="247.80" font-size="6.6" text-anchor="middle" stroke="#111" stroke-width="0.13">Jurkat cells</text>
<line x1="48.40" y1="252.70" x2="160.00" y2="252.70" stroke="#111" stroke-width="1.1"/>
<rect x="47.80" y="256.30" width="5.20" height="3.20" fill="#d87a8e"/>
<text x="55.50" y="258.90" font-size="2.8" stroke="#111" stroke-width="0.13">Jurkat-GFP</text>
<rect x="78.50" y="256.30" width="5.20" height="3.20" fill="#a50a33"/>
<text x="86.50" y="258.90" font-size="2.8" stroke="#111" stroke-width="0.13">Jurkat-TCL1A</text>
<line x1="42.40" y1="265.50" x2="42.40" y2="315.30" stroke="#111" stroke-width="0.9"/>
<line x1="42.40" y1="315.30" x2="88.90" y2="315.30" stroke="#111" stroke-width="0.9"/>
<line x1="39.10" y1="315.30" x2="42.40" y2="315.30" stroke="#111" stroke-width="0.8"/>
<text x="36.80" y="317.00" font-size="4.8" text-anchor="end" stroke="#111" stroke-width="0.13">0</text>
<line x1="39.10" y1="305.90" x2="42.40" y2="305.90" stroke="#111" stroke-width="0.8"/>
<text x="36.80" y="307.60" font-size="4.8" text-anchor="end" stroke="#111" stroke-width="0.13">10</text>
<line x1="39.10" y1="296.50" x2="42.40" y2="296.50" stroke="#111" stroke-width="0.8"/>
<text x="36.80" y="298.20" font-size="4.8" text-anchor="end" stroke="#111" stroke-width="0.13">20</text>
<line x1="39.10" y1="287.10" x2="42.40" y2="287.10" stroke="#111" stroke-width="0.8"/>
<text x="36.80" y="288.80" font-size="4.8" text-anchor="end" stroke="#111" stroke-width="0.13">30</text>
<line x1="39.10" y1="277.70" x2="42.40" y2="277.70" stroke="#111" stroke-width="0.8"/>
<text x="36.80" y="279.40" font-size="4.8" text-anchor="end" stroke="#111" stroke-width="0.13">40</text>
<line x1="39.10" y1="268.30" x2="42.40" y2="268.30" stroke="#111" stroke-width="0.8"/>
<text x="36.80" y="270.00" font-size="4.8" text-anchor="end" stroke="#111" stroke-width="0.13">50</text>
<rect x="44.10" y="301.20" width="6.10" height="14.10" fill="#d87a8e"/>
<line x1="47.15" y1="300.40" x2="47.15" y2="302.00" stroke="#111" stroke-width="0.6"/>
<line x1="46.15" y1="300.40" x2="48.15" y2="300.40" stroke="#111" stroke-width="0.6"/>
<line x1="46.15" y1="302.00" x2="48.15" y2="302.00" stroke="#111" stroke-width="0.6"/>
<rect x="51.40" y="290.86" width="5.70" height="24.44" fill="#a50a33"/>
<line x1="54.25" y1="290.06" x2="54.25" y2="291.66" stroke="#111" stroke-width="0.6"/>
<line x1="53.25" y1="290.06" x2="55.25" y2="290.06" stroke="#111" stroke-width="0.6"/>
<line x1="53.25" y1="291.66" x2="55.25" y2="291.66" stroke="#111" stroke-width="0.6"/>
<rect x="59.70" y="299.79" width="5.50" height="15.51" fill="#d87a8e"/>
<line x1="62.45" y1="299.19" x2="62.45" y2="300.39" stroke="#111" stroke-width="0.6"/>
<line x1="61.45" y1="299.19" x2="63.45" y2="299.19" stroke="#111" stroke-width="0.6"/>
<line x1="61.45" y1="300.39" x2="63.45" y2="300.39" stroke="#111" stroke-width="0.6"/>
<rect x="66.60" y="276.29" width="5.70" height="39.01" fill="#a50a33"/>
<line x1="69.45" y1="275.09" x2="69.45" y2="277.49" stroke="#111" stroke-width="0.6"/>
<line x1="68.45" y1="275.09" x2="70.45" y2="275.09" stroke="#111" stroke-width="0.6"/>
<line x1="68.45" y1="277.49" x2="70.45" y2="277.49" stroke="#111" stroke-width="0.6"/>
<rect x="75.30" y="297.44" width="5.70" height="17.86" fill="#d87a8e"/>
<line x1="78.15" y1="296.84" x2="78.15" y2="298.04" stroke="#111" stroke-width="0.6"/>
<line x1="77.15" y1="296.84" x2="79.15" y2="296.84" stroke="#111" stroke-width="0.6"/>
<line x1="77.15" y1="298.04" x2="79.15" y2="298.04" stroke="#111" stroke-width="0.6"/>
<rect x="82.20" y="273.94" width="5.70" height="41.36" fill="#a50a33"/>
<line x1="85.05" y1="272.94" x2="85.05" y2="274.94" stroke="#111" stroke-width="0.6"/>
<line x1="84.05" y1="272.94" x2="86.05" y2="272.94" stroke="#111" stroke-width="0.6"/>
<line x1="84.05" y1="274.94" x2="86.05" y2="274.94" stroke="#111" stroke-width="0.6"/>
<text x="50.20" y="324.00" font-size="4.6" text-anchor="middle" stroke="#111" stroke-width="0.13">unstim.</text>
<text x="65.50" y="324.00" font-size="5.0" text-anchor="middle" stroke="#111" stroke-width="0.13">2 h</text>
<text x="81.10" y="324.00" font-size="5.0" text-anchor="middle" stroke="#111" stroke-width="0.13">6 h</text>
<line x1="59.40" y1="327.20" x2="88.40" y2="327.20" stroke="#111" stroke-width="1.1"/>
<text x="73.90" y="334.00" font-size="4.9" text-anchor="middle" stroke="#111" stroke-width="0.13" textLength="34" lengthAdjust="spacingAndGlyphs">anti-CD3/CD28</text>
<text x="25.40" y="290.40" font-size="5.5" text-anchor="middle" stroke="#111" stroke-width="0.13" transform="rotate(-90 25.4 290.4)">CD38<tspan font-size="2.8" dy="-2.2">+</tspan><tspan dy="2.2"> cells [%]</tspan></text>
<line x1="49.40" y1="286.63" x2="58.40" y2="286.63" stroke="#111" stroke-width="0.9"/>
<text x="53.90" y="285.03" font-size="3.0" text-anchor="middle" stroke="#111" stroke-width="0.13">P=0.0048</text>
<line x1="64.90" y1="271.31" x2="74.40" y2="271.31" stroke="#111" stroke-width="0.9"/>
<text x="69.65" y="269.71" font-size="3.0" text-anchor="middle" stroke="#111" stroke-width="0.13">P=0.0031</text>
<line x1="80.40" y1="268.30" x2="89.40" y2="268.30" stroke="#111" stroke-width="0.9"/>
<text x="84.90" y="266.70" font-size="3.0" text-anchor="middle" stroke="#111" stroke-width="0.13">P=0.0022</text>
<text x="44.40" y="276.00" font-size="3.0" stroke="#111" stroke-width="0.13">n=3</text>
<line x1="122.00" y1="267.00" x2="122.00" y2="315.30" stroke="#111" stroke-width="0.9"/>
<line x1="122.00" y1="315.30" x2="168.50" y2="315.30" stroke="#111" stroke-width="0.9"/>
<line x1="118.70" y1="315.30" x2="122.00" y2="315.30" stroke="#111" stroke-width="0.8"/>
<text x="116.40" y="317.00" font-size="4.8" text-anchor="end" stroke="#111" stroke-width="0.13">0</text>
<line x1="118.70" y1="306.34" x2="122.00" y2="306.34" stroke="#111" stroke-width="0.8"/>
<text x="116.40" y="308.04" font-size="4.8" text-anchor="end" stroke="#111" stroke-width="0.13">20</text>
<line x1="118.70" y1="297.38" x2="122.00" y2="297.38" stroke="#111" stroke-width="0.8"/>
<text x="116.40" y="299.08" font-size="4.8" text-anchor="end" stroke="#111" stroke-width="0.13">40</text>
<line x1="118.70" y1="288.42" x2="122.00" y2="288.42" stroke="#111" stroke-width="0.8"/>
<text x="116.40" y="290.12" font-size="4.8" text-anchor="end" stroke="#111" stroke-width="0.13">60</text>
<line x1="118.70" y1="279.46" x2="122.00" y2="279.46" stroke="#111" stroke-width="0.8"/>
<text x="116.40" y="281.16" font-size="4.8" text-anchor="end" stroke="#111" stroke-width="0.13">80</text>
<line x1="118.70" y1="270.50" x2="122.00" y2="270.50" stroke="#111" stroke-width="0.8"/>
<text x="116.40" y="272.20" font-size="4.8" text-anchor="end" stroke="#111" stroke-width="0.13">100</text>
<rect x="123.70" y="308.58" width="6.10" height="6.72" fill="#d87a8e"/>
<line x1="126.75" y1="307.38" x2="126.75" y2="309.78" stroke="#111" stroke-width="0.6"/>
<line x1="125.75" y1="307.38" x2="127.75" y2="307.38" stroke="#111" stroke-width="0.6"/>
<line x1="125.75" y1="309.78" x2="127.75" y2="309.78" stroke="#111" stroke-width="0.6"/>
<rect x="131.00" y="296.04" width="5.70" height="19.26" fill="#a50a33"/>
<line x1="133.85" y1="294.84" x2="133.85" y2="297.24" stroke="#111" stroke-width="0.6"/>
<line x1="132.85" y1="294.84" x2="134.85" y2="294.84" stroke="#111" stroke-width="0.6"/>
<line x1="132.85" y1="297.24" x2="134.85" y2="297.24" stroke="#111" stroke-width="0.6"/>
<rect x="139.30" y="294.47" width="5.50" height="20.83" fill="#d87a8e"/>
<line x1="142.05" y1="293.67" x2="142.05" y2="295.27" stroke="#111" stroke-width="0.6"/>
<line x1="141.05" y1="293.67" x2="143.05" y2="293.67" stroke="#111" stroke-width="0.6"/>
<line x1="141.05" y1="295.27" x2="143.05" y2="295.27" stroke="#111" stroke-width="0.6"/>
<rect x="146.20" y="274.98" width="5.70" height="40.32" fill="#a50a33"/>
<line x1="149.05" y1="273.78" x2="149.05" y2="276.18" stroke="#111" stroke-width="0.6"/>
<line x1="148.05" y1="273.78" x2="150.05" y2="273.78" stroke="#111" stroke-width="0.6"/>
<line x1="148.05" y1="276.18" x2="150.05" y2="276.18" stroke="#111" stroke-width="0.6"/>
<rect x="154.90" y="291.11" width="5.70" height="24.19" fill="#d87a8e"/>
<line x1="157.75" y1="290.31" x2="157.75" y2="291.91" stroke="#111" stroke-width="0.6"/>
<line x1="156.75" y1="290.31" x2="158.75" y2="290.31" stroke="#111" stroke-width="0.6"/>
<line x1="156.75" y1="291.91" x2="158.75" y2="291.91" stroke="#111" stroke-width="0.6"/>
<rect x="161.80" y="273.19" width="5.70" height="42.11" fill="#a50a33"/>
<line x1="164.65" y1="272.39" x2="164.65" y2="273.99" stroke="#111" stroke-width="0.6"/>
<line x1="163.65" y1="272.39" x2="165.65" y2="272.39" stroke="#111" stroke-width="0.6"/>
<line x1="163.65" y1="273.99" x2="165.65" y2="273.99" stroke="#111" stroke-width="0.6"/>
<text x="129.80" y="324.00" font-size="4.6" text-anchor="middle" stroke="#111" stroke-width="0.13">unstim.</text>
<text x="145.10" y="324.00" font-size="5.0" text-anchor="middle" stroke="#111" stroke-width="0.13">2 h</text>
<text x="160.70" y="324.00" font-size="5.0" text-anchor="middle" stroke="#111" stroke-width="0.13">6 h</text>
<line x1="139.00" y1="327.20" x2="168.00" y2="327.20" stroke="#111" stroke-width="1.1"/>
<text x="153.50" y="334.00" font-size="4.9" text-anchor="middle" stroke="#111" stroke-width="0.13" textLength="34" lengthAdjust="spacingAndGlyphs">anti-CD3/CD28</text>
<text x="105.00" y="291.15" font-size="5.5" text-anchor="middle" stroke="#111" stroke-width="0.13" transform="rotate(-90 105.0 291.15)">CD69<tspan font-size="2.8" dy="-2.2">+</tspan><tspan dy="2.2"> cells [%]</tspan></text>
<line x1="129.00" y1="294.02" x2="138.00" y2="294.02" stroke="#111" stroke-width="0.9"/>
<text x="133.50" y="292.42" font-size="3.0" text-anchor="middle" stroke="#111" stroke-width="0.13">P=0.0017</text>
<line x1="144.50" y1="272.96" x2="154.00" y2="272.96" stroke="#111" stroke-width="0.9"/>
<text x="149.25" y="271.36" font-size="3.0" text-anchor="middle" stroke="#111" stroke-width="0.13">P=0.0007</text>
<line x1="160.00" y1="271.17" x2="169.00" y2="271.17" stroke="#111" stroke-width="0.9"/>
<text x="164.50" y="269.57" font-size="3.0" text-anchor="middle" stroke="#111" stroke-width="0.13">P=0.0001</text>
<text x="104.00" y="344.30" font-size="6.6" text-anchor="middle" stroke="#111" stroke-width="0.13">iHH-TCL1A cells</text>
<line x1="48.40" y1="349.00" x2="160.00" y2="349.00" stroke="#111" stroke-width="1.1"/>
<rect x="45.50" y="352.80" width="5.20" height="3.20" fill="#d87a8e"/>
<text x="55.50" y="355.40" font-size="2.8" stroke="#111" stroke-width="0.13">iHH-TCL1A no Dox</text>
<rect x="90.50" y="352.80" width="5.20" height="3.20" fill="#a50a33"/>
<text x="98.80" y="355.40" font-size="2.8" stroke="#111" stroke-width="0.13">iHH-TCL1A ++ Dox</text>
<line x1="42.40" y1="360.30" x2="42.40" y2="411.30" stroke="#111" stroke-width="0.9"/>
<line x1="42.40" y1="411.30" x2="88.90" y2="411.30" stroke="#111" stroke-width="0.9"/>
<line x1="39.10" y1="411.30" x2="42.40" y2="411.30" stroke="#111" stroke-width="0.8"/>
<text x="36.80" y="413.00" font-size="4.8" text-anchor="end" stroke="#111" stroke-width="0.13">0</text>
<line x1="39.10" y1="399.20" x2="42.40" y2="399.20" stroke="#111" stroke-width="0.8"/>
<text x="36.80" y="400.90" font-size="4.8" text-anchor="end" stroke="#111" stroke-width="0.13">10</text>
<line x1="39.10" y1="387.10" x2="42.40" y2="387.10" stroke="#111" stroke-width="0.8"/>
<text x="36.80" y="388.80" font-size="4.8" text-anchor="end" stroke="#111" stroke-width="0.13">20</text>
<line x1="39.10" y1="375.00" x2="42.40" y2="375.00" stroke="#111" stroke-width="0.8"/>
<text x="36.80" y="376.70" font-size="4.8" text-anchor="end" stroke="#111" stroke-width="0.13">30</text>
<line x1="39.10" y1="362.90" x2="42.40" y2="362.90" stroke="#111" stroke-width="0.8"/>
<text x="36.80" y="364.60" font-size="4.8" text-anchor="end" stroke="#111" stroke-width="0.13">40</text>
<rect x="44.10" y="396.18" width="6.10" height="15.12" fill="#d87a8e"/>
<line x1="47.15" y1="395.68" x2="47.15" y2="396.68" stroke="#111" stroke-width="0.6"/>
<line x1="46.15" y1="395.68" x2="48.15" y2="395.68" stroke="#111" stroke-width="0.6"/>
<line x1="46.15" y1="396.68" x2="48.15" y2="396.68" stroke="#111" stroke-width="0.6"/>
<rect x="51.40" y="396.78" width="5.70" height="14.52" fill="#a50a33"/>
<line x1="54.25" y1="396.48" x2="54.25" y2="397.08" stroke="#111" stroke-width="0.6"/>
<line x1="53.25" y1="396.48" x2="55.25" y2="396.48" stroke="#111" stroke-width="0.6"/>
<line x1="53.25" y1="397.08" x2="55.25" y2="397.08" stroke="#111" stroke-width="0.6"/>
<rect x="59.70" y="382.26" width="5.50" height="29.04" fill="#d87a8e"/>
<line x1="62.45" y1="380.46" x2="62.45" y2="384.06" stroke="#111" stroke-width="0.6"/>
<line x1="61.45" y1="380.46" x2="63.45" y2="380.46" stroke="#111" stroke-width="0.6"/>
<line x1="61.45" y1="384.06" x2="63.45" y2="384.06" stroke="#111" stroke-width="0.6"/>
<rect x="66.60" y="375.00" width="5.70" height="36.30" fill="#a50a33"/>
<line x1="69.45" y1="373.00" x2="69.45" y2="377.00" stroke="#111" stroke-width="0.6"/>
<line x1="68.45" y1="373.00" x2="70.45" y2="373.00" stroke="#111" stroke-width="0.6"/>
<line x1="68.45" y1="377.00" x2="70.45" y2="377.00" stroke="#111" stroke-width="0.6"/>
<rect x="75.30" y="384.68" width="5.70" height="26.62" fill="#d87a8e"/>
<line x1="78.15" y1="383.68" x2="78.15" y2="385.68" stroke="#111" stroke-width="0.6"/>
<line x1="77.15" y1="383.68" x2="79.15" y2="383.68" stroke="#111" stroke-width="0.6"/>
<line x1="77.15" y1="385.68" x2="79.15" y2="385.68" stroke="#111" stroke-width="0.6"/>
<rect x="82.20" y="376.81" width="5.70" height="34.49" fill="#a50a33"/>
<line x1="85.05" y1="376.21" x2="85.05" y2="377.42" stroke="#111" stroke-width="0.6"/>
<line x1="84.05" y1="376.21" x2="86.05" y2="376.21" stroke="#111" stroke-width="0.6"/>
<line x1="84.05" y1="377.42" x2="86.05" y2="377.42" stroke="#111" stroke-width="0.6"/>
<text x="50.20" y="418.80" font-size="4.6" text-anchor="middle" stroke="#111" stroke-width="0.13">unstim.</text>
<text x="65.50" y="418.80" font-size="5.0" text-anchor="middle" stroke="#111" stroke-width="0.13">2 h</text>
<text x="81.10" y="418.80" font-size="5.0" text-anchor="middle" stroke="#111" stroke-width="0.13">6 h</text>
<line x1="59.40" y1="422.00" x2="88.40" y2="422.00" stroke="#111" stroke-width="1.1"/>
<text x="73.90" y="428.80" font-size="4.9" text-anchor="middle" stroke="#111" stroke-width="0.13" textLength="34" lengthAdjust="spacingAndGlyphs">anti-CD3/CD28</text>
<text x="25.40" y="385.80" font-size="5.5" text-anchor="middle" stroke="#111" stroke-width="0.13" transform="rotate(-90 25.4 385.8)">CD38<tspan font-size="2.8" dy="-2.2">+</tspan><tspan dy="2.2"> cells [%]</tspan></text>
<line x1="80.00" y1="373.19" x2="88.90" y2="373.19" stroke="#111" stroke-width="0.9"/>
<text x="84.45" y="371.58" font-size="3.0" text-anchor="middle" stroke="#111" stroke-width="0.13">P=0.0025</text>
<text x="44.40" y="370.80" font-size="3.0" stroke="#111" stroke-width="0.13">n=3</text>
<line x1="122.00" y1="360.30" x2="122.00" y2="411.30" stroke="#111" stroke-width="0.9"/>
<line x1="122.00" y1="411.30" x2="168.50" y2="411.30" stroke="#111" stroke-width="0.9"/>
<line x1="118.70" y1="411.30" x2="122.00" y2="411.30" stroke="#111" stroke-width="0.8"/>
<text x="116.40" y="413.00" font-size="4.8" text-anchor="end" stroke="#111" stroke-width="0.13">0</text>
<line x1="118.70" y1="401.62" x2="122.00" y2="401.62" stroke="#111" stroke-width="0.8"/>
<text x="116.40" y="403.32" font-size="4.8" text-anchor="end" stroke="#111" stroke-width="0.13">20</text>
<line x1="118.70" y1="391.94" x2="122.00" y2="391.94" stroke="#111" stroke-width="0.8"/>
<text x="116.40" y="393.64" font-size="4.8" text-anchor="end" stroke="#111" stroke-width="0.13">40</text>
<line x1="118.70" y1="382.26" x2="122.00" y2="382.26" stroke="#111" stroke-width="0.8"/>
<text x="116.40" y="383.96" font-size="4.8" text-anchor="end" stroke="#111" stroke-width="0.13">60</text>
<line x1="118.70" y1="372.58" x2="122.00" y2="372.58" stroke="#111" stroke-width="0.8"/>
<text x="116.40" y="374.28" font-size="4.8" text-anchor="end" stroke="#111" stroke-width="0.13">80</text>
<line x1="118.70" y1="362.90" x2="122.00" y2="362.90" stroke="#111" stroke-width="0.8"/>
<text x="116.40" y="364.60" font-size="4.8" text-anchor="end" stroke="#111" stroke-width="0.13">100</text>
<rect x="123.70" y="403.56" width="6.10" height="7.74" fill="#d87a8e"/>
<line x1="126.75" y1="402.76" x2="126.75" y2="404.36" stroke="#111" stroke-width="0.6"/>
<line x1="125.75" y1="402.76" x2="127.75" y2="402.76" stroke="#111" stroke-width="0.6"/>
<line x1="125.75" y1="404.36" x2="127.75" y2="404.36" stroke="#111" stroke-width="0.6"/>
<rect x="131.00" y="401.62" width="5.70" height="9.68" fill="#a50a33"/>
<line x1="133.85" y1="400.42" x2="133.85" y2="402.82" stroke="#111" stroke-width="0.6"/>
<line x1="132.85" y1="400.42" x2="134.85" y2="400.42" stroke="#111" stroke-width="0.6"/>
<line x1="132.85" y1="402.82" x2="134.85" y2="402.82" stroke="#111" stroke-width="0.6"/>
<rect x="139.30" y="381.78" width="5.50" height="29.52" fill="#d87a8e"/>
<line x1="142.05" y1="379.28" x2="142.05" y2="384.28" stroke="#111" stroke-width="0.6"/>
<line x1="141.05" y1="379.28" x2="143.05" y2="379.28" stroke="#111" stroke-width="0.6"/>
<line x1="141.05" y1="384.28" x2="143.05" y2="384.28" stroke="#111" stroke-width="0.6"/>
<rect x="146.20" y="377.42" width="5.70" height="33.88" fill="#a50a33"/>
<line x1="149.05" y1="374.92" x2="149.05" y2="379.92" stroke="#111" stroke-width="0.6"/>
<line x1="148.05" y1="374.92" x2="150.05" y2="374.92" stroke="#111" stroke-width="0.6"/>
<line x1="148.05" y1="379.92" x2="150.05" y2="379.92" stroke="#111" stroke-width="0.6"/>
<rect x="154.90" y="380.81" width="5.70" height="30.49" fill="#d87a8e"/>
<line x1="157.75" y1="379.31" x2="157.75" y2="382.31" stroke="#111" stroke-width="0.6"/>
<line x1="156.75" y1="379.31" x2="158.75" y2="379.31" stroke="#111" stroke-width="0.6"/>
<line x1="156.75" y1="382.31" x2="158.75" y2="382.31" stroke="#111" stroke-width="0.6"/>
<rect x="161.80" y="373.06" width="5.70" height="38.24" fill="#a50a33"/>
<line x1="164.65" y1="372.26" x2="164.65" y2="373.86" stroke="#111" stroke-width="0.6"/>
<line x1="163.65" y1="372.26" x2="165.65" y2="372.26" stroke="#111" stroke-width="0.6"/>
<line x1="163.65" y1="373.86" x2="165.65" y2="373.86" stroke="#111" stroke-width="0.6"/>
<text x="129.80" y="418.80" font-size="4.6" text-anchor="middle" stroke="#111" stroke-width="0.13">unstim.</text>
<text x="145.10" y="418.80" font-size="5.0" text-anchor="middle" stroke="#111" stroke-width="0.13">2 h</text>
<text x="160.70" y="418.80" font-size="5.0" text-anchor="middle" stroke="#111" stroke-width="0.13">6 h</text>
<line x1="139.00" y1="422.00" x2="168.00" y2="422.00" stroke="#111" stroke-width="1.1"/>
<text x="153.50" y="428.80" font-size="4.9" text-anchor="middle" stroke="#111" stroke-width="0.13" textLength="34" lengthAdjust="spacingAndGlyphs">anti-CD3/CD28</text>
<text x="105.00" y="385.80" font-size="5.5" text-anchor="middle" stroke="#111" stroke-width="0.13" transform="rotate(-90 105.0 385.8)">CD69<tspan font-size="2.8" dy="-2.2">+</tspan><tspan dy="2.2"> cells [%]</tspan></text>
<line x1="125.50" y1="399.20" x2="135.00" y2="399.20" stroke="#111" stroke-width="0.9"/>
<text x="130.25" y="397.60" font-size="3.0" text-anchor="middle" stroke="#111" stroke-width="0.13">P=0.06</text>
<line x1="160.00" y1="370.64" x2="169.00" y2="370.64" stroke="#111" stroke-width="0.9"/>
<text x="164.50" y="369.04" font-size="3.0" text-anchor="middle" stroke="#111" stroke-width="0.13">P=0.0014</text>
<text x="181.00" y="242.30" font-size="12.0" font-weight="bold" fill="#000" stroke="#000" stroke-width="0.45">D</text>
<rect x="210.6" y="248.9" width="283.6" height="160.3" fill="#fff" stroke="#111" stroke-width="1.0"/>
<clipPath id="mainclip"><rect x="211" y="249.3" width="282.8" height="159.5"/></clipPath>
<g clip-path="url(#mainclip)">
<polyline points="221.2,370.3 222.8,370.3 224.5,370.3 226.1,370.2 227.7,370.2 229.4,370.2 231.0,370.2 232.6,370.2 234.3,370.2 235.9,370.1 237.6,370.1 239.2,370.1 240.8,370.1 242.5,370.1 244.1,370.0 245.7,370.0 247.4,370.0 249.0,370.0 250.6,369.9 252.3,369.9 253.9,369.9 255.5,369.9 257.2,369.8 258.8,369.8 260.5,369.8 262.1,369.7 263.7,369.7 265.4,369.7 267.0,369.6 268.6,369.6 270.3,369.5 271.9,369.5 273.5,369.5 275.2,369.4 276.8,369.4 278.5,369.3 280.1,369.3 281.7,369.2 283.4,369.1 285.0,369.1 286.6,369.0 288.3,369.0 289.9,368.9 291.5,368.8 293.2,368.8 294.8,368.7 296.4,368.6 298.1,368.5 299.7,368.4 301.4,368.4 303.0,368.3 304.6,368.2 306.3,368.1 307.9,368.0 309.5,367.9 311.2,367.8 312.8,367.7 314.4,367.6 316.1,367.4 317.7,367.3 319.4,367.2 321.0,367.1 322.6,366.9 324.3,366.8 325.9,366.7 327.5,366.5 329.2,366.4 330.8,366.2 332.4,366.1 334.1,365.9 335.7,365.7 337.3,365.6 339.0,365.4 340.6,365.2 342.3,365.1 343.9,364.9 345.5,364.7 347.2,364.5 348.8,364.3 350.4,364.2 352.1,364.0 353.7,363.8 355.3,363.6 357.0,363.5 358.6,363.3 360.2,363.1 361.9,362.9 363.5,362.8 365.2,362.6 366.8,362.4 368.4,362.2 370.1,362.0 371.7,361.8 373.3,361.6 375.0,361.3 376.6,361.0 378.2,360.7 379.9,360.3 381.5,359.9 383.2,359.5 384.8,359.0 386.4,358.5 388.1,357.9 389.7,357.3 391.3,356.7 393.0,356.0 394.6,355.2 396.2,354.5 397.9,353.6 399.5,352.8 401.1,351.9 402.8,351.0 404.4,350.1 406.1,349.1 407.7,348.1 409.3,347.1 411.0,346.0 412.6,344.9 414.2,343.6 415.9,342.4 417.5,341.0 419.1,339.7 420.8,338.2 422.4,336.7 424.1,335.2 425.7,333.6 427.3,332.0 429.0,330.3 430.6,328.6 432.2,326.9 433.9,325.2 435.5,323.4 437.1,321.5 438.8,319.5 440.4,317.5 442.0,315.4 443.7,313.4 445.3,311.4 447.0,309.6 448.6,308.0 450.2,306.5 451.9,305.2 453.5,303.8 455.1,302.6 456.8,301.4 458.4,300.3 460.0,299.4 461.7,298.5 463.3,297.7 464.9,296.9 466.6,296.1 468.2,295.6 469.9,295.3 471.5,295.1 473.1,294.9 474.8,294.7 476.4,294.5 478.0,294.4 479.7,294.2 481.3,294.1 482.9,294.0" fill="none" stroke="#2a4f93" stroke-width="1.15"/>
<polyline points="221.2,372.1 222.8,372.1 224.5,372.1 226.1,372.1 227.7,372.1 229.4,372.1 231.0,372.1 232.6,372.0 234.3,372.0 235.9,372.0 237.6,372.0 239.2,372.0 240.8,371.9 242.5,371.9 244.1,371.9 245.7,371.9 247.4,371.9 249.0,371.8 250.6,371.8 252.3,371.8 253.9,371.7 255.5,371.7 257.2,371.7 258.8,371.7 260.5,371.6 262.1,371.6 263.7,371.5 265.4,371.5 267.0,371.5 268.6,371.4 270.3,371.4 271.9,371.3 273.5,371.3 275.2,371.2 276.8,371.2 278.5,371.1 280.1,371.1 281.7,371.0 283.4,371.0 285.0,370.9 286.6,370.9 288.3,370.8 289.9,370.7 291.5,370.6 293.2,370.6 294.8,370.5 296.4,370.4 298.1,370.3 299.7,370.3 301.4,370.2 303.0,370.1 304.6,370.0 306.3,369.9 307.9,369.8 309.5,369.7 311.2,369.6 312.8,369.4 314.4,369.3 316.1,369.2 317.7,369.1 319.4,368.9 321.0,368.8 322.6,368.7 324.3,368.5 325.9,368.4 327.5,368.2 329.2,368.0 330.8,367.9 332.4,367.7 334.1,367.5 335.7,367.3 337.3,367.1 339.0,367.0 340.6,366.8 342.3,366.6 343.9,366.3 345.5,366.1 347.2,365.9 348.8,365.7 350.4,365.5 352.1,365.2 353.7,365.0 355.3,364.8 357.0,364.5 358.6,364.3 360.2,364.1 361.9,363.8 363.5,363.6 365.2,363.3 366.8,363.1 368.4,362.8 370.1,362.5 371.7,362.2 373.3,361.9 375.0,361.5 376.6,361.1 378.2,360.6 379.9,360.1 381.5,359.6 383.2,359.0 384.8,358.3 386.4,357.6 388.1,356.8 389.7,356.0 391.3,355.1 393.0,354.2 394.6,353.2 396.2,352.1 397.9,351.0 399.5,349.9 401.1,348.8 402.8,347.6 404.4,346.4 406.1,345.3 407.7,344.1 409.3,342.8 411.0,341.5 412.6,340.1 414.2,338.7 415.9,337.2 417.5,335.7 419.1,334.2 420.8,332.5 422.4,330.9 424.1,329.2 425.7,327.4 427.3,325.7 429.0,323.9 430.6,322.1 432.2,320.4 433.9,318.6 435.5,316.8 437.1,314.9 438.8,312.9 440.4,311.0 442.0,309.0 443.7,307.1 445.3,305.3 447.0,303.6 448.6,302.3 450.2,301.1 451.9,300.0 453.5,299.0 455.1,298.1 456.8,297.2 458.4,296.5 460.0,295.9 461.7,295.4 463.3,295.0 464.9,294.7 466.6,294.4 468.2,294.1 469.9,294.0 471.5,293.9 473.1,293.9 474.8,293.8 476.4,293.7 478.0,293.7 479.7,293.6 481.3,293.6 482.9,293.5" fill="none" stroke="#2a4f93" stroke-width="1.1" stroke-dasharray="3 1.6"/>
<polyline points="221.2,373.6 222.8,373.6 224.5,373.6 226.1,373.6 227.7,373.6 229.4,373.6 231.0,373.5 232.6,373.5 234.3,373.5 235.9,373.5 237.6,373.5 239.2,373.4 240.8,373.4 242.5,373.4 244.1,373.4 245.7,373.3 247.4,373.3 249.0,373.3 250.6,373.3 252.3,373.2 253.9,373.2 255.5,373.2 257.2,373.1 258.8,373.1 260.5,373.1 262.1,373.0 263.7,373.0 265.4,373.0 267.0,372.9 268.6,372.9 270.3,372.8 271.9,372.8 273.5,372.7 275.2,372.7 276.8,372.6 278.5,372.6 280.1,372.5 281.7,372.5 283.4,372.4 285.0,372.3 286.6,372.3 288.3,372.2 289.9,372.1 291.5,372.1 293.2,372.0 294.8,371.9 296.4,371.8 298.1,371.7 299.7,371.6 301.4,371.5 303.0,371.4 304.6,371.3 306.3,371.2 307.9,371.1 309.5,371.0 311.2,370.9 312.8,370.8 314.4,370.6 316.1,370.5 317.7,370.4 319.4,370.2 321.0,370.1 322.6,369.9 324.3,369.8 325.9,369.6 327.5,369.4 329.2,369.3 330.8,369.1 332.4,368.9 334.1,368.7 335.7,368.5 337.3,368.3 339.0,368.1 340.6,367.8 342.3,367.6 343.9,367.4 345.5,367.1 347.2,366.9 348.8,366.6 350.4,366.4 352.1,366.1 353.7,365.8 355.3,365.6 357.0,365.3 358.6,365.0 360.2,364.8 361.9,364.5 363.5,364.2 365.2,363.9 366.8,363.6 368.4,363.2 370.1,362.9 371.7,362.5 373.3,362.1 375.0,361.6 376.6,361.2 378.2,360.6 379.9,360.0 381.5,359.3 383.2,358.6 384.8,357.8 386.4,356.9 388.1,356.0 389.7,355.0 391.3,353.9 393.0,352.8 394.6,351.6 396.2,350.4 397.9,349.1 399.5,347.8 401.1,346.4 402.8,345.0 404.4,343.7 406.1,342.4 407.7,341.0 409.3,339.6 411.0,338.1 412.6,336.6 414.2,335.1 415.9,333.4 417.5,331.8 419.1,330.0 420.8,328.3 422.4,326.5 424.1,324.7 425.7,322.8 427.3,321.0 429.0,319.2 430.6,317.4 432.2,315.7 433.9,314.0 435.5,312.3 437.1,310.5 438.8,308.7 440.4,306.9 442.0,305.2 443.7,303.5 445.3,301.9 447.0,300.5 448.6,299.4 450.2,298.5 451.9,297.6 453.5,296.8 455.1,296.1 456.8,295.4 458.4,294.9 460.0,294.5 461.7,294.2 463.3,294.0 464.9,293.8 466.6,293.7 468.2,293.5 469.9,293.5 471.5,293.4 473.1,293.4 474.8,293.3 476.4,293.3 478.0,293.2 479.7,293.2 481.3,293.2 482.9,293.1" fill="none" stroke="#2a4f93" stroke-width="1.1" stroke-dasharray="0.9 1.5"/>
<polyline points="221.2,371.0 222.8,371.0 224.5,371.0 226.1,371.0 227.7,371.0 229.4,370.9 231.0,370.9 232.6,370.9 234.3,370.9 235.9,370.9 237.6,370.9 239.2,370.8 240.8,370.8 242.5,370.8 244.1,370.8 245.7,370.7 247.4,370.7 249.0,370.7 250.6,370.7 252.3,370.6 253.9,370.6 255.5,370.6 257.2,370.5 258.8,370.5 260.5,370.5 262.1,370.4 263.7,370.4 265.4,370.4 267.0,370.3 268.6,370.3 270.3,370.2 271.9,370.2 273.5,370.2 275.2,370.1 276.8,370.1 278.5,370.0 280.1,369.9 281.7,369.9 283.4,369.8 285.0,369.8 286.6,369.7 288.3,369.6 289.9,369.6 291.5,369.5 293.2,369.4 294.8,369.3 296.4,369.3 298.1,369.2 299.7,369.1 301.4,369.0 303.0,368.9 304.6,368.8 306.3,368.7 307.9,368.6 309.5,368.5 311.2,368.4 312.8,368.3 314.4,368.2 316.1,368.0 317.7,367.9 319.4,367.8 321.0,367.6 322.6,367.5 324.3,367.4 325.9,367.2 327.5,367.1 329.2,366.9 330.8,366.7 332.4,366.6 334.1,366.4 335.7,366.2 337.3,366.1 339.0,365.9 340.6,365.7 342.3,365.5 343.9,365.3 345.5,365.1 347.2,364.9 348.8,364.7 350.4,364.5 352.1,364.3 353.7,364.1 355.3,364.0 357.0,363.8 358.6,363.6 360.2,363.4 361.9,363.2 363.5,363.0 365.2,362.9 366.8,362.7 368.4,362.5 370.1,362.2 371.7,362.0 373.3,361.7 375.0,361.4 376.6,361.1 378.2,360.7 379.9,360.2 381.5,359.7 383.2,359.0 384.8,358.3 386.4,357.6 388.1,356.7 389.7,355.8 391.3,354.8 393.0,353.7 394.6,352.5 396.2,351.3 397.9,350.0 399.5,348.7 401.1,347.3 402.8,346.0 404.4,344.6 406.1,343.3 407.7,342.0 409.3,340.6 411.0,339.2 412.6,337.7 414.2,336.1 415.9,334.5 417.5,332.9 419.1,331.2 420.8,329.4 422.4,327.6 424.1,325.8 425.7,323.8 427.3,321.9 429.0,319.9 430.6,317.9 432.2,315.8 433.9,313.7 435.5,311.5 437.1,309.2 438.8,306.7 440.4,304.3 442.0,301.8 443.7,299.3 445.3,297.0 447.0,294.9 448.6,293.0 450.2,291.5 451.9,290.1 453.5,288.7 455.1,287.5 456.8,286.3 458.4,285.3 460.0,284.4 461.7,283.6 463.3,282.8 464.9,282.0 466.6,281.4 468.2,280.9 469.9,280.7 471.5,280.6 473.1,280.5 474.8,280.4 476.4,280.3 478.0,280.2 479.7,280.2 481.3,280.1 482.9,280.1" fill="none" stroke="#66b136" stroke-width="1.15"/>
<polyline points="221.2,372.7 222.8,372.7 224.5,372.7 226.1,372.7 227.7,372.6 229.4,372.6 231.0,372.6 232.6,372.6 234.3,372.6 235.9,372.5 237.6,372.5 239.2,372.5 240.8,372.5 242.5,372.5 244.1,372.4 245.7,372.4 247.4,372.4 249.0,372.4 250.6,372.3 252.3,372.3 253.9,372.3 255.5,372.2 257.2,372.2 258.8,372.2 260.5,372.1 262.1,372.1 263.7,372.1 265.4,372.0 267.0,372.0 268.6,371.9 270.3,371.9 271.9,371.8 273.5,371.8 275.2,371.8 276.8,371.7 278.5,371.6 280.1,371.6 281.7,371.5 283.4,371.5 285.0,371.4 286.6,371.3 288.3,371.3 289.9,371.2 291.5,371.1 293.2,371.0 294.8,371.0 296.4,370.9 298.1,370.8 299.7,370.7 301.4,370.6 303.0,370.5 304.6,370.4 306.3,370.3 307.9,370.2 309.5,370.1 311.2,370.0 312.8,369.8 314.4,369.7 316.1,369.6 317.7,369.4 319.4,369.3 321.0,369.1 322.6,369.0 324.3,368.8 325.9,368.7 327.5,368.5 329.2,368.3 330.8,368.1 332.4,368.0 334.1,367.8 335.7,367.6 337.3,367.3 339.0,367.1 340.6,366.9 342.3,366.7 343.9,366.4 345.5,366.2 347.2,366.0 348.8,365.7 350.4,365.4 352.1,365.2 353.7,364.9 355.3,364.7 357.0,364.4 358.6,364.1 360.2,363.8 361.9,363.6 363.5,363.3 365.2,363.0 366.8,362.7 368.4,362.3 370.1,362.0 371.7,361.6 373.3,361.2 375.0,360.7 376.6,360.2 378.2,359.7 379.9,359.0 381.5,358.2 383.2,357.4 384.8,356.4 386.4,355.4 388.1,354.3 389.7,353.1 391.3,351.7 393.0,350.3 394.6,348.8 396.2,347.3 397.9,345.7 399.5,344.0 401.1,342.4 402.8,340.7 404.4,339.1 406.1,337.6 407.7,336.1 409.3,334.5 411.0,332.8 412.6,331.1 414.2,329.4 415.9,327.6 417.5,325.8 419.1,324.0 420.8,322.1 422.4,320.2 424.1,318.2 425.7,316.3 427.3,314.3 429.0,312.3 430.6,310.3 432.2,308.3 433.9,306.3 435.5,304.3 437.1,302.1 438.8,300.0 440.4,297.8 442.0,295.6 443.7,293.5 445.3,291.5 447.0,289.7 448.6,288.2 450.2,287.0 451.9,285.9 453.5,284.8 455.1,283.8 456.8,282.8 458.4,282.1 460.0,281.5 461.7,281.0 463.3,280.6 464.9,280.2 466.6,279.9 468.2,279.7 469.9,279.6 471.5,279.6 473.1,279.5 474.8,279.5 476.4,279.4 478.0,279.4 479.7,279.3 481.3,279.3 482.9,279.3" fill="none" stroke="#66b136" stroke-width="1.1" stroke-dasharray="3 1.6"/>
<path d="M222.2 378.8a1.0 1.0 0 1 0-2.0 0a1.0 1.0 0 1 0 2.0 0M228.2 378.8a1.0 1.0 0 1 0-2.0 0a1.0 1.0 0 1 0 2.0 0M234.2 378.7a1.0 1.0 0 1 0-2.0 0a1.0 1.0 0 1 0 2.0 0M240.2 378.5a1.0 1.0 0 1 0-2.0 0a1.0 1.0 0 1 0 2.0 0M246.2 378.4a1.0 1.0 0 1 0-2.0 0a1.0 1.0 0 1 0 2.0 0M252.2 378.3a1.0 1.0 0 1 0-2.0 0a1.0 1.0 0 1 0 2.0 0M258.2 378.1a1.0 1.0 0 1 0-2.0 0a1.0 1.0 0 1 0 2.0 0M264.2 377.8a1.0 1.0 0 1 0-2.0 0a1.0 1.0 0 1 0 2.0 0M270.2 377.6a1.0 1.0 0 1 0-2.0 0a1.0 1.0 0 1 0 2.0 0M276.2 377.3a1.0 1.0 0 1 0-2.0 0a1.0 1.0 0 1 0 2.0 0M282.1 376.9a1.0 1.0 0 1 0-2.0 0a1.0 1.0 0 1 0 2.0 0M288.1 376.6a1.0 1.0 0 1 0-2.0 0a1.0 1.0 0 1 0 2.0 0M294.1 376.2a1.0 1.0 0 1 0-2.0 0a1.0 1.0 0 1 0 2.0 0M300.1 375.6a1.0 1.0 0 1 0-2.0 0a1.0 1.0 0 1 0 2.0 0M306.1 375.0a1.0 1.0 0 1 0-2.0 0a1.0 1.0 0 1 0 2.0 0M312.0 374.4a1.0 1.0 0 1 0-2.0 0a1.0 1.0 0 1 0 2.0 0M318.0 373.7a1.0 1.0 0 1 0-2.0 0a1.0 1.0 0 1 0 2.0 0M323.9 372.8a1.0 1.0 0 1 0-2.0 0a1.0 1.0 0 1 0 2.0 0M329.8 371.9a1.0 1.0 0 1 0-2.0 0a1.0 1.0 0 1 0 2.0 0M335.7 370.8a1.0 1.0 0 1 0-2.0 0a1.0 1.0 0 1 0 2.0 0M341.6 369.5a1.0 1.0 0 1 0-2.0 0a1.0 1.0 0 1 0 2.0 0M347.5 368.2a1.0 1.0 0 1 0-2.0 0a1.0 1.0 0 1 0 2.0 0M353.3 366.8a1.0 1.0 0 1 0-2.0 0a1.0 1.0 0 1 0 2.0 0M359.1 365.3a1.0 1.0 0 1 0-2.0 0a1.0 1.0 0 1 0 2.0 0M364.9 363.8a1.0 1.0 0 1 0-2.0 0a1.0 1.0 0 1 0 2.0 0M370.7 362.1a1.0 1.0 0 1 0-2.0 0a1.0 1.0 0 1 0 2.0 0M376.3 360.1a1.0 1.0 0 1 0-2.0 0a1.0 1.0 0 1 0 2.0 0M381.6 357.3a1.0 1.0 0 1 0-2.0 0a1.0 1.0 0 1 0 2.0 0M386.5 353.8a1.0 1.0 0 1 0-2.0 0a1.0 1.0 0 1 0 2.0 0M391.0 349.8a1.0 1.0 0 1 0-2.0 0a1.0 1.0 0 1 0 2.0 0M395.1 345.5a1.0 1.0 0 1 0-2.0 0a1.0 1.0 0 1 0 2.0 0M399.1 341.0a1.0 1.0 0 1 0-2.0 0a1.0 1.0 0 1 0 2.0 0M403.0 336.4a1.0 1.0 0 1 0-2.0 0a1.0 1.0 0 1 0 2.0 0M407.0 332.0a1.0 1.0 0 1 0-2.0 0a1.0 1.0 0 1 0 2.0 0M411.0 327.5a1.0 1.0 0 1 0-2.0 0a1.0 1.0 0 1 0 2.0 0M414.8 322.9a1.0 1.0 0 1 0-2.0 0a1.0 1.0 0 1 0 2.0 0M418.6 318.2a1.0 1.0 0 1 0-2.0 0a1.0 1.0 0 1 0 2.0 0M422.3 313.5a1.0 1.0 0 1 0-2.0 0a1.0 1.0 0 1 0 2.0 0M426.0 308.8a1.0 1.0 0 1 0-2.0 0a1.0 1.0 0 1 0 2.0 0M429.7 304.1a1.0 1.0 0 1 0-2.0 0a1.0 1.0 0 1 0 2.0 0M433.5 299.5a1.0 1.0 0 1 0-2.0 0a1.0 1.0 0 1 0 2.0 0M437.6 295.0a1.0 1.0 0 1 0-2.0 0a1.0 1.0 0 1 0 2.0 0M441.6 290.5a1.0 1.0 0 1 0-2.0 0a1.0 1.0 0 1 0 2.0 0M445.8 286.3a1.0 1.0 0 1 0-2.0 0a1.0 1.0 0 1 0 2.0 0M450.7 282.9a1.0 1.0 0 1 0-2.0 0a1.0 1.0 0 1 0 2.0 0M456.2 280.6a1.0 1.0 0 1 0-2.0 0a1.0 1.0 0 1 0 2.0 0M462.0 279.2a1.0 1.0 0 1 0-2.0 0a1.0 1.0 0 1 0 2.0 0M468.0 278.6a1.0 1.0 0 1 0-2.0 0a1.0 1.0 0 1 0 2.0 0M474.0 278.5a1.0 1.0 0 1 0-2.0 0a1.0 1.0 0 1 0 2.0 0M480.0 278.5a1.0 1.0 0 1 0-2.0 0a1.0 1.0 0 1 0 2.0 0" fill="none" stroke="#66b136" stroke-width="0.75"/>
<polyline points="221.2,380.1 222.8,380.1 224.5,380.1 226.1,380.1 227.7,380.0 229.4,380.0 231.0,380.0 232.6,380.0 234.3,379.9 235.9,379.9 237.6,379.9 239.2,379.8 240.8,379.8 242.5,379.8 244.1,379.7 245.7,379.7 247.4,379.6 249.0,379.6 250.6,379.5 252.3,379.5 253.9,379.4 255.5,379.4 257.2,379.3 258.8,379.3 260.5,379.2 262.1,379.1 263.7,379.1 265.4,379.0 267.0,378.9 268.6,378.9 270.3,378.8 271.9,378.7 273.5,378.6 275.2,378.6 276.8,378.5 278.5,378.4 280.1,378.3 281.7,378.2 283.4,378.1 285.0,378.0 286.6,377.9 288.3,377.7 289.9,377.6 291.5,377.5 293.2,377.4 294.8,377.2 296.4,377.1 298.1,376.9 299.7,376.8 301.4,376.6 303.0,376.5 304.6,376.3 306.3,376.1 307.9,375.9 309.5,375.7 311.2,375.5 312.8,375.3 314.4,375.1 316.1,374.9 317.7,374.6 319.4,374.4 321.0,374.1 322.6,373.9 324.3,373.6 325.9,373.3 327.5,373.0 329.2,372.8 330.8,372.4 332.4,372.1 334.1,371.8 335.7,371.4 337.3,371.1 339.0,370.7 340.6,370.3 342.3,369.9 343.9,369.5 345.5,369.1 347.2,368.7 348.8,368.3 350.4,367.8 352.1,367.3 353.7,366.9 355.3,366.4 357.0,365.9 358.6,365.4 360.2,364.9 361.9,364.4 363.5,363.9 365.2,363.3 366.8,362.8 368.4,362.2 370.1,361.5 371.7,360.9 373.3,360.2 375.0,359.4 376.6,358.5 378.2,357.6 379.9,356.6 381.5,355.6 383.2,354.4 384.8,353.2 386.4,351.9 388.1,350.6 389.7,349.1 391.3,347.5 393.0,345.9 394.6,344.1 396.2,342.3 397.9,340.4 399.5,338.4 401.1,336.3 402.8,334.2 404.4,332.0 406.1,329.7 407.7,327.3 409.3,324.8 411.0,322.1 412.6,319.3 414.2,316.5 415.9,313.5 417.5,310.4 419.1,307.2 420.8,304.0 422.4,300.8 424.1,297.3 425.7,293.6 427.3,289.9 429.0,286.2 430.6,282.7 432.2,279.6 433.9,277.0 435.5,274.4 437.1,271.7 438.8,269.1 440.4,266.6 442.0,264.2 443.7,261.9 445.3,260.0 447.0,258.4 448.6,257.2 450.2,256.5 451.9,255.9 453.5,255.3 455.1,254.8 456.8,254.3 458.4,254.0 460.0,253.8 461.7,253.7 463.3,253.7 464.9,253.6 466.6,253.6 468.2,253.5 469.9,253.5 471.5,253.5 473.1,253.4 474.8,253.4 476.4,253.3 478.0,253.3 479.7,253.3 481.3,253.3 482.9,253.3" fill="none" stroke="#b0112f" stroke-width="1.15"/>
<polyline points="221.2,383.0 222.8,383.0 224.5,383.0 226.1,382.9 227.7,382.9 229.4,382.9 231.0,382.9 232.6,382.8 234.3,382.8 235.9,382.8 237.6,382.7 239.2,382.7 240.8,382.7 242.5,382.6 244.1,382.6 245.7,382.6 247.4,382.5 249.0,382.5 250.6,382.4 252.3,382.4 253.9,382.3 255.5,382.3 257.2,382.2 258.8,382.2 260.5,382.1 262.1,382.1 263.7,382.0 265.4,381.9 267.0,381.9 268.6,381.8 270.3,381.7 271.9,381.7 273.5,381.6 275.2,381.5 276.8,381.4 278.5,381.3 280.1,381.2 281.7,381.2 283.4,381.1 285.0,380.9 286.6,380.8 288.3,380.7 289.9,380.6 291.5,380.5 293.2,380.4 294.8,380.2 296.4,380.1 298.1,379.9 299.7,379.8 301.4,379.6 303.0,379.5 304.6,379.3 306.3,379.1 307.9,378.9 309.5,378.7 311.2,378.5 312.8,378.3 314.4,378.1 316.1,377.9 317.7,377.7 319.4,377.4 321.0,377.1 322.6,376.9 324.3,376.6 325.9,376.3 327.5,376.0 329.2,375.7 330.8,375.3 332.4,375.0 334.1,374.6 335.7,374.3 337.3,373.9 339.0,373.4 340.6,373.0 342.3,372.6 343.9,372.1 345.5,371.6 347.2,371.1 348.8,370.6 350.4,370.0 352.1,369.4 353.7,368.8 355.3,368.2 357.0,367.5 358.6,366.8 360.2,366.1 361.9,365.4 363.5,364.6 365.2,363.8 366.8,362.9 368.4,362.0 370.1,361.1 371.7,360.1 373.3,359.1 375.0,358.0 376.6,356.8 378.2,355.6 379.9,354.4 381.5,353.1 383.2,351.7 384.8,350.2 386.4,348.7 388.1,347.0 389.7,345.4 391.3,343.6 393.0,341.7 394.6,339.8 396.2,337.8 397.9,335.7 399.5,333.5 401.1,331.2 402.8,328.9 404.4,326.5 406.1,324.0 407.7,321.3 409.3,318.5 411.0,315.6 412.6,312.6 414.2,309.5 415.9,306.3 417.5,303.0 419.1,299.8 420.8,296.5 422.4,293.3 424.1,290.0 425.7,286.5 427.3,283.1 429.0,279.7 430.6,276.5 432.2,273.8 433.9,271.6 435.5,269.3 437.1,267.1 438.8,264.9 440.4,262.8 442.0,260.8 443.7,258.9 445.3,257.4 447.0,256.1 448.6,255.2 450.2,254.8 451.9,254.4 453.5,254.1 455.1,253.8 456.8,253.5 458.4,253.3 460.0,253.2 461.7,253.2 463.3,253.2 464.9,253.2 466.6,253.2 468.2,253.1 469.9,253.1 471.5,253.1 473.1,253.1 474.8,253.1 476.4,253.1 478.0,253.1 479.7,253.1 481.3,253.1 482.9,253.0" fill="none" stroke="#b0112f" stroke-width="1.1" stroke-dasharray="3 1.6"/>
<polyline points="221.2,391.7 222.8,391.7 224.5,391.7 226.1,391.7 227.7,391.6 229.4,391.6 231.0,391.6 232.6,391.5 234.3,391.5 235.9,391.5 237.6,391.4 239.2,391.4 240.8,391.4 242.5,391.3 244.1,391.3 245.7,391.2 247.4,391.2 249.0,391.1 250.6,391.1 252.3,391.0 253.9,391.0 255.5,390.9 257.2,390.9 258.8,390.8 260.5,390.7 262.1,390.7 263.7,390.6 265.4,390.5 267.0,390.5 268.6,390.4 270.3,390.3 271.9,390.2 273.5,390.1 275.2,390.0 276.8,389.9 278.5,389.8 280.1,389.7 281.7,389.6 283.4,389.5 285.0,389.4 286.6,389.3 288.3,389.1 289.9,389.0 291.5,388.8 293.2,388.7 294.8,388.5 296.4,388.4 298.1,388.2 299.7,388.0 301.4,387.8 303.0,387.6 304.6,387.4 306.3,387.2 307.9,387.0 309.5,386.8 311.2,386.5 312.8,386.3 314.4,386.0 316.1,385.7 317.7,385.4 319.4,385.1 321.0,384.8 322.6,384.5 324.3,384.1 325.9,383.7 327.5,383.4 329.2,382.9 330.8,382.5 332.4,382.1 334.1,381.6 335.7,381.1 337.3,380.6 339.0,380.1 340.6,379.5 342.3,378.9 343.9,378.3 345.5,377.7 347.2,377.0 348.8,376.3 350.4,375.5 352.1,374.8 353.7,373.9 355.3,373.0 357.0,372.0 358.6,371.0 360.2,369.9 361.9,368.8 363.5,367.6 365.2,366.3 366.8,365.0 368.4,363.6 370.1,362.2 371.7,360.7 373.3,359.2 375.0,357.7 376.6,356.1 378.2,354.5 379.9,352.9 381.5,351.2 383.2,349.5 384.8,347.7 386.4,345.8 388.1,343.9 389.7,341.9 391.3,339.8 393.0,337.7 394.6,335.5 396.2,333.2 397.9,330.9 399.5,328.5 401.1,326.1 402.8,323.5 404.4,320.9 406.1,318.3 407.7,315.5 409.3,312.6 411.0,309.6 412.6,306.6 414.2,303.5 415.9,300.3 417.5,297.1 419.1,294.0 420.8,290.9 422.4,287.8 424.1,284.7 425.7,281.5 427.3,278.3 429.0,275.2 430.6,272.4 432.2,270.0 433.9,268.0 435.5,266.1 437.1,264.2 438.8,262.3 440.4,260.5 442.0,258.8 443.7,257.2 445.3,255.9 447.0,254.9 448.6,254.3 450.2,254.0 451.9,253.8 453.5,253.5 455.1,253.4 456.8,253.2 458.4,253.1 460.0,253.0 461.7,253.0 463.3,253.0 464.9,253.0 466.6,253.0 468.2,253.0 469.9,252.9 471.5,252.9 473.1,252.9 474.8,252.9 476.4,252.9 478.0,252.9 479.7,252.9 481.3,252.9 482.9,252.9" fill="none" stroke="#b0112f" stroke-width="1.1" stroke-dasharray="0.9 1.5"/>
<circle cx="221.5" cy="368.6" r="1.35" fill="#2a4f93"/>
<circle cx="349.8" cy="363.1" r="1.35" fill="#2a4f93"/>
<circle cx="377.2" cy="364.8" r="1.35" fill="#2a4f93"/>
<circle cx="393.7" cy="355.8" r="1.35" fill="#2a4f93"/>
<circle cx="404.9" cy="353.3" r="1.35" fill="#2a4f93"/>
<circle cx="421.2" cy="341.5" r="1.35" fill="#2a4f93"/>
<circle cx="433.0" cy="321.6" r="1.35" fill="#2a4f93"/>
<circle cx="220.8" cy="363.9" r="1.35" fill="#2a4f93"/>
<circle cx="349.9" cy="357.8" r="1.35" fill="#2a4f93"/>
<circle cx="377.6" cy="361.7" r="1.35" fill="#2a4f93"/>
<circle cx="393.7" cy="353.4" r="1.35" fill="#2a4f93"/>
<circle cx="404.8" cy="345.5" r="1.35" fill="#2a4f93"/>
<circle cx="421.0" cy="331.1" r="1.35" fill="#2a4f93"/>
<circle cx="432.9" cy="317.6" r="1.35" fill="#2a4f93"/>
<circle cx="221.2" cy="373.7" r="1.35" fill="#2a4f93"/>
<circle cx="349.9" cy="364.4" r="1.35" fill="#2a4f93"/>
<circle cx="377.5" cy="365.3" r="1.35" fill="#2a4f93"/>
<circle cx="393.5" cy="352.3" r="1.35" fill="#2a4f93"/>
<circle cx="405.5" cy="333.2" r="1.35" fill="#2a4f93"/>
<circle cx="421.6" cy="327.7" r="1.35" fill="#2a4f93"/>
<circle cx="432.7" cy="315.9" r="1.35" fill="#2a4f93"/>
<circle cx="220.9" cy="363.7" r="1.35" fill="#66b136"/>
<circle cx="350.1" cy="364.3" r="1.35" fill="#66b136"/>
<circle cx="377.4" cy="363.9" r="1.35" fill="#66b136"/>
<circle cx="393.3" cy="347.6" r="1.35" fill="#66b136"/>
<circle cx="405.0" cy="345.5" r="1.35" fill="#66b136"/>
<circle cx="421.8" cy="325.9" r="1.35" fill="#66b136"/>
<circle cx="432.8" cy="316.8" r="1.35" fill="#66b136"/>
<circle cx="221.4" cy="363.6" r="1.35" fill="#66b136"/>
<circle cx="349.6" cy="363.7" r="1.35" fill="#66b136"/>
<circle cx="377.9" cy="357.6" r="1.35" fill="#66b136"/>
<circle cx="393.9" cy="348.3" r="1.35" fill="#66b136"/>
<circle cx="404.9" cy="336.7" r="1.35" fill="#66b136"/>
<circle cx="421.0" cy="319.9" r="1.35" fill="#66b136"/>
<circle cx="432.9" cy="307.0" r="1.35" fill="#66b136"/>
<circle cx="221.2" cy="375.6" r="1.35" fill="#66b136"/>
<circle cx="349.5" cy="365.6" r="1.35" fill="#66b136"/>
<circle cx="377.6" cy="354.5" r="1.35" fill="#66b136"/>
<circle cx="393.5" cy="343.7" r="1.35" fill="#66b136"/>
<circle cx="405.0" cy="330.7" r="1.35" fill="#66b136"/>
<circle cx="421.2" cy="308.1" r="1.35" fill="#66b136"/>
<circle cx="433.2" cy="300.1" r="1.35" fill="#66b136"/>
<circle cx="221.5" cy="374.4" r="1.35" fill="#b0112f"/>
<circle cx="349.9" cy="365.1" r="1.35" fill="#b0112f"/>
<circle cx="377.3" cy="350.8" r="1.35" fill="#b0112f"/>
<circle cx="393.5" cy="339.8" r="1.35" fill="#b0112f"/>
<circle cx="405.0" cy="330.5" r="1.35" fill="#b0112f"/>
<circle cx="421.1" cy="305.5" r="1.35" fill="#b0112f"/>
<circle cx="432.7" cy="275.2" r="1.35" fill="#b0112f"/>
<circle cx="221.3" cy="375.8" r="1.35" fill="#b0112f"/>
<circle cx="350.2" cy="372.5" r="1.35" fill="#b0112f"/>
<circle cx="377.5" cy="353.8" r="1.35" fill="#b0112f"/>
<circle cx="393.4" cy="346.2" r="1.35" fill="#b0112f"/>
<circle cx="404.9" cy="328.0" r="1.35" fill="#b0112f"/>
<circle cx="421.2" cy="290.7" r="1.35" fill="#b0112f"/>
<circle cx="432.6" cy="275.9" r="1.35" fill="#b0112f"/>
<circle cx="221.0" cy="387.2" r="1.35" fill="#b0112f"/>
<circle cx="350.2" cy="382.9" r="1.35" fill="#b0112f"/>
<circle cx="377.4" cy="352.2" r="1.35" fill="#b0112f"/>
<circle cx="393.4" cy="339.5" r="1.35" fill="#b0112f"/>
<circle cx="405.0" cy="312.2" r="1.35" fill="#b0112f"/>
<circle cx="421.6" cy="287.9" r="1.35" fill="#b0112f"/>
<circle cx="433.0" cy="269.4" r="1.35" fill="#b0112f"/>
</g>
<line x1="207.40" y1="385.20" x2="210.60" y2="385.20" stroke="#111" stroke-width="0.8"/>
<text x="203.80" y="385.20" font-size="3.8" text-anchor="middle" stroke="#111" stroke-width="0.13" transform="rotate(-90 203.8 385.2)">0</text>
<line x1="207.40" y1="347.76" x2="210.60" y2="347.76" stroke="#111" stroke-width="0.8"/>
<text x="203.80" y="347.76" font-size="3.8" text-anchor="middle" stroke="#111" stroke-width="0.13" transform="rotate(-90 203.8 347.76)">2</text>
<line x1="207.40" y1="310.32" x2="210.60" y2="310.32" stroke="#111" stroke-width="0.8"/>
<text x="203.80" y="310.32" font-size="3.8" text-anchor="middle" stroke="#111" stroke-width="0.13" transform="rotate(-90 203.8 310.32)">4</text>
<line x1="207.40" y1="272.88" x2="210.60" y2="272.88" stroke="#111" stroke-width="0.8"/>
<text x="203.80" y="272.88" font-size="3.8" text-anchor="middle" stroke="#111" stroke-width="0.13" transform="rotate(-90 203.8 272.88)">6</text>
<text x="196.00" y="329.00" font-size="4.6" text-anchor="middle" stroke="#111" stroke-width="0.13" transform="rotate(-90 196.0 329.0)">log(IL2)</text>
<line x1="221.19" y1="409.20" x2="221.19" y2="412.80" stroke="#111" stroke-width="0.9"/>
<text x="221.19" y="419.60" font-size="4.2" text-anchor="middle" stroke="#111" stroke-width="0.13">0</text>
<line x1="265.09" y1="409.20" x2="265.09" y2="412.80" stroke="#111" stroke-width="0.9"/>
<text x="265.09" y="419.60" font-size="4.2" text-anchor="middle" stroke="#111" stroke-width="0.13">0.03</text>
<line x1="313.19" y1="409.20" x2="313.19" y2="412.80" stroke="#111" stroke-width="0.9"/>
<text x="313.19" y="419.60" font-size="4.2" text-anchor="middle" stroke="#111" stroke-width="0.13">0.1</text>
<line x1="377.50" y1="409.20" x2="377.50" y2="412.80" stroke="#111" stroke-width="0.9"/>
<text x="377.50" y="419.60" font-size="4.2" text-anchor="middle" stroke="#111" stroke-width="0.13">0.5</text>
<line x1="432.89" y1="409.20" x2="432.89" y2="412.80" stroke="#111" stroke-width="0.9"/>
<text x="432.89" y="419.60" font-size="4.2" text-anchor="middle" stroke="#111" stroke-width="0.13">2</text>
<line x1="488.28" y1="409.20" x2="488.28" y2="412.80" stroke="#111" stroke-width="0.9"/>
<text x="488.28" y="419.60" font-size="4.2" text-anchor="middle" stroke="#111" stroke-width="0.13">8</text>
<text x="352.20" y="429.60" font-size="5.2" text-anchor="middle" stroke="#111" stroke-width="0.13">Time [h]</text>
<text x="300.40" y="400.00" font-size="6.0" font-weight="bold" fill="#000" stroke="#000" stroke-width="0.13" textLength="83.8" lengthAdjust="spacingAndGlyphs">iHH-TCL1A model system</text>
<text x="481.50" y="267.80" font-size="4.3" text-anchor="middle" stroke="#111" stroke-width="0.13">P&lt;0.0001</text>
<line x1="482.00" y1="255.10" x2="482.00" y2="262.90" stroke="#111" stroke-width="0.6"/>
<line x1="482.00" y1="269.40" x2="482.00" y2="277.70" stroke="#111" stroke-width="0.6"/>
<path d="M481.0 255.8L482.0 254.0L483.0 255.8Z M481.0 277.0L482.0 278.8L483.0 277.0Z" fill="#111"/>
<text x="481.50" y="287.80" font-size="4.3" text-anchor="middle" stroke="#111" stroke-width="0.13">P&lt;0.0001</text>
<line x1="482.00" y1="280.00" x2="482.00" y2="282.70" stroke="#111" stroke-width="0.6"/>
<line x1="482.00" y1="290.10" x2="482.00" y2="292.80" stroke="#111" stroke-width="0.6"/>
<path d="M481.0 281.4L482.0 279.6L483.0 281.4Z M481.0 291.4L482.0 293.2L483.0 291.4Z" fill="#111"/>
<rect x="421.4" y="337.9" width="58.4" height="57.1" fill="#fff" stroke="#111" stroke-width="1.2"/>
<line x1="427.0" y1="343.80" x2="438.2" y2="343.80" stroke="#2a4f93" stroke-width="1.3"/>
<circle cx="432.6" cy="343.80" r="1.45" fill="#2a4f93"/>
<text x="440.20" y="345.40" font-size="4.4" stroke="#111" stroke-width="0.13">CD3– TCL1A–</text>
<line x1="427.0" y1="349.52" x2="438.2" y2="349.52" stroke="#2a4f93" stroke-width="1.3" stroke-dasharray="3 1.6"/>
<circle cx="432.6" cy="349.52" r="1.45" fill="#2a4f93"/>
<text x="440.20" y="351.12" font-size="4.4" stroke="#111" stroke-width="0.13">CD3– TCL1A+</text>
<line x1="427.0" y1="355.24" x2="438.2" y2="355.24" stroke="#2a4f93" stroke-width="1.3" stroke-dasharray="0.9 1.5"/>
<circle cx="432.6" cy="355.24" r="1.45" fill="#2a4f93"/>
<text x="440.20" y="356.84" font-size="4.4" stroke="#111" stroke-width="0.13">CD3– TCL1A++</text>
<line x1="427.0" y1="360.96" x2="438.2" y2="360.96" stroke="#66b136" stroke-width="1.3"/>
<circle cx="432.6" cy="360.96" r="1.45" fill="#66b136"/>
<text x="440.20" y="362.56" font-size="4.4" stroke="#111" stroke-width="0.13">CD3+ TCL1A–</text>
<line x1="427.0" y1="366.68" x2="438.2" y2="366.68" stroke="#66b136" stroke-width="1.3" stroke-dasharray="3 1.6"/>
<circle cx="432.6" cy="366.68" r="1.45" fill="#66b136"/>
<text x="440.20" y="368.28" font-size="4.4" stroke="#111" stroke-width="0.13">CD3+ TCL1A+</text>
<line x1="427.0" y1="372.40" x2="438.2" y2="372.40" stroke="#66b136" stroke-width="1.3" stroke-dasharray="1.2 1.4"/>
<circle cx="432.6" cy="372.40" r="1.45" fill="#66b136"/>
<text x="440.20" y="374.00" font-size="4.4" stroke="#111" stroke-width="0.13">CD3+ TCL1A++</text>
<line x1="427.0" y1="378.12" x2="438.2" y2="378.12" stroke="#b0112f" stroke-width="1.3"/>
<circle cx="432.6" cy="378.12" r="1.45" fill="#b0112f"/>
<text x="440.20" y="379.72" font-size="4.4" stroke="#111" stroke-width="0.13">CD3++ TCL1A–</text>
<line x1="427.0" y1="383.84" x2="438.2" y2="383.84" stroke="#b0112f" stroke-width="1.3" stroke-dasharray="3 1.6"/>
<circle cx="432.6" cy="383.84" r="1.45" fill="#b0112f"/>
<text x="440.20" y="385.44" font-size="4.4" stroke="#111" stroke-width="0.13">CD3++ TCL1A+</text>
<line x1="427.0" y1="389.56" x2="438.2" y2="389.56" stroke="#b0112f" stroke-width="1.3" stroke-dasharray="0.9 1.5"/>
<circle cx="432.6" cy="389.56" r="1.45" fill="#b0112f"/>
<text x="440.20" y="391.16" font-size="4.4" stroke="#111" stroke-width="0.13">CD3++ TCL1A++</text>
<text x="421.40" y="403.20" font-size="3.8" stroke="#111" stroke-width="0.13" textLength="52" lengthAdjust="spacingAndGlyphs">n=4 repeated time series</text>
<rect x="235.6" y="256.2" width="142.4" height="82.6" fill="#fff" stroke="#111" stroke-width="1.0"/>
<clipPath id="insclip"><rect x="236" y="256.6" width="141.6" height="81.8"/></clipPath><g clip-path="url(#insclip)">
<polyline points="240.9,331.8 242.4,331.2 243.9,330.5 245.5,329.7 247.0,328.9 248.5,328.1 250.0,327.2 251.6,326.4 253.1,325.5 254.6,324.7 256.1,323.9 257.7,323.1 259.2,322.2 260.7,321.4 262.2,320.5 263.8,319.7 265.3,318.8 266.8,318.0 268.3,317.1 269.9,316.3 271.4,315.4 272.9,314.6 274.4,313.7 276.0,312.9 277.5,312.1 279.0,311.3 280.5,310.5 282.1,309.7 283.6,308.9 285.1,308.2 286.6,307.5 288.2,306.7 289.7,306.0 291.2,305.2 292.7,304.4 294.3,303.7 295.8,303.0 297.3,302.2 298.8,301.5 300.4,300.8 301.9,300.1 303.4,299.5 304.9,298.8 306.5,298.2 308.0,297.6 309.5,297.1 311.0,296.6 312.6,296.1 314.1,295.7 315.6,295.3 317.1,294.9 318.7,294.5 320.2,294.2 321.7,293.8 323.2,293.5 324.8,293.1 326.3,292.8 327.8,292.5 329.3,292.2 330.9,291.9 332.4,291.6 333.9,291.4 335.4,291.1 337.0,290.9 338.5,290.7 340.0,290.5 341.5,290.3 343.1,290.1 344.6,289.9 346.1,289.7 347.6,289.5 349.2,289.3 350.7,289.2 352.2,289.0 353.7,288.8 355.3,288.7 356.8,288.5 358.3,288.4 359.8,288.2 361.4,288.1 362.9,288.0 364.4,287.9 365.9,287.8 367.5,287.7 369.0,287.6 370.5,287.6 372.0,287.5 373.6,287.5 375.1,287.5 376.6,287.4 378.1,287.4" fill="none" stroke="#2a4f93" stroke-width="1.15"/>
<polyline points="240.9,331.8 242.4,331.0 243.9,330.0 245.5,329.0 247.0,327.9 248.5,326.7 250.0,325.6 251.6,324.5 253.1,323.3 254.6,322.3 256.1,321.3 257.7,320.3 259.2,319.3 260.7,318.3 262.2,317.3 263.8,316.3 265.3,315.3 266.8,314.3 268.3,313.3 269.9,312.4 271.4,311.4 272.9,310.5 274.4,309.6 276.0,308.7 277.5,307.8 279.0,307.0 280.5,306.1 282.1,305.3 283.6,304.5 285.1,303.8 286.6,303.0 288.2,302.3 289.7,301.5 291.2,300.8 292.7,300.0 294.3,299.3 295.8,298.6 297.3,297.8 298.8,297.2 300.4,296.5 301.9,295.8 303.4,295.2 304.9,294.6 306.5,294.1 308.0,293.6 309.5,293.1 311.0,292.6 312.6,292.3 314.1,291.9 315.6,291.6 317.1,291.3 318.7,291.0 320.2,290.7 321.7,290.4 323.2,290.2 324.8,289.9 326.3,289.7 327.8,289.4 329.3,289.2 330.9,289.0 332.4,288.8 333.9,288.6 335.4,288.4 337.0,288.3 338.5,288.1 340.0,288.0 341.5,287.9 343.1,287.8 344.6,287.7 346.1,287.6 347.6,287.5 349.2,287.4 350.7,287.4 352.2,287.3 353.7,287.2 355.3,287.1 356.8,287.1 358.3,287.0 359.8,286.9 361.4,286.9 362.9,286.8 364.4,286.8 365.9,286.8 367.5,286.7 369.0,286.7 370.5,286.7 372.0,286.6 373.6,286.6 375.1,286.6 376.6,286.6 378.1,286.6" fill="none" stroke="#2a4f93" stroke-width="1.05" stroke-dasharray="3 1.6"/>
<polyline points="240.9,331.8 242.4,330.8 243.9,329.6 245.5,328.4 247.0,327.1 248.5,325.7 250.0,324.3 251.6,323.0 253.1,321.7 254.6,320.5 256.1,319.3 257.7,318.2 259.2,317.1 260.7,316.0 262.2,314.8 263.8,313.7 265.3,312.7 266.8,311.6 268.3,310.5 269.9,309.5 271.4,308.5 272.9,307.5 274.4,306.5 276.0,305.6 277.5,304.6 279.0,303.8 280.5,302.9 282.1,302.1 283.6,301.3 285.1,300.6 286.6,299.9 288.2,299.2 289.7,298.5 291.2,297.8 292.7,297.1 294.3,296.4 295.8,295.8 297.3,295.1 298.8,294.5 300.4,293.9 301.9,293.3 303.4,292.8 304.9,292.3 306.5,291.8 308.0,291.4 309.5,291.0 311.0,290.6 312.6,290.3 314.1,290.0 315.6,289.8 317.1,289.5 318.7,289.3 320.2,289.1 321.7,288.9 323.2,288.6 324.8,288.4 326.3,288.3 327.8,288.1 329.3,287.9 330.9,287.7 332.4,287.6 333.9,287.5 335.4,287.3 337.0,287.2 338.5,287.1 340.0,287.0 341.5,287.0 343.1,286.9 344.6,286.8 346.1,286.8 347.6,286.7 349.2,286.7 350.7,286.6 352.2,286.6 353.7,286.6 355.3,286.5 356.8,286.5 358.3,286.5 359.8,286.4 361.4,286.4 362.9,286.4 364.4,286.3 365.9,286.3 367.5,286.3 369.0,286.3 370.5,286.3 372.0,286.3 373.6,286.3 375.1,286.2 376.6,286.2 378.1,286.2" fill="none" stroke="#2a4f93" stroke-width="1.05" stroke-dasharray="0.9 1.5"/>
<polyline points="240.9,331.8 242.4,331.0 243.9,330.0 245.5,328.9 247.0,327.6 248.5,326.3 250.0,325.0 251.6,323.6 253.1,322.3 254.6,321.1 256.1,319.9 257.7,318.8 259.2,317.7 260.7,316.6 262.2,315.6 263.8,314.5 265.3,313.4 266.8,312.3 268.3,311.3 269.9,310.3 271.4,309.2 272.9,308.2 274.4,307.2 276.0,306.2 277.5,305.2 279.0,304.3 280.5,303.3 282.1,302.4 283.6,301.5 285.1,300.6 286.6,299.7 288.2,298.7 289.7,297.8 291.2,296.9 292.7,296.0 294.3,295.1 295.8,294.1 297.3,293.3 298.8,292.4 300.4,291.5 301.9,290.7 303.4,289.9 304.9,289.1 306.5,288.4 308.0,287.8 309.5,287.1 311.0,286.6 312.6,286.0 314.1,285.6 315.6,285.2 317.1,284.7 318.7,284.4 320.2,284.0 321.7,283.6 323.2,283.3 324.8,282.9 326.3,282.6 327.8,282.3 329.3,282.0 330.9,281.7 332.4,281.4 333.9,281.2 335.4,281.0 337.0,280.7 338.5,280.5 340.0,280.3 341.5,280.1 343.1,279.9 344.6,279.8 346.1,279.6 347.6,279.4 349.2,279.3 350.7,279.1 352.2,279.0 353.7,278.8 355.3,278.7 356.8,278.5 358.3,278.4 359.8,278.3 361.4,278.2 362.9,278.0 364.4,278.0 365.9,277.9 367.5,277.8 369.0,277.7 370.5,277.7 372.0,277.7 373.6,277.6 375.1,277.6 376.6,277.6 378.1,277.6" fill="none" stroke="#66b136" stroke-width="1.15"/>
<polyline points="240.9,331.2 242.4,330.0 243.9,328.7 245.5,327.2 247.0,325.6 248.5,323.9 250.0,322.2 251.6,320.5 253.1,318.9 254.6,317.4 256.1,316.1 257.7,314.8 259.2,313.5 260.7,312.3 262.2,311.1 263.8,309.9 265.3,308.7 266.8,307.5 268.3,306.4 269.9,305.3 271.4,304.2 272.9,303.1 274.4,302.1 276.0,301.1 277.5,300.1 279.0,299.1 280.5,298.2 282.1,297.3 283.6,296.4 285.1,295.5 286.6,294.7 288.2,293.8 289.7,293.0 291.2,292.1 292.7,291.3 294.3,290.5 295.8,289.7 297.3,288.9 298.8,288.1 300.4,287.4 301.9,286.7 303.4,286.0 304.9,285.4 306.5,284.8 308.0,284.2 309.5,283.7 311.0,283.2 312.6,282.8 314.1,282.4 315.6,282.1 317.1,281.8 318.7,281.4 320.2,281.1 321.7,280.8 323.2,280.5 324.8,280.3 326.3,280.0 327.8,279.8 329.3,279.5 330.9,279.3 332.4,279.1 333.9,278.9 335.4,278.7 337.0,278.6 338.5,278.4 340.0,278.3 341.5,278.1 343.1,278.0 344.6,278.0 346.1,277.9 347.6,277.8 349.2,277.7 350.7,277.6 352.2,277.5 353.7,277.4 355.3,277.4 356.8,277.3 358.3,277.2 359.8,277.2 361.4,277.1 362.9,277.1 364.4,277.0 365.9,277.0 367.5,277.0 369.0,276.9 370.5,276.9 372.0,276.9 373.6,276.9 375.1,276.9 376.6,276.9 378.1,276.9" fill="none" stroke="#66b136" stroke-width="1.05" stroke-dasharray="3 1.6"/>
<polyline points="240.9,330.5 242.4,329.0 243.9,327.3 245.5,325.4 247.0,323.4 248.5,321.3 250.0,319.3 251.6,317.3 253.1,315.4 254.6,313.7 256.1,312.2 257.7,310.7 259.2,309.3 260.7,307.9 262.2,306.5 263.8,305.1 265.3,303.7 266.8,302.4 268.3,301.1 269.9,299.9 271.4,298.7 272.9,297.5 274.4,296.4 276.0,295.3 277.5,294.3 279.0,293.3 280.5,292.3 282.1,291.5 283.6,290.6 285.1,289.8 286.6,289.1 288.2,288.3 289.7,287.6 291.2,286.9 292.7,286.2 294.3,285.5 295.8,284.8 297.3,284.2 298.8,283.6 300.4,283.0 301.9,282.4 303.4,281.9 304.9,281.4 306.5,280.9 308.0,280.5 309.5,280.1 311.0,279.8 312.6,279.5 314.1,279.3 315.6,279.1 317.1,278.9 318.7,278.6 320.2,278.5 321.7,278.3 323.2,278.1 324.8,277.9 326.3,277.8 327.8,277.6 329.3,277.5 330.9,277.3 332.4,277.2 333.9,277.1 335.4,277.0 337.0,276.9 338.5,276.8 340.0,276.8 341.5,276.7 343.1,276.7 344.6,276.6 346.1,276.6 347.6,276.5 349.2,276.5 350.7,276.4 352.2,276.4 353.7,276.4 355.3,276.3 356.8,276.3 358.3,276.3 359.8,276.3 361.4,276.2 362.9,276.2 364.4,276.2 365.9,276.2 367.5,276.2 369.0,276.2 370.5,276.1 372.0,276.1 373.6,276.1 375.1,276.1 376.6,276.1 378.1,276.1" fill="none" stroke="#66b136" stroke-width="1.05" stroke-dasharray="1.2 1.4"/>
<polyline points="240.9,329.9 242.4,328.3 243.9,326.5 245.5,324.6 247.0,322.7 248.5,320.7 250.0,318.7 251.6,316.7 253.1,314.7 254.6,312.7 256.1,310.7 257.7,308.7 259.2,306.7 260.7,304.7 262.2,302.7 263.8,300.7 265.3,298.7 266.8,296.7 268.3,294.7 269.9,292.9 271.4,291.0 272.9,289.1 274.4,287.2 276.0,285.2 277.5,283.4 279.0,281.6 280.5,279.9 282.1,278.4 283.6,277.0 285.1,275.8 286.6,274.8 288.2,273.7 289.7,272.6 291.2,271.6 292.7,270.6 294.3,269.6 295.8,268.7 297.3,267.8 298.8,266.9 300.4,266.1 301.9,265.4 303.4,264.7 304.9,264.0 306.5,263.5 308.0,262.9 309.5,262.5 311.0,262.1 312.6,261.8 314.1,261.6 315.6,261.4 317.1,261.2 318.7,261.0 320.2,260.9 321.7,260.7 323.2,260.5 324.8,260.4 326.3,260.3 327.8,260.1 329.3,260.0 330.9,259.9 332.4,259.8 333.9,259.7 335.4,259.7 337.0,259.6 338.5,259.5 340.0,259.5 341.5,259.5 343.1,259.4 344.6,259.4 346.1,259.4 347.6,259.4 349.2,259.4 350.7,259.4 352.2,259.4 353.7,259.4 355.3,259.4 356.8,259.4 358.3,259.3 359.8,259.3 361.4,259.3 362.9,259.3 364.4,259.3 365.9,259.3 367.5,259.3 369.0,259.3 370.5,259.3 372.0,259.3 373.6,259.3 375.1,259.2 376.6,259.2 378.1,259.2" fill="none" stroke="#b0112f" stroke-width="1.15"/>
<polyline points="240.9,328.6 242.4,326.6 243.9,324.4 245.5,322.2 247.0,320.0 248.5,317.8 250.0,315.6 251.6,313.4 253.1,311.2 254.6,309.0 256.1,306.9 257.7,304.7 259.2,302.5 260.7,300.2 262.2,298.0 263.8,295.9 265.3,293.7 266.8,291.7 268.3,289.7 269.9,287.8 271.4,286.0 272.9,284.1 274.4,282.3 276.0,280.5 277.5,278.8 279.0,277.2 280.5,275.6 282.1,274.3 283.6,273.1 285.1,272.1 286.6,271.2 288.2,270.2 289.7,269.3 291.2,268.5 292.7,267.6 294.3,266.8 295.8,266.0 297.3,265.3 298.8,264.6 300.4,263.9 301.9,263.3 303.4,262.7 304.9,262.2 306.5,261.7 308.0,261.3 309.5,261.0 311.0,260.7 312.6,260.5 314.1,260.3 315.6,260.2 317.1,260.1 318.7,260.0 320.2,259.9 321.7,259.8 323.2,259.7 324.8,259.6 326.3,259.5 327.8,259.5 329.3,259.4 330.9,259.3 332.4,259.3 333.9,259.2 335.4,259.2 337.0,259.1 338.5,259.1 340.0,259.1 341.5,259.1 343.1,259.1 344.6,259.1 346.1,259.1 347.6,259.1 349.2,259.1 350.7,259.0 352.2,259.0 353.7,259.0 355.3,259.0 356.8,259.0 358.3,259.0 359.8,259.0 361.4,259.0 362.9,259.0 364.4,259.0 365.9,259.0 367.5,259.0 369.0,259.0 370.5,259.0 372.0,259.0 373.6,259.0 375.1,259.0 376.6,259.0 378.1,259.0" fill="none" stroke="#b0112f" stroke-width="1.05" stroke-dasharray="3 1.6"/>
<polyline points="240.9,328.0 242.4,325.3 243.9,322.7 245.5,320.0 247.0,317.5 248.5,315.0 250.0,312.5 251.6,310.0 253.1,307.6 254.6,305.3 256.1,303.0 257.7,300.7 259.2,298.4 260.7,296.2 262.2,294.0 263.8,291.8 265.3,289.7 266.8,287.7 268.3,285.8 269.9,284.0 271.4,282.3 272.9,280.5 274.4,278.8 276.0,277.2 277.5,275.6 279.0,274.1 280.5,272.7 282.1,271.5 283.6,270.5 285.1,269.6 286.6,268.8 288.2,268.0 289.7,267.2 291.2,266.5 292.7,265.8 294.3,265.1 295.8,264.4 297.3,263.8 298.8,263.2 300.4,262.6 301.9,262.1 303.4,261.6 304.9,261.2 306.5,260.8 308.0,260.4 309.5,260.2 311.0,259.9 312.6,259.8 314.1,259.7 315.6,259.6 317.1,259.6 318.7,259.5 320.2,259.4 321.7,259.4 323.2,259.3 324.8,259.3 326.3,259.2 327.8,259.2 329.3,259.1 330.9,259.1 332.4,259.1 333.9,259.0 335.4,259.0 337.0,259.0 338.5,259.0 340.0,259.0 341.5,258.9 343.1,258.9 344.6,258.9 346.1,258.9 347.6,258.9 349.2,258.9 350.7,258.9 352.2,258.9 353.7,258.9 355.3,258.9 356.8,258.9 358.3,258.9 359.8,258.9 361.4,258.9 362.9,258.9 364.4,258.9 365.9,258.9 367.5,258.9 369.0,258.9 370.5,258.9 372.0,258.9 373.6,258.9 375.1,258.9 376.6,258.9 378.1,258.9" fill="none" stroke="#b0112f" stroke-width="1.05" stroke-dasharray="0.9 1.5"/>
</g>
<line x1="285.40" y1="268.00" x2="296.20" y2="268.00" stroke="#b0112f" stroke-width="0.9"/>
<line x1="285.40" y1="266.40" x2="285.40" y2="269.60" stroke="#b0112f" stroke-width="0.8"/>
<line x1="296.20" y1="266.40" x2="296.20" y2="269.60" stroke="#b0112f" stroke-width="0.8"/>
<rect x="289.9" y="267.1" width="1.8" height="1.8" fill="#b0112f"/>
<text x="290.80" y="266.00" font-size="3.0" text-anchor="middle" fill="#b0112f" stroke="#b0112f" stroke-width="0.13">22min</text>
<line x1="294.00" y1="285.40" x2="319.20" y2="285.40" stroke="#66b136" stroke-width="0.9"/>
<line x1="294.00" y1="283.80" x2="294.00" y2="287.00" stroke="#66b136" stroke-width="0.8"/>
<line x1="319.20" y1="283.80" x2="319.20" y2="287.00" stroke="#66b136" stroke-width="0.8"/>
<rect x="305.7" y="284.5" width="1.8" height="1.8" fill="#66b136"/>
<text x="306.60" y="283.40" font-size="3.0" text-anchor="middle" fill="#66b136" stroke="#66b136" stroke-width="0.13">69min</text>
<line x1="299.20" y1="295.50" x2="319.20" y2="295.50" stroke="#2a4f93" stroke-width="0.9"/>
<line x1="299.20" y1="293.90" x2="299.20" y2="297.10" stroke="#2a4f93" stroke-width="0.8"/>
<line x1="319.20" y1="293.90" x2="319.20" y2="297.10" stroke="#2a4f93" stroke-width="0.8"/>
<rect x="308.3" y="294.6" width="1.8" height="1.8" fill="#2a4f93"/>
<text x="309.20" y="293.50" font-size="3.0" text-anchor="middle" fill="#2a4f93" stroke="#2a4f93" stroke-width="0.13">67min</text>
<line x1="232.00" y1="335.60" x2="235.60" y2="335.60" stroke="#111" stroke-width="0.8"/>
<text x="228.30" y="335.60" font-size="3.8" text-anchor="middle" stroke="#111" stroke-width="0.13" transform="rotate(-90 228.3 335.6)">1</text>
<line x1="232.00" y1="322.95" x2="235.60" y2="322.95" stroke="#111" stroke-width="0.8"/>
<text x="228.30" y="322.95" font-size="3.8" text-anchor="middle" stroke="#111" stroke-width="0.13" transform="rotate(-90 228.3 322.95000000000005)">2</text>
<line x1="232.00" y1="310.30" x2="235.60" y2="310.30" stroke="#111" stroke-width="0.8"/>
<text x="228.30" y="310.30" font-size="3.8" text-anchor="middle" stroke="#111" stroke-width="0.13" transform="rotate(-90 228.3 310.3)">3</text>
<line x1="232.00" y1="297.65" x2="235.60" y2="297.65" stroke="#111" stroke-width="0.8"/>
<text x="228.30" y="297.65" font-size="3.8" text-anchor="middle" stroke="#111" stroke-width="0.13" transform="rotate(-90 228.3 297.65000000000003)">4</text>
<line x1="232.00" y1="285.00" x2="235.60" y2="285.00" stroke="#111" stroke-width="0.8"/>
<text x="228.30" y="285.00" font-size="3.8" text-anchor="middle" stroke="#111" stroke-width="0.13" transform="rotate(-90 228.3 285.0)">5</text>
<line x1="232.00" y1="272.35" x2="235.60" y2="272.35" stroke="#111" stroke-width="0.8"/>
<text x="228.30" y="272.35" font-size="3.8" text-anchor="middle" stroke="#111" stroke-width="0.13" transform="rotate(-90 228.3 272.35)">6</text>
<line x1="232.00" y1="259.70" x2="235.60" y2="259.70" stroke="#111" stroke-width="0.8"/>
<text x="228.30" y="259.70" font-size="3.8" text-anchor="middle" stroke="#111" stroke-width="0.13" transform="rotate(-90 228.3 259.70000000000005)">7</text>
<line x1="255.50" y1="338.80" x2="255.50" y2="342.30" stroke="#111" stroke-width="0.8"/>
<text x="255.50" y="349.50" font-size="3.8" text-anchor="middle" stroke="#111" stroke-width="0.13">1</text>
<line x1="284.70" y1="338.80" x2="284.70" y2="342.30" stroke="#111" stroke-width="0.8"/>
<text x="284.70" y="349.50" font-size="3.8" text-anchor="middle" stroke="#111" stroke-width="0.13">2</text>
<line x1="313.90" y1="338.80" x2="313.90" y2="342.30" stroke="#111" stroke-width="0.8"/>
<text x="313.90" y="349.50" font-size="3.8" text-anchor="middle" stroke="#111" stroke-width="0.13">3</text>
<line x1="343.10" y1="338.80" x2="343.10" y2="342.30" stroke="#111" stroke-width="0.8"/>
<text x="343.10" y="349.50" font-size="3.8" text-anchor="middle" stroke="#111" stroke-width="0.13">4</text>
<line x1="372.30" y1="338.80" x2="372.30" y2="342.30" stroke="#111" stroke-width="0.8"/>
<text x="372.30" y="349.50" font-size="3.8" text-anchor="middle" stroke="#111" stroke-width="0.13">5</text>
<text x="219.50" y="297.40" font-size="4.8" text-anchor="middle" stroke="#111" stroke-width="0.13" transform="rotate(-90 219.5 297.4)">log(IL2)</text>
<text x="307.00" y="358.80" font-size="4.8" text-anchor="middle" stroke="#111" stroke-width="0.13">Time [h]</text>
<text x="7.50" y="448.20" font-size="12.0" font-weight="bold" fill="#000" stroke="#000" stroke-width="0.45">E</text>
<text x="62.00" y="447.80" font-size="6.9" fill="#222" stroke="#222" stroke-width="0.13" textLength="257.5" lengthAdjust="spacingAndGlyphs">Gene expression in Hut78-TCL1A +/- TCR stimulation vs. Hut78 +/- TCR stimulation</text>
<polygon points="71.8,586.6 71.8,575.0 76.5,567.5 82.0,566.0 96.0,586.6" fill="#d4d4d4"/>
<line x1="95.50" y1="586.50" x2="81.80" y2="569.47" stroke="#8a8a8a" stroke-width="0.35"/>
<line x1="95.50" y1="586.50" x2="75.63" y2="579.33" stroke="#8a8a8a" stroke-width="0.35"/>
<line x1="95.50" y1="586.50" x2="73.12" y2="572.06" stroke="#8a8a8a" stroke-width="0.35"/>
<line x1="95.50" y1="586.50" x2="90.07" y2="563.62" stroke="#8a8a8a" stroke-width="0.35"/>
<line x1="95.50" y1="586.50" x2="83.53" y2="574.33" stroke="#8a8a8a" stroke-width="0.35"/>
<line x1="95.50" y1="586.50" x2="73.78" y2="569.58" stroke="#8a8a8a" stroke-width="0.35"/>
<line x1="95.50" y1="586.50" x2="86.37" y2="571.04" stroke="#8a8a8a" stroke-width="0.35"/>
<line x1="95.50" y1="586.50" x2="86.78" y2="565.14" stroke="#8a8a8a" stroke-width="0.35"/>
<line x1="95.50" y1="586.50" x2="77.52" y2="564.22" stroke="#8a8a8a" stroke-width="0.35"/>
<line x1="95.50" y1="586.50" x2="82.62" y2="580.48" stroke="#8a8a8a" stroke-width="0.35"/>
<line x1="95.50" y1="586.50" x2="84.22" y2="577.48" stroke="#8a8a8a" stroke-width="0.35"/>
<line x1="95.50" y1="586.50" x2="80.29" y2="576.92" stroke="#8a8a8a" stroke-width="0.35"/>
<line x1="95.50" y1="586.50" x2="74.93" y2="567.82" stroke="#8a8a8a" stroke-width="0.35"/>
<line x1="95.50" y1="586.50" x2="85.81" y2="576.51" stroke="#8a8a8a" stroke-width="0.35"/>
<line x1="95.50" y1="586.50" x2="81.01" y2="563.75" stroke="#8a8a8a" stroke-width="0.35"/>
<line x1="95.50" y1="586.50" x2="78.07" y2="566.20" stroke="#8a8a8a" stroke-width="0.35"/>
<path d="M86.9 579.2m-0.7 0a0.7 0.7 0 1 0 1.4 0a0.7 0.7 0 1 0-1.4 0M91.2 578.3m-0.7 0a0.7 0.7 0 1 0 1.4 0a0.7 0.7 0 1 0-1.4 0M89.8 577.1m-0.7 0a0.7 0.7 0 1 0 1.4 0a0.7 0.7 0 1 0-1.4 0M72.0 586.5m-0.7 0a0.7 0.7 0 1 0 1.4 0a0.7 0.7 0 1 0-1.4 0M94.9 585.4m-0.7 0a0.7 0.7 0 1 0 1.4 0a0.7 0.7 0 1 0-1.4 0M93.8 587.0m-0.7 0a0.7 0.7 0 1 0 1.4 0a0.7 0.7 0 1 0-1.4 0M83.0 586.4m-0.7 0a0.7 0.7 0 1 0 1.4 0a0.7 0.7 0 1 0-1.4 0M84.9 582.2m-0.7 0a0.7 0.7 0 1 0 1.4 0a0.7 0.7 0 1 0-1.4 0M71.6 586.9m-0.7 0a0.7 0.7 0 1 0 1.4 0a0.7 0.7 0 1 0-1.4 0M78.3 576.7m-0.7 0a0.7 0.7 0 1 0 1.4 0a0.7 0.7 0 1 0-1.4 0M90.4 586.9m-0.7 0a0.7 0.7 0 1 0 1.4 0a0.7 0.7 0 1 0-1.4 0M91.2 586.9m-0.7 0a0.7 0.7 0 1 0 1.4 0a0.7 0.7 0 1 0-1.4 0M86.7 586.9m-0.7 0a0.7 0.7 0 1 0 1.4 0a0.7 0.7 0 1 0-1.4 0M71.3 585.2m-0.7 0a0.7 0.7 0 1 0 1.4 0a0.7 0.7 0 1 0-1.4 0M76.5 586.8m-0.7 0a0.7 0.7 0 1 0 1.4 0a0.7 0.7 0 1 0-1.4 0M95.9 584.8m-0.7 0a0.7 0.7 0 1 0 1.4 0a0.7 0.7 0 1 0-1.4 0M78.5 575.0m-0.7 0a0.7 0.7 0 1 0 1.4 0a0.7 0.7 0 1 0-1.4 0M84.8 579.6m-0.7 0a0.7 0.7 0 1 0 1.4 0a0.7 0.7 0 1 0-1.4 0M76.4 578.3m-0.7 0a0.7 0.7 0 1 0 1.4 0a0.7 0.7 0 1 0-1.4 0M88.6 574.2m-0.7 0a0.7 0.7 0 1 0 1.4 0a0.7 0.7 0 1 0-1.4 0M93.6 586.7m-0.7 0a0.7 0.7 0 1 0 1.4 0a0.7 0.7 0 1 0-1.4 0M80.3 586.8m-0.7 0a0.7 0.7 0 1 0 1.4 0a0.7 0.7 0 1 0-1.4 0M74.9 587.0m-0.7 0a0.7 0.7 0 1 0 1.4 0a0.7 0.7 0 1 0-1.4 0M78.8 583.1m-0.7 0a0.7 0.7 0 1 0 1.4 0a0.7 0.7 0 1 0-1.4 0M71.4 586.0m-0.7 0a0.7 0.7 0 1 0 1.4 0a0.7 0.7 0 1 0-1.4 0M79.7 586.2m-0.7 0a0.7 0.7 0 1 0 1.4 0a0.7 0.7 0 1 0-1.4 0M91.8 585.5m-0.7 0a0.7 0.7 0 1 0 1.4 0a0.7 0.7 0 1 0-1.4 0M79.2 584.7m-0.7 0a0.7 0.7 0 1 0 1.4 0a0.7 0.7 0 1 0-1.4 0M88.9 587.0m-0.7 0a0.7 0.7 0 1 0 1.4 0a0.7 0.7 0 1 0-1.4 0M95.7 587.0m-0.7 0a0.7 0.7 0 1 0 1.4 0a0.7 0.7 0 1 0-1.4 0M90.0 579.3m-0.7 0a0.7 0.7 0 1 0 1.4 0a0.7 0.7 0 1 0-1.4 0M71.8 585.3m-0.7 0a0.7 0.7 0 1 0 1.4 0a0.7 0.7 0 1 0-1.4 0M80.5 582.9m-0.7 0a0.7 0.7 0 1 0 1.4 0a0.7 0.7 0 1 0-1.4 0M71.5 587.0m-0.7 0a0.7 0.7 0 1 0 1.4 0a0.7 0.7 0 1 0-1.4 0M75.8 578.8m-0.7 0a0.7 0.7 0 1 0 1.4 0a0.7 0.7 0 1 0-1.4 0M76.2 582.1m-0.7 0a0.7 0.7 0 1 0 1.4 0a0.7 0.7 0 1 0-1.4 0M94.5 582.6m-0.7 0a0.7 0.7 0 1 0 1.4 0a0.7 0.7 0 1 0-1.4 0M79.9 585.9m-0.7 0a0.7 0.7 0 1 0 1.4 0a0.7 0.7 0 1 0-1.4 0M84.4 576.3m-0.7 0a0.7 0.7 0 1 0 1.4 0a0.7 0.7 0 1 0-1.4 0M74.0 583.9m-0.7 0a0.7 0.7 0 1 0 1.4 0a0.7 0.7 0 1 0-1.4 0M91.2 580.1m-0.7 0a0.7 0.7 0 1 0 1.4 0a0.7 0.7 0 1 0-1.4 0M72.2 583.7m-0.7 0a0.7 0.7 0 1 0 1.4 0a0.7 0.7 0 1 0-1.4 0M73.6 586.6m-0.7 0a0.7 0.7 0 1 0 1.4 0a0.7 0.7 0 1 0-1.4 0M86.6 573.3m-0.7 0a0.7 0.7 0 1 0 1.4 0a0.7 0.7 0 1 0-1.4 0M79.8 574.6m-0.7 0a0.7 0.7 0 1 0 1.4 0a0.7 0.7 0 1 0-1.4 0M84.9 585.9m-0.7 0a0.7 0.7 0 1 0 1.4 0a0.7 0.7 0 1 0-1.4 0M79.2 586.8m-0.7 0a0.7 0.7 0 1 0 1.4 0a0.7 0.7 0 1 0-1.4 0M73.3 587.0m-0.7 0a0.7 0.7 0 1 0 1.4 0a0.7 0.7 0 1 0-1.4 0M88.5 573.1m-0.7 0a0.7 0.7 0 1 0 1.4 0a0.7 0.7 0 1 0-1.4 0M75.3 587.0m-0.7 0a0.7 0.7 0 1 0 1.4 0a0.7 0.7 0 1 0-1.4 0M96.0 586.4m-0.7 0a0.7 0.7 0 1 0 1.4 0a0.7 0.7 0 1 0-1.4 0M81.4 586.5m-0.7 0a0.7 0.7 0 1 0 1.4 0a0.7 0.7 0 1 0-1.4 0M86.1 576.1m-0.7 0a0.7 0.7 0 1 0 1.4 0a0.7 0.7 0 1 0-1.4 0M82.7 584.8m-0.7 0a0.7 0.7 0 1 0 1.4 0a0.7 0.7 0 1 0-1.4 0M72.7 583.4m-0.7 0a0.7 0.7 0 1 0 1.4 0a0.7 0.7 0 1 0-1.4 0M72.1 586.4m-0.7 0a0.7 0.7 0 1 0 1.4 0a0.7 0.7 0 1 0-1.4 0M92.3 586.9m-0.7 0a0.7 0.7 0 1 0 1.4 0a0.7 0.7 0 1 0-1.4 0M89.6 576.1m-0.7 0a0.7 0.7 0 1 0 1.4 0a0.7 0.7 0 1 0-1.4 0M87.1 578.1m-0.7 0a0.7 0.7 0 1 0 1.4 0a0.7 0.7 0 1 0-1.4 0M74.0 586.2m-0.7 0a0.7 0.7 0 1 0 1.4 0a0.7 0.7 0 1 0-1.4 0M75.0 581.7m-0.7 0a0.7 0.7 0 1 0 1.4 0a0.7 0.7 0 1 0-1.4 0M78.7 585.1m-0.7 0a0.7 0.7 0 1 0 1.4 0a0.7 0.7 0 1 0-1.4 0M96.3 585.3m-0.7 0a0.7 0.7 0 1 0 1.4 0a0.7 0.7 0 1 0-1.4 0M95.7 586.5m-0.7 0a0.7 0.7 0 1 0 1.4 0a0.7 0.7 0 1 0-1.4 0M83.5 577.6m-0.7 0a0.7 0.7 0 1 0 1.4 0a0.7 0.7 0 1 0-1.4 0M83.3 586.1m-0.7 0a0.7 0.7 0 1 0 1.4 0a0.7 0.7 0 1 0-1.4 0M81.4 586.9m-0.7 0a0.7 0.7 0 1 0 1.4 0a0.7 0.7 0 1 0-1.4 0M80.7 571.0m-0.7 0a0.7 0.7 0 1 0 1.4 0a0.7 0.7 0 1 0-1.4 0M95.3 585.8m-0.7 0a0.7 0.7 0 1 0 1.4 0a0.7 0.7 0 1 0-1.4 0M83.8 585.6m-0.7 0a0.7 0.7 0 1 0 1.4 0a0.7 0.7 0 1 0-1.4 0M73.5 586.8m-0.7 0a0.7 0.7 0 1 0 1.4 0a0.7 0.7 0 1 0-1.4 0M90.8 579.6m-0.7 0a0.7 0.7 0 1 0 1.4 0a0.7 0.7 0 1 0-1.4 0M80.3 578.3m-0.7 0a0.7 0.7 0 1 0 1.4 0a0.7 0.7 0 1 0-1.4 0M90.7 582.6m-0.7 0a0.7 0.7 0 1 0 1.4 0a0.7 0.7 0 1 0-1.4 0M87.9 579.5m-0.7 0a0.7 0.7 0 1 0 1.4 0a0.7 0.7 0 1 0-1.4 0M80.4 580.3m-0.7 0a0.7 0.7 0 1 0 1.4 0a0.7 0.7 0 1 0-1.4 0M78.3 584.9m-0.7 0a0.7 0.7 0 1 0 1.4 0a0.7 0.7 0 1 0-1.4 0M90.5 582.6m-0.7 0a0.7 0.7 0 1 0 1.4 0a0.7 0.7 0 1 0-1.4 0M78.6 575.4m-0.7 0a0.7 0.7 0 1 0 1.4 0a0.7 0.7 0 1 0-1.4 0M87.5 583.0m-0.7 0a0.7 0.7 0 1 0 1.4 0a0.7 0.7 0 1 0-1.4 0M71.6 586.4m-0.7 0a0.7 0.7 0 1 0 1.4 0a0.7 0.7 0 1 0-1.4 0M77.6 582.6m-0.7 0a0.7 0.7 0 1 0 1.4 0a0.7 0.7 0 1 0-1.4 0M82.9 575.1m-0.7 0a0.7 0.7 0 1 0 1.4 0a0.7 0.7 0 1 0-1.4 0M87.5 578.2m-0.7 0a0.7 0.7 0 1 0 1.4 0a0.7 0.7 0 1 0-1.4 0M80.0 581.9m-0.7 0a0.7 0.7 0 1 0 1.4 0a0.7 0.7 0 1 0-1.4 0M89.7 579.4m-0.7 0a0.7 0.7 0 1 0 1.4 0a0.7 0.7 0 1 0-1.4 0M80.1 576.9m-0.7 0a0.7 0.7 0 1 0 1.4 0a0.7 0.7 0 1 0-1.4 0M93.0 584.1m-0.7 0a0.7 0.7 0 1 0 1.4 0a0.7 0.7 0 1 0-1.4 0M95.7 584.0m-0.7 0a0.7 0.7 0 1 0 1.4 0a0.7 0.7 0 1 0-1.4 0M84.3 582.8m-0.7 0a0.7 0.7 0 1 0 1.4 0a0.7 0.7 0 1 0-1.4 0M75.5 581.5m-0.7 0a0.7 0.7 0 1 0 1.4 0a0.7 0.7 0 1 0-1.4 0M94.7 586.2m-0.7 0a0.7 0.7 0 1 0 1.4 0a0.7 0.7 0 1 0-1.4 0M88.6 580.9m-0.7 0a0.7 0.7 0 1 0 1.4 0a0.7 0.7 0 1 0-1.4 0M89.6 586.8m-0.7 0a0.7 0.7 0 1 0 1.4 0a0.7 0.7 0 1 0-1.4 0M90.8 584.3m-0.7 0a0.7 0.7 0 1 0 1.4 0a0.7 0.7 0 1 0-1.4 0M87.9 585.3m-0.7 0a0.7 0.7 0 1 0 1.4 0a0.7 0.7 0 1 0-1.4 0M86.9 578.3m-0.7 0a0.7 0.7 0 1 0 1.4 0a0.7 0.7 0 1 0-1.4 0M87.2 580.0m-0.7 0a0.7 0.7 0 1 0 1.4 0a0.7 0.7 0 1 0-1.4 0M72.0 587.0m-0.7 0a0.7 0.7 0 1 0 1.4 0a0.7 0.7 0 1 0-1.4 0M82.3 580.6m-0.7 0a0.7 0.7 0 1 0 1.4 0a0.7 0.7 0 1 0-1.4 0M76.8 582.9m-0.7 0a0.7 0.7 0 1 0 1.4 0a0.7 0.7 0 1 0-1.4 0M87.1 587.0m-0.7 0a0.7 0.7 0 1 0 1.4 0a0.7 0.7 0 1 0-1.4 0M83.1 586.5m-0.7 0a0.7 0.7 0 1 0 1.4 0a0.7 0.7 0 1 0-1.4 0M72.7 587.0m-0.7 0a0.7 0.7 0 1 0 1.4 0a0.7 0.7 0 1 0-1.4 0M79.2 586.8m-0.7 0a0.7 0.7 0 1 0 1.4 0a0.7 0.7 0 1 0-1.4 0M76.1 587.0m-0.7 0a0.7 0.7 0 1 0 1.4 0a0.7 0.7 0 1 0-1.4 0M82.9 585.2m-0.7 0a0.7 0.7 0 1 0 1.4 0a0.7 0.7 0 1 0-1.4 0M86.6 582.5m-0.7 0a0.7 0.7 0 1 0 1.4 0a0.7 0.7 0 1 0-1.4 0M77.2 578.2m-0.7 0a0.7 0.7 0 1 0 1.4 0a0.7 0.7 0 1 0-1.4 0M71.3 586.7m-0.7 0a0.7 0.7 0 1 0 1.4 0a0.7 0.7 0 1 0-1.4 0M78.3 585.6m-0.7 0a0.7 0.7 0 1 0 1.4 0a0.7 0.7 0 1 0-1.4 0M74.2 582.7m-0.7 0a0.7 0.7 0 1 0 1.4 0a0.7 0.7 0 1 0-1.4 0M80.6 587.0m-0.7 0a0.7 0.7 0 1 0 1.4 0a0.7 0.7 0 1 0-1.4 0M86.6 587.0m-0.7 0a0.7 0.7 0 1 0 1.4 0a0.7 0.7 0 1 0-1.4 0M84.9 585.7m-0.7 0a0.7 0.7 0 1 0 1.4 0a0.7 0.7 0 1 0-1.4 0M85.8 570.8m-0.7 0a0.7 0.7 0 1 0 1.4 0a0.7 0.7 0 1 0-1.4 0M91.8 586.0m-0.7 0a0.7 0.7 0 1 0 1.4 0a0.7 0.7 0 1 0-1.4 0M91.6 583.9m-0.7 0a0.7 0.7 0 1 0 1.4 0a0.7 0.7 0 1 0-1.4 0M80.5 586.9m-0.7 0a0.7 0.7 0 1 0 1.4 0a0.7 0.7 0 1 0-1.4 0M86.2 582.8m-0.7 0a0.7 0.7 0 1 0 1.4 0a0.7 0.7 0 1 0-1.4 0M95.2 583.3m-0.7 0a0.7 0.7 0 1 0 1.4 0a0.7 0.7 0 1 0-1.4 0M86.5 585.8m-0.7 0a0.7 0.7 0 1 0 1.4 0a0.7 0.7 0 1 0-1.4 0M93.6 587.0m-0.7 0a0.7 0.7 0 1 0 1.4 0a0.7 0.7 0 1 0-1.4 0M74.0 585.4m-0.7 0a0.7 0.7 0 1 0 1.4 0a0.7 0.7 0 1 0-1.4 0M86.7 586.9m-0.7 0a0.7 0.7 0 1 0 1.4 0a0.7 0.7 0 1 0-1.4 0M87.0 574.8m-0.7 0a0.7 0.7 0 1 0 1.4 0a0.7 0.7 0 1 0-1.4 0M80.7 585.0m-0.7 0a0.7 0.7 0 1 0 1.4 0a0.7 0.7 0 1 0-1.4 0M77.0 586.5m-0.7 0a0.7 0.7 0 1 0 1.4 0a0.7 0.7 0 1 0-1.4 0M95.6 586.7m-0.7 0a0.7 0.7 0 1 0 1.4 0a0.7 0.7 0 1 0-1.4 0M95.3 583.9m-0.7 0a0.7 0.7 0 1 0 1.4 0a0.7 0.7 0 1 0-1.4 0M86.2 586.4m-0.7 0a0.7 0.7 0 1 0 1.4 0a0.7 0.7 0 1 0-1.4 0M95.8 586.4m-0.7 0a0.7 0.7 0 1 0 1.4 0a0.7 0.7 0 1 0-1.4 0M81.7 586.0m-0.7 0a0.7 0.7 0 1 0 1.4 0a0.7 0.7 0 1 0-1.4 0M95.9 586.5m-0.7 0a0.7 0.7 0 1 0 1.4 0a0.7 0.7 0 1 0-1.4 0M78.5 584.9m-0.7 0a0.7 0.7 0 1 0 1.4 0a0.7 0.7 0 1 0-1.4 0M74.4 584.9m-0.7 0a0.7 0.7 0 1 0 1.4 0a0.7 0.7 0 1 0-1.4 0M82.4 586.1m-0.7 0a0.7 0.7 0 1 0 1.4 0a0.7 0.7 0 1 0-1.4 0M90.8 580.4m-0.7 0a0.7 0.7 0 1 0 1.4 0a0.7 0.7 0 1 0-1.4 0M71.6 586.4m-0.7 0a0.7 0.7 0 1 0 1.4 0a0.7 0.7 0 1 0-1.4 0M78.1 576.3m-0.7 0a0.7 0.7 0 1 0 1.4 0a0.7 0.7 0 1 0-1.4 0M90.8 586.7m-0.7 0a0.7 0.7 0 1 0 1.4 0a0.7 0.7 0 1 0-1.4 0M78.0 586.9m-0.7 0a0.7 0.7 0 1 0 1.4 0a0.7 0.7 0 1 0-1.4 0M96.0 586.9m-0.7 0a0.7 0.7 0 1 0 1.4 0a0.7 0.7 0 1 0-1.4 0M86.5 584.4m-0.7 0a0.7 0.7 0 1 0 1.4 0a0.7 0.7 0 1 0-1.4 0M87.4 582.6m-0.7 0a0.7 0.7 0 1 0 1.4 0a0.7 0.7 0 1 0-1.4 0M89.9 586.9m-0.7 0a0.7 0.7 0 1 0 1.4 0a0.7 0.7 0 1 0-1.4 0M90.3 586.4m-0.7 0a0.7 0.7 0 1 0 1.4 0a0.7 0.7 0 1 0-1.4 0M84.6 585.7m-0.7 0a0.7 0.7 0 1 0 1.4 0a0.7 0.7 0 1 0-1.4 0M78.7 584.2m-0.7 0a0.7 0.7 0 1 0 1.4 0a0.7 0.7 0 1 0-1.4 0M82.9 585.5m-0.7 0a0.7 0.7 0 1 0 1.4 0a0.7 0.7 0 1 0-1.4 0M89.9 583.8m-0.7 0a0.7 0.7 0 1 0 1.4 0a0.7 0.7 0 1 0-1.4 0M72.2 586.9m-0.7 0a0.7 0.7 0 1 0 1.4 0a0.7 0.7 0 1 0-1.4 0M82.7 571.4m-0.7 0a0.7 0.7 0 1 0 1.4 0a0.7 0.7 0 1 0-1.4 0M93.5 585.5m-0.7 0a0.7 0.7 0 1 0 1.4 0a0.7 0.7 0 1 0-1.4 0M71.7 585.4m-0.7 0a0.7 0.7 0 1 0 1.4 0a0.7 0.7 0 1 0-1.4 0M82.0 582.4m-0.7 0a0.7 0.7 0 1 0 1.4 0a0.7 0.7 0 1 0-1.4 0M89.0 582.8m-0.7 0a0.7 0.7 0 1 0 1.4 0a0.7 0.7 0 1 0-1.4 0M83.3 570.8m-0.7 0a0.7 0.7 0 1 0 1.4 0a0.7 0.7 0 1 0-1.4 0M80.9 585.4m-0.7 0a0.7 0.7 0 1 0 1.4 0a0.7 0.7 0 1 0-1.4 0M92.6 586.9m-0.7 0a0.7 0.7 0 1 0 1.4 0a0.7 0.7 0 1 0-1.4 0M79.4 539.8m-0.7 0a0.7 0.7 0 1 0 1.4 0a0.7 0.7 0 1 0-1.4 0M74.4 539.6m-0.7 0a0.7 0.7 0 1 0 1.4 0a0.7 0.7 0 1 0-1.4 0M88.0 552.3m-0.7 0a0.7 0.7 0 1 0 1.4 0a0.7 0.7 0 1 0-1.4 0M79.2 541.3m-0.7 0a0.7 0.7 0 1 0 1.4 0a0.7 0.7 0 1 0-1.4 0M92.7 561.5m-0.7 0a0.7 0.7 0 1 0 1.4 0a0.7 0.7 0 1 0-1.4 0M83.3 548.6m-0.7 0a0.7 0.7 0 1 0 1.4 0a0.7 0.7 0 1 0-1.4 0M83.7 555.5m-0.7 0a0.7 0.7 0 1 0 1.4 0a0.7 0.7 0 1 0-1.4 0M76.3 547.5m-0.7 0a0.7 0.7 0 1 0 1.4 0a0.7 0.7 0 1 0-1.4 0M90.6 563.8m-0.7 0a0.7 0.7 0 1 0 1.4 0a0.7 0.7 0 1 0-1.4 0M78.0 540.1m-0.7 0a0.7 0.7 0 1 0 1.4 0a0.7 0.7 0 1 0-1.4 0M90.1 545.0m-0.7 0a0.7 0.7 0 1 0 1.4 0a0.7 0.7 0 1 0-1.4 0M73.5 543.2m-0.7 0a0.7 0.7 0 1 0 1.4 0a0.7 0.7 0 1 0-1.4 0M94.2 534.5m-0.7 0a0.7 0.7 0 1 0 1.4 0a0.7 0.7 0 1 0-1.4 0M88.2 564.4m-0.7 0a0.7 0.7 0 1 0 1.4 0a0.7 0.7 0 1 0-1.4 0M91.2 559.0m-0.7 0a0.7 0.7 0 1 0 1.4 0a0.7 0.7 0 1 0-1.4 0M87.0 535.9m-0.7 0a0.7 0.7 0 1 0 1.4 0a0.7 0.7 0 1 0-1.4 0M88.4 561.7m-0.7 0a0.7 0.7 0 1 0 1.4 0a0.7 0.7 0 1 0-1.4 0M79.3 537.0m-0.7 0a0.7 0.7 0 1 0 1.4 0a0.7 0.7 0 1 0-1.4 0M76.2 546.7m-0.7 0a0.7 0.7 0 1 0 1.4 0a0.7 0.7 0 1 0-1.4 0M81.9 560.9m-0.7 0a0.7 0.7 0 1 0 1.4 0a0.7 0.7 0 1 0-1.4 0M86.5 564.6m-0.7 0a0.7 0.7 0 1 0 1.4 0a0.7 0.7 0 1 0-1.4 0M75.3 554.0m-0.7 0a0.7 0.7 0 1 0 1.4 0a0.7 0.7 0 1 0-1.4 0" fill="#bdbdbd"/>
<circle cx="94.6" cy="539.7" r="0.7" fill="#bbb"/>
<circle cx="96.3" cy="536.0" r="0.7" fill="#bbb"/>
<circle cx="93.8" cy="543.9" r="0.7" fill="#bbb"/>
<circle cx="83.0" cy="549.1" r="0.7" fill="#bbb"/>
<circle cx="90.5" cy="505.5" r="0.7" fill="#bbb"/>
<circle cx="91.3" cy="507.0" r="0.7" fill="#bbb"/>
<circle cx="79.6" cy="508.1" r="0.7" fill="#bbb"/>
<circle cx="79.6" cy="510.2" r="0.7" fill="#bbb"/>
<circle cx="69.6" cy="472.9" r="1.05" fill="#1f3a8a"/>
<circle cx="67.1" cy="504.4" r="1.05" fill="#1f3a8a"/>
<circle cx="68.0" cy="566.0" r="1.05" fill="#1f3a8a"/>
<circle cx="69.6" cy="572.3" r="1.05" fill="#1f3a8a"/>
<circle cx="61.3" cy="576.5" r="1.05" fill="#1f3a8a"/>
<circle cx="64.6" cy="583.3" r="1.05" fill="#1f3a8a"/>
<circle cx="66.3" cy="583.1" r="1.05" fill="#1f3a8a"/>
<circle cx="70.5" cy="581.2" r="1.05" fill="#1f3a8a"/>
<circle cx="70.5" cy="584.4" r="1.05" fill="#1f3a8a"/>
<circle cx="54.6" cy="584.9" r="1.05" fill="#1f3a8a"/>
<circle cx="68.0" cy="585.9" r="1.05" fill="#1f3a8a"/>
<circle cx="58.0" cy="583.6" r="1.05" fill="#1f3a8a"/>
<circle cx="99.2" cy="561.2" r="1.05" fill="#b3132f"/>
<circle cx="99.2" cy="562.8" r="1.05" fill="#b3132f"/>
<circle cx="99.6" cy="574.4" r="1.05" fill="#b3132f"/>
<circle cx="100.5" cy="575.4" r="1.05" fill="#b3132f"/>
<circle cx="105.5" cy="582.3" r="1.05" fill="#b3132f"/>
<circle cx="106.3" cy="583.8" r="1.05" fill="#b3132f"/>
<circle cx="108.8" cy="584.4" r="1.05" fill="#b3132f"/>
<circle cx="114.6" cy="584.9" r="1.05" fill="#b3132f"/>
<circle cx="118.8" cy="585.4" r="1.05" fill="#b3132f"/>
<circle cx="125.4" cy="585.4" r="1.05" fill="#b3132f"/>
<circle cx="135.4" cy="575.4" r="1.05" fill="#b3132f"/>
<circle cx="133.8" cy="584.4" r="1.05" fill="#b3132f"/>
<circle cx="137.9" cy="584.9" r="1.05" fill="#b3132f"/>
<circle cx="142.1" cy="585.4" r="1.05" fill="#b3132f"/>
<circle cx="98.8" cy="584.9" r="1.05" fill="#b3132f"/>
<circle cx="100.5" cy="585.9" r="1.05" fill="#b3132f"/>
<circle cx="102.1" cy="583.8" r="1.05" fill="#b3132f"/>
<circle cx="104.6" cy="585.4" r="1.05" fill="#b3132f"/>
<circle cx="115.5" cy="585.9" r="1.05" fill="#b3132f"/>
<circle cx="220.4" cy="559.4" r="1.05" fill="#b3132f"/>
<line x1="71.30" y1="466.00" x2="71.30" y2="593.00" stroke="#222" stroke-width="1.2" stroke-dasharray="2.6 1.2"/>
<line x1="96.30" y1="466.00" x2="96.30" y2="593.00" stroke="#222" stroke-width="1.2" stroke-dasharray="2.6 1.2"/>
<line x1="43.50" y1="586.30" x2="237.00" y2="586.30" stroke="#222" stroke-width="1.1" stroke-dasharray="3.0 1.6"/>
<line x1="43.30" y1="465.80" x2="43.30" y2="593.30" stroke="#111" stroke-width="1.0"/>
<line x1="43.30" y1="593.30" x2="237.50" y2="593.30" stroke="#111" stroke-width="1.2"/>
<line x1="40.50" y1="587.00" x2="43.00" y2="587.00" stroke="#111" stroke-width="0.7"/>
<text x="36.80" y="588.60" font-size="4.6" text-anchor="end" stroke="#111" stroke-width="0.13">0</text>
<line x1="40.50" y1="560.70" x2="43.00" y2="560.70" stroke="#111" stroke-width="0.7"/>
<text x="36.80" y="562.30" font-size="4.6" text-anchor="end" stroke="#111" stroke-width="0.13">50</text>
<line x1="40.50" y1="534.40" x2="43.00" y2="534.40" stroke="#111" stroke-width="0.7"/>
<text x="36.80" y="536.00" font-size="4.6" text-anchor="end" stroke="#111" stroke-width="0.13">100</text>
<line x1="40.50" y1="508.10" x2="43.00" y2="508.10" stroke="#111" stroke-width="0.7"/>
<text x="36.80" y="509.70" font-size="4.6" text-anchor="end" stroke="#111" stroke-width="0.13">150</text>
<line x1="40.50" y1="481.80" x2="43.00" y2="481.80" stroke="#111" stroke-width="0.7"/>
<text x="36.80" y="483.40" font-size="4.6" text-anchor="end" stroke="#111" stroke-width="0.13">200</text>
<line x1="83.80" y1="593.30" x2="83.80" y2="595.80" stroke="#111" stroke-width="0.7"/>
<text x="83.80" y="604.00" font-size="4.6" text-anchor="middle" stroke="#111" stroke-width="0.13">0</text>
<line x1="125.45" y1="593.30" x2="125.45" y2="595.80" stroke="#111" stroke-width="0.7"/>
<text x="125.45" y="604.00" font-size="4.6" text-anchor="middle" stroke="#111" stroke-width="0.13">5</text>
<line x1="167.10" y1="593.30" x2="167.10" y2="595.80" stroke="#111" stroke-width="0.7"/>
<text x="167.10" y="604.00" font-size="4.6" text-anchor="middle" stroke="#111" stroke-width="0.13">10</text>
<line x1="208.75" y1="593.30" x2="208.75" y2="595.80" stroke="#111" stroke-width="0.7"/>
<text x="208.75" y="604.00" font-size="4.6" text-anchor="middle" stroke="#111" stroke-width="0.13">15</text>
<text x="19.80" y="529.00" font-size="5.4" text-anchor="middle" stroke="#111" stroke-width="0.13" transform="rotate(-90 19.8 529.0)">-Log<tspan font-size="3.2" dy="1.4">10</tspan><tspan dy="-1.4" font-style="italic">FDR</tspan></text>
<text x="120.00" y="613.60" font-size="5.4" fill="#222" stroke="#222" stroke-width="0.13" textLength="41" lengthAdjust="spacingAndGlyphs">Log<tspan font-size="3.4" dy="1.5">2</tspan><tspan dy="-1.5"> fold change</tspan></text>
<circle cx="138.0" cy="485.3" r="1.1" fill="#1f3a8a"/>
<text x="141.50" y="486.40" font-size="2.9" stroke="#111" stroke-width="0.13">downregulated in Hut78-TCL1A</text>
<circle cx="138.0" cy="491.2" r="1.1" fill="#b3132f"/>
<text x="141.50" y="492.30" font-size="2.9" stroke="#111" stroke-width="0.13">upregulated in Hut78-TCL1A</text>
<circle cx="138.0" cy="497.1" r="1.1" fill="#bbb"/>
<text x="141.50" y="498.20" font-size="2.9" stroke="#111" stroke-width="0.13">other genes</text>
<text x="66.00" y="471.50" font-size="2.8" text-anchor="middle" fill="#333" stroke="#333" stroke-width="0.13">SPI3BP3</text>
<text x="63.00" y="504.00" font-size="2.8" text-anchor="end" fill="#333" stroke="#333" stroke-width="0.13">IGLL1</text>
<text x="67.50" y="569.60" font-size="2.8" text-anchor="end" fill="#333" stroke="#333" stroke-width="0.13">STMND1</text>
<text x="70.50" y="566.00" font-size="2.8" fill="#333" stroke="#333" stroke-width="0.13">SEMA4</text>
<text x="58.00" y="575.00" font-size="2.8" text-anchor="end" fill="#333" stroke="#333" stroke-width="0.13">PMN1</text>
<text x="71.00" y="575.00" font-size="2.8" text-anchor="end" fill="#333" stroke="#333" stroke-width="0.13">KLRB1</text>
<text x="63.80" y="581.50" font-size="2.8" text-anchor="end" fill="#333" stroke="#333" stroke-width="0.13">LINC00402</text>
<text x="73.00" y="581.50" font-size="2.8" fill="#333" stroke="#333" stroke-width="0.13">FRMPD4</text>
<text x="58.50" y="586.50" font-size="2.8" text-anchor="end" fill="#333" stroke="#333" stroke-width="0.13">PTPN6</text>
<text x="47.00" y="591.50" font-size="2.8" fill="#333" stroke="#333" stroke-width="0.13">SEMB</text>
<text x="56.00" y="592.80" font-size="2.8" fill="#333" stroke="#333" stroke-width="0.13">TMEM176B</text>
<text x="75.50" y="592.80" font-size="2.8" fill="#333" stroke="#333" stroke-width="0.13">EPS1</text>
<text x="91.00" y="592.80" font-size="2.8" text-anchor="middle" fill="#333" stroke="#333" stroke-width="0.13">PEAR1</text>
<text x="102.00" y="592.80" font-size="2.8" fill="#333" stroke="#333" stroke-width="0.13">SLC7A6A2</text>
<text x="130.00" y="592.80" font-size="2.8" fill="#333" stroke="#333" stroke-width="0.13">PTPN13</text>
<text x="167.00" y="594.00" font-size="2.8" fill="#333" stroke="#333" stroke-width="0.13">CNTN4</text>
<text x="110.00" y="570.00" font-size="2.8" fill="#333" stroke="#333" stroke-width="0.13">COL1A2</text>
<text x="104.00" y="572.50" font-size="2.8" fill="#333" stroke="#333" stroke-width="0.13">LOC101928035</text>
<text x="136.00" y="577.50" font-size="2.8" fill="#333" stroke="#333" stroke-width="0.13">FAM71B</text>
<text x="100.00" y="570.00" font-size="2.8" fill="#333" stroke="#333" stroke-width="0.13">ISX</text>
<text x="97.00" y="576.00" font-size="2.8" fill="#333" stroke="#333" stroke-width="0.13">PNPLA8</text>
<text x="107.00" y="576.00" font-size="2.8" fill="#333" stroke="#333" stroke-width="0.13">HPGD</text>
<text x="121.00" y="580.00" font-size="2.8" fill="#333" stroke="#333" stroke-width="0.13">ALDH1A1</text>
<text x="101.00" y="580.20" font-size="2.8" fill="#333" stroke="#333" stroke-width="0.13">GAD1T10</text>
<text x="122.00" y="586.00" font-size="2.8" fill="#333" stroke="#333" stroke-width="0.13">KIAA1549L</text>
<text x="114.00" y="584.00" font-size="2.8" fill="#333" stroke="#333" stroke-width="0.13">ACD95</text>
<text x="134.00" y="585.50" font-size="2.8" fill="#333" stroke="#333" stroke-width="0.13">FAM83B</text>
<text x="146.00" y="589.50" font-size="2.8" fill="#333" stroke="#333" stroke-width="0.13">ABCA8</text>
<text x="88.00" y="572.00" font-size="2.8" fill="#333" stroke="#333" stroke-width="0.13">CXCL1</text>
<text x="78.00" y="577.00" font-size="2.8" fill="#333" stroke="#333" stroke-width="0.13">DUSP4</text>
<text x="82.00" y="580.00" font-size="2.8" fill="#333" stroke="#333" stroke-width="0.13">BCL11B</text>
<text x="215.50" y="556.50" font-size="2.8" fill="#333" stroke="#333" stroke-width="0.13">TCL1A</text>
<line x1="110.00" y1="569.00" x2="100.00" y2="585.00" stroke="#999" stroke-width="0.3"/>
<line x1="104.00" y1="572.00" x2="98.00" y2="585.00" stroke="#999" stroke-width="0.3"/>
<line x1="136.00" y1="577.00" x2="112.00" y2="587.00" stroke="#999" stroke-width="0.3"/>
<line x1="121.00" y1="580.00" x2="100.00" y2="586.00" stroke="#999" stroke-width="0.3"/>
<line x1="122.00" y1="586.00" x2="115.00" y2="584.00" stroke="#999" stroke-width="0.3"/>
<line x1="146.00" y1="589.00" x2="140.00" y2="587.00" stroke="#999" stroke-width="0.3"/>
<line x1="160.00" y1="592.00" x2="150.00" y2="587.00" stroke="#999" stroke-width="0.3"/>
<text x="289.60" y="453.80" font-size="4.7" stroke="#111" stroke-width="0.13" textLength="77.4" lengthAdjust="spacingAndGlyphs">Hallmark Pathways NES from GSEA</text>
<rect x="323.80" y="459.10" width="28.25" height="3.95" fill="#5b9bd8"/>
<text x="303.00" y="462.10" font-size="3.2" text-anchor="end" stroke="#111" stroke-width="0.13">KRAS Signaling DN</text>
<rect x="323.80" y="463.53" width="21.74" height="3.95" fill="#5b9bd8"/>
<text x="303.00" y="466.53" font-size="3.2" text-anchor="end" stroke="#111" stroke-width="0.13">Inflammatory Response</text>
<rect x="323.80" y="467.96" width="20.91" height="3.95" fill="#5b9bd8"/>
<text x="303.00" y="470.96" font-size="3.2" text-anchor="end" stroke="#111" stroke-width="0.13">Epithelial Mesenchymal Transition</text>
<rect x="323.80" y="472.39" width="20.08" height="3.95" fill="#5b9bd8"/>
<text x="303.00" y="475.39" font-size="3.2" text-anchor="end" stroke="#111" stroke-width="0.13">Fatty Acid Metabolism</text>
<rect x="323.80" y="476.82" width="19.25" height="3.95" fill="#5b9bd8"/>
<text x="303.00" y="479.82" font-size="3.2" text-anchor="end" stroke="#111" stroke-width="0.13">TNFA Signaling via NFkB</text>
<rect x="323.80" y="481.25" width="18.28" height="3.95" fill="#5b9bd8"/>
<text x="303.00" y="484.25" font-size="3.2" text-anchor="end" stroke="#111" stroke-width="0.13">Cholesterol Homeostasis</text>
<rect x="323.80" y="485.68" width="17.45" height="3.95" fill="#5b9bd8"/>
<text x="303.00" y="488.68" font-size="3.2" text-anchor="end" stroke="#111" stroke-width="0.13">IL6 JAK STAT3 Signaling</text>
<rect x="323.80" y="490.11" width="16.76" height="3.95" fill="#5b9bd8"/>
<text x="303.00" y="493.11" font-size="3.2" text-anchor="end" stroke="#111" stroke-width="0.13">Xenobiotic Metabolism</text>
<rect x="323.80" y="494.54" width="16.34" height="3.95" fill="#5b9bd8"/>
<text x="303.00" y="497.54" font-size="3.2" text-anchor="end" stroke="#111" stroke-width="0.13">Estrogen Response Late</text>
<rect x="323.80" y="498.97" width="16.34" height="3.95" fill="#5b9bd8"/>
<text x="303.00" y="501.97" font-size="3.2" text-anchor="end" stroke="#111" stroke-width="0.13">IL2 STAT5 Signaling</text>
<rect x="323.80" y="503.40" width="16.20" height="3.95" fill="#5b9bd8"/>
<text x="303.00" y="506.40" font-size="3.2" text-anchor="end" stroke="#111" stroke-width="0.13">KRAS Signaling Up</text>
<rect x="323.80" y="507.83" width="15.93" height="3.95" fill="#5b9bd8"/>
<text x="303.00" y="510.83" font-size="3.2" text-anchor="end" stroke="#111" stroke-width="0.13">UV Response DN</text>
<rect x="323.80" y="512.26" width="15.37" height="3.95" fill="#5b9bd8"/>
<text x="303.00" y="515.26" font-size="3.2" text-anchor="end" stroke="#111" stroke-width="0.13">UV Response Up</text>
<rect x="323.80" y="516.69" width="15.10" height="3.95" fill="#5b9bd8"/>
<text x="303.00" y="519.69" font-size="3.2" text-anchor="end" stroke="#111" stroke-width="0.13">Adipogenesis</text>
<rect x="323.80" y="521.12" width="14.40" height="3.95" fill="#5b9bd8"/>
<text x="303.00" y="524.12" font-size="3.2" text-anchor="end" stroke="#111" stroke-width="0.13">Hypoxia</text>
<rect x="323.80" y="525.55" width="13.16" height="3.95" fill="#5b9bd8"/>
<text x="303.00" y="528.55" font-size="3.2" text-anchor="end" stroke="#111" stroke-width="0.13">Interferon Gamma Response</text>
<rect x="323.80" y="529.98" width="12.74" height="3.95" fill="#5b9bd8"/>
<text x="303.00" y="532.98" font-size="3.2" text-anchor="end" stroke="#111" stroke-width="0.13">E2F Targets</text>
<rect x="323.80" y="534.41" width="12.33" height="3.95" fill="#5b9bd8"/>
<text x="303.00" y="537.41" font-size="3.2" text-anchor="end" stroke="#111" stroke-width="0.13">Complement</text>
<rect x="323.80" y="538.84" width="12.33" height="3.95" fill="#5b9bd8"/>
<text x="303.00" y="541.84" font-size="3.2" text-anchor="end" stroke="#111" stroke-width="0.13">G2M Checkpoints</text>
<rect x="323.80" y="543.27" width="11.91" height="3.95" fill="#5b9bd8"/>
<text x="303.00" y="546.27" font-size="3.2" text-anchor="end" stroke="#111" stroke-width="0.13">Unfolded Protein Response</text>
<rect x="323.80" y="547.70" width="10.39" height="3.95" fill="#5b9bd8"/>
<text x="303.00" y="550.70" font-size="3.2" text-anchor="end" stroke="#111" stroke-width="0.13">Estrogen Response Early</text>
<rect x="323.80" y="552.13" width="10.39" height="3.95" fill="#5b9bd8"/>
<text x="303.00" y="555.13" font-size="3.2" text-anchor="end" stroke="#111" stroke-width="0.13">P53 Pathway</text>
<rect x="323.80" y="556.56" width="9.69" height="3.95" fill="#5b9bd8"/>
<text x="303.00" y="559.56" font-size="3.2" text-anchor="end" stroke="#111" stroke-width="0.13">MTORC1 Signaling</text>
<rect x="323.80" y="560.99" width="9.28" height="3.95" fill="#5b9bd8"/>
<text x="303.00" y="563.99" font-size="3.2" text-anchor="end" stroke="#111" stroke-width="0.13">Mitotic Spindle</text>
<rect x="313.83" y="565.42" width="9.97" height="3.95" fill="#5b9bd8"/>
<text x="303.00" y="568.42" font-size="3.2" text-anchor="end" stroke="#111" stroke-width="0.13">Heme Metabolism</text>
<rect x="312.30" y="569.85" width="11.50" height="3.95" fill="#5b9bd8"/>
<text x="303.00" y="572.85" font-size="3.2" text-anchor="end" stroke="#111" stroke-width="0.13">Interferon Alpha Response</text>
<rect x="312.30" y="574.28" width="11.50" height="3.95" fill="#5b9bd8"/>
<text x="303.00" y="577.28" font-size="3.2" text-anchor="end" stroke="#111" stroke-width="0.13">Apical Junction</text>
<rect x="309.67" y="578.71" width="14.13" height="3.95" fill="#5b9bd8"/>
<text x="303.00" y="581.71" font-size="3.2" text-anchor="end" stroke="#111" stroke-width="0.13">Allograft Rejection</text>
<rect x="309.26" y="583.14" width="14.54" height="3.95" fill="#5b9bd8"/>
<text x="303.00" y="586.14" font-size="3.2" text-anchor="end" stroke="#111" stroke-width="0.13">Myc Targets</text>
<rect x="308.15" y="587.57" width="15.65" height="3.95" fill="#5b9bd8"/>
<text x="303.00" y="590.57" font-size="3.2" text-anchor="end" stroke="#111" stroke-width="0.13">Myogenesis</text>
<line x1="306.20" y1="593.30" x2="354.60" y2="593.30" stroke="#111" stroke-width="1.1"/>
<line x1="309.95" y1="593.30" x2="309.95" y2="595.50" stroke="#111" stroke-width="0.8"/>
<text x="309.95" y="604.00" font-size="4.6" text-anchor="middle" stroke="#111" stroke-width="0.13">-1</text>
<line x1="323.80" y1="593.30" x2="323.80" y2="595.50" stroke="#111" stroke-width="0.8"/>
<text x="323.80" y="604.00" font-size="4.6" text-anchor="middle" stroke="#111" stroke-width="0.13">0</text>
<line x1="337.65" y1="593.30" x2="337.65" y2="595.50" stroke="#111" stroke-width="0.8"/>
<text x="337.65" y="604.00" font-size="4.6" text-anchor="middle" stroke="#111" stroke-width="0.13">1</text>
<line x1="351.50" y1="593.30" x2="351.50" y2="595.50" stroke="#111" stroke-width="0.8"/>
<text x="351.50" y="604.00" font-size="4.6" text-anchor="middle" stroke="#111" stroke-width="0.13">2</text>
<text x="295.40" y="613.60" font-size="6.0" stroke="#111" stroke-width="0.13" textLength="70.3" lengthAdjust="spacingAndGlyphs">Normalized enrichment score</text>
<text x="252.80" y="528.00" font-size="4.6" text-anchor="middle" stroke="#111" stroke-width="0.13" transform="rotate(-90 252.8 528.0)">Pathways</text>
<text x="328.20" y="577.20" font-size="3.2" stroke="#111" stroke-width="0.13">padj &lt; 0.05</text>
<rect x="329.20" y="581.60" width="3.80" height="3.70" fill="#5b9bd8"/>
<text x="336.50" y="584.60" font-size="3.2" stroke="#111" stroke-width="0.13">False</text>
<text x="395.20" y="448.40" font-size="12.0" font-weight="bold" fill="#000" stroke="#000" stroke-width="0.45">F</text>
<text x="464.80" y="467.60" font-size="6.4" text-anchor="middle" stroke="#111" stroke-width="0.13" textLength="61.5" lengthAdjust="spacingAndGlyphs">A5 T-cell hybridoma</text>
<line x1="426.60" y1="472.50" x2="426.60" y2="563.30" stroke="#111" stroke-width="1.0"/>
<line x1="426.60" y1="563.30" x2="505.00" y2="563.30" stroke="#111" stroke-width="1.1"/>
<line x1="424.20" y1="563.30" x2="426.60" y2="563.30" stroke="#111" stroke-width="0.8"/>
<text x="422.80" y="564.90" font-size="4.6" text-anchor="end" stroke="#111" stroke-width="0.13">0</text>
<line x1="424.20" y1="545.74" x2="426.60" y2="545.74" stroke="#111" stroke-width="0.8"/>
<text x="422.80" y="547.34" font-size="4.6" text-anchor="end" stroke="#111" stroke-width="0.13">2</text>
<line x1="424.20" y1="528.18" x2="426.60" y2="528.18" stroke="#111" stroke-width="0.8"/>
<text x="422.80" y="529.78" font-size="4.6" text-anchor="end" stroke="#111" stroke-width="0.13">4</text>
<line x1="424.20" y1="510.62" x2="426.60" y2="510.62" stroke="#111" stroke-width="0.8"/>
<text x="422.80" y="512.22" font-size="4.6" text-anchor="end" stroke="#111" stroke-width="0.13">6</text>
<line x1="424.20" y1="493.06" x2="426.60" y2="493.06" stroke="#111" stroke-width="0.8"/>
<text x="422.80" y="494.66" font-size="4.6" text-anchor="end" stroke="#111" stroke-width="0.13">8</text>
<line x1="424.20" y1="475.50" x2="426.60" y2="475.50" stroke="#111" stroke-width="0.8"/>
<text x="422.80" y="477.10" font-size="4.6" text-anchor="end" stroke="#111" stroke-width="0.13">10</text>
<rect x="429.10" y="530.38" width="14.40" height="32.92" fill="#d87a8e"/>
<line x1="436.30" y1="527.92" x2="436.30" y2="532.83" stroke="#111" stroke-width="0.7"/>
<line x1="434.10" y1="527.92" x2="438.50" y2="527.92" stroke="#111" stroke-width="0.8"/>
<line x1="434.10" y1="532.83" x2="438.50" y2="532.83" stroke="#111" stroke-width="0.8"/>
<rect x="447.30" y="530.81" width="14.70" height="32.49" fill="#a50a33"/>
<line x1="454.65" y1="529.76" x2="454.65" y2="531.87" stroke="#111" stroke-width="0.7"/>
<line x1="452.45" y1="529.76" x2="456.85" y2="529.76" stroke="#111" stroke-width="0.8"/>
<line x1="452.45" y1="531.87" x2="456.85" y2="531.87" stroke="#111" stroke-width="0.8"/>
<rect x="469.50" y="512.38" width="13.90" height="50.92" fill="#d87a8e"/>
<line x1="476.45" y1="505.53" x2="476.45" y2="519.22" stroke="#111" stroke-width="0.7"/>
<line x1="474.25" y1="505.53" x2="478.65" y2="505.53" stroke="#111" stroke-width="0.8"/>
<line x1="474.25" y1="519.22" x2="478.65" y2="519.22" stroke="#111" stroke-width="0.8"/>
<rect x="487.20" y="486.47" width="13.90" height="76.82" fill="#a50a33"/>
<line x1="494.15" y1="480.15" x2="494.15" y2="492.80" stroke="#111" stroke-width="0.7"/>
<line x1="491.95" y1="480.15" x2="496.35" y2="480.15" stroke="#111" stroke-width="0.8"/>
<line x1="491.95" y1="492.80" x2="496.35" y2="492.80" stroke="#111" stroke-width="0.8"/>
<line x1="436.00" y1="523.79" x2="455.00" y2="523.79" stroke="#111" stroke-width="0.9"/>
<text x="445.50" y="522.39" font-size="3.0" text-anchor="middle" stroke="#111" stroke-width="0.13">n.s.</text>
<line x1="476.50" y1="478.13" x2="494.00" y2="478.13" stroke="#111" stroke-width="0.9"/>
<text x="485.20" y="476.73" font-size="3.0" text-anchor="middle" stroke="#111" stroke-width="0.13">P=0.048</text>
<text x="431.50" y="482.52" font-size="2.8" stroke="#111" stroke-width="0.13">n=3</text>
<text x="436.30" y="574.20" font-size="4.6" text-anchor="middle" stroke="#111" stroke-width="0.13">-</text>
<text x="454.60" y="574.20" font-size="4.6" text-anchor="middle" stroke="#111" stroke-width="0.13">+</text>
<text x="476.40" y="574.20" font-size="4.6" text-anchor="middle" stroke="#111" stroke-width="0.13">-</text>
<text x="494.10" y="574.20" font-size="4.6" text-anchor="middle" stroke="#111" stroke-width="0.13">+</text>
<text x="498.40" y="574.20" font-size="4.2" stroke="#111" stroke-width="0.13">TCL1A</text>
<line x1="429.90" y1="577.90" x2="462.50" y2="577.90" stroke="#111" stroke-width="1.0"/>
<line x1="469.50" y1="577.90" x2="501.00" y2="577.90" stroke="#111" stroke-width="1.0"/>
<text x="446.20" y="585.20" font-size="4.4" text-anchor="middle" stroke="#111" stroke-width="0.13">8 h</text>
<text x="446.20" y="591.10" font-size="4.4" text-anchor="middle" stroke="#111" stroke-width="0.13">anti-CD3/28</text>
<text x="446.20" y="597.00" font-size="4.4" text-anchor="middle" stroke="#111" stroke-width="0.13">stimulation</text>
<text x="485.30" y="585.20" font-size="4.4" text-anchor="middle" stroke="#111" stroke-width="0.13">24 h</text>
<text x="485.30" y="591.10" font-size="4.4" text-anchor="middle" stroke="#111" stroke-width="0.13">anti-CD3/28</text>
<text x="485.30" y="597.00" font-size="4.4" text-anchor="middle" stroke="#111" stroke-width="0.13">stimulation</text>
<text x="400.00" y="518.00" font-size="4.9" text-anchor="middle" stroke="#111" stroke-width="0.13" transform="rotate(-90 400.0 518.0)" textLength="70" lengthAdjust="spacingAndGlyphs">NFAT coupled GFP expression</text>
<text x="407.40" y="518.00" font-size="4.9" text-anchor="middle" stroke="#111" stroke-width="0.13" transform="rotate(-90 407.4 518.0)" textLength="72" lengthAdjust="spacingAndGlyphs">(as fold MFI over unstimulated)</text>
<text x="40.60" y="635.80" font-size="11.5" font-weight="bold" fill="#000" stroke="#000" stroke-width="0.45">G</text>
<text x="61.00" y="642.00" font-size="11.5" font-weight="bold" fill="#000" stroke="#000" stroke-width="0.45">i</text>
<line x1="79.50" y1="646.30" x2="79.50" y2="723.30" stroke="#111" stroke-width="1.0"/>
<line x1="79.50" y1="723.30" x2="190.50" y2="723.30" stroke="#111" stroke-width="1.1"/>
<line x1="76.90" y1="723.30" x2="79.50" y2="723.30" stroke="#111" stroke-width="0.8"/>
<text x="73.70" y="724.90" font-size="4.6" text-anchor="end" stroke="#111" stroke-width="0.13">0.0</text>
<line x1="76.90" y1="698.80" x2="79.50" y2="698.80" stroke="#111" stroke-width="0.8"/>
<text x="73.70" y="700.40" font-size="4.6" text-anchor="end" stroke="#111" stroke-width="0.13">0.5</text>
<line x1="76.90" y1="674.30" x2="79.50" y2="674.30" stroke="#111" stroke-width="0.8"/>
<text x="73.70" y="675.90" font-size="4.6" text-anchor="end" stroke="#111" stroke-width="0.13">1.0</text>
<line x1="76.90" y1="649.80" x2="79.50" y2="649.80" stroke="#111" stroke-width="0.8"/>
<text x="73.70" y="651.40" font-size="4.6" text-anchor="end" stroke="#111" stroke-width="0.13">1.5</text>
<rect x="90.50" y="676.75" width="14.00" height="46.55" fill="#d87a8e"/>
<line x1="97.50" y1="672.55" x2="97.50" y2="680.95" stroke="#111" stroke-width="0.7"/>
<line x1="95.90" y1="672.55" x2="99.10" y2="672.55" stroke="#111" stroke-width="0.8"/>
<line x1="95.90" y1="680.95" x2="99.10" y2="680.95" stroke="#111" stroke-width="0.8"/>
<rect x="111.20" y="671.36" width="13.80" height="51.94" fill="#a50a33"/>
<line x1="118.10" y1="668.96" x2="118.10" y2="673.76" stroke="#111" stroke-width="0.7"/>
<line x1="116.50" y1="668.96" x2="119.70" y2="668.96" stroke="#111" stroke-width="0.8"/>
<line x1="116.50" y1="673.76" x2="119.70" y2="673.76" stroke="#111" stroke-width="0.8"/>
<rect x="145.50" y="681.16" width="14.00" height="42.14" fill="#d87a8e"/>
<line x1="152.50" y1="680.56" x2="152.50" y2="681.76" stroke="#111" stroke-width="0.7"/>
<line x1="150.90" y1="680.56" x2="154.10" y2="680.56" stroke="#111" stroke-width="0.8"/>
<line x1="150.90" y1="681.76" x2="154.10" y2="681.76" stroke="#111" stroke-width="0.8"/>
<rect x="166.20" y="660.58" width="13.80" height="62.72" fill="#a50a33"/>
<line x1="173.10" y1="658.58" x2="173.10" y2="662.58" stroke="#111" stroke-width="0.7"/>
<line x1="171.50" y1="658.58" x2="174.70" y2="658.58" stroke="#111" stroke-width="0.8"/>
<line x1="171.50" y1="662.58" x2="174.70" y2="662.58" stroke="#111" stroke-width="0.8"/>
<line x1="107.50" y1="723.30" x2="107.50" y2="725.50" stroke="#111" stroke-width="0.8"/>
<text x="107.50" y="733.60" font-size="4.0" text-anchor="middle" stroke="#111" stroke-width="0.13">300*</text>
<line x1="162.50" y1="723.30" x2="162.50" y2="725.50" stroke="#111" stroke-width="0.8"/>
<text x="162.50" y="733.60" font-size="4.0" text-anchor="middle" stroke="#111" stroke-width="0.13">1000</text>
<path d="M152.0 656.0V654.5H173.8V656.0" fill="none" stroke="#111" stroke-width="0.7"/>
<text x="162.90" y="653.20" font-size="3.0" text-anchor="middle" stroke="#111" stroke-width="0.13">P=0.0003</text>
<rect x="84.30" y="641.80" width="5.70" height="3.70" fill="#d87a8e"/>
<text x="92.80" y="644.80" font-size="3.0" stroke="#111" stroke-width="0.13">CTLL-2 GFP</text>
<rect x="84.30" y="648.80" width="5.70" height="3.70" fill="#a50a33"/>
<text x="92.80" y="651.80" font-size="3.0" stroke="#111" stroke-width="0.13">CTLL-2 TCL1A</text>
<text x="125.50" y="643.80" font-size="3.0" stroke="#111" stroke-width="0.13">* required dose for survival</text>
<text x="83.50" y="660.50" font-size="3.0" stroke="#111" stroke-width="0.13">n=3</text>
<text x="62.00" y="684.80" font-size="5.0" text-anchor="middle" stroke="#111" stroke-width="0.13" transform="rotate(-90 62.0 684.8)">MFI of pERK1/2<tspan font-size="3.0" dy="-2">pT202/pY204</tspan></text>
<text x="137.00" y="743.30" font-size="5.0" text-anchor="middle" stroke="#111" stroke-width="0.13" textLength="69" lengthAdjust="spacingAndGlyphs">IL-2 concentration (units/mL)</text>
<text x="197.30" y="642.00" font-size="11.5" font-weight="bold" fill="#000" stroke="#000" stroke-width="0.45">ii</text>
<line x1="217.00" y1="646.30" x2="217.00" y2="723.30" stroke="#111" stroke-width="1.0"/>
<line x1="217.00" y1="723.30" x2="327.50" y2="723.30" stroke="#111" stroke-width="1.1"/>
<line x1="214.40" y1="723.30" x2="217.00" y2="723.30" stroke="#111" stroke-width="0.8"/>
<text x="211.20" y="724.90" font-size="4.6" text-anchor="end" stroke="#111" stroke-width="0.13">0</text>
<line x1="214.40" y1="704.70" x2="217.00" y2="704.70" stroke="#111" stroke-width="0.8"/>
<text x="211.20" y="706.30" font-size="4.6" text-anchor="end" stroke="#111" stroke-width="0.13">1</text>
<line x1="214.40" y1="686.10" x2="217.00" y2="686.10" stroke="#111" stroke-width="0.8"/>
<text x="211.20" y="687.70" font-size="4.6" text-anchor="end" stroke="#111" stroke-width="0.13">2</text>
<line x1="214.40" y1="667.50" x2="217.00" y2="667.50" stroke="#111" stroke-width="0.8"/>
<text x="211.20" y="669.10" font-size="4.6" text-anchor="end" stroke="#111" stroke-width="0.13">3</text>
<line x1="214.40" y1="648.90" x2="217.00" y2="648.90" stroke="#111" stroke-width="0.8"/>
<text x="211.20" y="650.50" font-size="4.6" text-anchor="end" stroke="#111" stroke-width="0.13">4</text>
<rect x="227.50" y="697.26" width="13.80" height="26.04" fill="#d87a8e"/>
<line x1="234.40" y1="696.66" x2="234.40" y2="697.86" stroke="#111" stroke-width="0.7"/>
<line x1="232.80" y1="696.66" x2="236.00" y2="696.66" stroke="#111" stroke-width="0.8"/>
<line x1="232.80" y1="697.86" x2="236.00" y2="697.86" stroke="#111" stroke-width="0.8"/>
<rect x="248.00" y="680.52" width="14.00" height="42.78" fill="#a50a33"/>
<line x1="255.00" y1="680.02" x2="255.00" y2="681.02" stroke="#111" stroke-width="0.7"/>
<line x1="253.40" y1="680.02" x2="256.60" y2="680.02" stroke="#111" stroke-width="0.8"/>
<line x1="253.40" y1="681.02" x2="256.60" y2="681.02" stroke="#111" stroke-width="0.8"/>
<rect x="282.50" y="697.82" width="13.80" height="25.48" fill="#d87a8e"/>
<line x1="289.40" y1="697.32" x2="289.40" y2="698.32" stroke="#111" stroke-width="0.7"/>
<line x1="287.80" y1="697.32" x2="291.00" y2="697.32" stroke="#111" stroke-width="0.8"/>
<line x1="287.80" y1="698.32" x2="291.00" y2="698.32" stroke="#111" stroke-width="0.8"/>
<rect x="303.00" y="671.59" width="14.00" height="51.71" fill="#a50a33"/>
<line x1="310.00" y1="666.59" x2="310.00" y2="676.59" stroke="#111" stroke-width="0.7"/>
<line x1="308.40" y1="666.59" x2="311.60" y2="666.59" stroke="#111" stroke-width="0.8"/>
<line x1="308.40" y1="676.59" x2="311.60" y2="676.59" stroke="#111" stroke-width="0.8"/>
<line x1="244.50" y1="723.30" x2="244.50" y2="725.50" stroke="#111" stroke-width="0.8"/>
<text x="244.50" y="733.60" font-size="4.0" text-anchor="middle" stroke="#111" stroke-width="0.13">300*</text>
<line x1="300.00" y1="723.30" x2="300.00" y2="725.50" stroke="#111" stroke-width="0.8"/>
<text x="300.00" y="733.60" font-size="4.0" text-anchor="middle" stroke="#111" stroke-width="0.13">1000</text>
<path d="M233.8 664.0V662.5H255.0V664.0" fill="none" stroke="#111" stroke-width="0.7"/>
<text x="244.40" y="661.20" font-size="3.0" text-anchor="middle" stroke="#111" stroke-width="0.13">P=0.0001</text>
<path d="M288.8 664.0V662.5H310.0V664.0" fill="none" stroke="#111" stroke-width="0.7"/>
<text x="299.40" y="661.20" font-size="3.0" text-anchor="middle" stroke="#111" stroke-width="0.13">P=0.011</text>
<rect x="221.30" y="641.80" width="5.70" height="3.70" fill="#d87a8e"/>
<text x="229.80" y="644.80" font-size="3.0" stroke="#111" stroke-width="0.13">CTLL-2 GFP</text>
<rect x="221.30" y="648.80" width="5.70" height="3.70" fill="#a50a33"/>
<text x="229.80" y="651.80" font-size="3.0" stroke="#111" stroke-width="0.13">CTLL-2 TCL1A</text>
<text x="264.50" y="643.80" font-size="3.0" stroke="#111" stroke-width="0.13">* required dose for survival</text>
<text x="221.00" y="660.50" font-size="3.0" stroke="#111" stroke-width="0.13">n=3</text>
<text x="202.40" y="684.80" font-size="5.0" text-anchor="middle" stroke="#111" stroke-width="0.13" transform="rotate(-90 202.4 684.8)">MFI of pAKT<tspan font-size="3.0" dy="-2">pS473</tspan></text>
<text x="274.25" y="743.30" font-size="5.0" text-anchor="middle" stroke="#111" stroke-width="0.13" textLength="69" lengthAdjust="spacingAndGlyphs">IL-2 concentration (units/mL)</text>
<text x="331.20" y="642.00" font-size="11.5" font-weight="bold" fill="#000" stroke="#000" stroke-width="0.45">iii</text>
<line x1="364.00" y1="646.50" x2="364.00" y2="723.70" stroke="#111" stroke-width="1.0"/>
<line x1="364.00" y1="723.70" x2="474.30" y2="723.70" stroke="#111" stroke-width="1.1"/>
<line x1="361.40" y1="723.70" x2="364.00" y2="723.70" stroke="#111" stroke-width="0.8"/>
<text x="358.20" y="725.30" font-size="4.6" text-anchor="end" stroke="#111" stroke-width="0.13">0.0x10<tspan font-size="2.2" dy="-1.6">00</tspan></text>
<line x1="361.40" y1="699.50" x2="364.00" y2="699.50" stroke="#111" stroke-width="0.8"/>
<text x="358.20" y="701.10" font-size="4.6" text-anchor="end" stroke="#111" stroke-width="0.13">2.0x10<tspan font-size="2.2" dy="-1.6">06</tspan></text>
<line x1="361.40" y1="675.30" x2="364.00" y2="675.30" stroke="#111" stroke-width="0.8"/>
<text x="358.20" y="676.90" font-size="4.6" text-anchor="end" stroke="#111" stroke-width="0.13">4.0x10<tspan font-size="2.2" dy="-1.6">06</tspan></text>
<line x1="361.40" y1="651.10" x2="364.00" y2="651.10" stroke="#111" stroke-width="0.8"/>
<text x="358.20" y="652.70" font-size="4.6" text-anchor="end" stroke="#111" stroke-width="0.13">6.0x10<tspan font-size="2.2" dy="-1.6">06</tspan></text>
<rect x="371.00" y="697.08" width="6.60" height="26.62" fill="#d87a8e"/>
<line x1="374.30" y1="694.28" x2="374.30" y2="699.88" stroke="#111" stroke-width="0.7"/>
<line x1="372.70" y1="694.28" x2="375.90" y2="694.28" stroke="#111" stroke-width="0.8"/>
<line x1="372.70" y1="699.88" x2="375.90" y2="699.88" stroke="#111" stroke-width="0.8"/>
<rect x="381.00" y="698.65" width="7.30" height="25.05" fill="#a50a33"/>
<line x1="384.65" y1="696.15" x2="384.65" y2="701.15" stroke="#111" stroke-width="0.7"/>
<line x1="383.05" y1="696.15" x2="386.25" y2="696.15" stroke="#111" stroke-width="0.8"/>
<line x1="383.05" y1="701.15" x2="386.25" y2="701.15" stroke="#111" stroke-width="0.8"/>
<rect x="399.20" y="691.39" width="6.40" height="32.31" fill="#d87a8e"/>
<line x1="402.40" y1="689.89" x2="402.40" y2="692.89" stroke="#111" stroke-width="0.7"/>
<line x1="400.80" y1="689.89" x2="404.00" y2="689.89" stroke="#111" stroke-width="0.8"/>
<line x1="400.80" y1="692.89" x2="404.00" y2="692.89" stroke="#111" stroke-width="0.8"/>
<rect x="408.50" y="685.59" width="6.90" height="38.12" fill="#a50a33"/>
<line x1="411.95" y1="682.09" x2="411.95" y2="689.09" stroke="#111" stroke-width="0.7"/>
<line x1="410.35" y1="682.09" x2="413.55" y2="682.09" stroke="#111" stroke-width="0.8"/>
<line x1="410.35" y1="689.09" x2="413.55" y2="689.09" stroke="#111" stroke-width="0.8"/>
<rect x="425.80" y="694.42" width="6.60" height="29.28" fill="#d87a8e"/>
<line x1="429.10" y1="691.92" x2="429.10" y2="696.92" stroke="#111" stroke-width="0.7"/>
<line x1="427.50" y1="691.92" x2="430.70" y2="691.92" stroke="#111" stroke-width="0.8"/>
<line x1="427.50" y1="696.92" x2="430.70" y2="696.92" stroke="#111" stroke-width="0.8"/>
<rect x="435.30" y="669.86" width="7.20" height="53.85" fill="#a50a33"/>
<line x1="438.90" y1="661.56" x2="438.90" y2="678.15" stroke="#111" stroke-width="0.7"/>
<line x1="437.30" y1="661.56" x2="440.50" y2="661.56" stroke="#111" stroke-width="0.8"/>
<line x1="437.30" y1="678.15" x2="440.50" y2="678.15" stroke="#111" stroke-width="0.8"/>
<rect x="453.20" y="692.85" width="6.60" height="30.86" fill="#d87a8e"/>
<line x1="456.50" y1="690.35" x2="456.50" y2="695.35" stroke="#111" stroke-width="0.7"/>
<line x1="454.90" y1="690.35" x2="458.10" y2="690.35" stroke="#111" stroke-width="0.8"/>
<line x1="454.90" y1="695.35" x2="458.10" y2="695.35" stroke="#111" stroke-width="0.8"/>
<rect x="462.70" y="662.96" width="7.50" height="60.74" fill="#a50a33"/>
<line x1="466.45" y1="660.16" x2="466.45" y2="665.76" stroke="#111" stroke-width="0.7"/>
<line x1="464.85" y1="660.16" x2="468.05" y2="660.16" stroke="#111" stroke-width="0.8"/>
<line x1="464.85" y1="665.76" x2="468.05" y2="665.76" stroke="#111" stroke-width="0.8"/>
<line x1="379.00" y1="723.70" x2="379.00" y2="725.90" stroke="#111" stroke-width="0.8"/>
<text x="379.00" y="734.00" font-size="4.0" text-anchor="middle" stroke="#111" stroke-width="0.13">300*</text>
<line x1="406.40" y1="723.70" x2="406.40" y2="725.90" stroke="#111" stroke-width="0.8"/>
<text x="406.40" y="734.00" font-size="4.0" text-anchor="middle" stroke="#111" stroke-width="0.13">450</text>
<line x1="433.80" y1="723.70" x2="433.80" y2="725.90" stroke="#111" stroke-width="0.8"/>
<text x="433.80" y="734.00" font-size="4.0" text-anchor="middle" stroke="#111" stroke-width="0.13">600</text>
<line x1="461.20" y1="723.70" x2="461.20" y2="725.90" stroke="#111" stroke-width="0.8"/>
<text x="461.20" y="734.00" font-size="4.0" text-anchor="middle" stroke="#111" stroke-width="0.13">1000</text>
<path d="M429.0 657.5V656.0H439.0V657.5" fill="none" stroke="#111" stroke-width="0.7"/>
<text x="434.00" y="654.70" font-size="3.0" text-anchor="middle" stroke="#111" stroke-width="0.13">P=0.047</text>
<path d="M455.5 657.5V656.0H465.6V657.5" fill="none" stroke="#111" stroke-width="0.7"/>
<text x="460.55" y="654.70" font-size="3.0" text-anchor="middle" stroke="#111" stroke-width="0.13">P=0.0023</text>
<rect x="371.00" y="641.80" width="5.70" height="3.70" fill="#d87a8e"/>
<text x="379.50" y="644.80" font-size="3.0" stroke="#111" stroke-width="0.13">CTLL-2 GFP</text>
<rect x="371.00" y="648.80" width="5.70" height="3.70" fill="#a50a33"/>
<text x="379.50" y="651.80" font-size="3.0" stroke="#111" stroke-width="0.13">CTLL-2 TCL1A</text>
<text x="421.70" y="643.80" font-size="3.0" stroke="#111" stroke-width="0.13">* required dose for survival</text>
<text x="368.00" y="660.50" font-size="3.0" stroke="#111" stroke-width="0.13">n=3</text>
<text x="337.50" y="685.10" font-size="5.0" text-anchor="middle" stroke="#111" stroke-width="0.13" transform="rotate(-90 337.5 685.1)">Total cell number</text>
<text x="421.15" y="743.30" font-size="5.0" text-anchor="middle" stroke="#111" stroke-width="0.13" textLength="69" lengthAdjust="spacingAndGlyphs">IL-2 concentration (units/mL)</text>
<rect x="0" y="0" width="520" height="1" fill="#000"/><rect x="0" y="0" width="1.1" height="753" fill="#000"/><rect x="518.9" y="0" width="1.1" height="753" fill="#000"/><rect x="0" y="751.3" width="520" height="1.7" fill="#000"/>
</svg>
</body></html>
